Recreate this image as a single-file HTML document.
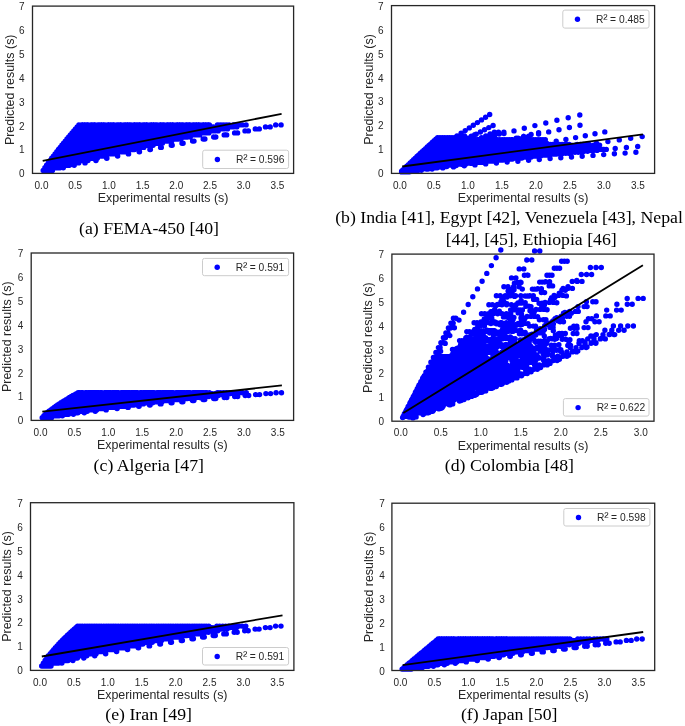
<!DOCTYPE html>
<html lang="en"><head><meta charset="utf-8"><title>Predicted vs experimental results</title>
<style>html,body{margin:0;padding:0;background:#fff}svg{display:block}</style></head>
<body>
<svg width="685" height="726" viewBox="0 0 685 726">
<rect width="685" height="726" fill="#fff"/>
<defs><filter id="n" x="0" y="0" width="100%" height="100%" filterUnits="userSpaceOnUse" color-interpolation-filters="sRGB"><feOffset dx="0" dy="0"/></filter></defs>
<g filter="url(#n)">
<g>
<path d="M43.2 170.4h0M43.3 170.4h0M43.4 170.4h0M43.5 170.4h0M43.6 170.4h0M43.7 170.4h0M43.8 170.4h0M44.0 170.4h0M44.1 170.4h0M44.2 170.4h0M44.3 170.4h0M44.4 170.4h0M44.5 170.4h0M44.6 170.4h0M44.7 170.4h0M44.8 170.4h0M44.9 170.4h0M45.0 170.4h0M45.1 170.4h0M45.2 170.4h0M45.4 170.4h0M45.5 170.4h0M45.6 170.4h0M45.7 170.4h0M45.8 170.4h0M45.9 170.4h0M46.0 170.4h0M46.1 170.4h0M46.2 170.4h0M46.3 170.4h0M46.4 170.4h0M46.5 170.4h0M46.6 170.4h0M46.8 170.4h0M46.9 170.4h0M47.0 170.4h0M47.1 170.4h0M47.2 170.4h0M47.3 170.4h0M47.4 170.4h0M47.5 170.4h0M47.6 170.4h0M47.7 170.4h0M47.8 170.4h0M47.9 170.4h0M48.1 170.4h0M48.2 170.4h0M48.3 170.4h0M48.4 170.4h0M48.5 170.4h0M48.6 170.4h0M48.7 170.4h0M48.8 170.4h0M48.9 170.4h0M49.0 170.4h0M49.1 170.4h0M49.5 170.4h0M49.6 170.4h0M49.8 170.4h0M49.9 170.4h0M50.0 170.4h0M50.2 170.4h0M50.4 170.4h0M50.5 170.4h0M50.6 170.4h0M50.8 170.4h0M52.4 170.4h0M44.9 167.8h0M45.1 167.8h0M45.3 167.8h0M45.5 167.8h0M45.8 167.8h0M46.0 167.8h0M46.2 167.8h0M46.4 167.8h0M46.6 167.8h0M46.8 167.8h0M47.1 167.8h0M47.3 167.8h0M47.5 167.8h0M47.7 167.8h0M47.9 167.8h0M48.1 167.8h0M48.3 167.8h0M48.6 167.8h0M48.8 167.8h0M49.0 167.8h0M49.2 167.8h0M49.4 167.8h0M49.6 167.8h0M49.9 167.8h0M50.1 167.8h0M50.3 167.8h0M50.5 167.8h0M50.7 167.8h0M50.9 167.8h0M51.2 167.8h0M51.4 167.8h0M51.6 167.8h0M51.8 167.8h0M52.0 167.8h0M52.2 167.8h0M52.4 167.8h0M52.7 167.8h0M52.9 167.8h0M53.1 167.8h0M53.3 167.8h0M53.5 167.8h0M53.7 167.8h0M54.0 167.8h0M54.2 167.8h0M54.4 167.8h0M54.6 167.8h0M54.8 167.8h0M55.0 167.8h0M55.2 167.8h0M55.5 167.8h0M55.7 167.8h0M55.9 167.8h0M56.1 167.8h0M56.3 167.8h0M56.5 167.8h0M56.8 167.8h0M57.5 167.8h0M57.7 167.8h0M58.0 167.8h0M58.3 167.8h0M58.6 167.8h0M59.0 167.8h0M59.2 167.8h0M59.5 167.8h0M59.8 167.8h0M60.1 167.8h0M63.3 167.8h0M46.6 165.3h0M46.9 165.3h0M47.2 165.3h0M47.6 165.3h0M47.9 165.3h0M48.2 165.3h0M48.5 165.3h0M48.9 165.3h0M49.2 165.3h0M49.5 165.3h0M49.8 165.3h0M50.2 165.3h0M50.5 165.3h0M50.8 165.3h0M51.1 165.3h0M51.4 165.3h0M51.8 165.3h0M52.1 165.3h0M52.4 165.3h0M52.7 165.3h0M53.1 165.3h0M53.4 165.3h0M53.7 165.3h0M54.0 165.3h0M54.4 165.3h0M54.7 165.3h0M55.0 165.3h0M55.3 165.3h0M55.7 165.3h0M56.0 165.3h0M56.3 165.3h0M56.6 165.3h0M56.9 165.3h0M57.3 165.3h0M57.6 165.3h0M57.9 165.3h0M58.2 165.3h0M58.6 165.3h0M58.9 165.3h0M59.2 165.3h0M59.5 165.3h0M59.9 165.3h0M60.2 165.3h0M60.5 165.3h0M60.8 165.3h0M61.2 165.3h0M61.5 165.3h0M61.8 165.3h0M62.1 165.3h0M62.4 165.3h0M62.8 165.3h0M63.1 165.3h0M63.4 165.3h0M63.7 165.3h0M64.1 165.3h0M64.4 165.3h0M65.5 165.3h0M65.9 165.3h0M66.3 165.3h0M66.7 165.3h0M67.1 165.3h0M67.7 165.3h0M68.1 165.3h0M68.5 165.3h0M68.9 165.3h0M69.4 165.3h0M74.2 165.3h0M48.3 162.9h0M48.7 162.9h0M49.2 162.9h0M49.6 162.9h0M50.0 162.9h0M50.5 162.9h0M50.9 162.9h0M51.3 162.9h0M51.7 162.9h0M52.2 162.9h0M52.6 162.9h0M53.0 162.9h0M53.5 162.9h0M53.9 162.9h0M54.3 162.9h0M54.8 162.9h0M55.2 162.9h0M55.6 162.9h0M56.1 162.9h0M56.5 162.9h0M56.9 162.9h0M57.4 162.9h0M57.8 162.9h0M58.2 162.9h0M58.6 162.9h0M59.1 162.9h0M59.5 162.9h0M59.9 162.9h0M60.4 162.9h0M60.8 162.9h0M61.2 162.9h0M61.7 162.9h0M62.1 162.9h0M62.5 162.9h0M63.0 162.9h0M63.4 162.9h0M63.8 162.9h0M64.3 162.9h0M64.7 162.9h0M65.1 162.9h0M65.5 162.9h0M66.0 162.9h0M66.4 162.9h0M66.8 162.9h0M67.3 162.9h0M67.7 162.9h0M68.1 162.9h0M68.6 162.9h0M69.0 162.9h0M69.4 162.9h0M69.9 162.9h0M70.3 162.9h0M70.7 162.9h0M71.2 162.9h0M71.6 162.9h0M72.0 162.9h0M73.5 162.9h0M74.0 162.9h0M74.5 162.9h0M75.1 162.9h0M75.6 162.9h0M76.4 162.9h0M77.0 162.9h0M77.5 162.9h0M78.0 162.9h0M78.7 162.9h0M85.1 162.9h0M85.0 162.9h0M50.0 160.6h0M50.5 160.6h0M51.1 160.6h0M51.6 160.6h0M52.1 160.6h0M52.7 160.6h0M53.2 160.6h0M53.8 160.6h0M54.3 160.6h0M54.8 160.6h0M55.4 160.6h0M55.9 160.6h0M56.5 160.6h0M57.0 160.6h0M57.5 160.6h0M58.1 160.6h0M58.6 160.6h0M59.2 160.6h0M59.7 160.6h0M60.2 160.6h0M60.8 160.6h0M61.3 160.6h0M61.9 160.6h0M62.4 160.6h0M62.9 160.6h0M63.5 160.6h0M64.0 160.6h0M64.6 160.6h0M65.1 160.6h0M65.6 160.6h0M66.2 160.6h0M66.7 160.6h0M67.2 160.6h0M67.8 160.6h0M68.3 160.6h0M68.9 160.6h0M69.4 160.6h0M69.9 160.6h0M70.5 160.6h0M71.0 160.6h0M71.6 160.6h0M72.1 160.6h0M72.6 160.6h0M73.2 160.6h0M73.7 160.6h0M74.3 160.6h0M74.8 160.6h0M75.3 160.6h0M75.9 160.6h0M76.4 160.6h0M77.0 160.6h0M77.5 160.6h0M78.0 160.6h0M78.6 160.6h0M79.1 160.6h0M79.6 160.6h0M81.5 160.6h0M82.1 160.6h0M82.8 160.6h0M83.5 160.6h0M84.1 160.6h0M85.1 160.6h0M85.8 160.6h0M86.5 160.6h0M87.2 160.6h0M88.0 160.6h0M96.0 160.6h0M95.9 160.6h0M51.7 158.3h0M52.3 158.3h0M53.0 158.3h0M53.6 158.3h0M54.3 158.3h0M54.9 158.3h0M55.6 158.3h0M56.2 158.3h0M56.9 158.3h0M57.5 158.3h0M58.2 158.3h0M58.8 158.3h0M59.5 158.3h0M60.1 158.3h0M60.7 158.3h0M61.4 158.3h0M62.0 158.3h0M62.7 158.3h0M63.3 158.3h0M64.0 158.3h0M64.6 158.3h0M65.3 158.3h0M65.9 158.3h0M66.6 158.3h0M67.2 158.3h0M67.9 158.3h0M68.5 158.3h0M69.2 158.3h0M69.8 158.3h0M70.5 158.3h0M71.1 158.3h0M71.7 158.3h0M72.4 158.3h0M73.0 158.3h0M73.7 158.3h0M74.3 158.3h0M75.0 158.3h0M75.6 158.3h0M76.3 158.3h0M76.9 158.3h0M77.6 158.3h0M78.2 158.3h0M78.9 158.3h0M79.5 158.3h0M80.2 158.3h0M80.8 158.3h0M81.5 158.3h0M82.1 158.3h0M82.7 158.3h0M83.4 158.3h0M84.0 158.3h0M84.7 158.3h0M85.3 158.3h0M86.0 158.3h0M86.6 158.3h0M87.3 158.3h0M89.5 158.3h0M90.2 158.3h0M91.0 158.3h0M91.8 158.3h0M92.7 158.3h0M93.9 158.3h0M94.7 158.3h0M95.5 158.3h0M96.3 158.3h0M97.3 158.3h0M106.9 158.3h0M106.7 158.3h0M53.4 156.1h0M54.1 156.1h0M54.9 156.1h0M55.7 156.1h0M56.4 156.1h0M57.2 156.1h0M57.9 156.1h0M58.7 156.1h0M59.4 156.1h0M60.2 156.1h0M60.9 156.1h0M61.7 156.1h0M62.4 156.1h0M63.2 156.1h0M64.0 156.1h0M64.7 156.1h0M65.5 156.1h0M66.2 156.1h0M67.0 156.1h0M67.7 156.1h0M68.5 156.1h0M69.2 156.1h0M70.0 156.1h0M70.8 156.1h0M71.5 156.1h0M72.3 156.1h0M73.0 156.1h0M73.8 156.1h0M74.5 156.1h0M75.3 156.1h0M76.0 156.1h0M76.8 156.1h0M77.5 156.1h0M78.3 156.1h0M79.1 156.1h0M79.8 156.1h0M80.6 156.1h0M81.3 156.1h0M82.1 156.1h0M82.8 156.1h0M83.6 156.1h0M84.3 156.1h0M85.1 156.1h0M85.8 156.1h0M86.6 156.1h0M87.4 156.1h0M88.1 156.1h0M88.9 156.1h0M89.6 156.1h0M90.4 156.1h0M91.1 156.1h0M91.9 156.1h0M92.6 156.1h0M93.4 156.1h0M94.2 156.1h0M94.9 156.1h0M97.5 156.1h0M98.4 156.1h0M99.3 156.1h0M100.2 156.1h0M101.2 156.1h0M102.6 156.1h0M103.5 156.1h0M104.5 156.1h0M105.4 156.1h0M106.6 156.1h0M117.7 156.1h0M117.6 156.1h0M55.1 153.9h0M56.0 153.9h0M56.8 153.9h0M57.7 153.9h0M58.5 153.9h0M59.4 153.9h0M60.3 153.9h0M61.1 153.9h0M62.0 153.9h0M62.9 153.9h0M63.7 153.9h0M64.6 153.9h0M65.4 153.9h0M66.3 153.9h0M67.2 153.9h0M68.0 153.9h0M68.9 153.9h0M69.8 153.9h0M70.6 153.9h0M71.5 153.9h0M72.3 153.9h0M73.2 153.9h0M74.1 153.9h0M74.9 153.9h0M75.8 153.9h0M76.7 153.9h0M77.5 153.9h0M78.4 153.9h0M79.2 153.9h0M80.1 153.9h0M81.0 153.9h0M81.8 153.9h0M82.7 153.9h0M83.6 153.9h0M84.4 153.9h0M85.3 153.9h0M86.1 153.9h0M87.0 153.9h0M87.9 153.9h0M88.7 153.9h0M89.6 153.9h0M90.5 153.9h0M91.3 153.9h0M92.2 153.9h0M93.0 153.9h0M93.9 153.9h0M94.8 153.9h0M95.6 153.9h0M96.5 153.9h0M97.4 153.9h0M98.2 153.9h0M99.1 153.9h0M99.9 153.9h0M100.8 153.9h0M101.7 153.9h0M102.5 153.9h0M105.4 153.9h0M106.5 153.9h0M107.6 153.9h0M108.6 153.9h0M109.7 153.9h0M111.3 153.9h0M112.4 153.9h0M113.5 153.9h0M114.6 153.9h0M115.9 153.9h0M128.6 153.9h0M128.4 153.9h0M56.8 151.7h0M57.8 151.7h0M58.7 151.7h0M59.7 151.7h0M60.7 151.7h0M61.6 151.7h0M62.6 151.7h0M63.6 151.7h0M64.6 151.7h0M65.5 151.7h0M66.5 151.7h0M67.5 151.7h0M68.4 151.7h0M69.4 151.7h0M70.4 151.7h0M71.3 151.7h0M72.3 151.7h0M73.3 151.7h0M74.3 151.7h0M75.2 151.7h0M76.2 151.7h0M77.2 151.7h0M78.1 151.7h0M79.1 151.7h0M80.1 151.7h0M81.1 151.7h0M82.0 151.7h0M83.0 151.7h0M84.0 151.7h0M84.9 151.7h0M85.9 151.7h0M86.9 151.7h0M87.8 151.7h0M88.8 151.7h0M89.8 151.7h0M90.8 151.7h0M91.7 151.7h0M92.7 151.7h0M93.7 151.7h0M94.6 151.7h0M95.6 151.7h0M96.6 151.7h0M97.5 151.7h0M98.5 151.7h0M99.5 151.7h0M100.5 151.7h0M101.4 151.7h0M102.4 151.7h0M103.4 151.7h0M104.3 151.7h0M105.3 151.7h0M106.3 151.7h0M107.3 151.7h0M108.2 151.7h0M109.2 151.7h0M110.2 151.7h0M113.4 151.7h0M114.6 151.7h0M115.8 151.7h0M117.0 151.7h0M118.2 151.7h0M120.1 151.7h0M121.3 151.7h0M122.5 151.7h0M123.7 151.7h0M125.2 151.7h0M139.5 151.7h0M139.2 151.7h0M58.5 149.5h0M59.6 149.5h0M60.6 149.5h0M61.7 149.5h0M62.8 149.5h0M63.9 149.5h0M65.0 149.5h0M66.0 149.5h0M67.1 149.5h0M68.2 149.5h0M69.3 149.5h0M70.3 149.5h0M71.4 149.5h0M72.5 149.5h0M73.6 149.5h0M74.7 149.5h0M75.7 149.5h0M76.8 149.5h0M77.9 149.5h0M79.0 149.5h0M80.1 149.5h0M81.1 149.5h0M82.2 149.5h0M83.3 149.5h0M84.4 149.5h0M85.4 149.5h0M86.5 149.5h0M87.6 149.5h0M88.7 149.5h0M89.8 149.5h0M90.8 149.5h0M91.9 149.5h0M93.0 149.5h0M94.1 149.5h0M95.2 149.5h0M96.2 149.5h0M97.3 149.5h0M98.4 149.5h0M99.5 149.5h0M100.5 149.5h0M101.6 149.5h0M102.7 149.5h0M103.8 149.5h0M104.9 149.5h0M105.9 149.5h0M107.0 149.5h0M108.1 149.5h0M109.2 149.5h0M110.2 149.5h0M111.3 149.5h0M112.4 149.5h0M113.5 149.5h0M114.6 149.5h0M115.6 149.5h0M116.7 149.5h0M117.8 149.5h0M121.4 149.5h0M122.7 149.5h0M124.1 149.5h0M125.4 149.5h0M126.8 149.5h0M128.8 149.5h0M130.1 149.5h0M131.5 149.5h0M132.8 149.5h0M134.5 149.5h0M150.4 149.5h0M149.9 149.5h0M60.2 147.4h0M61.4 147.4h0M62.6 147.4h0M63.7 147.4h0M64.9 147.4h0M66.1 147.4h0M67.3 147.4h0M68.5 147.4h0M69.7 147.4h0M70.9 147.4h0M72.0 147.4h0M73.2 147.4h0M74.4 147.4h0M75.6 147.4h0M76.8 147.4h0M78.0 147.4h0M79.2 147.4h0M80.3 147.4h0M81.5 147.4h0M82.7 147.4h0M83.9 147.4h0M85.1 147.4h0M86.3 147.4h0M87.5 147.4h0M88.7 147.4h0M89.8 147.4h0M91.0 147.4h0M92.2 147.4h0M93.4 147.4h0M94.6 147.4h0M95.8 147.4h0M97.0 147.4h0M98.1 147.4h0M99.3 147.4h0M100.5 147.4h0M101.7 147.4h0M102.9 147.4h0M104.1 147.4h0M105.3 147.4h0M106.4 147.4h0M107.6 147.4h0M108.8 147.4h0M110.0 147.4h0M111.2 147.4h0M112.4 147.4h0M113.6 147.4h0M114.8 147.4h0M115.9 147.4h0M117.1 147.4h0M118.3 147.4h0M119.5 147.4h0M120.7 147.4h0M121.9 147.4h0M123.1 147.4h0M124.2 147.4h0M125.4 147.4h0M129.4 147.4h0M130.8 147.4h0M132.3 147.4h0M133.8 147.4h0M135.3 147.4h0M137.5 147.4h0M139.0 147.4h0M140.5 147.4h0M142.0 147.4h0M143.8 147.4h0M161.3 147.4h0M160.6 147.4h0M61.9 145.3h0M63.2 145.3h0M64.5 145.3h0M65.8 145.3h0M67.1 145.3h0M68.4 145.3h0M69.6 145.3h0M70.9 145.3h0M72.2 145.3h0M73.5 145.3h0M74.8 145.3h0M76.1 145.3h0M77.4 145.3h0M78.7 145.3h0M80.0 145.3h0M81.3 145.3h0M82.6 145.3h0M83.9 145.3h0M85.2 145.3h0M86.5 145.3h0M87.8 145.3h0M89.1 145.3h0M90.4 145.3h0M91.6 145.3h0M92.9 145.3h0M94.2 145.3h0M95.5 145.3h0M96.8 145.3h0M98.1 145.3h0M99.4 145.3h0M100.7 145.3h0M102.0 145.3h0M103.3 145.3h0M104.6 145.3h0M105.9 145.3h0M107.2 145.3h0M108.5 145.3h0M109.8 145.3h0M111.1 145.3h0M112.4 145.3h0M113.6 145.3h0M114.9 145.3h0M116.2 145.3h0M117.5 145.3h0M118.8 145.3h0M120.1 145.3h0M121.4 145.3h0M122.7 145.3h0M124.0 145.3h0M125.3 145.3h0M126.6 145.3h0M127.9 145.3h0M129.2 145.3h0M130.5 145.3h0M131.8 145.3h0M133.1 145.3h0M137.4 145.3h0M139.0 145.3h0M140.6 145.3h0M142.2 145.3h0M143.8 145.3h0M146.2 145.3h0M147.9 145.3h0M149.5 145.3h0M151.1 145.3h0M153.1 145.3h0M172.2 145.3h0M171.3 145.3h0M63.6 143.2h0M65.0 143.2h0M66.4 143.2h0M67.8 143.2h0M69.2 143.2h0M70.6 143.2h0M72.0 143.2h0M73.4 143.2h0M74.8 143.2h0M76.2 143.2h0M77.6 143.2h0M79.0 143.2h0M80.4 143.2h0M81.8 143.2h0M83.2 143.2h0M84.6 143.2h0M86.0 143.2h0M87.4 143.2h0M88.8 143.2h0M90.2 143.2h0M91.6 143.2h0M93.0 143.2h0M94.4 143.2h0M95.8 143.2h0M97.2 143.2h0M98.6 143.2h0M100.0 143.2h0M101.4 143.2h0M102.8 143.2h0M104.2 143.2h0M105.6 143.2h0M107.0 143.2h0M108.4 143.2h0M109.8 143.2h0M111.2 143.2h0M112.6 143.2h0M114.0 143.2h0M115.5 143.2h0M116.9 143.2h0M118.3 143.2h0M119.7 143.2h0M121.1 143.2h0M122.5 143.2h0M123.9 143.2h0M125.3 143.2h0M126.7 143.2h0M128.1 143.2h0M129.5 143.2h0M130.9 143.2h0M132.3 143.2h0M133.7 143.2h0M135.1 143.2h0M136.5 143.2h0M137.9 143.2h0M139.3 143.2h0M140.7 143.2h0M145.4 143.2h0M147.1 143.2h0M148.8 143.2h0M150.6 143.2h0M152.3 143.2h0M155.0 143.2h0M156.7 143.2h0M158.5 143.2h0M160.2 143.2h0M162.4 143.2h0M183.1 143.2h0M182.0 143.2h0M65.3 141.1h0M66.8 141.1h0M68.3 141.1h0M69.8 141.1h0M71.3 141.1h0M72.8 141.1h0M74.3 141.1h0M75.8 141.1h0M77.4 141.1h0M78.9 141.1h0M80.4 141.1h0M81.9 141.1h0M83.4 141.1h0M84.9 141.1h0M86.4 141.1h0M87.9 141.1h0M89.4 141.1h0M90.9 141.1h0M92.5 141.1h0M94.0 141.1h0M95.5 141.1h0M97.0 141.1h0M98.5 141.1h0M100.0 141.1h0M101.5 141.1h0M103.0 141.1h0M104.5 141.1h0M106.0 141.1h0M107.6 141.1h0M109.1 141.1h0M110.6 141.1h0M112.1 141.1h0M113.6 141.1h0M115.1 141.1h0M116.6 141.1h0M118.1 141.1h0M119.6 141.1h0M121.1 141.1h0M122.6 141.1h0M124.2 141.1h0M125.7 141.1h0M127.2 141.1h0M128.7 141.1h0M130.2 141.1h0M131.7 141.1h0M133.2 141.1h0M134.7 141.1h0M136.2 141.1h0M137.7 141.1h0M139.3 141.1h0M140.8 141.1h0M142.3 141.1h0M143.8 141.1h0M145.3 141.1h0M146.8 141.1h0M148.3 141.1h0M153.4 141.1h0M155.2 141.1h0M157.1 141.1h0M159.0 141.1h0M160.9 141.1h0M163.7 141.1h0M165.6 141.1h0M167.5 141.1h0M169.4 141.1h0M171.7 141.1h0M194.0 141.1h0M192.6 141.1h0M67.0 139.0h0M68.6 139.0h0M70.2 139.0h0M71.8 139.0h0M73.4 139.0h0M75.1 139.0h0M76.7 139.0h0M78.3 139.0h0M79.9 139.0h0M81.5 139.0h0M83.2 139.0h0M84.8 139.0h0M86.4 139.0h0M88.0 139.0h0M89.6 139.0h0M91.2 139.0h0M92.9 139.0h0M94.5 139.0h0M96.1 139.0h0M97.7 139.0h0M99.3 139.0h0M100.9 139.0h0M102.6 139.0h0M104.2 139.0h0M105.8 139.0h0M107.4 139.0h0M109.0 139.0h0M110.7 139.0h0M112.3 139.0h0M113.9 139.0h0M115.5 139.0h0M117.1 139.0h0M118.7 139.0h0M120.4 139.0h0M122.0 139.0h0M123.6 139.0h0M125.2 139.0h0M126.8 139.0h0M128.4 139.0h0M130.1 139.0h0M131.7 139.0h0M133.3 139.0h0M134.9 139.0h0M136.5 139.0h0M138.2 139.0h0M139.8 139.0h0M141.4 139.0h0M143.0 139.0h0M144.6 139.0h0M146.2 139.0h0M147.9 139.0h0M149.5 139.0h0M151.1 139.0h0M152.7 139.0h0M154.3 139.0h0M155.9 139.0h0M161.4 139.0h0M163.3 139.0h0M165.3 139.0h0M167.4 139.0h0M169.4 139.0h0M172.4 139.0h0M174.4 139.0h0M176.5 139.0h0M178.5 139.0h0M181.0 139.0h0M204.9 139.0h0M203.2 139.0h0M68.7 137.0h0M70.4 137.0h0M72.1 137.0h0M73.9 137.0h0M75.6 137.0h0M77.3 137.0h0M79.0 137.0h0M80.8 137.0h0M82.5 137.0h0M84.2 137.0h0M85.9 137.0h0M87.7 137.0h0M89.4 137.0h0M91.1 137.0h0M92.8 137.0h0M94.6 137.0h0M96.3 137.0h0M98.0 137.0h0M99.7 137.0h0M101.5 137.0h0M103.2 137.0h0M104.9 137.0h0M106.6 137.0h0M108.4 137.0h0M110.1 137.0h0M111.8 137.0h0M113.5 137.0h0M115.3 137.0h0M117.0 137.0h0M118.7 137.0h0M120.4 137.0h0M122.2 137.0h0M123.9 137.0h0M125.6 137.0h0M127.3 137.0h0M129.1 137.0h0M130.8 137.0h0M132.5 137.0h0M134.2 137.0h0M136.0 137.0h0M137.7 137.0h0M139.4 137.0h0M141.1 137.0h0M142.9 137.0h0M144.6 137.0h0M146.3 137.0h0M148.0 137.0h0M149.8 137.0h0M151.5 137.0h0M153.2 137.0h0M154.9 137.0h0M156.7 137.0h0M158.4 137.0h0M160.1 137.0h0M161.8 137.0h0M163.6 137.0h0M169.4 137.0h0M171.4 137.0h0M173.6 137.0h0M175.8 137.0h0M177.9 137.0h0M181.2 137.0h0M183.3 137.0h0M185.5 137.0h0M187.6 137.0h0M190.3 137.0h0M215.8 137.0h0M213.7 137.0h0M70.4 134.9h0M72.2 134.9h0M74.0 134.9h0M75.9 134.9h0M77.7 134.9h0M79.5 134.9h0M81.4 134.9h0M83.2 134.9h0M85.0 134.9h0M86.9 134.9h0M88.7 134.9h0M90.5 134.9h0M92.4 134.9h0M94.2 134.9h0M96.0 134.9h0M97.9 134.9h0M99.7 134.9h0M101.5 134.9h0M103.4 134.9h0M105.2 134.9h0M107.0 134.9h0M108.9 134.9h0M110.7 134.9h0M112.5 134.9h0M114.4 134.9h0M116.2 134.9h0M118.0 134.9h0M119.9 134.9h0M121.7 134.9h0M123.5 134.9h0M125.4 134.9h0M127.2 134.9h0M129.0 134.9h0M130.9 134.9h0M132.7 134.9h0M134.5 134.9h0M136.4 134.9h0M138.2 134.9h0M140.0 134.9h0M141.9 134.9h0M143.7 134.9h0M145.5 134.9h0M147.4 134.9h0M149.2 134.9h0M151.0 134.9h0M152.9 134.9h0M154.7 134.9h0M156.5 134.9h0M158.4 134.9h0M160.2 134.9h0M162.0 134.9h0M163.9 134.9h0M165.7 134.9h0M167.5 134.9h0M169.4 134.9h0M171.2 134.9h0M177.4 134.9h0M179.6 134.9h0M181.9 134.9h0M184.2 134.9h0M186.4 134.9h0M189.9 134.9h0M192.2 134.9h0M194.5 134.9h0M196.8 134.9h0M199.6 134.9h0M226.7 134.9h0M224.2 134.9h0M72.1 132.9h0M74.0 132.9h0M76.0 132.9h0M77.9 132.9h0M79.8 132.9h0M81.8 132.9h0M83.7 132.9h0M85.7 132.9h0M87.6 132.9h0M89.5 132.9h0M91.5 132.9h0M93.4 132.9h0M95.4 132.9h0M97.3 132.9h0M99.2 132.9h0M101.2 132.9h0M103.1 132.9h0M105.1 132.9h0M107.0 132.9h0M109.0 132.9h0M110.9 132.9h0M112.8 132.9h0M114.8 132.9h0M116.7 132.9h0M118.7 132.9h0M120.6 132.9h0M122.5 132.9h0M124.5 132.9h0M126.4 132.9h0M128.4 132.9h0M130.3 132.9h0M132.2 132.9h0M134.2 132.9h0M136.1 132.9h0M138.1 132.9h0M140.0 132.9h0M142.0 132.9h0M143.9 132.9h0M145.8 132.9h0M147.8 132.9h0M149.7 132.9h0M151.7 132.9h0M153.6 132.9h0M155.5 132.9h0M157.5 132.9h0M159.4 132.9h0M161.4 132.9h0M163.3 132.9h0M165.2 132.9h0M167.2 132.9h0M169.1 132.9h0M171.1 132.9h0M173.0 132.9h0M175.0 132.9h0M176.9 132.9h0M178.8 132.9h0M185.4 132.9h0M187.7 132.9h0M190.1 132.9h0M192.5 132.9h0M195.0 132.9h0M198.6 132.9h0M201.0 132.9h0M203.5 132.9h0M205.9 132.9h0M208.9 132.9h0M237.6 132.9h0M234.6 132.9h0M73.8 130.9h0M75.8 130.9h0M77.9 130.9h0M79.9 130.9h0M82.0 130.9h0M84.0 130.9h0M86.1 130.9h0M88.1 130.9h0M90.2 130.9h0M92.2 130.9h0M94.3 130.9h0M96.3 130.9h0M98.4 130.9h0M100.4 130.9h0M102.5 130.9h0M104.5 130.9h0M106.6 130.9h0M108.6 130.9h0M110.7 130.9h0M112.7 130.9h0M114.8 130.9h0M116.8 130.9h0M118.8 130.9h0M120.9 130.9h0M122.9 130.9h0M125.0 130.9h0M127.0 130.9h0M129.1 130.9h0M131.1 130.9h0M133.2 130.9h0M135.2 130.9h0M137.3 130.9h0M139.3 130.9h0M141.4 130.9h0M143.4 130.9h0M145.5 130.9h0M147.5 130.9h0M149.6 130.9h0M151.6 130.9h0M153.7 130.9h0M155.7 130.9h0M157.8 130.9h0M159.8 130.9h0M161.9 130.9h0M163.9 130.9h0M166.0 130.9h0M168.0 130.9h0M170.1 130.9h0M172.1 130.9h0M174.2 130.9h0M176.2 130.9h0M178.3 130.9h0M180.3 130.9h0M182.4 130.9h0M184.4 130.9h0M186.5 130.9h0M193.4 130.9h0M195.8 130.9h0M198.4 130.9h0M200.9 130.9h0M203.5 130.9h0M207.3 130.9h0M209.9 130.9h0M212.5 130.9h0M215.0 130.9h0M218.2 130.9h0M248.4 130.9h0M245.0 130.9h0M75.5 128.9h0M77.6 128.9h0M79.8 128.9h0M81.9 128.9h0M84.1 128.9h0M86.3 128.9h0M88.4 128.9h0M90.6 128.9h0M92.7 128.9h0M94.9 128.9h0M97.0 128.9h0M99.2 128.9h0M101.4 128.9h0M103.5 128.9h0M105.7 128.9h0M107.8 128.9h0M110.0 128.9h0M112.1 128.9h0M114.3 128.9h0M116.4 128.9h0M118.6 128.9h0M120.8 128.9h0M122.9 128.9h0M125.1 128.9h0M127.2 128.9h0M129.4 128.9h0M131.5 128.9h0M133.7 128.9h0M135.9 128.9h0M138.0 128.9h0M140.2 128.9h0M142.3 128.9h0M144.5 128.9h0M146.6 128.9h0M148.8 128.9h0M151.0 128.9h0M153.1 128.9h0M155.3 128.9h0M157.4 128.9h0M159.6 128.9h0M161.7 128.9h0M163.9 128.9h0M166.1 128.9h0M168.2 128.9h0M170.4 128.9h0M172.5 128.9h0M174.7 128.9h0M176.8 128.9h0M179.0 128.9h0M181.2 128.9h0M183.3 128.9h0M185.5 128.9h0M187.6 128.9h0M189.8 128.9h0M191.9 128.9h0M194.1 128.9h0M201.4 128.9h0M203.9 128.9h0M206.6 128.9h0M209.3 128.9h0M212.0 128.9h0M216.1 128.9h0M218.8 128.9h0M221.5 128.9h0M224.2 128.9h0M227.5 128.9h0M259.3 128.9h0M255.3 128.9h0M77.2 126.9h0M79.4 126.9h0M81.7 126.9h0M84.0 126.9h0M86.2 126.9h0M88.5 126.9h0M90.8 126.9h0M93.0 126.9h0M95.3 126.9h0M97.5 126.9h0M99.8 126.9h0M102.1 126.9h0M104.3 126.9h0M106.6 126.9h0M108.9 126.9h0M111.1 126.9h0M113.4 126.9h0M115.7 126.9h0M117.9 126.9h0M120.2 126.9h0M122.5 126.9h0M124.7 126.9h0M127.0 126.9h0M129.3 126.9h0M131.5 126.9h0M133.8 126.9h0M136.0 126.9h0M138.3 126.9h0M140.6 126.9h0M142.8 126.9h0M145.1 126.9h0M147.4 126.9h0M149.6 126.9h0M151.9 126.9h0M154.2 126.9h0M156.4 126.9h0M158.7 126.9h0M161.0 126.9h0M163.2 126.9h0M165.5 126.9h0M167.8 126.9h0M170.0 126.9h0M172.3 126.9h0M174.5 126.9h0M176.8 126.9h0M179.1 126.9h0M181.3 126.9h0M183.6 126.9h0M185.9 126.9h0M188.1 126.9h0M190.4 126.9h0M192.7 126.9h0M194.9 126.9h0M197.2 126.9h0M199.5 126.9h0M201.7 126.9h0M209.4 126.9h0M212.1 126.9h0M214.9 126.9h0M217.7 126.9h0M220.5 126.9h0M224.8 126.9h0M227.6 126.9h0M230.5 126.9h0M233.3 126.9h0M236.8 126.9h0M270.2 126.9h0M265.5 126.9h0M78.9 124.9h0M81.2 124.9h0M83.6 124.9h0M86.0 124.9h0M88.4 124.9h0M90.7 124.9h0M93.1 124.9h0M95.5 124.9h0M97.8 124.9h0M100.2 124.9h0M102.6 124.9h0M105.0 124.9h0M107.3 124.9h0M109.7 124.9h0M112.1 124.9h0M114.5 124.9h0M116.8 124.9h0M119.2 124.9h0M121.6 124.9h0M123.9 124.9h0M126.3 124.9h0M128.7 124.9h0M131.1 124.9h0M133.4 124.9h0M135.8 124.9h0M138.2 124.9h0M140.6 124.9h0M142.9 124.9h0M145.3 124.9h0M147.7 124.9h0M150.0 124.9h0M152.4 124.9h0M154.8 124.9h0M157.2 124.9h0M159.5 124.9h0M161.9 124.9h0M164.3 124.9h0M166.6 124.9h0M169.0 124.9h0M171.4 124.9h0M173.8 124.9h0M176.1 124.9h0M178.5 124.9h0M180.9 124.9h0M183.3 124.9h0M185.6 124.9h0M188.0 124.9h0M190.4 124.9h0M192.7 124.9h0M195.1 124.9h0M197.5 124.9h0M199.9 124.9h0M202.2 124.9h0M204.6 124.9h0M207.0 124.9h0M209.4 124.9h0M217.4 124.9h0M220.2 124.9h0M223.1 124.9h0M226.1 124.9h0M229.1 124.9h0M233.5 124.9h0M236.5 124.9h0M239.5 124.9h0M242.4 124.9h0M246.1 124.9h0M281.1 124.9h0M275.7 124.9h0" stroke="#0000ff" stroke-width="5.4" stroke-linecap="round" fill="none"/>
<line x1="42.7" y1="160.9" x2="281.6" y2="113.8" stroke="#000" stroke-width="1.8"/>
<rect x="32.5" y="6.1" width="261.1" height="167.3" fill="none" stroke="#262626" stroke-width="1.3"/>
<text x="24.5" y="177.3" font-size="10" text-anchor="end" font-family="Liberation Sans, Arial, Helvetica, sans-serif" fill="#262626">0</text>
<text x="24.5" y="153.4" font-size="10" text-anchor="end" font-family="Liberation Sans, Arial, Helvetica, sans-serif" fill="#262626">1</text>
<text x="24.5" y="129.5" font-size="10" text-anchor="end" font-family="Liberation Sans, Arial, Helvetica, sans-serif" fill="#262626">2</text>
<text x="24.5" y="105.7" font-size="10" text-anchor="end" font-family="Liberation Sans, Arial, Helvetica, sans-serif" fill="#262626">3</text>
<text x="24.5" y="81.8" font-size="10" text-anchor="end" font-family="Liberation Sans, Arial, Helvetica, sans-serif" fill="#262626">4</text>
<text x="24.5" y="57.8" font-size="10" text-anchor="end" font-family="Liberation Sans, Arial, Helvetica, sans-serif" fill="#262626">5</text>
<text x="24.5" y="34.0" font-size="10" text-anchor="end" font-family="Liberation Sans, Arial, Helvetica, sans-serif" fill="#262626">6</text>
<text x="24.5" y="10.0" font-size="10" text-anchor="end" font-family="Liberation Sans, Arial, Helvetica, sans-serif" fill="#262626">7</text>
<text x="41.5" y="188.5" font-size="10" text-anchor="middle" font-family="Liberation Sans, Arial, Helvetica, sans-serif" fill="#262626">0.0</text>
<text x="75.2" y="188.5" font-size="10" text-anchor="middle" font-family="Liberation Sans, Arial, Helvetica, sans-serif" fill="#262626">0.5</text>
<text x="108.9" y="188.5" font-size="10" text-anchor="middle" font-family="Liberation Sans, Arial, Helvetica, sans-serif" fill="#262626">1.0</text>
<text x="142.6" y="188.5" font-size="10" text-anchor="middle" font-family="Liberation Sans, Arial, Helvetica, sans-serif" fill="#262626">1.5</text>
<text x="176.3" y="188.5" font-size="10" text-anchor="middle" font-family="Liberation Sans, Arial, Helvetica, sans-serif" fill="#262626">2.0</text>
<text x="210.0" y="188.5" font-size="10" text-anchor="middle" font-family="Liberation Sans, Arial, Helvetica, sans-serif" fill="#262626">2.5</text>
<text x="243.7" y="188.5" font-size="10" text-anchor="middle" font-family="Liberation Sans, Arial, Helvetica, sans-serif" fill="#262626">3.0</text>
<text x="277.4" y="188.5" font-size="10" text-anchor="middle" font-family="Liberation Sans, Arial, Helvetica, sans-serif" fill="#262626">3.5</text>
<text x="163.1" y="202.0" font-size="12.45" text-anchor="middle" font-family="Liberation Sans, Arial, Helvetica, sans-serif" fill="#262626">Experimental results (s)</text>
<text x="13.7" y="89.8" font-size="12.45" text-anchor="middle" font-family="Liberation Sans, Arial, Helvetica, sans-serif" fill="#262626" transform="rotate(-90 13.7 89.8)">Predicted results (s)</text>
<rect x="202.7" y="150.2" width="85.9" height="18.3" rx="2" fill="#fff" fill-opacity="0.8" stroke="#ccc" stroke-width="1"/>
<circle cx="217.4" cy="159.5" r="2.7" fill="#0000ff"/>
<text x="236.0" y="163.0" font-size="10.25" text-anchor="start" font-family="Liberation Sans, Arial, Helvetica, sans-serif" fill="#262626">R<tspan font-size="13" dy="0.4" dx="-0.2">²</tspan><tspan dy="-0.4" dx="-0.4"> = 0.596</tspan></text>
</g>
<g>
<path d="M401.6 171.5h0M403.3 169.7h0M405.0 168.0h0M406.8 166.3h0M408.5 164.7h0M410.2 163.0h0M411.9 161.4h0M413.6 159.7h0M415.3 158.1h0M417.0 156.5h0M418.7 154.9h0M420.5 153.3h0M422.2 151.7h0M423.9 150.2h0M425.6 148.6h0M427.3 147.0h0M429.0 145.4h0M430.7 143.9h0M432.5 142.3h0M434.2 140.8h0M435.9 139.2h0M437.6 137.7h0M401.6 171.6h0M403.3 170.0h0M405.0 168.3h0M406.8 166.8h0M408.5 165.2h0M410.2 163.6h0M411.9 162.1h0M413.6 160.6h0M415.3 159.0h0M417.0 157.5h0M418.7 156.0h0M420.5 154.5h0M422.2 153.0h0M423.9 151.6h0M425.6 150.1h0M427.3 148.6h0M429.0 147.1h0M430.7 145.7h0M432.5 144.2h0M434.2 142.7h0M435.9 141.3h0M437.6 139.8h0M401.6 171.7h0M403.3 170.1h0M405.0 168.6h0M406.8 167.1h0M408.5 165.6h0M410.2 164.1h0M411.9 162.7h0M413.6 161.2h0M415.3 159.8h0M417.0 158.3h0M418.7 156.9h0M420.5 155.5h0M422.2 154.1h0M423.9 152.6h0M425.6 151.2h0M427.3 149.8h0M429.0 148.4h0M430.7 147.1h0M432.5 145.7h0M434.2 144.3h0M435.9 142.9h0M437.6 141.5h0M401.6 171.9h0M403.3 170.4h0M405.0 169.0h0M406.8 167.7h0M408.5 166.3h0M410.2 165.0h0M411.9 163.6h0M413.6 162.3h0M415.3 161.0h0M417.0 159.7h0M418.7 158.4h0M420.5 157.1h0M422.2 155.8h0M423.9 154.5h0M425.6 153.2h0M427.3 152.0h0M429.0 150.7h0M430.7 149.4h0M432.5 148.2h0M434.2 146.9h0M435.9 145.6h0M437.6 144.4h0M401.6 171.2h0M403.3 169.6h0M405.0 168.1h0M408.5 165.5h0M410.2 164.2h0M411.9 163.0h0M413.6 161.9h0M415.3 160.7h0M417.0 159.6h0M418.7 158.5h0M420.5 157.5h0M422.2 156.4h0M423.9 155.4h0M425.6 154.3h0M427.3 153.3h0M429.0 152.3h0M430.7 151.4h0M432.5 150.4h0M434.2 149.4h0M435.9 148.5h0M437.6 147.5h0M401.6 171.4h0M403.3 169.9h0M406.8 167.3h0M408.5 166.1h0M411.9 163.9h0M413.6 162.8h0M415.3 161.8h0M417.0 160.8h0M418.7 159.8h0M420.5 158.8h0M422.2 157.8h0M423.9 156.9h0M425.6 155.9h0M427.3 155.0h0M429.0 154.1h0M430.7 153.2h0M432.5 152.3h0M434.2 151.4h0M435.9 150.5h0M437.6 149.7h0M403.3 170.3h0M405.0 169.1h0M406.8 168.0h0M408.5 167.0h0M410.2 165.9h0M411.9 165.0h0M413.6 164.0h0M415.3 163.1h0M417.0 162.2h0M418.7 161.3h0M420.5 160.4h0M422.2 159.6h0M423.9 158.7h0M425.6 157.9h0M427.3 157.0h0M429.0 156.2h0M430.7 155.4h0M432.5 154.6h0M434.2 153.9h0M435.9 153.1h0M437.6 152.3h0M401.7 171.5h0M403.5 169.7h0M405.4 168.0h0M407.2 166.3h0M409.0 164.7h0M410.8 163.0h0M412.7 161.4h0M414.5 159.7h0M416.3 158.1h0M418.1 156.5h0M419.9 154.9h0M421.8 153.3h0M423.6 151.7h0M425.4 150.2h0M427.2 148.6h0M429.1 147.0h0M430.9 145.4h0M432.7 143.9h0M434.5 142.3h0M436.3 140.8h0M438.2 139.2h0M440.0 137.7h0M401.7 171.6h0M403.5 170.0h0M405.4 168.3h0M407.2 166.8h0M409.0 165.2h0M410.8 163.6h0M412.7 162.1h0M414.5 160.6h0M416.3 159.0h0M418.1 157.5h0M419.9 156.0h0M421.8 154.5h0M423.6 153.0h0M425.4 151.6h0M427.2 150.1h0M429.1 148.6h0M430.9 147.1h0M432.7 145.7h0M434.5 144.2h0M436.3 142.7h0M438.2 141.3h0M440.0 139.8h0M401.7 171.7h0M403.5 170.1h0M405.4 168.6h0M407.2 167.1h0M409.0 165.6h0M410.8 164.1h0M412.7 162.7h0M414.5 161.2h0M416.3 159.8h0M418.1 158.3h0M419.9 156.9h0M421.8 155.5h0M423.6 154.1h0M425.4 152.6h0M427.2 151.2h0M429.1 149.8h0M430.9 148.4h0M432.7 147.1h0M434.5 145.7h0M436.3 144.3h0M438.2 142.9h0M440.0 141.5h0M401.7 171.9h0M403.5 170.4h0M405.4 169.0h0M407.2 167.7h0M409.0 166.3h0M410.8 165.0h0M412.7 163.6h0M414.5 162.3h0M416.3 161.0h0M418.1 159.7h0M419.9 158.4h0M421.8 157.1h0M423.6 155.8h0M425.4 154.5h0M427.2 153.2h0M429.1 152.0h0M430.9 150.7h0M432.7 149.4h0M434.5 148.2h0M436.3 146.9h0M438.2 145.6h0M440.0 144.4h0M401.7 171.2h0M403.5 169.6h0M405.4 168.1h0M409.0 165.5h0M410.8 164.2h0M412.7 163.0h0M414.5 161.9h0M416.3 160.7h0M418.1 159.6h0M419.9 158.5h0M421.8 157.5h0M423.6 156.4h0M425.4 155.4h0M427.2 154.3h0M429.1 153.3h0M430.9 152.3h0M432.7 151.4h0M434.5 150.4h0M436.3 149.4h0M438.2 148.5h0M440.0 147.5h0M401.7 171.4h0M403.5 169.9h0M407.2 167.3h0M409.0 166.1h0M412.7 163.9h0M414.5 162.8h0M416.3 161.8h0M418.1 160.8h0M419.9 159.8h0M421.8 158.8h0M423.6 157.8h0M425.4 156.9h0M427.2 155.9h0M429.1 155.0h0M430.9 154.1h0M432.7 153.2h0M434.5 152.3h0M436.3 151.4h0M438.2 150.5h0M440.0 149.7h0M403.5 170.3h0M405.4 169.1h0M407.2 168.0h0M409.0 167.0h0M410.8 165.9h0M412.7 165.0h0M414.5 164.0h0M416.3 163.1h0M418.1 162.2h0M419.9 161.3h0M421.8 160.4h0M423.6 159.6h0M425.4 158.7h0M427.2 157.9h0M429.1 157.0h0M430.9 156.2h0M432.7 155.4h0M434.5 154.6h0M436.3 153.9h0M438.2 153.1h0M440.0 152.3h0M401.8 171.5h0M403.8 169.7h0M405.7 168.0h0M407.6 166.3h0M409.6 164.7h0M411.5 163.0h0M413.4 161.4h0M415.3 159.7h0M417.3 158.1h0M419.2 156.5h0M421.1 154.9h0M423.1 153.3h0M425.0 151.7h0M426.9 150.2h0M428.9 148.6h0M430.8 147.0h0M432.7 145.4h0M434.7 143.9h0M436.6 142.3h0M438.5 140.8h0M440.5 139.2h0M442.4 137.7h0M401.8 171.6h0M403.8 170.0h0M405.7 168.3h0M407.6 166.8h0M409.6 165.2h0M411.5 163.6h0M413.4 162.1h0M415.3 160.6h0M417.3 159.0h0M419.2 157.5h0M421.1 156.0h0M423.1 154.5h0M425.0 153.0h0M426.9 151.6h0M428.9 150.1h0M430.8 148.6h0M434.7 145.7h0M436.6 144.2h0M438.5 142.7h0M440.5 141.3h0M442.4 139.8h0M401.8 171.7h0M403.8 170.1h0M405.7 168.6h0M407.6 167.1h0M409.6 165.6h0M411.5 164.1h0M413.4 162.7h0M415.3 161.2h0M417.3 159.8h0M419.2 158.3h0M421.1 156.9h0M423.1 155.5h0M425.0 154.1h0M426.9 152.6h0M428.9 151.2h0M430.8 149.8h0M432.7 148.4h0M434.7 147.1h0M436.6 145.7h0M438.5 144.3h0M440.5 142.9h0M442.4 141.5h0M401.8 171.9h0M403.8 170.4h0M405.7 169.0h0M407.6 167.7h0M409.6 166.3h0M411.5 165.0h0M413.4 163.6h0M415.3 162.3h0M417.3 161.0h0M419.2 159.7h0M421.1 158.4h0M423.1 157.1h0M425.0 155.8h0M426.9 154.5h0M428.9 153.2h0M430.8 152.0h0M432.7 150.7h0M434.7 149.4h0M436.6 148.2h0M438.5 146.9h0M440.5 145.6h0M442.4 144.4h0M401.8 171.2h0M403.8 169.6h0M405.7 168.1h0M409.6 165.5h0M411.5 164.2h0M413.4 163.0h0M415.3 161.9h0M417.3 160.7h0M419.2 159.6h0M421.1 158.5h0M423.1 157.5h0M425.0 156.4h0M426.9 155.4h0M428.9 154.3h0M430.8 153.3h0M432.7 152.3h0M434.7 151.4h0M436.6 150.4h0M438.5 149.4h0M440.5 148.5h0M442.4 147.5h0M401.8 171.4h0M403.8 169.9h0M407.6 167.3h0M409.6 166.1h0M413.4 163.9h0M415.3 162.8h0M417.3 161.8h0M419.2 160.8h0M421.1 159.8h0M423.1 158.8h0M425.0 157.8h0M426.9 156.9h0M428.9 155.9h0M430.8 155.0h0M432.7 154.1h0M434.7 153.2h0M436.6 152.3h0M438.5 151.4h0M440.5 150.5h0M442.4 149.7h0M403.8 170.3h0M405.7 169.1h0M407.6 168.0h0M409.6 167.0h0M411.5 165.9h0M413.4 165.0h0M415.3 164.0h0M417.3 163.1h0M419.2 162.2h0M421.1 161.3h0M423.1 160.4h0M425.0 159.6h0M426.9 158.7h0M428.9 157.9h0M430.8 157.0h0M432.7 156.2h0M434.7 155.4h0M436.6 154.6h0M438.5 153.9h0M440.5 153.1h0M442.4 152.3h0M401.9 171.5h0M404.0 169.7h0M406.0 168.0h0M408.1 166.3h0M410.1 164.7h0M412.1 163.0h0M414.2 161.4h0M416.2 159.7h0M418.3 158.1h0M420.3 156.5h0M422.3 154.9h0M424.4 153.3h0M426.4 151.7h0M428.5 150.2h0M430.5 148.6h0M432.5 147.0h0M434.6 145.4h0M436.6 143.9h0M438.7 142.3h0M440.7 140.8h0M442.7 139.2h0M444.8 137.7h0M401.9 171.6h0M404.0 170.0h0M406.0 168.3h0M408.1 166.8h0M410.1 165.2h0M412.1 163.6h0M414.2 162.1h0M416.2 160.6h0M418.3 159.0h0M420.3 157.5h0M422.3 156.0h0M424.4 154.5h0M426.4 153.0h0M428.5 151.6h0M430.5 150.1h0M432.5 148.6h0M434.6 147.1h0M438.7 144.2h0M440.7 142.7h0M442.7 141.3h0M444.8 139.8h0M401.9 171.7h0M404.0 170.1h0M406.0 168.6h0M408.1 167.1h0M410.1 165.6h0M412.1 164.1h0M414.2 162.7h0M416.2 161.2h0M418.3 159.8h0M420.3 158.3h0M422.3 156.9h0M424.4 155.5h0M426.4 154.1h0M428.5 152.6h0M430.5 151.2h0M432.5 149.8h0M434.6 148.4h0M436.6 147.1h0M438.7 145.7h0M440.7 144.3h0M442.7 142.9h0M444.8 141.5h0M401.9 171.9h0M404.0 170.4h0M406.0 169.0h0M408.1 167.7h0M410.1 166.3h0M412.1 165.0h0M414.2 163.6h0M416.2 162.3h0M418.3 161.0h0M420.3 159.7h0M422.3 158.4h0M424.4 157.1h0M426.4 155.8h0M428.5 154.5h0M430.5 153.2h0M432.5 152.0h0M434.6 150.7h0M436.6 149.4h0M438.7 148.2h0M440.7 146.9h0M442.7 145.6h0M444.8 144.4h0M401.9 171.2h0M404.0 169.6h0M406.0 168.1h0M410.1 165.5h0M412.1 164.2h0M414.2 163.0h0M416.2 161.9h0M418.3 160.7h0M420.3 159.6h0M422.3 158.5h0M424.4 157.5h0M426.4 156.4h0M428.5 155.4h0M430.5 154.3h0M432.5 153.3h0M434.6 152.3h0M436.6 151.4h0M438.7 150.4h0M440.7 149.4h0M442.7 148.5h0M444.8 147.5h0M401.9 171.4h0M404.0 169.9h0M408.1 167.3h0M410.1 166.1h0M414.2 163.9h0M416.2 162.8h0M418.3 161.8h0M420.3 160.8h0M422.3 159.8h0M424.4 158.8h0M426.4 157.8h0M428.5 156.9h0M430.5 155.9h0M432.5 155.0h0M434.6 154.1h0M436.6 153.2h0M438.7 152.3h0M440.7 151.4h0M442.7 150.5h0M444.8 149.7h0M404.0 170.3h0M406.0 169.1h0M408.1 168.0h0M410.1 167.0h0M412.1 165.9h0M414.2 165.0h0M416.2 164.0h0M418.3 163.1h0M420.3 162.2h0M422.3 161.3h0M424.4 160.4h0M426.4 159.6h0M428.5 158.7h0M430.5 157.9h0M432.5 157.0h0M434.6 156.2h0M436.6 155.4h0M438.7 154.6h0M440.7 153.9h0M442.7 153.1h0M444.8 152.3h0M402.0 171.5h0M404.2 169.7h0M406.3 168.0h0M410.6 164.7h0M412.8 163.0h0M414.9 161.4h0M417.1 159.7h0M419.2 158.1h0M421.4 156.5h0M423.5 154.9h0M425.7 153.3h0M427.8 151.7h0M430.0 150.2h0M432.1 148.6h0M434.3 147.0h0M436.4 145.4h0M438.6 143.9h0M440.7 142.3h0M442.9 140.8h0M445.0 139.2h0M447.2 137.7h0M402.0 171.6h0M404.2 170.0h0M406.3 168.3h0M408.5 166.8h0M410.6 165.2h0M412.8 163.6h0M414.9 162.1h0M417.1 160.6h0M419.2 159.0h0M421.4 157.5h0M423.5 156.0h0M425.7 154.5h0M427.8 153.0h0M430.0 151.6h0M432.1 150.1h0M434.3 148.6h0M436.4 147.1h0M438.6 145.7h0M440.7 144.2h0M442.9 142.7h0M445.0 141.3h0M447.2 139.8h0M402.0 171.7h0M404.2 170.1h0M406.3 168.6h0M408.5 167.1h0M410.6 165.6h0M412.8 164.1h0M414.9 162.7h0M417.1 161.2h0M419.2 159.8h0M421.4 158.3h0M423.5 156.9h0M425.7 155.5h0M427.8 154.1h0M430.0 152.6h0M432.1 151.2h0M434.3 149.8h0M436.4 148.4h0M438.6 147.1h0M440.7 145.7h0M442.9 144.3h0M445.0 142.9h0M447.2 141.5h0M402.0 171.9h0M404.2 170.4h0M406.3 169.0h0M408.5 167.7h0M410.6 166.3h0M412.8 165.0h0M414.9 163.6h0M417.1 162.3h0M419.2 161.0h0M421.4 159.7h0M423.5 158.4h0M425.7 157.1h0M427.8 155.8h0M430.0 154.5h0M432.1 153.2h0M434.3 152.0h0M436.4 150.7h0M438.6 149.4h0M440.7 148.2h0M442.9 146.9h0M445.0 145.6h0M447.2 144.4h0M402.0 171.2h0M404.2 169.6h0M406.3 168.1h0M410.6 165.5h0M412.8 164.2h0M414.9 163.0h0M417.1 161.9h0M419.2 160.7h0M421.4 159.6h0M423.5 158.5h0M425.7 157.5h0M427.8 156.4h0M430.0 155.4h0M432.1 154.3h0M434.3 153.3h0M436.4 152.3h0M438.6 151.4h0M440.7 150.4h0M442.9 149.4h0M445.0 148.5h0M447.2 147.5h0M402.0 171.4h0M404.2 169.9h0M408.5 167.3h0M410.6 166.1h0M414.9 163.9h0M417.1 162.8h0M419.2 161.8h0M421.4 160.8h0M423.5 159.8h0M425.7 158.8h0M427.8 157.8h0M430.0 156.9h0M432.1 155.9h0M434.3 155.0h0M436.4 154.1h0M438.6 153.2h0M440.7 152.3h0M442.9 151.4h0M445.0 150.5h0M447.2 149.7h0M404.2 170.3h0M406.3 169.1h0M408.5 168.0h0M410.6 167.0h0M412.8 165.9h0M414.9 165.0h0M417.1 164.0h0M419.2 163.1h0M421.4 162.2h0M423.5 161.3h0M425.7 160.4h0M427.8 159.6h0M430.0 158.7h0M432.1 157.9h0M434.3 157.0h0M436.4 156.2h0M438.6 155.4h0M440.7 154.6h0M442.9 153.9h0M445.0 153.1h0M447.2 152.3h0M402.2 171.5h0M404.4 169.7h0M406.7 168.0h0M408.9 166.3h0M411.2 164.7h0M415.7 161.4h0M418.0 159.7h0M420.2 158.1h0M422.5 156.5h0M424.7 154.9h0M427.0 153.3h0M429.2 151.7h0M431.5 150.2h0M433.8 148.6h0M436.0 147.0h0M438.3 145.4h0M440.5 143.9h0M442.8 142.3h0M445.1 140.8h0M447.3 139.2h0M449.6 137.7h0M402.2 171.6h0M404.4 170.0h0M406.7 168.3h0M408.9 166.8h0M411.2 165.2h0M415.7 162.1h0M418.0 160.6h0M420.2 159.0h0M422.5 157.5h0M424.7 156.0h0M427.0 154.5h0M429.2 153.0h0M431.5 151.6h0M433.8 150.1h0M436.0 148.6h0M438.3 147.1h0M440.5 145.7h0M442.8 144.2h0M445.1 142.7h0M447.3 141.3h0M449.6 139.8h0M402.2 171.7h0M404.4 170.1h0M406.7 168.6h0M408.9 167.1h0M411.2 165.6h0M413.4 164.1h0M415.7 162.7h0M418.0 161.2h0M420.2 159.8h0M422.5 158.3h0M424.7 156.9h0M427.0 155.5h0M429.2 154.1h0M431.5 152.6h0M433.8 151.2h0M436.0 149.8h0M438.3 148.4h0M440.5 147.1h0M442.8 145.7h0M445.1 144.3h0M447.3 142.9h0M449.6 141.5h0M402.2 171.9h0M404.4 170.4h0M406.7 169.0h0M408.9 167.7h0M411.2 166.3h0M415.7 163.6h0M418.0 162.3h0M420.2 161.0h0M422.5 159.7h0M424.7 158.4h0M427.0 157.1h0M429.2 155.8h0M431.5 154.5h0M433.8 153.2h0M436.0 152.0h0M438.3 150.7h0M440.5 149.4h0M442.8 148.2h0M445.1 146.9h0M447.3 145.6h0M449.6 144.4h0M402.2 171.2h0M404.4 169.6h0M406.7 168.1h0M411.2 165.5h0M413.4 164.2h0M415.7 163.0h0M418.0 161.9h0M420.2 160.7h0M422.5 159.6h0M424.7 158.5h0M427.0 157.5h0M429.2 156.4h0M431.5 155.4h0M433.8 154.3h0M436.0 153.3h0M438.3 152.3h0M440.5 151.4h0M442.8 150.4h0M445.1 149.4h0M447.3 148.5h0M449.6 147.5h0M402.2 171.4h0M404.4 169.9h0M408.9 167.3h0M411.2 166.1h0M415.7 163.9h0M418.0 162.8h0M420.2 161.8h0M422.5 160.8h0M424.7 159.8h0M427.0 158.8h0M429.2 157.8h0M431.5 156.9h0M433.8 155.9h0M436.0 155.0h0M438.3 154.1h0M440.5 153.2h0M442.8 152.3h0M445.1 151.4h0M447.3 150.5h0M449.6 149.7h0M404.4 170.3h0M406.7 169.1h0M408.9 168.0h0M411.2 167.0h0M413.4 165.9h0M415.7 165.0h0M418.0 164.0h0M420.2 163.1h0M422.5 162.2h0M424.7 161.3h0M427.0 160.4h0M429.2 159.6h0M431.5 158.7h0M433.8 157.9h0M436.0 157.0h0M438.3 156.2h0M440.5 155.4h0M442.8 154.6h0M445.1 153.9h0M447.3 153.1h0M449.6 152.3h0M402.3 171.5h0M404.6 169.7h0M407.0 168.0h0M409.4 166.3h0M411.7 164.7h0M414.1 163.0h0M416.5 161.4h0M418.8 159.7h0M421.2 158.1h0M423.6 156.5h0M425.9 154.9h0M428.3 153.3h0M430.7 151.7h0M433.0 150.2h0M435.4 148.6h0M437.8 147.0h0M440.1 145.4h0M442.5 143.9h0M444.9 142.3h0M447.2 140.8h0M449.6 139.2h0M452.0 137.7h0M402.3 171.6h0M404.6 170.0h0M407.0 168.3h0M409.4 166.8h0M411.7 165.2h0M414.1 163.6h0M416.5 162.1h0M418.8 160.6h0M421.2 159.0h0M423.6 157.5h0M425.9 156.0h0M428.3 154.5h0M430.7 153.0h0M433.0 151.6h0M435.4 150.1h0M437.8 148.6h0M440.1 147.1h0M442.5 145.7h0M444.9 144.2h0M447.2 142.7h0M449.6 141.3h0M452.0 139.8h0M402.3 171.7h0M404.6 170.1h0M407.0 168.6h0M409.4 167.1h0M411.7 165.6h0M414.1 164.1h0M416.5 162.7h0M418.8 161.2h0M421.2 159.8h0M423.6 158.3h0M425.9 156.9h0M428.3 155.5h0M430.7 154.1h0M433.0 152.6h0M435.4 151.2h0M437.8 149.8h0M440.1 148.4h0M442.5 147.1h0M444.9 145.7h0M447.2 144.3h0M449.6 142.9h0M452.0 141.5h0M402.3 171.9h0M404.6 170.4h0M407.0 169.0h0M409.4 167.7h0M411.7 166.3h0M414.1 165.0h0M416.5 163.6h0M418.8 162.3h0M421.2 161.0h0M423.6 159.7h0M425.9 158.4h0M428.3 157.1h0M430.7 155.8h0M433.0 154.5h0M435.4 153.2h0M437.8 152.0h0M440.1 150.7h0M442.5 149.4h0M444.9 148.2h0M447.2 146.9h0M449.6 145.6h0M452.0 144.4h0M402.3 171.2h0M404.6 169.6h0M407.0 168.1h0M411.7 165.5h0M414.1 164.2h0M416.5 163.0h0M418.8 161.9h0M421.2 160.7h0M425.9 158.5h0M428.3 157.5h0M430.7 156.4h0M433.0 155.4h0M435.4 154.3h0M437.8 153.3h0M440.1 152.3h0M442.5 151.4h0M444.9 150.4h0M447.2 149.4h0M449.6 148.5h0M452.0 147.5h0M402.3 171.4h0M404.6 169.9h0M409.4 167.3h0M411.7 166.1h0M416.5 163.9h0M418.8 162.8h0M421.2 161.8h0M423.6 160.8h0M425.9 159.8h0M428.3 158.8h0M430.7 157.8h0M433.0 156.9h0M435.4 155.9h0M437.8 155.0h0M440.1 154.1h0M442.5 153.2h0M444.9 152.3h0M447.2 151.4h0M449.6 150.5h0M452.0 149.7h0M404.6 170.3h0M407.0 169.1h0M409.4 168.0h0M411.7 167.0h0M414.1 165.9h0M416.5 165.0h0M418.8 164.0h0M421.2 163.1h0M423.6 162.2h0M425.9 161.3h0M428.3 160.4h0M430.7 159.6h0M433.0 158.7h0M435.4 157.9h0M437.8 157.0h0M440.1 156.2h0M442.5 155.4h0M444.9 154.6h0M447.2 153.9h0M449.6 153.1h0M452.0 152.3h0M402.4 171.5h0M404.9 169.7h0M407.3 168.0h0M409.8 166.3h0M412.3 164.7h0M414.8 163.0h0M417.2 161.4h0M419.7 159.7h0M422.2 158.1h0M424.7 156.5h0M427.1 154.9h0M429.6 153.3h0M432.1 151.7h0M434.6 150.2h0M437.0 148.6h0M439.5 147.0h0M442.0 145.4h0M444.5 143.9h0M446.9 142.3h0M449.4 140.8h0M451.9 139.2h0M454.4 137.7h0M402.4 171.6h0M404.9 170.0h0M407.3 168.3h0M409.8 166.8h0M412.3 165.2h0M414.8 163.6h0M417.2 162.1h0M419.7 160.6h0M422.2 159.0h0M424.7 157.5h0M427.1 156.0h0M429.6 154.5h0M432.1 153.0h0M434.6 151.6h0M437.0 150.1h0M439.5 148.6h0M442.0 147.1h0M444.5 145.7h0M446.9 144.2h0M449.4 142.7h0M451.9 141.3h0M454.4 139.8h0M402.4 171.7h0M404.9 170.1h0M407.3 168.6h0M409.8 167.1h0M412.3 165.6h0M414.8 164.1h0M417.2 162.7h0M419.7 161.2h0M422.2 159.8h0M424.7 158.3h0M427.1 156.9h0M429.6 155.5h0M432.1 154.1h0M434.6 152.6h0M437.0 151.2h0M439.5 149.8h0M442.0 148.4h0M444.5 147.1h0M446.9 145.7h0M449.4 144.3h0M451.9 142.9h0M454.4 141.5h0M402.4 171.9h0M404.9 170.4h0M407.3 169.0h0M409.8 167.7h0M412.3 166.3h0M414.8 165.0h0M417.2 163.6h0M419.7 162.3h0M422.2 161.0h0M424.7 159.7h0M427.1 158.4h0M429.6 157.1h0M432.1 155.8h0M434.6 154.5h0M437.0 153.2h0M439.5 152.0h0M442.0 150.7h0M444.5 149.4h0M446.9 148.2h0M449.4 146.9h0M451.9 145.6h0M454.4 144.4h0M402.4 171.2h0M404.9 169.6h0M407.3 168.1h0M412.3 165.5h0M414.8 164.2h0M417.2 163.0h0M419.7 161.9h0M422.2 160.7h0M424.7 159.6h0M427.1 158.5h0M429.6 157.5h0M432.1 156.4h0M434.6 155.4h0M437.0 154.3h0M439.5 153.3h0M442.0 152.3h0M444.5 151.4h0M446.9 150.4h0M449.4 149.4h0M451.9 148.5h0M454.4 147.5h0M402.4 171.4h0M404.9 169.9h0M409.8 167.3h0M412.3 166.1h0M417.2 163.9h0M419.7 162.8h0M422.2 161.8h0M424.7 160.8h0M427.1 159.8h0M429.6 158.8h0M432.1 157.8h0M434.6 156.9h0M437.0 155.9h0M439.5 155.0h0M442.0 154.1h0M444.5 153.2h0M446.9 152.3h0M449.4 151.4h0M451.9 150.5h0M454.4 149.7h0M404.9 170.3h0M407.3 169.1h0M409.8 168.0h0M412.3 167.0h0M414.8 165.9h0M417.2 165.0h0M419.7 164.0h0M422.2 163.1h0M424.7 162.2h0M427.1 161.3h0M429.6 160.4h0M432.1 159.6h0M434.6 158.7h0M437.0 157.9h0M439.5 157.0h0M442.0 156.2h0M444.5 155.4h0M446.9 154.6h0M449.4 153.9h0M451.9 153.1h0M454.4 152.3h0M402.5 171.5h0M405.1 169.7h0M407.7 168.0h0M410.2 166.3h0M412.8 164.7h0M415.4 163.0h0M418.0 161.4h0M420.6 159.7h0M423.2 158.1h0M425.7 156.5h0M428.3 154.9h0M430.9 153.3h0M433.5 151.7h0M436.1 150.2h0M438.7 148.6h0M441.2 147.0h0M443.8 145.4h0M446.4 143.9h0M449.0 142.3h0M451.6 140.8h0M454.2 139.2h0M456.7 137.7h0M402.5 171.6h0M405.1 170.0h0M407.7 168.3h0M410.2 166.8h0M412.8 165.2h0M415.4 163.6h0M418.0 162.1h0M420.6 160.6h0M423.2 159.0h0M428.3 156.0h0M430.9 154.5h0M433.5 153.0h0M436.1 151.6h0M438.7 150.1h0M441.2 148.6h0M443.8 147.1h0M446.4 145.7h0M449.0 144.2h0M451.6 142.7h0M454.2 141.3h0M456.7 139.8h0M402.5 171.7h0M405.1 170.1h0M407.7 168.6h0M410.2 167.1h0M412.8 165.6h0M415.4 164.1h0M418.0 162.7h0M420.6 161.2h0M423.2 159.8h0M425.7 158.3h0M428.3 156.9h0M430.9 155.5h0M433.5 154.1h0M436.1 152.6h0M438.7 151.2h0M441.2 149.8h0M443.8 148.4h0M446.4 147.1h0M449.0 145.7h0M451.6 144.3h0M454.2 142.9h0M456.7 141.5h0M402.5 171.9h0M405.1 170.4h0M407.7 169.0h0M410.2 167.7h0M412.8 166.3h0M415.4 165.0h0M418.0 163.6h0M420.6 162.3h0M423.2 161.0h0M425.7 159.7h0M428.3 158.4h0M430.9 157.1h0M433.5 155.8h0M436.1 154.5h0M438.7 153.2h0M441.2 152.0h0M443.8 150.7h0M446.4 149.4h0M449.0 148.2h0M451.6 146.9h0M454.2 145.6h0M456.7 144.4h0M402.5 171.2h0M405.1 169.6h0M407.7 168.1h0M412.8 165.5h0M415.4 164.2h0M418.0 163.0h0M420.6 161.9h0M423.2 160.7h0M425.7 159.6h0M428.3 158.5h0M430.9 157.5h0M433.5 156.4h0M436.1 155.4h0M438.7 154.3h0M441.2 153.3h0M443.8 152.3h0M446.4 151.4h0M449.0 150.4h0M451.6 149.4h0M454.2 148.5h0M456.7 147.5h0M402.5 171.4h0M405.1 169.9h0M410.2 167.3h0M412.8 166.1h0M418.0 163.9h0M420.6 162.8h0M423.2 161.8h0M425.7 160.8h0M428.3 159.8h0M430.9 158.8h0M433.5 157.8h0M436.1 156.9h0M438.7 155.9h0M441.2 155.0h0M443.8 154.1h0M446.4 153.2h0M449.0 152.3h0M451.6 151.4h0M454.2 150.5h0M456.7 149.7h0M405.1 170.3h0M407.7 169.1h0M410.2 168.0h0M412.8 167.0h0M415.4 165.9h0M418.0 165.0h0M420.6 164.0h0M423.2 163.1h0M425.7 162.2h0M428.3 161.3h0M430.9 160.4h0M433.5 159.6h0M436.1 158.7h0M438.7 157.9h0M441.2 157.0h0M443.8 156.2h0M446.4 155.4h0M449.0 154.6h0M451.6 153.9h0M454.2 153.1h0M456.7 152.3h0M402.6 171.6h0M405.3 170.0h0M408.0 168.3h0M410.7 166.8h0M413.4 165.2h0M416.1 163.6h0M418.7 162.1h0M421.4 160.6h0M424.1 159.0h0M426.8 157.5h0M429.5 156.0h0M432.2 154.5h0M434.9 153.0h0M437.6 151.6h0M440.3 150.1h0M443.0 148.6h0M445.7 147.1h0M448.4 145.7h0M451.1 144.2h0M453.8 142.7h0M456.4 141.3h0M459.1 139.8h0M402.6 171.7h0M405.3 170.1h0M408.0 168.6h0M410.7 167.1h0M413.4 165.6h0M416.1 164.1h0M418.7 162.7h0M421.4 161.2h0M424.1 159.8h0M426.8 158.3h0M429.5 156.9h0M432.2 155.5h0M434.9 154.1h0M437.6 152.6h0M440.3 151.2h0M443.0 149.8h0M445.7 148.4h0M448.4 147.1h0M451.1 145.7h0M453.8 144.3h0M456.4 142.9h0M459.1 141.5h0M402.6 171.9h0M405.3 170.4h0M408.0 169.0h0M410.7 167.7h0M413.4 166.3h0M416.1 165.0h0M418.7 163.6h0M421.4 162.3h0M424.1 161.0h0M426.8 159.7h0M429.5 158.4h0M432.2 157.1h0M434.9 155.8h0M437.6 154.5h0M440.3 153.2h0M443.0 152.0h0M445.7 150.7h0M448.4 149.4h0M451.1 148.2h0M453.8 146.9h0M456.4 145.6h0M459.1 144.4h0M402.6 171.2h0M405.3 169.6h0M408.0 168.1h0M413.4 165.5h0M416.1 164.2h0M418.7 163.0h0M421.4 161.9h0M424.1 160.7h0M426.8 159.6h0M429.5 158.5h0M432.2 157.5h0M434.9 156.4h0M437.6 155.4h0M440.3 154.3h0M443.0 153.3h0M445.7 152.3h0M448.4 151.4h0M451.1 150.4h0M453.8 149.4h0M456.4 148.5h0M459.1 147.5h0M402.6 171.4h0M405.3 169.9h0M410.7 167.3h0M413.4 166.1h0M418.7 163.9h0M421.4 162.8h0M424.1 161.8h0M426.8 160.8h0M429.5 159.8h0M432.2 158.8h0M434.9 157.8h0M437.6 156.9h0M440.3 155.9h0M443.0 155.0h0M445.7 154.1h0M448.4 153.2h0M451.1 152.3h0M453.8 151.4h0M456.4 150.5h0M459.1 149.7h0M405.3 170.3h0M408.0 169.1h0M410.7 168.0h0M413.4 167.0h0M416.1 165.9h0M418.7 165.0h0M421.4 164.0h0M424.1 163.1h0M426.8 162.2h0M429.5 161.3h0M432.2 160.4h0M434.9 159.6h0M437.6 158.7h0M440.3 157.9h0M443.0 157.0h0M445.7 156.2h0M448.4 155.4h0M451.1 154.6h0M453.8 153.9h0M456.4 153.1h0M459.1 152.3h0M402.7 171.6h0M405.5 170.0h0M408.3 168.3h0M411.1 166.8h0M413.9 165.2h0M416.7 163.6h0M419.5 162.1h0M422.3 160.6h0M425.1 159.0h0M427.9 157.5h0M430.7 156.0h0M433.5 154.5h0M436.3 153.0h0M439.1 151.6h0M441.9 150.1h0M444.7 148.6h0M447.5 147.1h0M450.3 145.7h0M453.1 144.2h0M455.9 142.7h0M458.7 141.3h0M461.5 139.8h0M402.7 171.7h0M405.5 170.1h0M408.3 168.6h0M411.1 167.1h0M413.9 165.6h0M416.7 164.1h0M419.5 162.7h0M422.3 161.2h0M425.1 159.8h0M427.9 158.3h0M430.7 156.9h0M433.5 155.5h0M436.3 154.1h0M439.1 152.6h0M441.9 151.2h0M444.7 149.8h0M447.5 148.4h0M450.3 147.1h0M453.1 145.7h0M455.9 144.3h0M458.7 142.9h0M461.5 141.5h0M402.7 171.9h0M405.5 170.4h0M408.3 169.0h0M411.1 167.7h0M413.9 166.3h0M416.7 165.0h0M419.5 163.6h0M422.3 162.3h0M425.1 161.0h0M427.9 159.7h0M430.7 158.4h0M433.5 157.1h0M436.3 155.8h0M439.1 154.5h0M441.9 153.2h0M444.7 152.0h0M447.5 150.7h0M450.3 149.4h0M453.1 148.2h0M455.9 146.9h0M458.7 145.6h0M461.5 144.4h0M402.7 171.2h0M405.5 169.6h0M408.3 168.1h0M413.9 165.5h0M416.7 164.2h0M419.5 163.0h0M422.3 161.9h0M425.1 160.7h0M427.9 159.6h0M430.7 158.5h0M433.5 157.5h0M436.3 156.4h0M439.1 155.4h0M441.9 154.3h0M444.7 153.3h0M447.5 152.3h0M450.3 151.4h0M453.1 150.4h0M455.9 149.4h0M458.7 148.5h0M461.5 147.5h0M402.7 171.4h0M405.5 169.9h0M411.1 167.3h0M413.9 166.1h0M419.5 163.9h0M422.3 162.8h0M425.1 161.8h0M427.9 160.8h0M430.7 159.8h0M433.5 158.8h0M436.3 157.8h0M439.1 156.9h0M441.9 155.9h0M444.7 155.0h0M447.5 154.1h0M450.3 153.2h0M453.1 152.3h0M455.9 151.4h0M458.7 150.5h0M461.5 149.7h0M405.5 170.3h0M408.3 169.1h0M411.1 168.0h0M413.9 167.0h0M416.7 165.9h0M419.5 165.0h0M422.3 164.0h0M425.1 163.1h0M427.9 162.2h0M430.7 161.3h0M433.5 160.4h0M436.3 159.6h0M439.1 158.7h0M441.9 157.9h0M444.7 157.0h0M447.5 156.2h0M450.3 155.4h0M453.1 154.6h0M455.9 153.9h0M458.7 153.1h0M461.5 152.3h0M402.8 171.6h0M405.7 170.0h0M408.6 168.3h0M411.5 166.8h0M414.5 165.2h0M417.4 163.6h0M420.3 162.1h0M423.2 160.6h0M426.1 159.0h0M429.0 157.5h0M431.9 156.0h0M434.8 154.5h0M437.7 153.0h0M440.6 151.6h0M443.6 150.1h0M446.5 148.6h0M449.4 147.1h0M452.3 145.7h0M455.2 144.2h0M458.1 142.7h0M461.0 141.3h0M463.9 139.8h0M402.8 171.7h0M405.7 170.1h0M408.6 168.6h0M411.5 167.1h0M414.5 165.6h0M417.4 164.1h0M420.3 162.7h0M423.2 161.2h0M426.1 159.8h0M429.0 158.3h0M431.9 156.9h0M434.8 155.5h0M437.7 154.1h0M440.6 152.6h0M443.6 151.2h0M446.5 149.8h0M449.4 148.4h0M452.3 147.1h0M455.2 145.7h0M458.1 144.3h0M461.0 142.9h0M463.9 141.5h0M402.8 171.9h0M405.7 170.4h0M408.6 169.0h0M411.5 167.7h0M414.5 166.3h0M417.4 165.0h0M420.3 163.6h0M423.2 162.3h0M426.1 161.0h0M429.0 159.7h0M431.9 158.4h0M434.8 157.1h0M437.7 155.8h0M440.6 154.5h0M443.6 153.2h0M446.5 152.0h0M449.4 150.7h0M452.3 149.4h0M455.2 148.2h0M458.1 146.9h0M461.0 145.6h0M463.9 144.4h0M402.8 171.2h0M405.7 169.6h0M408.6 168.1h0M414.5 165.5h0M417.4 164.2h0M420.3 163.0h0M423.2 161.9h0M426.1 160.7h0M429.0 159.6h0M431.9 158.5h0M434.8 157.5h0M437.7 156.4h0M440.6 155.4h0M443.6 154.3h0M446.5 153.3h0M449.4 152.3h0M452.3 151.4h0M455.2 150.4h0M458.1 149.4h0M461.0 148.5h0M463.9 147.5h0M402.8 171.4h0M405.7 169.9h0M411.5 167.3h0M414.5 166.1h0M420.3 163.9h0M423.2 162.8h0M426.1 161.8h0M429.0 160.8h0M431.9 159.8h0M434.8 158.8h0M437.7 157.8h0M440.6 156.9h0M443.6 155.9h0M446.5 155.0h0M449.4 154.1h0M452.3 153.2h0M455.2 152.3h0M458.1 151.4h0M461.0 150.5h0M463.9 149.7h0M405.7 170.3h0M408.6 169.1h0M411.5 168.0h0M414.5 167.0h0M417.4 165.9h0M420.3 165.0h0M423.2 164.0h0M426.1 163.1h0M429.0 162.2h0M431.9 161.3h0M434.8 160.4h0M437.7 159.6h0M440.6 158.7h0M443.6 157.9h0M446.5 157.0h0M449.4 156.2h0M452.3 155.4h0M455.2 154.6h0M458.1 153.9h0M461.0 153.1h0M463.9 152.3h0M402.9 171.6h0M405.9 170.0h0M409.0 168.3h0M412.0 166.8h0M415.0 165.2h0M421.0 162.1h0M424.1 160.6h0M427.1 159.0h0M430.1 157.5h0M433.1 156.0h0M439.1 153.0h0M442.2 151.6h0M445.2 150.1h0M448.2 148.6h0M451.2 147.1h0M454.2 145.7h0M457.3 144.2h0M460.3 142.7h0M463.3 141.3h0M466.3 139.8h0M402.9 171.7h0M405.9 170.1h0M409.0 168.6h0M412.0 167.1h0M415.0 165.6h0M418.0 164.1h0M421.0 162.7h0M424.1 161.2h0M430.1 158.3h0M433.1 156.9h0M436.1 155.5h0M439.1 154.1h0M442.2 152.6h0M445.2 151.2h0M448.2 149.8h0M451.2 148.4h0M454.2 147.1h0M457.3 145.7h0M460.3 144.3h0M463.3 142.9h0M466.3 141.5h0M402.9 171.9h0M405.9 170.4h0M409.0 169.0h0M412.0 167.7h0M415.0 166.3h0M421.0 163.6h0M424.1 162.3h0M427.1 161.0h0M430.1 159.7h0M433.1 158.4h0M436.1 157.1h0M439.1 155.8h0M442.2 154.5h0M445.2 153.2h0M448.2 152.0h0M451.2 150.7h0M454.2 149.4h0M457.3 148.2h0M460.3 146.9h0M463.3 145.6h0M466.3 144.4h0M402.9 171.2h0M405.9 169.6h0M409.0 168.1h0M415.0 165.5h0M418.0 164.2h0M421.0 163.0h0M424.1 161.9h0M427.1 160.7h0M430.1 159.6h0M433.1 158.5h0M436.1 157.5h0M439.1 156.4h0M442.2 155.4h0M445.2 154.3h0M448.2 153.3h0M451.2 152.3h0M454.2 151.4h0M457.3 150.4h0M460.3 149.4h0M463.3 148.5h0M466.3 147.5h0M402.9 171.4h0M405.9 169.9h0M412.0 167.3h0M415.0 166.1h0M421.0 163.9h0M424.1 162.8h0M427.1 161.8h0M430.1 160.8h0M433.1 159.8h0M436.1 158.8h0M439.1 157.8h0M442.2 156.9h0M445.2 155.9h0M448.2 155.0h0M451.2 154.1h0M454.2 153.2h0M457.3 152.3h0M460.3 151.4h0M463.3 150.5h0M466.3 149.7h0M405.9 170.3h0M409.0 169.1h0M412.0 168.0h0M415.0 167.0h0M418.0 165.9h0M421.0 165.0h0M424.1 164.0h0M427.1 163.1h0M430.1 162.2h0M433.1 161.3h0M436.1 160.4h0M439.1 159.6h0M442.2 158.7h0M445.2 157.9h0M448.2 157.0h0M451.2 156.2h0M454.2 155.4h0M457.3 154.6h0M460.3 153.9h0M463.3 153.1h0M466.3 152.3h0M403.0 171.6h0M406.2 170.0h0M409.3 168.3h0M412.4 166.8h0M415.5 165.2h0M421.8 162.1h0M424.9 160.6h0M428.1 159.0h0M431.2 157.5h0M434.3 156.0h0M437.4 154.5h0M440.6 153.0h0M443.7 151.6h0M446.8 150.1h0M449.9 148.6h0M453.1 147.1h0M456.2 145.7h0M459.3 144.2h0M462.5 142.7h0M465.6 141.3h0M468.7 139.8h0M403.0 171.7h0M406.2 170.1h0M409.3 168.6h0M412.4 167.1h0M415.5 165.6h0M418.7 164.1h0M421.8 162.7h0M424.9 161.2h0M428.1 159.8h0M431.2 158.3h0M434.3 156.9h0M437.4 155.5h0M440.6 154.1h0M443.7 152.6h0M446.8 151.2h0M449.9 149.8h0M453.1 148.4h0M456.2 147.1h0M459.3 145.7h0M462.5 144.3h0M465.6 142.9h0M468.7 141.5h0M403.0 171.9h0M406.2 170.4h0M409.3 169.0h0M412.4 167.7h0M415.5 166.3h0M421.8 163.6h0M424.9 162.3h0M428.1 161.0h0M431.2 159.7h0M434.3 158.4h0M437.4 157.1h0M440.6 155.8h0M443.7 154.5h0M446.8 153.2h0M449.9 152.0h0M453.1 150.7h0M456.2 149.4h0M459.3 148.2h0M462.5 146.9h0M465.6 145.6h0M468.7 144.4h0M403.0 171.2h0M406.2 169.6h0M409.3 168.1h0M415.5 165.5h0M418.7 164.2h0M421.8 163.0h0M424.9 161.9h0M428.1 160.7h0M431.2 159.6h0M434.3 158.5h0M437.4 157.5h0M440.6 156.4h0M443.7 155.4h0M446.8 154.3h0M449.9 153.3h0M456.2 151.4h0M459.3 150.4h0M462.5 149.4h0M465.6 148.5h0M468.7 147.5h0M403.0 171.4h0M406.2 169.9h0M412.4 167.3h0M415.5 166.1h0M421.8 163.9h0M424.9 162.8h0M428.1 161.8h0M431.2 160.8h0M434.3 159.8h0M437.4 158.8h0M440.6 157.8h0M443.7 156.9h0M446.8 155.9h0M449.9 155.0h0M453.1 154.1h0M456.2 153.2h0M459.3 152.3h0M462.5 151.4h0M465.6 150.5h0M468.7 149.7h0M406.2 170.3h0M409.3 169.1h0M412.4 168.0h0M415.5 167.0h0M418.7 165.9h0M421.8 165.0h0M424.9 164.0h0M428.1 163.1h0M431.2 162.2h0M434.3 161.3h0M437.4 160.4h0M440.6 159.6h0M443.7 158.7h0M446.8 157.9h0M449.9 157.0h0M453.1 156.2h0M456.2 155.4h0M459.3 154.6h0M462.5 153.9h0M465.6 153.1h0M468.7 152.3h0M403.1 171.6h0M406.4 170.0h0M409.6 168.3h0M412.8 166.8h0M416.1 165.2h0M419.3 163.6h0M422.6 162.1h0M425.8 160.6h0M429.0 159.0h0M432.3 157.5h0M435.5 156.0h0M438.7 154.5h0M442.0 153.0h0M445.2 151.6h0M448.5 150.1h0M451.7 148.6h0M454.9 147.1h0M458.2 145.7h0M461.4 144.2h0M464.6 142.7h0M467.9 141.3h0M471.1 139.8h0M403.1 171.7h0M406.4 170.1h0M409.6 168.6h0M412.8 167.1h0M416.1 165.6h0M419.3 164.1h0M422.6 162.7h0M425.8 161.2h0M429.0 159.8h0M432.3 158.3h0M435.5 156.9h0M438.7 155.5h0M445.2 152.6h0M448.5 151.2h0M451.7 149.8h0M454.9 148.4h0M458.2 147.1h0M461.4 145.7h0M464.6 144.3h0M467.9 142.9h0M471.1 141.5h0M403.1 171.9h0M406.4 170.4h0M409.6 169.0h0M412.8 167.7h0M416.1 166.3h0M419.3 165.0h0M422.6 163.6h0M425.8 162.3h0M429.0 161.0h0M432.3 159.7h0M435.5 158.4h0M438.7 157.1h0M442.0 155.8h0M445.2 154.5h0M448.5 153.2h0M451.7 152.0h0M454.9 150.7h0M458.2 149.4h0M461.4 148.2h0M464.6 146.9h0M467.9 145.6h0M471.1 144.4h0M403.1 171.2h0M406.4 169.6h0M409.6 168.1h0M416.1 165.5h0M419.3 164.2h0M422.6 163.0h0M425.8 161.9h0M429.0 160.7h0M432.3 159.6h0M435.5 158.5h0M438.7 157.5h0M442.0 156.4h0M445.2 155.4h0M448.5 154.3h0M451.7 153.3h0M454.9 152.3h0M458.2 151.4h0M461.4 150.4h0M464.6 149.4h0M467.9 148.5h0M471.1 147.5h0M403.1 171.4h0M406.4 169.9h0M412.8 167.3h0M416.1 166.1h0M422.6 163.9h0M425.8 162.8h0M429.0 161.8h0M432.3 160.8h0M435.5 159.8h0M438.7 158.8h0M442.0 157.8h0M445.2 156.9h0M448.5 155.9h0M451.7 155.0h0M454.9 154.1h0M458.2 153.2h0M461.4 152.3h0M464.6 151.4h0M467.9 150.5h0M471.1 149.7h0M406.4 170.3h0M409.6 169.1h0M412.8 168.0h0M416.1 167.0h0M419.3 165.9h0M422.6 165.0h0M425.8 164.0h0M429.0 163.1h0M432.3 162.2h0M435.5 161.3h0M438.7 160.4h0M442.0 159.6h0M445.2 158.7h0M448.5 157.9h0M451.7 157.0h0M454.9 156.2h0M458.2 155.4h0M461.4 154.6h0M464.6 153.9h0M467.9 153.1h0M471.1 152.3h0M403.2 171.6h0M406.6 170.0h0M409.9 168.3h0M413.3 166.8h0M416.6 165.2h0M420.0 163.6h0M423.3 162.1h0M426.7 160.6h0M430.0 159.0h0M433.4 157.5h0M436.7 156.0h0M440.0 154.5h0M443.4 153.0h0M446.7 151.6h0M450.1 150.1h0M453.4 148.6h0M456.8 147.1h0M460.1 145.7h0M463.5 144.2h0M466.8 142.7h0M470.2 141.3h0M473.5 139.8h0M403.2 171.7h0M406.6 170.1h0M409.9 168.6h0M413.3 167.1h0M416.6 165.6h0M420.0 164.1h0M423.3 162.7h0M426.7 161.2h0M430.0 159.8h0M433.4 158.3h0M436.7 156.9h0M440.0 155.5h0M443.4 154.1h0M446.7 152.6h0M450.1 151.2h0M453.4 149.8h0M456.8 148.4h0M460.1 147.1h0M463.5 145.7h0M466.8 144.3h0M470.2 142.9h0M473.5 141.5h0M403.2 171.9h0M406.6 170.4h0M409.9 169.0h0M413.3 167.7h0M416.6 166.3h0M420.0 165.0h0M423.3 163.6h0M426.7 162.3h0M430.0 161.0h0M433.4 159.7h0M436.7 158.4h0M440.0 157.1h0M443.4 155.8h0M446.7 154.5h0M450.1 153.2h0M453.4 152.0h0M456.8 150.7h0M460.1 149.4h0M463.5 148.2h0M466.8 146.9h0M470.2 145.6h0M473.5 144.4h0M403.2 171.2h0M406.6 169.6h0M409.9 168.1h0M416.6 165.5h0M420.0 164.2h0M423.3 163.0h0M426.7 161.9h0M430.0 160.7h0M433.4 159.6h0M436.7 158.5h0M440.0 157.5h0M443.4 156.4h0M446.7 155.4h0M450.1 154.3h0M453.4 153.3h0M456.8 152.3h0M460.1 151.4h0M463.5 150.4h0M466.8 149.4h0M470.2 148.5h0M473.5 147.5h0M403.2 171.4h0M406.6 169.9h0M413.3 167.3h0M416.6 166.1h0M423.3 163.9h0M426.7 162.8h0M430.0 161.8h0M433.4 160.8h0M436.7 159.8h0M440.0 158.8h0M443.4 157.8h0M446.7 156.9h0M450.1 155.9h0M453.4 155.0h0M456.8 154.1h0M460.1 153.2h0M463.5 152.3h0M466.8 151.4h0M470.2 150.5h0M473.5 149.7h0M406.6 170.3h0M409.9 169.1h0M413.3 168.0h0M416.6 167.0h0M420.0 165.9h0M423.3 165.0h0M426.7 164.0h0M430.0 163.1h0M433.4 162.2h0M436.7 161.3h0M440.0 160.4h0M443.4 159.6h0M446.7 158.7h0M450.1 157.9h0M453.4 157.0h0M456.8 156.2h0M460.1 155.4h0M463.5 154.6h0M466.8 153.9h0M470.2 153.1h0M473.5 152.3h0M403.4 171.6h0M406.8 170.0h0M410.3 168.3h0M413.7 166.8h0M417.2 165.2h0M420.6 163.6h0M424.1 162.1h0M427.5 160.6h0M431.0 159.0h0M434.4 157.5h0M437.9 156.0h0M441.4 154.5h0M444.8 153.0h0M448.3 151.6h0M451.7 150.1h0M455.2 148.6h0M458.6 147.1h0M462.1 145.7h0M465.5 144.2h0M469.0 142.7h0M472.4 141.3h0M475.9 139.8h0M403.4 171.7h0M406.8 170.1h0M410.3 168.6h0M413.7 167.1h0M417.2 165.6h0M420.6 164.1h0M424.1 162.7h0M427.5 161.2h0M431.0 159.8h0M434.4 158.3h0M437.9 156.9h0M441.4 155.5h0M444.8 154.1h0M448.3 152.6h0M451.7 151.2h0M455.2 149.8h0M458.6 148.4h0M462.1 147.1h0M465.5 145.7h0M469.0 144.3h0M472.4 142.9h0M475.9 141.5h0M403.4 171.9h0M406.8 170.4h0M410.3 169.0h0M413.7 167.7h0M417.2 166.3h0M420.6 165.0h0M424.1 163.6h0M427.5 162.3h0M431.0 161.0h0M434.4 159.7h0M437.9 158.4h0M441.4 157.1h0M444.8 155.8h0M448.3 154.5h0M451.7 153.2h0M455.2 152.0h0M458.6 150.7h0M462.1 149.4h0M465.5 148.2h0M469.0 146.9h0M472.4 145.6h0M475.9 144.4h0M403.4 171.2h0M406.8 169.6h0M410.3 168.1h0M417.2 165.5h0M420.6 164.2h0M424.1 163.0h0M427.5 161.9h0M431.0 160.7h0M434.4 159.6h0M437.9 158.5h0M441.4 157.5h0M444.8 156.4h0M448.3 155.4h0M451.7 154.3h0M455.2 153.3h0M458.6 152.3h0M462.1 151.4h0M465.5 150.4h0M469.0 149.4h0M472.4 148.5h0M475.9 147.5h0M403.4 171.4h0M406.8 169.9h0M413.7 167.3h0M417.2 166.1h0M424.1 163.9h0M427.5 162.8h0M431.0 161.8h0M434.4 160.8h0M437.9 159.8h0M441.4 158.8h0M444.8 157.8h0M448.3 156.9h0M451.7 155.9h0M455.2 155.0h0M458.6 154.1h0M462.1 153.2h0M465.5 152.3h0M469.0 151.4h0M472.4 150.5h0M475.9 149.7h0M406.8 170.3h0M410.3 169.1h0M413.7 168.0h0M417.2 167.0h0M420.6 165.9h0M424.1 165.0h0M427.5 164.0h0M431.0 163.1h0M434.4 162.2h0M437.9 161.3h0M441.4 160.4h0M444.8 159.6h0M448.3 158.7h0M451.7 157.9h0M455.2 157.0h0M458.6 156.2h0M462.1 155.4h0M465.5 154.6h0M469.0 153.9h0M472.4 153.1h0M475.9 152.3h0M403.5 171.6h0M407.0 170.0h0M410.6 168.3h0M414.2 166.8h0M417.7 165.2h0M421.3 163.6h0M424.8 162.1h0M428.4 160.6h0M432.0 159.0h0M435.5 157.5h0M439.1 156.0h0M442.7 154.5h0M446.2 153.0h0M449.8 151.6h0M453.3 150.1h0M456.9 148.6h0M460.5 147.1h0M464.0 145.7h0M467.6 144.2h0M471.2 142.7h0M474.7 141.3h0M478.3 139.8h0M403.5 171.7h0M407.0 170.1h0M410.6 168.6h0M414.2 167.1h0M417.7 165.6h0M421.3 164.1h0M424.8 162.7h0M428.4 161.2h0M432.0 159.8h0M435.5 158.3h0M442.7 155.5h0M446.2 154.1h0M449.8 152.6h0M453.3 151.2h0M456.9 149.8h0M460.5 148.4h0M464.0 147.1h0M467.6 145.7h0M471.2 144.3h0M474.7 142.9h0M478.3 141.5h0M403.5 171.9h0M407.0 170.4h0M410.6 169.0h0M414.2 167.7h0M417.7 166.3h0M421.3 165.0h0M424.8 163.6h0M428.4 162.3h0M432.0 161.0h0M435.5 159.7h0M439.1 158.4h0M442.7 157.1h0M446.2 155.8h0M449.8 154.5h0M453.3 153.2h0M456.9 152.0h0M460.5 150.7h0M464.0 149.4h0M467.6 148.2h0M471.2 146.9h0M474.7 145.6h0M478.3 144.4h0M403.5 171.2h0M407.0 169.6h0M410.6 168.1h0M417.7 165.5h0M421.3 164.2h0M424.8 163.0h0M428.4 161.9h0M432.0 160.7h0M435.5 159.6h0M439.1 158.5h0M442.7 157.5h0M446.2 156.4h0M449.8 155.4h0M453.3 154.3h0M456.9 153.3h0M460.5 152.3h0M464.0 151.4h0M467.6 150.4h0M471.2 149.4h0M474.7 148.5h0M478.3 147.5h0M403.5 171.4h0M407.0 169.9h0M414.2 167.3h0M417.7 166.1h0M424.8 163.9h0M428.4 162.8h0M432.0 161.8h0M435.5 160.8h0M439.1 159.8h0M442.7 158.8h0M446.2 157.8h0M449.8 156.9h0M453.3 155.9h0M456.9 155.0h0M460.5 154.1h0M464.0 153.2h0M467.6 152.3h0M471.2 151.4h0M474.7 150.5h0M478.3 149.7h0M407.0 170.3h0M410.6 169.1h0M414.2 168.0h0M417.7 167.0h0M421.3 165.9h0M424.8 165.0h0M428.4 164.0h0M432.0 163.1h0M435.5 162.2h0M439.1 161.3h0M442.7 160.4h0M446.2 159.6h0M449.8 158.7h0M453.3 157.9h0M456.9 157.0h0M460.5 156.2h0M464.0 155.4h0M467.6 154.6h0M471.2 153.9h0M474.7 153.1h0M478.3 152.3h0M403.6 171.6h0M407.2 170.0h0M410.9 168.3h0M414.6 166.8h0M418.3 165.2h0M421.9 163.6h0M425.6 162.1h0M429.3 160.6h0M432.9 159.0h0M436.6 157.5h0M440.3 156.0h0M444.0 154.5h0M447.6 153.0h0M451.3 151.6h0M455.0 150.1h0M458.7 148.6h0M462.3 147.1h0M466.0 145.7h0M469.7 144.2h0M473.3 142.7h0M477.0 141.3h0M480.7 139.8h0M403.6 171.7h0M407.2 170.1h0M410.9 168.6h0M414.6 167.1h0M418.3 165.6h0M421.9 164.1h0M425.6 162.7h0M429.3 161.2h0M432.9 159.8h0M436.6 158.3h0M440.3 156.9h0M444.0 155.5h0M447.6 154.1h0M451.3 152.6h0M455.0 151.2h0M458.7 149.8h0M462.3 148.4h0M466.0 147.1h0M469.7 145.7h0M473.3 144.3h0M477.0 142.9h0M480.7 141.5h0M403.6 171.9h0M407.2 170.4h0M410.9 169.0h0M414.6 167.7h0M418.3 166.3h0M421.9 165.0h0M425.6 163.6h0M429.3 162.3h0M432.9 161.0h0M436.6 159.7h0M440.3 158.4h0M444.0 157.1h0M447.6 155.8h0M451.3 154.5h0M455.0 153.2h0M458.7 152.0h0M462.3 150.7h0M466.0 149.4h0M469.7 148.2h0M473.3 146.9h0M477.0 145.6h0M480.7 144.4h0M403.6 171.2h0M407.2 169.6h0M410.9 168.1h0M418.3 165.5h0M421.9 164.2h0M425.6 163.0h0M429.3 161.9h0M432.9 160.7h0M436.6 159.6h0M440.3 158.5h0M444.0 157.5h0M447.6 156.4h0M451.3 155.4h0M455.0 154.3h0M458.7 153.3h0M462.3 152.3h0M466.0 151.4h0M469.7 150.4h0M473.3 149.4h0M477.0 148.5h0M480.7 147.5h0M403.6 171.4h0M407.2 169.9h0M414.6 167.3h0M418.3 166.1h0M425.6 163.9h0M429.3 162.8h0M432.9 161.8h0M436.6 160.8h0M440.3 159.8h0M444.0 158.8h0M447.6 157.8h0M451.3 156.9h0M455.0 155.9h0M458.7 155.0h0M462.3 154.1h0M466.0 153.2h0M469.7 152.3h0M473.3 151.4h0M477.0 150.5h0M480.7 149.7h0M407.2 170.3h0M410.9 169.1h0M414.6 168.0h0M418.3 167.0h0M421.9 165.9h0M425.6 165.0h0M429.3 164.0h0M432.9 163.1h0M436.6 162.2h0M440.3 161.3h0M444.0 160.4h0M447.6 159.6h0M451.3 158.7h0M455.0 157.9h0M458.7 157.0h0M462.3 156.2h0M466.0 155.4h0M469.7 154.6h0M473.3 153.9h0M477.0 153.1h0M480.7 152.3h0M403.7 171.6h0M407.5 170.0h0M411.2 168.3h0M415.0 166.8h0M418.8 165.2h0M426.4 162.1h0M430.1 160.6h0M433.9 159.0h0M437.7 157.5h0M441.5 156.0h0M445.3 154.5h0M449.1 153.0h0M452.8 151.6h0M456.6 150.1h0M460.4 148.6h0M464.2 147.1h0M468.0 145.7h0M471.7 144.2h0M475.5 142.7h0M479.3 141.3h0M483.1 139.8h0M403.7 171.7h0M407.5 170.1h0M411.2 168.6h0M415.0 167.1h0M418.8 165.6h0M422.6 164.1h0M426.4 162.7h0M430.1 161.2h0M433.9 159.8h0M437.7 158.3h0M441.5 156.9h0M445.3 155.5h0M449.1 154.1h0M452.8 152.6h0M456.6 151.2h0M460.4 149.8h0M464.2 148.4h0M468.0 147.1h0M471.7 145.7h0M475.5 144.3h0M479.3 142.9h0M483.1 141.5h0M403.7 171.9h0M407.5 170.4h0M411.2 169.0h0M415.0 167.7h0M418.8 166.3h0M426.4 163.6h0M430.1 162.3h0M433.9 161.0h0M437.7 159.7h0M441.5 158.4h0M445.3 157.1h0M449.1 155.8h0M452.8 154.5h0M456.6 153.2h0M460.4 152.0h0M464.2 150.7h0M468.0 149.4h0M471.7 148.2h0M475.5 146.9h0M479.3 145.6h0M483.1 144.4h0M403.7 171.2h0M407.5 169.6h0M411.2 168.1h0M418.8 165.5h0M422.6 164.2h0M426.4 163.0h0M430.1 161.9h0M433.9 160.7h0M441.5 158.5h0M445.3 157.5h0M449.1 156.4h0M452.8 155.4h0M456.6 154.3h0M460.4 153.3h0M464.2 152.3h0M468.0 151.4h0M471.7 150.4h0M475.5 149.4h0M479.3 148.5h0M483.1 147.5h0M403.7 171.4h0M407.5 169.9h0M415.0 167.3h0M418.8 166.1h0M426.4 163.9h0M430.1 162.8h0M433.9 161.8h0M437.7 160.8h0M441.5 159.8h0M445.3 158.8h0M449.1 157.8h0M452.8 156.9h0M456.6 155.9h0M460.4 155.0h0M464.2 154.1h0M468.0 153.2h0M471.7 152.3h0M475.5 151.4h0M479.3 150.5h0M483.1 149.7h0M407.5 170.3h0M411.2 169.1h0M415.0 168.0h0M418.8 167.0h0M422.6 165.9h0M426.4 165.0h0M430.1 164.0h0M433.9 163.1h0M437.7 162.2h0M441.5 161.3h0M445.3 160.4h0M449.1 159.6h0M452.8 158.7h0M456.6 157.9h0M460.4 157.0h0M464.2 156.2h0M468.0 155.4h0M471.7 154.6h0M475.5 153.9h0M479.3 153.1h0M483.1 152.3h0M403.8 171.6h0M407.7 170.0h0M411.6 168.3h0M415.5 166.8h0M419.3 165.2h0M423.2 163.6h0M427.1 162.1h0M431.0 160.6h0M434.9 159.0h0M438.8 157.5h0M442.7 156.0h0M446.6 154.5h0M450.5 153.0h0M454.4 151.6h0M458.2 150.1h0M462.1 148.6h0M469.9 145.7h0M473.8 144.2h0M477.7 142.7h0M481.6 141.3h0M485.5 139.8h0M403.8 171.7h0M407.7 170.1h0M411.6 168.6h0M415.5 167.1h0M419.3 165.6h0M423.2 164.1h0M427.1 162.7h0M431.0 161.2h0M434.9 159.8h0M438.8 158.3h0M442.7 156.9h0M446.6 155.5h0M450.5 154.1h0M454.4 152.6h0M458.2 151.2h0M462.1 149.8h0M466.0 148.4h0M469.9 147.1h0M473.8 145.7h0M477.7 144.3h0M481.6 142.9h0M485.5 141.5h0M403.8 171.9h0M407.7 170.4h0M411.6 169.0h0M415.5 167.7h0M419.3 166.3h0M423.2 165.0h0M427.1 163.6h0M431.0 162.3h0M434.9 161.0h0M438.8 159.7h0M442.7 158.4h0M446.6 157.1h0M450.5 155.8h0M454.4 154.5h0M462.1 152.0h0M466.0 150.7h0M469.9 149.4h0M473.8 148.2h0M477.7 146.9h0M481.6 145.6h0M485.5 144.4h0M403.8 171.2h0M407.7 169.6h0M411.6 168.1h0M419.3 165.5h0M423.2 164.2h0M427.1 163.0h0M431.0 161.9h0M434.9 160.7h0M438.8 159.6h0M442.7 158.5h0M446.6 157.5h0M450.5 156.4h0M454.4 155.4h0M458.2 154.3h0M462.1 153.3h0M466.0 152.3h0M469.9 151.4h0M473.8 150.4h0M477.7 149.4h0M481.6 148.5h0M485.5 147.5h0M403.8 171.4h0M407.7 169.9h0M415.5 167.3h0M419.3 166.1h0M427.1 163.9h0M431.0 162.8h0M434.9 161.8h0M438.8 160.8h0M442.7 159.8h0M446.6 158.8h0M450.5 157.8h0M454.4 156.9h0M458.2 155.9h0M462.1 155.0h0M466.0 154.1h0M469.9 153.2h0M473.8 152.3h0M477.7 151.4h0M481.6 150.5h0M485.5 149.7h0M407.7 170.3h0M411.6 169.1h0M415.5 168.0h0M419.3 167.0h0M423.2 165.9h0M427.1 165.0h0M431.0 164.0h0M434.9 163.1h0M438.8 162.2h0M442.7 161.3h0M446.6 160.4h0M450.5 159.6h0M454.4 158.7h0M458.2 157.9h0M462.1 157.0h0M466.0 156.2h0M469.9 155.4h0M473.8 154.6h0M477.7 153.9h0M481.6 153.1h0M485.5 152.3h0M403.9 171.6h0M407.9 170.0h0M411.9 168.3h0M415.9 166.8h0M419.9 165.2h0M423.9 163.6h0M427.9 162.1h0M431.9 160.6h0M435.9 159.0h0M439.9 157.5h0M443.9 156.0h0M447.9 154.5h0M451.9 153.0h0M455.9 151.6h0M459.9 150.1h0M463.9 148.6h0M467.9 147.1h0M471.9 145.7h0M475.9 144.2h0M479.9 142.7h0M483.9 141.3h0M487.9 139.8h0M403.9 171.7h0M407.9 170.1h0M411.9 168.6h0M415.9 167.1h0M419.9 165.6h0M423.9 164.1h0M427.9 162.7h0M431.9 161.2h0M435.9 159.8h0M439.9 158.3h0M443.9 156.9h0M447.9 155.5h0M451.9 154.1h0M455.9 152.6h0M459.9 151.2h0M463.9 149.8h0M467.9 148.4h0M471.9 147.1h0M475.9 145.7h0M479.9 144.3h0M483.9 142.9h0M487.9 141.5h0M403.9 171.9h0M407.9 170.4h0M411.9 169.0h0M415.9 167.7h0M419.9 166.3h0M423.9 165.0h0M427.9 163.6h0M431.9 162.3h0M435.9 161.0h0M439.9 159.7h0M443.9 158.4h0M447.9 157.1h0M451.9 155.8h0M455.9 154.5h0M459.9 153.2h0M463.9 152.0h0M467.9 150.7h0M471.9 149.4h0M475.9 148.2h0M479.9 146.9h0M483.9 145.6h0M487.9 144.4h0M403.9 171.2h0M407.9 169.6h0M411.9 168.1h0M419.9 165.5h0M423.9 164.2h0M427.9 163.0h0M431.9 161.9h0M435.9 160.7h0M439.9 159.6h0M443.9 158.5h0M447.9 157.5h0M451.9 156.4h0M455.9 155.4h0M459.9 154.3h0M463.9 153.3h0M467.9 152.3h0M471.9 151.4h0M475.9 150.4h0M479.9 149.4h0M483.9 148.5h0M487.9 147.5h0M403.9 171.4h0M407.9 169.9h0M415.9 167.3h0M419.9 166.1h0M427.9 163.9h0M431.9 162.8h0M435.9 161.8h0M439.9 160.8h0M443.9 159.8h0M447.9 158.8h0M451.9 157.8h0M455.9 156.9h0M459.9 155.9h0M463.9 155.0h0M467.9 154.1h0M471.9 153.2h0M479.9 151.4h0M483.9 150.5h0M487.9 149.7h0M407.9 170.3h0M411.9 169.1h0M415.9 168.0h0M419.9 167.0h0M423.9 165.9h0M427.9 165.0h0M431.9 164.0h0M435.9 163.1h0M439.9 162.2h0M443.9 161.3h0M447.9 160.4h0M451.9 159.6h0M455.9 158.7h0M459.9 157.9h0M463.9 157.0h0M467.9 156.2h0M471.9 155.4h0M475.9 154.6h0M479.9 153.9h0M483.9 153.1h0M487.9 152.3h0M404.0 171.6h0M408.1 170.0h0M412.2 168.3h0M416.3 166.8h0M420.4 165.2h0M424.5 163.6h0M428.7 162.1h0M432.8 160.6h0M436.9 159.0h0M441.0 157.5h0M445.1 156.0h0M449.2 154.5h0M453.3 153.0h0M457.4 151.6h0M461.5 150.1h0M465.6 148.6h0M469.7 147.1h0M477.9 144.2h0M482.0 142.7h0M486.2 141.3h0M490.3 139.8h0M404.0 171.7h0M408.1 170.1h0M412.2 168.6h0M416.3 167.1h0M420.4 165.6h0M424.5 164.1h0M428.7 162.7h0M432.8 161.2h0M436.9 159.8h0M441.0 158.3h0M445.1 156.9h0M449.2 155.5h0M453.3 154.1h0M457.4 152.6h0M461.5 151.2h0M465.6 149.8h0M469.7 148.4h0M473.8 147.1h0M477.9 145.7h0M482.0 144.3h0M486.2 142.9h0M490.3 141.5h0M404.0 171.9h0M408.1 170.4h0M412.2 169.0h0M416.3 167.7h0M420.4 166.3h0M424.5 165.0h0M428.7 163.6h0M432.8 162.3h0M436.9 161.0h0M441.0 159.7h0M445.1 158.4h0M449.2 157.1h0M453.3 155.8h0M457.4 154.5h0M461.5 153.2h0M465.6 152.0h0M469.7 150.7h0M473.8 149.4h0M477.9 148.2h0M482.0 146.9h0M486.2 145.6h0M490.3 144.4h0M404.0 171.2h0M408.1 169.6h0M412.2 168.1h0M420.4 165.5h0M424.5 164.2h0M428.7 163.0h0M432.8 161.9h0M436.9 160.7h0M441.0 159.6h0M445.1 158.5h0M449.2 157.5h0M453.3 156.4h0M457.4 155.4h0M461.5 154.3h0M465.6 153.3h0M473.8 151.4h0M477.9 150.4h0M482.0 149.4h0M486.2 148.5h0M490.3 147.5h0M404.0 171.4h0M408.1 169.9h0M416.3 167.3h0M420.4 166.1h0M428.7 163.9h0M432.8 162.8h0M436.9 161.8h0M441.0 160.8h0M445.1 159.8h0M449.2 158.8h0M453.3 157.8h0M457.4 156.9h0M461.5 155.9h0M465.6 155.0h0M469.7 154.1h0M473.8 153.2h0M477.9 152.3h0M482.0 151.4h0M486.2 150.5h0M490.3 149.7h0M408.1 170.3h0M412.2 169.1h0M416.3 168.0h0M420.4 167.0h0M424.5 165.9h0M428.7 165.0h0M432.8 164.0h0M436.9 163.1h0M441.0 162.2h0M445.1 161.3h0M449.2 160.4h0M453.3 159.6h0M457.4 158.7h0M461.5 157.9h0M465.6 157.0h0M469.7 156.2h0M473.8 155.4h0M477.9 154.6h0M482.0 153.9h0M486.2 153.1h0M490.3 152.3h0M404.1 171.6h0M408.3 170.0h0M412.5 168.3h0M416.8 166.8h0M421.0 165.2h0M425.2 163.6h0M429.4 162.1h0M433.6 160.6h0M437.8 159.0h0M442.1 157.5h0M446.3 156.0h0M450.5 154.5h0M454.7 153.0h0M458.9 151.6h0M463.1 150.1h0M467.4 148.6h0M471.6 147.1h0M475.8 145.7h0M480.0 144.2h0M484.2 142.7h0M488.4 141.3h0M492.7 139.8h0M404.1 171.7h0M408.3 170.1h0M412.5 168.6h0M416.8 167.1h0M421.0 165.6h0M425.2 164.1h0M429.4 162.7h0M433.6 161.2h0M437.8 159.8h0M442.1 158.3h0M446.3 156.9h0M450.5 155.5h0M454.7 154.1h0M458.9 152.6h0M463.1 151.2h0M467.4 149.8h0M471.6 148.4h0M475.8 147.1h0M480.0 145.7h0M484.2 144.3h0M488.4 142.9h0M492.7 141.5h0M404.1 171.9h0M408.3 170.4h0M412.5 169.0h0M416.8 167.7h0M421.0 166.3h0M425.2 165.0h0M429.4 163.6h0M433.6 162.3h0M437.8 161.0h0M442.1 159.7h0M446.3 158.4h0M450.5 157.1h0M454.7 155.8h0M458.9 154.5h0M463.1 153.2h0M467.4 152.0h0M471.6 150.7h0M475.8 149.4h0M480.0 148.2h0M484.2 146.9h0M488.4 145.6h0M492.7 144.4h0M404.1 171.2h0M408.3 169.6h0M412.5 168.1h0M421.0 165.5h0M425.2 164.2h0M429.4 163.0h0M433.6 161.9h0M437.8 160.7h0M442.1 159.6h0M446.3 158.5h0M450.5 157.5h0M454.7 156.4h0M458.9 155.4h0M463.1 154.3h0M467.4 153.3h0M471.6 152.3h0M475.8 151.4h0M480.0 150.4h0M484.2 149.4h0M488.4 148.5h0M492.7 147.5h0M404.1 171.4h0M408.3 169.9h0M416.8 167.3h0M421.0 166.1h0M429.4 163.9h0M433.6 162.8h0M437.8 161.8h0M442.1 160.8h0M446.3 159.8h0M450.5 158.8h0M454.7 157.8h0M458.9 156.9h0M463.1 155.9h0M467.4 155.0h0M471.6 154.1h0M475.8 153.2h0M480.0 152.3h0M484.2 151.4h0M488.4 150.5h0M492.7 149.7h0M408.3 170.3h0M412.5 169.1h0M416.8 168.0h0M421.0 167.0h0M425.2 165.9h0M429.4 165.0h0M433.6 164.0h0M437.8 163.1h0M442.1 162.2h0M446.3 161.3h0M450.5 160.4h0M454.7 159.6h0M458.9 158.7h0M463.1 157.9h0M467.4 157.0h0M471.6 156.2h0M475.8 155.4h0M480.0 154.6h0M484.2 153.9h0M488.4 153.1h0M492.7 152.3h0M404.2 171.6h0M408.5 170.0h0M412.9 168.3h0M417.2 166.8h0M421.5 165.2h0M425.8 163.6h0M430.2 162.1h0M434.5 160.6h0M438.8 159.0h0M443.1 157.5h0M447.5 156.0h0M451.8 154.5h0M456.1 153.0h0M460.4 151.6h0M464.8 150.1h0M469.1 148.6h0M473.4 147.1h0M477.7 145.7h0M482.1 144.2h0M486.4 142.7h0M490.7 141.3h0M495.0 139.8h0M404.2 171.7h0M408.5 170.1h0M412.9 168.6h0M417.2 167.1h0M421.5 165.6h0M425.8 164.1h0M430.2 162.7h0M434.5 161.2h0M438.8 159.8h0M443.1 158.3h0M447.5 156.9h0M451.8 155.5h0M456.1 154.1h0M460.4 152.6h0M464.8 151.2h0M469.1 149.8h0M473.4 148.4h0M477.7 147.1h0M482.1 145.7h0M486.4 144.3h0M490.7 142.9h0M495.0 141.5h0M404.2 171.9h0M408.5 170.4h0M412.9 169.0h0M417.2 167.7h0M421.5 166.3h0M425.8 165.0h0M430.2 163.6h0M434.5 162.3h0M438.8 161.0h0M443.1 159.7h0M447.5 158.4h0M451.8 157.1h0M456.1 155.8h0M460.4 154.5h0M464.8 153.2h0M469.1 152.0h0M473.4 150.7h0M482.1 148.2h0M486.4 146.9h0M490.7 145.6h0M495.0 144.4h0M404.2 171.2h0M408.5 169.6h0M412.9 168.1h0M421.5 165.5h0M425.8 164.2h0M430.2 163.0h0M434.5 161.9h0M438.8 160.7h0M443.1 159.6h0M447.5 158.5h0M451.8 157.5h0M456.1 156.4h0M460.4 155.4h0M464.8 154.3h0M469.1 153.3h0M473.4 152.3h0M482.1 150.4h0M486.4 149.4h0M490.7 148.5h0M495.0 147.5h0M404.2 171.4h0M408.5 169.9h0M417.2 167.3h0M421.5 166.1h0M430.2 163.9h0M434.5 162.8h0M438.8 161.8h0M443.1 160.8h0M447.5 159.8h0M451.8 158.8h0M456.1 157.8h0M460.4 156.9h0M464.8 155.9h0M469.1 155.0h0M473.4 154.1h0M477.7 153.2h0M482.1 152.3h0M486.4 151.4h0M490.7 150.5h0M495.0 149.7h0M408.5 170.3h0M412.9 169.1h0M417.2 168.0h0M421.5 167.0h0M425.8 165.9h0M430.2 165.0h0M434.5 164.0h0M438.8 163.1h0M443.1 162.2h0M447.5 161.3h0M451.8 160.4h0M456.1 159.6h0M460.4 158.7h0M464.8 157.9h0M469.1 157.0h0M473.4 156.2h0M477.7 155.4h0M482.1 154.6h0M486.4 153.9h0M490.7 153.1h0M495.0 152.3h0M404.3 171.6h0M408.8 170.0h0M413.2 168.3h0M417.6 166.8h0M422.1 165.2h0M426.5 163.6h0M430.9 162.1h0M435.4 160.6h0M439.8 159.0h0M444.2 157.5h0M448.7 156.0h0M453.1 154.5h0M457.5 153.0h0M462.0 151.6h0M466.4 150.1h0M470.8 148.6h0M475.3 147.1h0M479.7 145.7h0M484.1 144.2h0M488.6 142.7h0M493.0 141.3h0M497.4 139.8h0M404.3 171.7h0M408.8 170.1h0M413.2 168.6h0M417.6 167.1h0M422.1 165.6h0M426.5 164.1h0M430.9 162.7h0M435.4 161.2h0M439.8 159.8h0M444.2 158.3h0M448.7 156.9h0M453.1 155.5h0M457.5 154.1h0M462.0 152.6h0M466.4 151.2h0M470.8 149.8h0M475.3 148.4h0M479.7 147.1h0M484.1 145.7h0M488.6 144.3h0M493.0 142.9h0M497.4 141.5h0M404.3 171.9h0M408.8 170.4h0M413.2 169.0h0M417.6 167.7h0M422.1 166.3h0M426.5 165.0h0M430.9 163.6h0M435.4 162.3h0M439.8 161.0h0M444.2 159.7h0M448.7 158.4h0M453.1 157.1h0M457.5 155.8h0M462.0 154.5h0M466.4 153.2h0M470.8 152.0h0M475.3 150.7h0M479.7 149.4h0M484.1 148.2h0M488.6 146.9h0M493.0 145.6h0M497.4 144.4h0M404.3 171.2h0M408.8 169.6h0M413.2 168.1h0M422.1 165.5h0M426.5 164.2h0M430.9 163.0h0M435.4 161.9h0M439.8 160.7h0M444.2 159.6h0M448.7 158.5h0M453.1 157.5h0M457.5 156.4h0M462.0 155.4h0M466.4 154.3h0M470.8 153.3h0M475.3 152.3h0M479.7 151.4h0M484.1 150.4h0M488.6 149.4h0M493.0 148.5h0M497.4 147.5h0M404.3 171.4h0M408.8 169.9h0M417.6 167.3h0M422.1 166.1h0M430.9 163.9h0M435.4 162.8h0M439.8 161.8h0M444.2 160.8h0M448.7 159.8h0M453.1 158.8h0M457.5 157.8h0M462.0 156.9h0M466.4 155.9h0M470.8 155.0h0M475.3 154.1h0M479.7 153.2h0M484.1 152.3h0M488.6 151.4h0M493.0 150.5h0M497.4 149.7h0M408.8 170.3h0M413.2 169.1h0M417.6 168.0h0M422.1 167.0h0M426.5 165.9h0M430.9 165.0h0M435.4 164.0h0M439.8 163.1h0M444.2 162.2h0M448.7 161.3h0M453.1 160.4h0M457.5 159.6h0M462.0 158.7h0M466.4 157.9h0M470.8 157.0h0M475.3 156.2h0M479.7 155.4h0M484.1 154.6h0M488.6 153.9h0M493.0 153.1h0M497.4 152.3h0M404.4 171.6h0M409.0 170.0h0M413.5 168.3h0M418.1 166.8h0M422.6 165.2h0M427.2 163.6h0M431.7 162.1h0M436.2 160.6h0M440.8 159.0h0M449.9 156.0h0M459.0 153.0h0M463.5 151.6h0M468.0 150.1h0M472.6 148.6h0M477.1 147.1h0M481.7 145.7h0M486.2 144.2h0M490.7 142.7h0M495.3 141.3h0M499.8 139.8h0M404.4 171.7h0M409.0 170.1h0M413.5 168.6h0M418.1 167.1h0M422.6 165.6h0M427.2 164.1h0M431.7 162.7h0M436.2 161.2h0M440.8 159.8h0M445.3 158.3h0M449.9 156.9h0M454.4 155.5h0M459.0 154.1h0M463.5 152.6h0M468.0 151.2h0M472.6 149.8h0M477.1 148.4h0M481.7 147.1h0M486.2 145.7h0M490.7 144.3h0M495.3 142.9h0M499.8 141.5h0M404.4 171.9h0M409.0 170.4h0M413.5 169.0h0M418.1 167.7h0M422.6 166.3h0M427.2 165.0h0M431.7 163.6h0M436.2 162.3h0M440.8 161.0h0M445.3 159.7h0M449.9 158.4h0M454.4 157.1h0M459.0 155.8h0M463.5 154.5h0M472.6 152.0h0M477.1 150.7h0M481.7 149.4h0M486.2 148.2h0M490.7 146.9h0M495.3 145.6h0M499.8 144.4h0M404.4 171.2h0M409.0 169.6h0M413.5 168.1h0M422.6 165.5h0M427.2 164.2h0M431.7 163.0h0M436.2 161.9h0M440.8 160.7h0M445.3 159.6h0M449.9 158.5h0M454.4 157.5h0M459.0 156.4h0M463.5 155.4h0M468.0 154.3h0M472.6 153.3h0M477.1 152.3h0M481.7 151.4h0M486.2 150.4h0M490.7 149.4h0M495.3 148.5h0M499.8 147.5h0M404.4 171.4h0M409.0 169.9h0M418.1 167.3h0M422.6 166.1h0M431.7 163.9h0M436.2 162.8h0M440.8 161.8h0M445.3 160.8h0M449.9 159.8h0M454.4 158.8h0M459.0 157.8h0M463.5 156.9h0M468.0 155.9h0M472.6 155.0h0M477.1 154.1h0M481.7 153.2h0M486.2 152.3h0M490.7 151.4h0M495.3 150.5h0M499.8 149.7h0M409.0 170.3h0M413.5 169.1h0M418.1 168.0h0M422.6 167.0h0M427.2 165.9h0M431.7 165.0h0M436.2 164.0h0M440.8 163.1h0M445.3 162.2h0M449.9 161.3h0M454.4 160.4h0M459.0 159.6h0M463.5 158.7h0M468.0 157.9h0M472.6 157.0h0M477.1 156.2h0M481.7 155.4h0M486.2 154.6h0M490.7 153.9h0M495.3 153.1h0M499.8 152.3h0M404.6 171.6h0M409.2 170.0h0M413.9 168.3h0M418.5 166.8h0M423.2 165.2h0M427.8 163.6h0M432.5 162.1h0M437.1 160.6h0M441.8 159.0h0M446.4 157.5h0M451.1 156.0h0M455.7 154.5h0M460.4 153.0h0M465.0 151.6h0M469.7 150.1h0M474.3 148.6h0M479.0 147.1h0M483.6 145.7h0M488.3 144.2h0M492.9 142.7h0M497.6 141.3h0M502.2 139.8h0M404.6 171.7h0M409.2 170.1h0M413.9 168.6h0M418.5 167.1h0M423.2 165.6h0M427.8 164.1h0M432.5 162.7h0M437.1 161.2h0M441.8 159.8h0M446.4 158.3h0M451.1 156.9h0M455.7 155.5h0M460.4 154.1h0M465.0 152.6h0M469.7 151.2h0M474.3 149.8h0M479.0 148.4h0M483.6 147.1h0M488.3 145.7h0M492.9 144.3h0M497.6 142.9h0M502.2 141.5h0M404.6 171.9h0M409.2 170.4h0M413.9 169.0h0M418.5 167.7h0M423.2 166.3h0M427.8 165.0h0M432.5 163.6h0M437.1 162.3h0M441.8 161.0h0M446.4 159.7h0M451.1 158.4h0M455.7 157.1h0M460.4 155.8h0M465.0 154.5h0M469.7 153.2h0M474.3 152.0h0M479.0 150.7h0M483.6 149.4h0M488.3 148.2h0M492.9 146.9h0M497.6 145.6h0M502.2 144.4h0M404.6 171.2h0M409.2 169.6h0M413.9 168.1h0M423.2 165.5h0M427.8 164.2h0M432.5 163.0h0M437.1 161.9h0M441.8 160.7h0M446.4 159.6h0M451.1 158.5h0M455.7 157.5h0M460.4 156.4h0M465.0 155.4h0M469.7 154.3h0M474.3 153.3h0M479.0 152.3h0M483.6 151.4h0M488.3 150.4h0M492.9 149.4h0M497.6 148.5h0M502.2 147.5h0M404.6 171.4h0M409.2 169.9h0M418.5 167.3h0M423.2 166.1h0M432.5 163.9h0M437.1 162.8h0M441.8 161.8h0M446.4 160.8h0M451.1 159.8h0M455.7 158.8h0M460.4 157.8h0M465.0 156.9h0M469.7 155.9h0M474.3 155.0h0M479.0 154.1h0M483.6 153.2h0M488.3 152.3h0M492.9 151.4h0M497.6 150.5h0M502.2 149.7h0M409.2 170.3h0M413.9 169.1h0M418.5 168.0h0M423.2 167.0h0M427.8 165.9h0M432.5 165.0h0M437.1 164.0h0M441.8 163.1h0M446.4 162.2h0M451.1 161.3h0M455.7 160.4h0M460.4 159.6h0M465.0 158.7h0M469.7 157.9h0M474.3 157.0h0M479.0 156.2h0M483.6 155.4h0M488.3 154.6h0M492.9 153.9h0M497.6 153.1h0M502.2 152.3h0M404.7 171.6h0M409.4 170.0h0M414.2 168.3h0M418.9 166.8h0M423.7 165.2h0M428.5 163.6h0M433.2 162.1h0M438.0 160.6h0M442.7 159.0h0M447.5 157.5h0M452.3 156.0h0M457.0 154.5h0M461.8 153.0h0M466.5 151.6h0M471.3 150.1h0M476.1 148.6h0M480.8 147.1h0M485.6 145.7h0M490.3 144.2h0M495.1 142.7h0M499.9 141.3h0M504.6 139.8h0M404.7 171.7h0M409.4 170.1h0M414.2 168.6h0M418.9 167.1h0M423.7 165.6h0M428.5 164.1h0M433.2 162.7h0M438.0 161.2h0M447.5 158.3h0M452.3 156.9h0M457.0 155.5h0M461.8 154.1h0M466.5 152.6h0M471.3 151.2h0M476.1 149.8h0M480.8 148.4h0M485.6 147.1h0M490.3 145.7h0M495.1 144.3h0M499.9 142.9h0M504.6 141.5h0M404.7 171.9h0M409.4 170.4h0M414.2 169.0h0M418.9 167.7h0M423.7 166.3h0M428.5 165.0h0M433.2 163.6h0M438.0 162.3h0M442.7 161.0h0M447.5 159.7h0M452.3 158.4h0M457.0 157.1h0M461.8 155.8h0M466.5 154.5h0M471.3 153.2h0M476.1 152.0h0M480.8 150.7h0M485.6 149.4h0M490.3 148.2h0M495.1 146.9h0M499.9 145.6h0M504.6 144.4h0M404.7 171.2h0M409.4 169.6h0M414.2 168.1h0M423.7 165.5h0M428.5 164.2h0M433.2 163.0h0M438.0 161.9h0M442.7 160.7h0M447.5 159.6h0M452.3 158.5h0M457.0 157.5h0M461.8 156.4h0M466.5 155.4h0M471.3 154.3h0M476.1 153.3h0M480.8 152.3h0M485.6 151.4h0M490.3 150.4h0M495.1 149.4h0M499.9 148.5h0M504.6 147.5h0M404.7 171.4h0M409.4 169.9h0M418.9 167.3h0M423.7 166.1h0M433.2 163.9h0M438.0 162.8h0M442.7 161.8h0M447.5 160.8h0M452.3 159.8h0M457.0 158.8h0M461.8 157.8h0M466.5 156.9h0M471.3 155.9h0M476.1 155.0h0M480.8 154.1h0M485.6 153.2h0M495.1 151.4h0M499.9 150.5h0M504.6 149.7h0M409.4 170.3h0M414.2 169.1h0M418.9 168.0h0M423.7 167.0h0M428.5 165.9h0M433.2 165.0h0M438.0 164.0h0M442.7 163.1h0M447.5 162.2h0M452.3 161.3h0M457.0 160.4h0M461.8 159.6h0M466.5 158.7h0M471.3 157.9h0M476.1 157.0h0M480.8 156.2h0M485.6 155.4h0M490.3 154.6h0M495.1 153.9h0M499.9 153.1h0M504.6 152.3h0M404.8 171.6h0M409.6 170.0h0M414.5 168.3h0M419.4 166.8h0M424.2 165.2h0M429.1 163.6h0M434.0 162.1h0M438.9 160.6h0M443.7 159.0h0M448.6 157.5h0M453.5 156.0h0M458.3 154.5h0M463.2 153.0h0M468.1 151.6h0M472.9 150.1h0M477.8 148.6h0M482.7 147.1h0M487.5 145.7h0M492.4 144.2h0M497.3 142.7h0M502.1 141.3h0M507.0 139.8h0M404.8 171.7h0M409.6 170.1h0M414.5 168.6h0M419.4 167.1h0M424.2 165.6h0M429.1 164.1h0M434.0 162.7h0M438.9 161.2h0M443.7 159.8h0M448.6 158.3h0M453.5 156.9h0M458.3 155.5h0M463.2 154.1h0M468.1 152.6h0M472.9 151.2h0M477.8 149.8h0M482.7 148.4h0M487.5 147.1h0M492.4 145.7h0M497.3 144.3h0M502.1 142.9h0M507.0 141.5h0M404.8 171.9h0M409.6 170.4h0M414.5 169.0h0M419.4 167.7h0M424.2 166.3h0M429.1 165.0h0M434.0 163.6h0M438.9 162.3h0M443.7 161.0h0M448.6 159.7h0M453.5 158.4h0M458.3 157.1h0M463.2 155.8h0M468.1 154.5h0M472.9 153.2h0M477.8 152.0h0M482.7 150.7h0M487.5 149.4h0M492.4 148.2h0M497.3 146.9h0M502.1 145.6h0M507.0 144.4h0M404.8 171.2h0M409.6 169.6h0M414.5 168.1h0M424.2 165.5h0M429.1 164.2h0M434.0 163.0h0M438.9 161.9h0M443.7 160.7h0M448.6 159.6h0M453.5 158.5h0M458.3 157.5h0M463.2 156.4h0M468.1 155.4h0M472.9 154.3h0M477.8 153.3h0M482.7 152.3h0M487.5 151.4h0M492.4 150.4h0M497.3 149.4h0M502.1 148.5h0M507.0 147.5h0M404.8 171.4h0M409.6 169.9h0M419.4 167.3h0M424.2 166.1h0M434.0 163.9h0M438.9 162.8h0M443.7 161.8h0M448.6 160.8h0M453.5 159.8h0M458.3 158.8h0M463.2 157.8h0M468.1 156.9h0M472.9 155.9h0M477.8 155.0h0M482.7 154.1h0M487.5 153.2h0M492.4 152.3h0M497.3 151.4h0M502.1 150.5h0M507.0 149.7h0M409.6 170.3h0M414.5 169.1h0M419.4 168.0h0M424.2 167.0h0M429.1 165.9h0M434.0 165.0h0M438.9 164.0h0M443.7 163.1h0M448.6 162.2h0M453.5 161.3h0M458.3 160.4h0M463.2 159.6h0M468.1 158.7h0M472.9 157.9h0M477.8 157.0h0M482.7 156.2h0M487.5 155.4h0M492.4 154.6h0M497.3 153.9h0M502.1 153.1h0M507.0 152.3h0M404.9 171.6h0M409.9 170.0h0M414.8 168.3h0M419.8 166.8h0M424.8 165.2h0M429.8 163.6h0M434.7 162.1h0M439.7 160.6h0M444.7 159.0h0M449.7 157.5h0M454.7 156.0h0M459.6 154.5h0M464.6 153.0h0M469.6 151.6h0M474.6 150.1h0M479.5 148.6h0M484.5 147.1h0M489.5 145.7h0M494.5 144.2h0M499.5 142.7h0M504.4 141.3h0M509.4 139.8h0M404.9 171.7h0M409.9 170.1h0M414.8 168.6h0M419.8 167.1h0M424.8 165.6h0M429.8 164.1h0M434.7 162.7h0M439.7 161.2h0M444.7 159.8h0M449.7 158.3h0M454.7 156.9h0M459.6 155.5h0M464.6 154.1h0M469.6 152.6h0M474.6 151.2h0M479.5 149.8h0M484.5 148.4h0M489.5 147.1h0M494.5 145.7h0M499.5 144.3h0M504.4 142.9h0M509.4 141.5h0M404.9 171.9h0M409.9 170.4h0M414.8 169.0h0M419.8 167.7h0M424.8 166.3h0M429.8 165.0h0M434.7 163.6h0M439.7 162.3h0M444.7 161.0h0M449.7 159.7h0M454.7 158.4h0M459.6 157.1h0M464.6 155.8h0M469.6 154.5h0M474.6 153.2h0M479.5 152.0h0M484.5 150.7h0M489.5 149.4h0M494.5 148.2h0M499.5 146.9h0M504.4 145.6h0M509.4 144.4h0M404.9 171.2h0M409.9 169.6h0M414.8 168.1h0M424.8 165.5h0M429.8 164.2h0M434.7 163.0h0M439.7 161.9h0M444.7 160.7h0M449.7 159.6h0M454.7 158.5h0M459.6 157.5h0M464.6 156.4h0M469.6 155.4h0M474.6 154.3h0M479.5 153.3h0M484.5 152.3h0M489.5 151.4h0M494.5 150.4h0M499.5 149.4h0M504.4 148.5h0M509.4 147.5h0M404.9 171.4h0M409.9 169.9h0M419.8 167.3h0M424.8 166.1h0M434.7 163.9h0M439.7 162.8h0M444.7 161.8h0M449.7 160.8h0M454.7 159.8h0M459.6 158.8h0M464.6 157.8h0M469.6 156.9h0M474.6 155.9h0M479.5 155.0h0M484.5 154.1h0M489.5 153.2h0M494.5 152.3h0M499.5 151.4h0M504.4 150.5h0M509.4 149.7h0M409.9 170.3h0M414.8 169.1h0M419.8 168.0h0M424.8 167.0h0M429.8 165.9h0M434.7 165.0h0M439.7 164.0h0M444.7 163.1h0M449.7 162.2h0M454.7 161.3h0M459.6 160.4h0M464.6 159.6h0M469.6 158.7h0M474.6 157.9h0M479.5 157.0h0M484.5 156.2h0M489.5 155.4h0M494.5 154.6h0M499.5 153.9h0M504.4 153.1h0M509.4 152.3h0M405.0 171.6h0M410.1 170.0h0M415.2 168.3h0M420.2 166.8h0M425.3 165.2h0M430.4 163.6h0M435.5 162.1h0M440.6 160.6h0M445.7 159.0h0M450.8 157.5h0M455.9 156.0h0M460.9 154.5h0M466.0 153.0h0M471.1 151.6h0M476.2 150.1h0M481.3 148.6h0M486.4 147.1h0M491.5 145.7h0M496.5 144.2h0M501.6 142.7h0M506.7 141.3h0M511.8 139.8h0M405.0 171.7h0M410.1 170.1h0M415.2 168.6h0M420.2 167.1h0M425.3 165.6h0M430.4 164.1h0M435.5 162.7h0M440.6 161.2h0M445.7 159.8h0M450.8 158.3h0M460.9 155.5h0M471.1 152.6h0M476.2 151.2h0M481.3 149.8h0M486.4 148.4h0M491.5 147.1h0M496.5 145.7h0M501.6 144.3h0M506.7 142.9h0M511.8 141.5h0M405.0 171.9h0M410.1 170.4h0M415.2 169.0h0M420.2 167.7h0M425.3 166.3h0M430.4 165.0h0M435.5 163.6h0M440.6 162.3h0M445.7 161.0h0M450.8 159.7h0M455.9 158.4h0M460.9 157.1h0M466.0 155.8h0M471.1 154.5h0M476.2 153.2h0M481.3 152.0h0M486.4 150.7h0M491.5 149.4h0M496.5 148.2h0M501.6 146.9h0M506.7 145.6h0M511.8 144.4h0M405.0 171.2h0M410.1 169.6h0M415.2 168.1h0M425.3 165.5h0M430.4 164.2h0M435.5 163.0h0M440.6 161.9h0M445.7 160.7h0M450.8 159.6h0M455.9 158.5h0M460.9 157.5h0M466.0 156.4h0M471.1 155.4h0M476.2 154.3h0M481.3 153.3h0M486.4 152.3h0M491.5 151.4h0M496.5 150.4h0M501.6 149.4h0M506.7 148.5h0M511.8 147.5h0M405.0 171.4h0M410.1 169.9h0M420.2 167.3h0M425.3 166.1h0M435.5 163.9h0M440.6 162.8h0M445.7 161.8h0M450.8 160.8h0M455.9 159.8h0M460.9 158.8h0M466.0 157.8h0M471.1 156.9h0M476.2 155.9h0M481.3 155.0h0M486.4 154.1h0M491.5 153.2h0M496.5 152.3h0M501.6 151.4h0M506.7 150.5h0M511.8 149.7h0M410.1 170.3h0M415.2 169.1h0M420.2 168.0h0M425.3 167.0h0M430.4 165.9h0M435.5 165.0h0M440.6 164.0h0M445.7 163.1h0M450.8 162.2h0M455.9 161.3h0M460.9 160.4h0M466.0 159.6h0M471.1 158.7h0M476.2 157.9h0M481.3 157.0h0M486.4 156.2h0M491.5 155.4h0M496.5 154.6h0M501.6 153.9h0M506.7 153.1h0M511.8 152.3h0M405.1 171.6h0M410.3 170.0h0M415.5 168.3h0M420.7 166.8h0M425.9 165.2h0M431.1 163.6h0M436.3 162.1h0M441.5 160.6h0M446.7 159.0h0M451.9 157.5h0M457.0 156.0h0M462.2 154.5h0M467.4 153.0h0M472.6 151.6h0M477.8 150.1h0M483.0 148.6h0M488.2 147.1h0M493.4 145.7h0M498.6 144.2h0M503.8 142.7h0M509.0 141.3h0M514.2 139.8h0M405.1 171.7h0M410.3 170.1h0M415.5 168.6h0M420.7 167.1h0M425.9 165.6h0M431.1 164.1h0M436.3 162.7h0M441.5 161.2h0M446.7 159.8h0M451.9 158.3h0M457.0 156.9h0M462.2 155.5h0M467.4 154.1h0M472.6 152.6h0M477.8 151.2h0M483.0 149.8h0M488.2 148.4h0M493.4 147.1h0M498.6 145.7h0M503.8 144.3h0M509.0 142.9h0M514.2 141.5h0M405.1 171.9h0M410.3 170.4h0M415.5 169.0h0M420.7 167.7h0M425.9 166.3h0M431.1 165.0h0M436.3 163.6h0M441.5 162.3h0M446.7 161.0h0M451.9 159.7h0M457.0 158.4h0M462.2 157.1h0M467.4 155.8h0M472.6 154.5h0M477.8 153.2h0M483.0 152.0h0M488.2 150.7h0M493.4 149.4h0M498.6 148.2h0M503.8 146.9h0M509.0 145.6h0M514.2 144.4h0M405.1 171.2h0M410.3 169.6h0M415.5 168.1h0M425.9 165.5h0M431.1 164.2h0M436.3 163.0h0M441.5 161.9h0M446.7 160.7h0M457.0 158.5h0M462.2 157.5h0M467.4 156.4h0M472.6 155.4h0M477.8 154.3h0M483.0 153.3h0M488.2 152.3h0M493.4 151.4h0M498.6 150.4h0M503.8 149.4h0M509.0 148.5h0M514.2 147.5h0M405.1 171.4h0M410.3 169.9h0M420.7 167.3h0M425.9 166.1h0M436.3 163.9h0M441.5 162.8h0M446.7 161.8h0M451.9 160.8h0M457.0 159.8h0M462.2 158.8h0M467.4 157.8h0M472.6 156.9h0M477.8 155.9h0M483.0 155.0h0M488.2 154.1h0M493.4 153.2h0M498.6 152.3h0M503.8 151.4h0M509.0 150.5h0M514.2 149.7h0M410.3 170.3h0M415.5 169.1h0M420.7 168.0h0M425.9 167.0h0M431.1 165.9h0M436.3 165.0h0M441.5 164.0h0M446.7 163.1h0M451.9 162.2h0M457.0 161.3h0M462.2 160.4h0M467.4 159.6h0M472.6 158.7h0M477.8 157.9h0M483.0 157.0h0M488.2 156.2h0M493.4 155.4h0M498.6 154.6h0M503.8 153.9h0M509.0 153.1h0M514.2 152.3h0M405.2 171.6h0M410.5 170.0h0M415.8 168.3h0M421.1 166.8h0M426.4 165.2h0M437.0 162.1h0M442.3 160.6h0M447.6 159.0h0M452.9 157.5h0M458.2 156.0h0M468.9 153.0h0M474.2 151.6h0M479.5 150.1h0M484.8 148.6h0M490.1 147.1h0M495.4 145.7h0M500.7 144.2h0M506.0 142.7h0M511.3 141.3h0M516.6 139.8h0M405.2 171.7h0M410.5 170.1h0M415.8 168.6h0M421.1 167.1h0M426.4 165.6h0M431.7 164.1h0M437.0 162.7h0M442.3 161.2h0M447.6 159.8h0M452.9 158.3h0M458.2 156.9h0M463.5 155.5h0M468.9 154.1h0M474.2 152.6h0M479.5 151.2h0M484.8 149.8h0M490.1 148.4h0M495.4 147.1h0M500.7 145.7h0M506.0 144.3h0M511.3 142.9h0M516.6 141.5h0M405.2 171.9h0M410.5 170.4h0M415.8 169.0h0M421.1 167.7h0M426.4 166.3h0M437.0 163.6h0M442.3 162.3h0M447.6 161.0h0M452.9 159.7h0M458.2 158.4h0M463.5 157.1h0M468.9 155.8h0M474.2 154.5h0M479.5 153.2h0M484.8 152.0h0M490.1 150.7h0M495.4 149.4h0M500.7 148.2h0M506.0 146.9h0M511.3 145.6h0M516.6 144.4h0M405.2 171.2h0M410.5 169.6h0M415.8 168.1h0M426.4 165.5h0M431.7 164.2h0M437.0 163.0h0M442.3 161.9h0M447.6 160.7h0M452.9 159.6h0M458.2 158.5h0M463.5 157.5h0M468.9 156.4h0M474.2 155.4h0M479.5 154.3h0M484.8 153.3h0M490.1 152.3h0M495.4 151.4h0M500.7 150.4h0M506.0 149.4h0M511.3 148.5h0M516.6 147.5h0M405.2 171.4h0M410.5 169.9h0M421.1 167.3h0M426.4 166.1h0M437.0 163.9h0M442.3 162.8h0M447.6 161.8h0M452.9 160.8h0M458.2 159.8h0M463.5 158.8h0M468.9 157.8h0M474.2 156.9h0M479.5 155.9h0M484.8 155.0h0M490.1 154.1h0M495.4 153.2h0M500.7 152.3h0M506.0 151.4h0M511.3 150.5h0M516.6 149.7h0M410.5 170.3h0M415.8 169.1h0M421.1 168.0h0M426.4 167.0h0M431.7 165.9h0M437.0 165.0h0M442.3 164.0h0M447.6 163.1h0M452.9 162.2h0M458.2 161.3h0M463.5 160.4h0M468.9 159.6h0M474.2 158.7h0M479.5 157.9h0M484.8 157.0h0M490.1 156.2h0M495.4 155.4h0M500.7 154.6h0M506.0 153.9h0M511.3 153.1h0M516.6 152.3h0M405.3 171.6h0M410.7 170.0h0M416.1 168.3h0M421.6 166.8h0M427.0 165.2h0M432.4 163.6h0M437.8 162.1h0M443.2 160.6h0M448.6 159.0h0M454.0 157.5h0M459.4 156.0h0M464.9 154.5h0M470.3 153.0h0M475.7 151.6h0M481.1 150.1h0M486.5 148.6h0M491.9 147.1h0M497.3 145.7h0M502.7 144.2h0M508.2 142.7h0M513.6 141.3h0M519.0 139.8h0M405.3 171.7h0M410.7 170.1h0M416.1 168.6h0M421.6 167.1h0M427.0 165.6h0M432.4 164.1h0M437.8 162.7h0M443.2 161.2h0M448.6 159.8h0M454.0 158.3h0M459.4 156.9h0M464.9 155.5h0M470.3 154.1h0M475.7 152.6h0M481.1 151.2h0M486.5 149.8h0M491.9 148.4h0M497.3 147.1h0M502.7 145.7h0M508.2 144.3h0M513.6 142.9h0M519.0 141.5h0M405.3 171.9h0M410.7 170.4h0M416.1 169.0h0M421.6 167.7h0M427.0 166.3h0M432.4 165.0h0M437.8 163.6h0M443.2 162.3h0M448.6 161.0h0M454.0 159.7h0M459.4 158.4h0M464.9 157.1h0M470.3 155.8h0M475.7 154.5h0M481.1 153.2h0M486.5 152.0h0M491.9 150.7h0M502.7 148.2h0M508.2 146.9h0M513.6 145.6h0M519.0 144.4h0M405.3 171.2h0M410.7 169.6h0M416.1 168.1h0M427.0 165.5h0M432.4 164.2h0M437.8 163.0h0M443.2 161.9h0M448.6 160.7h0M454.0 159.6h0M459.4 158.5h0M464.9 157.5h0M470.3 156.4h0M475.7 155.4h0M481.1 154.3h0M486.5 153.3h0M491.9 152.3h0M502.7 150.4h0M508.2 149.4h0M513.6 148.5h0M519.0 147.5h0M405.3 171.4h0M410.7 169.9h0M421.6 167.3h0M427.0 166.1h0M437.8 163.9h0M443.2 162.8h0M448.6 161.8h0M454.0 160.8h0M459.4 159.8h0M464.9 158.8h0M470.3 157.8h0M475.7 156.9h0M481.1 155.9h0M486.5 155.0h0M491.9 154.1h0M497.3 153.2h0M502.7 152.3h0M508.2 151.4h0M513.6 150.5h0M519.0 149.7h0M410.7 170.3h0M416.1 169.1h0M421.6 168.0h0M427.0 167.0h0M432.4 165.9h0M437.8 165.0h0M443.2 164.0h0M448.6 163.1h0M454.0 162.2h0M459.4 161.3h0M464.9 160.4h0M470.3 159.6h0M475.7 158.7h0M481.1 157.9h0M486.5 157.0h0M491.9 156.2h0M497.3 155.4h0M502.7 154.6h0M508.2 153.9h0M513.6 153.1h0M519.0 152.3h0M405.4 171.6h0M410.9 170.0h0M416.5 168.3h0M422.0 166.8h0M427.5 165.2h0M433.0 163.6h0M438.6 162.1h0M444.1 160.6h0M449.6 159.0h0M455.1 157.5h0M460.6 156.0h0M466.2 154.5h0M471.7 153.0h0M477.2 151.6h0M482.7 150.1h0M488.2 148.6h0M493.8 147.1h0M499.3 145.7h0M504.8 144.2h0M510.3 142.7h0M515.9 141.3h0M521.4 139.8h0M405.4 171.7h0M410.9 170.1h0M416.5 168.6h0M422.0 167.1h0M427.5 165.6h0M433.0 164.1h0M438.6 162.7h0M444.1 161.2h0M449.6 159.8h0M455.1 158.3h0M460.6 156.9h0M466.2 155.5h0M471.7 154.1h0M477.2 152.6h0M482.7 151.2h0M488.2 149.8h0M493.8 148.4h0M499.3 147.1h0M504.8 145.7h0M510.3 144.3h0M515.9 142.9h0M521.4 141.5h0M405.4 171.9h0M410.9 170.4h0M416.5 169.0h0M422.0 167.7h0M427.5 166.3h0M433.0 165.0h0M438.6 163.6h0M444.1 162.3h0M449.6 161.0h0M455.1 159.7h0M460.6 158.4h0M466.2 157.1h0M471.7 155.8h0M477.2 154.5h0M482.7 153.2h0M488.2 152.0h0M493.8 150.7h0M499.3 149.4h0M504.8 148.2h0M510.3 146.9h0M515.9 145.6h0M521.4 144.4h0M405.4 171.2h0M410.9 169.6h0M416.5 168.1h0M427.5 165.5h0M433.0 164.2h0M438.6 163.0h0M444.1 161.9h0M449.6 160.7h0M455.1 159.6h0M460.6 158.5h0M466.2 157.5h0M471.7 156.4h0M477.2 155.4h0M482.7 154.3h0M488.2 153.3h0M493.8 152.3h0M499.3 151.4h0M504.8 150.4h0M510.3 149.4h0M515.9 148.5h0M521.4 147.5h0M405.4 171.4h0M410.9 169.9h0M422.0 167.3h0M427.5 166.1h0M438.6 163.9h0M444.1 162.8h0M449.6 161.8h0M455.1 160.8h0M460.6 159.8h0M466.2 158.8h0M471.7 157.8h0M477.2 156.9h0M482.7 155.9h0M488.2 155.0h0M493.8 154.1h0M499.3 153.2h0M504.8 152.3h0M510.3 151.4h0M515.9 150.5h0M521.4 149.7h0M410.9 170.3h0M416.5 169.1h0M422.0 168.0h0M427.5 167.0h0M433.0 165.9h0M438.6 165.0h0M444.1 164.0h0M449.6 163.1h0M455.1 162.2h0M460.6 161.3h0M466.2 160.4h0M471.7 159.6h0M477.2 158.7h0M482.7 157.9h0M488.2 157.0h0M493.8 156.2h0M499.3 155.4h0M504.8 154.6h0M510.3 153.9h0M515.9 153.1h0M521.4 152.3h0M405.5 171.6h0M411.2 170.0h0M416.8 168.3h0M422.4 166.8h0M428.1 165.2h0M433.7 163.6h0M439.3 162.1h0M444.9 160.6h0M450.6 159.0h0M456.2 157.5h0M461.8 156.0h0M467.5 154.5h0M473.1 153.0h0M478.7 151.6h0M484.4 150.1h0M490.0 148.6h0M495.6 147.1h0M501.2 145.7h0M506.9 144.2h0M512.5 142.7h0M518.1 141.3h0M523.8 139.8h0M405.5 171.7h0M411.2 170.1h0M416.8 168.6h0M422.4 167.1h0M428.1 165.6h0M433.7 164.1h0M439.3 162.7h0M444.9 161.2h0M450.6 159.8h0M456.2 158.3h0M461.8 156.9h0M467.5 155.5h0M473.1 154.1h0M478.7 152.6h0M484.4 151.2h0M490.0 149.8h0M495.6 148.4h0M501.2 147.1h0M506.9 145.7h0M512.5 144.3h0M518.1 142.9h0M523.8 141.5h0M405.5 171.9h0M411.2 170.4h0M416.8 169.0h0M422.4 167.7h0M428.1 166.3h0M433.7 165.0h0M439.3 163.6h0M444.9 162.3h0M450.6 161.0h0M456.2 159.7h0M461.8 158.4h0M467.5 157.1h0M473.1 155.8h0M478.7 154.5h0M484.4 153.2h0M490.0 152.0h0M495.6 150.7h0M501.2 149.4h0M506.9 148.2h0M512.5 146.9h0M518.1 145.6h0M523.8 144.4h0M405.5 171.2h0M411.2 169.6h0M416.8 168.1h0M428.1 165.5h0M433.7 164.2h0M439.3 163.0h0M444.9 161.9h0M450.6 160.7h0M456.2 159.6h0M461.8 158.5h0M467.5 157.5h0M473.1 156.4h0M478.7 155.4h0M484.4 154.3h0M490.0 153.3h0M495.6 152.3h0M501.2 151.4h0M506.9 150.4h0M512.5 149.4h0M518.1 148.5h0M523.8 147.5h0M405.5 171.4h0M411.2 169.9h0M422.4 167.3h0M428.1 166.1h0M439.3 163.9h0M444.9 162.8h0M450.6 161.8h0M456.2 160.8h0M461.8 159.8h0M467.5 158.8h0M473.1 157.8h0M478.7 156.9h0M484.4 155.9h0M490.0 155.0h0M495.6 154.1h0M501.2 153.2h0M506.9 152.3h0M512.5 151.4h0M518.1 150.5h0M523.8 149.7h0M411.2 170.3h0M416.8 169.1h0M422.4 168.0h0M428.1 167.0h0M433.7 165.9h0M439.3 165.0h0M444.9 164.0h0M450.6 163.1h0M456.2 162.2h0M461.8 161.3h0M467.5 160.4h0M473.1 159.6h0M478.7 158.7h0M484.4 157.9h0M490.0 157.0h0M495.6 156.2h0M501.2 155.4h0M506.9 154.6h0M512.5 153.9h0M518.1 153.1h0M523.8 152.3h0M405.6 171.6h0M411.4 170.0h0M417.1 168.3h0M422.9 166.8h0M428.6 165.2h0M434.3 163.6h0M440.1 162.1h0M445.8 160.6h0M451.6 159.0h0M457.3 157.5h0M463.0 156.0h0M468.8 154.5h0M474.5 153.0h0M480.2 151.6h0M486.0 150.1h0M491.7 148.6h0M497.5 147.1h0M503.2 145.7h0M508.9 144.2h0M514.7 142.7h0M520.4 141.3h0M526.2 139.8h0M405.6 171.7h0M411.4 170.1h0M417.1 168.6h0M422.9 167.1h0M428.6 165.6h0M434.3 164.1h0M440.1 162.7h0M445.8 161.2h0M451.6 159.8h0M457.3 158.3h0M463.0 156.9h0M468.8 155.5h0M474.5 154.1h0M480.2 152.6h0M486.0 151.2h0M491.7 149.8h0M497.5 148.4h0M503.2 147.1h0M508.9 145.7h0M514.7 144.3h0M520.4 142.9h0M526.2 141.5h0M405.6 171.9h0M411.4 170.4h0M417.1 169.0h0M422.9 167.7h0M428.6 166.3h0M434.3 165.0h0M440.1 163.6h0M445.8 162.3h0M451.6 161.0h0M457.3 159.7h0M463.0 158.4h0M468.8 157.1h0M474.5 155.8h0M480.2 154.5h0M486.0 153.2h0M491.7 152.0h0M497.5 150.7h0M503.2 149.4h0M508.9 148.2h0M514.7 146.9h0M520.4 145.6h0M526.2 144.4h0M405.6 171.2h0M411.4 169.6h0M417.1 168.1h0M428.6 165.5h0M434.3 164.2h0M440.1 163.0h0M445.8 161.9h0M451.6 160.7h0M457.3 159.6h0M463.0 158.5h0M468.8 157.5h0M474.5 156.4h0M480.2 155.4h0M486.0 154.3h0M491.7 153.3h0M497.5 152.3h0M503.2 151.4h0M508.9 150.4h0M514.7 149.4h0M520.4 148.5h0M526.2 147.5h0M405.6 171.4h0M411.4 169.9h0M422.9 167.3h0M428.6 166.1h0M440.1 163.9h0M445.8 162.8h0M451.6 161.8h0M457.3 160.8h0M463.0 159.8h0M468.8 158.8h0M474.5 157.8h0M480.2 156.9h0M486.0 155.9h0M491.7 155.0h0M497.5 154.1h0M503.2 153.2h0M508.9 152.3h0M514.7 151.4h0M520.4 150.5h0M526.2 149.7h0M411.4 170.3h0M417.1 169.1h0M422.9 168.0h0M428.6 167.0h0M434.3 165.9h0M440.1 165.0h0M445.8 164.0h0M451.6 163.1h0M457.3 162.2h0M463.0 161.3h0M468.8 160.4h0M474.5 159.6h0M480.2 158.7h0M486.0 157.9h0M491.7 157.0h0M497.5 156.2h0M503.2 155.4h0M508.9 154.6h0M514.7 153.9h0M520.4 153.1h0M526.2 152.3h0M405.7 171.6h0M411.6 170.0h0M417.4 168.3h0M423.3 166.8h0M429.1 165.2h0M435.0 163.6h0M440.8 162.1h0M446.7 160.6h0M452.5 159.0h0M458.4 157.5h0M464.2 156.0h0M470.1 154.5h0M475.9 153.0h0M481.8 151.6h0M487.6 150.1h0M493.5 148.6h0M505.2 145.7h0M511.0 144.2h0M516.9 142.7h0M522.7 141.3h0M528.6 139.8h0M405.7 171.7h0M411.6 170.1h0M417.4 168.6h0M423.3 167.1h0M429.1 165.6h0M435.0 164.1h0M440.8 162.7h0M446.7 161.2h0M452.5 159.8h0M458.4 158.3h0M464.2 156.9h0M470.1 155.5h0M475.9 154.1h0M481.8 152.6h0M487.6 151.2h0M493.5 149.8h0M499.3 148.4h0M505.2 147.1h0M511.0 145.7h0M516.9 144.3h0M522.7 142.9h0M528.6 141.5h0M405.7 171.9h0M411.6 170.4h0M417.4 169.0h0M423.3 167.7h0M429.1 166.3h0M435.0 165.0h0M440.8 163.6h0M446.7 162.3h0M452.5 161.0h0M458.4 159.7h0M464.2 158.4h0M470.1 157.1h0M475.9 155.8h0M481.8 154.5h0M487.6 153.2h0M493.5 152.0h0M499.3 150.7h0M505.2 149.4h0M511.0 148.2h0M516.9 146.9h0M522.7 145.6h0M528.6 144.4h0M405.7 171.2h0M411.6 169.6h0M417.4 168.1h0M429.1 165.5h0M435.0 164.2h0M440.8 163.0h0M446.7 161.9h0M452.5 160.7h0M458.4 159.6h0M464.2 158.5h0M470.1 157.5h0M475.9 156.4h0M481.8 155.4h0M487.6 154.3h0M493.5 153.3h0M499.3 152.3h0M505.2 151.4h0M511.0 150.4h0M516.9 149.4h0M522.7 148.5h0M528.6 147.5h0M405.7 171.4h0M411.6 169.9h0M423.3 167.3h0M429.1 166.1h0M440.8 163.9h0M446.7 162.8h0M452.5 161.8h0M458.4 160.8h0M464.2 159.8h0M470.1 158.8h0M475.9 157.8h0M481.8 156.9h0M487.6 155.9h0M493.5 155.0h0M499.3 154.1h0M505.2 153.2h0M511.0 152.3h0M516.9 151.4h0M522.7 150.5h0M528.6 149.7h0M411.6 170.3h0M417.4 169.1h0M423.3 168.0h0M429.1 167.0h0M435.0 165.9h0M440.8 165.0h0M446.7 164.0h0M452.5 163.1h0M458.4 162.2h0M464.2 161.3h0M470.1 160.4h0M475.9 159.6h0M481.8 158.7h0M487.6 157.9h0M493.5 157.0h0M499.3 156.2h0M505.2 155.4h0M511.0 154.6h0M516.9 153.9h0M522.7 153.1h0M528.6 152.3h0M405.9 171.6h0M411.8 170.0h0M417.8 168.3h0M423.7 166.8h0M429.7 165.2h0M435.6 163.6h0M441.6 162.1h0M447.6 160.6h0M453.5 159.0h0M459.5 157.5h0M465.4 156.0h0M471.4 154.5h0M477.3 153.0h0M483.3 151.6h0M489.3 150.1h0M495.2 148.6h0M507.1 145.7h0M513.1 144.2h0M519.0 142.7h0M525.0 141.3h0M530.9 139.8h0M405.9 171.7h0M411.8 170.1h0M417.8 168.6h0M423.7 167.1h0M429.7 165.6h0M435.6 164.1h0M441.6 162.7h0M447.6 161.2h0M459.5 158.3h0M465.4 156.9h0M471.4 155.5h0M477.3 154.1h0M483.3 152.6h0M489.3 151.2h0M495.2 149.8h0M501.2 148.4h0M507.1 147.1h0M513.1 145.7h0M519.0 144.3h0M525.0 142.9h0M530.9 141.5h0M405.9 171.9h0M411.8 170.4h0M417.8 169.0h0M423.7 167.7h0M429.7 166.3h0M435.6 165.0h0M441.6 163.6h0M447.6 162.3h0M453.5 161.0h0M459.5 159.7h0M465.4 158.4h0M471.4 157.1h0M477.3 155.8h0M483.3 154.5h0M489.3 153.2h0M495.2 152.0h0M501.2 150.7h0M507.1 149.4h0M513.1 148.2h0M519.0 146.9h0M525.0 145.6h0M530.9 144.4h0M405.9 171.2h0M411.8 169.6h0M417.8 168.1h0M429.7 165.5h0M435.6 164.2h0M441.6 163.0h0M447.6 161.9h0M453.5 160.7h0M459.5 159.6h0M465.4 158.5h0M471.4 157.5h0M477.3 156.4h0M483.3 155.4h0M489.3 154.3h0M495.2 153.3h0M501.2 152.3h0M507.1 151.4h0M513.1 150.4h0M519.0 149.4h0M525.0 148.5h0M530.9 147.5h0M405.9 171.4h0M411.8 169.9h0M423.7 167.3h0M429.7 166.1h0M441.6 163.9h0M447.6 162.8h0M453.5 161.8h0M459.5 160.8h0M465.4 159.8h0M471.4 158.8h0M477.3 157.8h0M483.3 156.9h0M489.3 155.9h0M495.2 155.0h0M501.2 154.1h0M507.1 153.2h0M513.1 152.3h0M519.0 151.4h0M525.0 150.5h0M530.9 149.7h0M411.8 170.3h0M417.8 169.1h0M423.7 168.0h0M429.7 167.0h0M435.6 165.9h0M441.6 165.0h0M447.6 164.0h0M453.5 163.1h0M459.5 162.2h0M465.4 161.3h0M471.4 160.4h0M477.3 159.6h0M483.3 158.7h0M489.3 157.9h0M495.2 157.0h0M501.2 156.2h0M507.1 155.4h0M513.1 154.6h0M519.0 153.9h0M525.0 153.1h0M530.9 152.3h0M406.0 171.6h0M412.0 170.0h0M418.1 168.3h0M424.2 166.8h0M430.2 165.2h0M442.4 162.1h0M448.4 160.6h0M454.5 159.0h0M460.6 157.5h0M466.6 156.0h0M472.7 154.5h0M478.8 153.0h0M484.8 151.6h0M490.9 150.1h0M496.9 148.6h0M503.0 147.1h0M509.1 145.7h0M515.1 144.2h0M521.2 142.7h0M527.3 141.3h0M533.3 139.8h0M406.0 171.7h0M412.0 170.1h0M418.1 168.6h0M424.2 167.1h0M430.2 165.6h0M436.3 164.1h0M442.4 162.7h0M448.4 161.2h0M454.5 159.8h0M460.6 158.3h0M466.6 156.9h0M472.7 155.5h0M478.8 154.1h0M484.8 152.6h0M490.9 151.2h0M496.9 149.8h0M503.0 148.4h0M509.1 147.1h0M515.1 145.7h0M521.2 144.3h0M527.3 142.9h0M533.3 141.5h0M406.0 171.9h0M412.0 170.4h0M418.1 169.0h0M424.2 167.7h0M430.2 166.3h0M442.4 163.6h0M448.4 162.3h0M454.5 161.0h0M460.6 159.7h0M466.6 158.4h0M472.7 157.1h0M478.8 155.8h0M484.8 154.5h0M490.9 153.2h0M496.9 152.0h0M503.0 150.7h0M509.1 149.4h0M515.1 148.2h0M521.2 146.9h0M527.3 145.6h0M533.3 144.4h0M406.0 171.2h0M412.0 169.6h0M418.1 168.1h0M430.2 165.5h0M436.3 164.2h0M442.4 163.0h0M448.4 161.9h0M454.5 160.7h0M460.6 159.6h0M466.6 158.5h0M472.7 157.5h0M478.8 156.4h0M484.8 155.4h0M490.9 154.3h0M496.9 153.3h0M503.0 152.3h0M509.1 151.4h0M515.1 150.4h0M521.2 149.4h0M527.3 148.5h0M533.3 147.5h0M406.0 171.4h0M412.0 169.9h0M424.2 167.3h0M430.2 166.1h0M442.4 163.9h0M448.4 162.8h0M454.5 161.8h0M460.6 160.8h0M466.6 159.8h0M472.7 158.8h0M478.8 157.8h0M484.8 156.9h0M490.9 155.9h0M496.9 155.0h0M503.0 154.1h0M509.1 153.2h0M515.1 152.3h0M521.2 151.4h0M527.3 150.5h0M533.3 149.7h0M412.0 170.3h0M418.1 169.1h0M424.2 168.0h0M430.2 167.0h0M436.3 165.9h0M442.4 165.0h0M448.4 164.0h0M454.5 163.1h0M460.6 162.2h0M466.6 161.3h0M472.7 160.4h0M478.8 159.6h0M484.8 158.7h0M490.9 157.9h0M496.9 157.0h0M503.0 156.2h0M509.1 155.4h0M515.1 154.6h0M521.2 153.9h0M527.3 153.1h0M533.3 152.3h0M406.1 171.6h0M412.2 170.0h0M418.4 168.3h0M424.6 166.8h0M430.8 165.2h0M436.9 163.6h0M443.1 162.1h0M449.3 160.6h0M455.5 159.0h0M461.6 157.5h0M467.8 156.0h0M474.0 154.5h0M480.2 153.0h0M486.3 151.6h0M492.5 150.1h0M498.7 148.6h0M504.9 147.1h0M517.2 144.2h0M523.4 142.7h0M529.6 141.3h0M535.7 139.8h0M406.1 171.7h0M412.2 170.1h0M418.4 168.6h0M424.6 167.1h0M430.8 165.6h0M436.9 164.1h0M443.1 162.7h0M449.3 161.2h0M455.5 159.8h0M461.6 158.3h0M467.8 156.9h0M474.0 155.5h0M480.2 154.1h0M486.3 152.6h0M492.5 151.2h0M498.7 149.8h0M504.9 148.4h0M511.0 147.1h0M517.2 145.7h0M523.4 144.3h0M529.6 142.9h0M535.7 141.5h0M406.1 171.9h0M412.2 170.4h0M418.4 169.0h0M424.6 167.7h0M430.8 166.3h0M436.9 165.0h0M443.1 163.6h0M449.3 162.3h0M455.5 161.0h0M461.6 159.7h0M467.8 158.4h0M474.0 157.1h0M480.2 155.8h0M486.3 154.5h0M492.5 153.2h0M498.7 152.0h0M504.9 150.7h0M511.0 149.4h0M517.2 148.2h0M523.4 146.9h0M529.6 145.6h0M535.7 144.4h0M406.1 171.2h0M412.2 169.6h0M418.4 168.1h0M430.8 165.5h0M436.9 164.2h0M443.1 163.0h0M449.3 161.9h0M455.5 160.7h0M461.6 159.6h0M467.8 158.5h0M474.0 157.5h0M480.2 156.4h0M486.3 155.4h0M492.5 154.3h0M498.7 153.3h0M504.9 152.3h0M511.0 151.4h0M517.2 150.4h0M523.4 149.4h0M529.6 148.5h0M535.7 147.5h0M406.1 171.4h0M412.2 169.9h0M424.6 167.3h0M430.8 166.1h0M443.1 163.9h0M449.3 162.8h0M455.5 161.8h0M461.6 160.8h0M467.8 159.8h0M474.0 158.8h0M480.2 157.8h0M486.3 156.9h0M492.5 155.9h0M498.7 155.0h0M504.9 154.1h0M511.0 153.2h0M517.2 152.3h0M523.4 151.4h0M529.6 150.5h0M535.7 149.7h0M412.2 170.3h0M418.4 169.1h0M424.6 168.0h0M430.8 167.0h0M436.9 165.9h0M443.1 165.0h0M449.3 164.0h0M455.5 163.1h0M461.6 162.2h0M467.8 161.3h0M474.0 160.4h0M480.2 159.6h0M486.3 158.7h0M492.5 157.9h0M498.7 157.0h0M504.9 156.2h0M511.0 155.4h0M517.2 154.6h0M523.4 153.9h0M529.6 153.1h0M535.7 152.3h0M406.2 171.6h0M412.5 170.0h0M418.7 168.3h0M425.0 166.8h0M431.3 165.2h0M437.6 163.6h0M443.9 162.1h0M450.2 160.6h0M456.4 159.0h0M462.7 157.5h0M469.0 156.0h0M475.3 154.5h0M481.6 153.0h0M487.9 151.6h0M494.1 150.1h0M500.4 148.6h0M506.7 147.1h0M513.0 145.7h0M519.3 144.2h0M525.6 142.7h0M531.8 141.3h0M538.1 139.8h0M406.2 171.7h0M412.5 170.1h0M418.7 168.6h0M425.0 167.1h0M431.3 165.6h0M437.6 164.1h0M443.9 162.7h0M450.2 161.2h0M456.4 159.8h0M462.7 158.3h0M469.0 156.9h0M475.3 155.5h0M481.6 154.1h0M487.9 152.6h0M494.1 151.2h0M500.4 149.8h0M506.7 148.4h0M513.0 147.1h0M519.3 145.7h0M525.6 144.3h0M531.8 142.9h0M538.1 141.5h0M406.2 171.9h0M412.5 170.4h0M418.7 169.0h0M425.0 167.7h0M431.3 166.3h0M437.6 165.0h0M443.9 163.6h0M450.2 162.3h0M456.4 161.0h0M462.7 159.7h0M469.0 158.4h0M475.3 157.1h0M481.6 155.8h0M487.9 154.5h0M494.1 153.2h0M500.4 152.0h0M506.7 150.7h0M513.0 149.4h0M519.3 148.2h0M525.6 146.9h0M531.8 145.6h0M538.1 144.4h0M406.2 171.2h0M412.5 169.6h0M418.7 168.1h0M431.3 165.5h0M437.6 164.2h0M443.9 163.0h0M450.2 161.9h0M456.4 160.7h0M462.7 159.6h0M469.0 158.5h0M475.3 157.5h0M481.6 156.4h0M487.9 155.4h0M494.1 154.3h0M500.4 153.3h0M506.7 152.3h0M513.0 151.4h0M519.3 150.4h0M525.6 149.4h0M531.8 148.5h0M538.1 147.5h0M406.2 171.4h0M412.5 169.9h0M425.0 167.3h0M431.3 166.1h0M443.9 163.9h0M450.2 162.8h0M456.4 161.8h0M462.7 160.8h0M469.0 159.8h0M475.3 158.8h0M481.6 157.8h0M487.9 156.9h0M494.1 155.9h0M500.4 155.0h0M506.7 154.1h0M513.0 153.2h0M519.3 152.3h0M525.6 151.4h0M531.8 150.5h0M538.1 149.7h0M412.5 170.3h0M418.7 169.1h0M425.0 168.0h0M431.3 167.0h0M437.6 165.9h0M443.9 165.0h0M450.2 164.0h0M456.4 163.1h0M462.7 162.2h0M469.0 161.3h0M475.3 160.4h0M481.6 159.6h0M487.9 158.7h0M494.1 157.9h0M500.4 157.0h0M506.7 156.2h0M513.0 155.4h0M519.3 154.6h0M525.6 153.9h0M531.8 153.1h0M538.1 152.3h0M406.3 171.6h0M412.7 170.0h0M419.1 168.3h0M425.5 166.8h0M431.9 165.2h0M438.3 163.6h0M444.6 162.1h0M451.0 160.6h0M457.4 159.0h0M463.8 157.5h0M470.2 156.0h0M476.6 154.5h0M483.0 153.0h0M489.4 151.6h0M495.8 150.1h0M502.2 148.6h0M508.6 147.1h0M515.0 145.7h0M521.3 144.2h0M527.7 142.7h0M534.1 141.3h0M540.5 139.8h0M406.3 171.7h0M412.7 170.1h0M419.1 168.6h0M425.5 167.1h0M431.9 165.6h0M438.3 164.1h0M444.6 162.7h0M451.0 161.2h0M457.4 159.8h0M463.8 158.3h0M470.2 156.9h0M476.6 155.5h0M483.0 154.1h0M489.4 152.6h0M495.8 151.2h0M502.2 149.8h0M508.6 148.4h0M515.0 147.1h0M521.3 145.7h0M527.7 144.3h0M534.1 142.9h0M540.5 141.5h0M406.3 171.9h0M412.7 170.4h0M419.1 169.0h0M425.5 167.7h0M431.9 166.3h0M438.3 165.0h0M444.6 163.6h0M451.0 162.3h0M457.4 161.0h0M463.8 159.7h0M470.2 158.4h0M476.6 157.1h0M483.0 155.8h0M489.4 154.5h0M495.8 153.2h0M502.2 152.0h0M508.6 150.7h0M515.0 149.4h0M521.3 148.2h0M527.7 146.9h0M534.1 145.6h0M540.5 144.4h0M406.3 171.2h0M412.7 169.6h0M419.1 168.1h0M431.9 165.5h0M438.3 164.2h0M444.6 163.0h0M451.0 161.9h0M457.4 160.7h0M463.8 159.6h0M470.2 158.5h0M476.6 157.5h0M483.0 156.4h0M489.4 155.4h0M495.8 154.3h0M502.2 153.3h0M508.6 152.3h0M515.0 151.4h0M521.3 150.4h0M527.7 149.4h0M534.1 148.5h0M540.5 147.5h0M406.3 171.4h0M412.7 169.9h0M425.5 167.3h0M431.9 166.1h0M444.6 163.9h0M451.0 162.8h0M457.4 161.8h0M463.8 160.8h0M470.2 159.8h0M476.6 158.8h0M483.0 157.8h0M489.4 156.9h0M495.8 155.9h0M502.2 155.0h0M508.6 154.1h0M515.0 153.2h0M521.3 152.3h0M527.7 151.4h0M534.1 150.5h0M540.5 149.7h0M412.7 170.3h0M419.1 169.1h0M425.5 168.0h0M431.9 167.0h0M438.3 165.9h0M444.6 165.0h0M451.0 164.0h0M457.4 163.1h0M463.8 162.2h0M470.2 161.3h0M476.6 160.4h0M483.0 159.6h0M489.4 158.7h0M495.8 157.9h0M502.2 157.0h0M508.6 156.2h0M515.0 155.4h0M521.3 154.6h0M527.7 153.9h0M534.1 153.1h0M540.5 152.3h0M406.4 171.6h0M412.9 170.0h0M419.4 168.3h0M425.9 166.8h0M432.4 165.2h0M438.9 163.6h0M445.4 162.1h0M451.9 160.6h0M458.4 159.0h0M471.4 156.0h0M477.9 154.5h0M484.4 153.0h0M490.9 151.6h0M497.4 150.1h0M503.9 148.6h0M510.4 147.1h0M516.9 145.7h0M523.4 144.2h0M529.9 142.7h0M536.4 141.3h0M542.9 139.8h0M406.4 171.7h0M412.9 170.1h0M419.4 168.6h0M425.9 167.1h0M432.4 165.6h0M438.9 164.1h0M445.4 162.7h0M451.9 161.2h0M458.4 159.8h0M464.9 158.3h0M471.4 156.9h0M477.9 155.5h0M484.4 154.1h0M490.9 152.6h0M497.4 151.2h0M503.9 149.8h0M510.4 148.4h0M516.9 147.1h0M523.4 145.7h0M529.9 144.3h0M536.4 142.9h0M542.9 141.5h0M406.4 171.9h0M412.9 170.4h0M419.4 169.0h0M425.9 167.7h0M432.4 166.3h0M438.9 165.0h0M445.4 163.6h0M451.9 162.3h0M458.4 161.0h0M464.9 159.7h0M471.4 158.4h0M477.9 157.1h0M484.4 155.8h0M490.9 154.5h0M497.4 153.2h0M503.9 152.0h0M510.4 150.7h0M523.4 148.2h0M529.9 146.9h0M536.4 145.6h0M542.9 144.4h0M406.4 171.2h0M412.9 169.6h0M419.4 168.1h0M432.4 165.5h0M438.9 164.2h0M445.4 163.0h0M451.9 161.9h0M458.4 160.7h0M464.9 159.6h0M471.4 158.5h0M477.9 157.5h0M484.4 156.4h0M490.9 155.4h0M497.4 154.3h0M503.9 153.3h0M510.4 152.3h0M523.4 150.4h0M529.9 149.4h0M536.4 148.5h0M542.9 147.5h0M406.4 171.4h0M412.9 169.9h0M425.9 167.3h0M432.4 166.1h0M445.4 163.9h0M451.9 162.8h0M458.4 161.8h0M464.9 160.8h0M471.4 159.8h0M477.9 158.8h0M484.4 157.8h0M490.9 156.9h0M497.4 155.9h0M503.9 155.0h0M510.4 154.1h0M516.9 153.2h0M523.4 152.3h0M529.9 151.4h0M536.4 150.5h0M542.9 149.7h0M412.9 170.3h0M419.4 169.1h0M425.9 168.0h0M432.4 167.0h0M438.9 165.9h0M445.4 165.0h0M451.9 164.0h0M458.4 163.1h0M464.9 162.2h0M471.4 161.3h0M477.9 160.4h0M484.4 159.6h0M490.9 158.7h0M497.4 157.9h0M503.9 157.0h0M510.4 156.2h0M516.9 155.4h0M523.4 154.6h0M529.9 153.9h0M536.4 153.1h0M542.9 152.3h0M406.5 171.6h0M413.1 170.0h0M419.7 168.3h0M426.3 166.8h0M432.9 165.2h0M439.6 163.6h0M446.2 162.1h0M452.8 160.6h0M459.4 159.0h0M466.0 157.5h0M472.6 156.0h0M479.2 154.5h0M485.8 153.0h0M492.4 151.6h0M499.0 150.1h0M505.7 148.6h0M512.3 147.1h0M518.9 145.7h0M525.5 144.2h0M532.1 142.7h0M538.7 141.3h0M545.3 139.8h0M406.5 171.7h0M413.1 170.1h0M419.7 168.6h0M426.3 167.1h0M432.9 165.6h0M439.6 164.1h0M446.2 162.7h0M452.8 161.2h0M466.0 158.3h0M479.2 155.5h0M485.8 154.1h0M492.4 152.6h0M499.0 151.2h0M505.7 149.8h0M512.3 148.4h0M518.9 147.1h0M525.5 145.7h0M532.1 144.3h0M538.7 142.9h0M545.3 141.5h0M406.5 171.9h0M413.1 170.4h0M419.7 169.0h0M426.3 167.7h0M432.9 166.3h0M439.6 165.0h0M446.2 163.6h0M452.8 162.3h0M459.4 161.0h0M466.0 159.7h0M472.6 158.4h0M479.2 157.1h0M485.8 155.8h0M492.4 154.5h0M499.0 153.2h0M505.7 152.0h0M512.3 150.7h0M518.9 149.4h0M525.5 148.2h0M532.1 146.9h0M538.7 145.6h0M545.3 144.4h0M406.5 171.2h0M413.1 169.6h0M419.7 168.1h0M432.9 165.5h0M439.6 164.2h0M446.2 163.0h0M452.8 161.9h0M459.4 160.7h0M472.6 158.5h0M479.2 157.5h0M485.8 156.4h0M492.4 155.4h0M499.0 154.3h0M505.7 153.3h0M512.3 152.3h0M518.9 151.4h0M525.5 150.4h0M532.1 149.4h0M538.7 148.5h0M545.3 147.5h0M406.5 171.4h0M413.1 169.9h0M426.3 167.3h0M432.9 166.1h0M446.2 163.9h0M452.8 162.8h0M459.4 161.8h0M466.0 160.8h0M472.6 159.8h0M479.2 158.8h0M485.8 157.8h0M492.4 156.9h0M499.0 155.9h0M505.7 155.0h0M512.3 154.1h0M518.9 153.2h0M525.5 152.3h0M532.1 151.4h0M538.7 150.5h0M545.3 149.7h0M413.1 170.3h0M419.7 169.1h0M426.3 168.0h0M432.9 167.0h0M439.6 165.9h0M446.2 165.0h0M452.8 164.0h0M459.4 163.1h0M466.0 162.2h0M472.6 161.3h0M479.2 160.4h0M485.8 159.6h0M492.4 158.7h0M499.0 157.9h0M505.7 157.0h0M512.3 156.2h0M518.9 155.4h0M525.5 154.6h0M532.1 153.9h0M538.7 153.1h0M545.3 152.3h0M406.6 171.9h0M413.3 170.4h0M420.1 169.0h0M426.8 167.7h0M433.5 166.3h0M440.2 165.0h0M446.9 163.6h0M453.6 162.3h0M460.4 161.0h0M467.1 159.7h0M473.8 158.4h0M480.5 157.1h0M487.2 155.8h0M494.0 154.5h0M500.7 153.2h0M507.4 152.0h0M514.1 150.7h0M520.8 149.4h0M527.5 148.2h0M534.3 146.9h0M541.0 145.6h0M547.7 144.4h0M406.6 171.2h0M413.3 169.6h0M420.1 168.1h0M426.8 166.8h0M433.5 165.5h0M440.2 164.2h0M446.9 163.0h0M453.6 161.9h0M460.4 160.7h0M467.1 159.6h0M473.8 158.5h0M480.5 157.5h0M487.2 156.4h0M494.0 155.4h0M500.7 154.3h0M507.4 153.3h0M514.1 152.3h0M520.8 151.4h0M527.5 150.4h0M534.3 149.4h0M541.0 148.5h0M547.7 147.5h0M406.6 171.4h0M413.3 169.9h0M420.1 168.6h0M426.8 167.3h0M433.5 166.1h0M446.9 163.9h0M453.6 162.8h0M460.4 161.8h0M467.1 160.8h0M473.8 159.8h0M480.5 158.8h0M487.2 157.8h0M494.0 156.9h0M500.7 155.9h0M507.4 155.0h0M514.1 154.1h0M520.8 153.2h0M527.5 152.3h0M534.3 151.4h0M541.0 150.5h0M547.7 149.7h0M406.6 171.6h0M413.3 170.3h0M420.1 169.1h0M426.8 168.0h0M433.5 167.0h0M440.2 165.9h0M446.9 165.0h0M453.6 164.0h0M460.4 163.1h0M467.1 162.2h0M473.8 161.3h0M480.5 160.4h0M487.2 159.6h0M494.0 158.7h0M500.7 157.9h0M507.4 157.0h0M514.1 156.2h0M520.8 155.4h0M527.5 154.6h0M534.3 153.9h0M541.0 153.1h0M547.7 152.3h0M406.7 171.9h0M413.6 170.4h0M420.4 169.0h0M427.2 167.7h0M434.0 166.3h0M440.9 165.0h0M447.7 163.6h0M454.5 162.3h0M461.3 161.0h0M468.2 159.7h0M475.0 158.4h0M481.8 157.1h0M488.7 155.8h0M495.5 154.5h0M502.3 153.2h0M509.1 152.0h0M516.0 150.7h0M522.8 149.4h0M529.6 148.2h0M536.4 146.9h0M543.3 145.6h0M550.1 144.4h0M406.7 171.2h0M413.6 169.6h0M420.4 168.1h0M427.2 166.8h0M434.0 165.5h0M440.9 164.2h0M447.7 163.0h0M454.5 161.9h0M461.3 160.7h0M468.2 159.6h0M475.0 158.5h0M481.8 157.5h0M488.7 156.4h0M495.5 155.4h0M502.3 154.3h0M509.1 153.3h0M516.0 152.3h0M522.8 151.4h0M529.6 150.4h0M536.4 149.4h0M543.3 148.5h0M550.1 147.5h0M406.7 171.4h0M413.6 169.9h0M420.4 168.6h0M427.2 167.3h0M434.0 166.1h0M447.7 163.9h0M454.5 162.8h0M461.3 161.8h0M468.2 160.8h0M475.0 159.8h0M481.8 158.8h0M488.7 157.8h0M495.5 156.9h0M502.3 155.9h0M509.1 155.0h0M516.0 154.1h0M522.8 153.2h0M529.6 152.3h0M536.4 151.4h0M543.3 150.5h0M550.1 149.7h0M406.7 171.6h0M413.6 170.3h0M420.4 169.1h0M427.2 168.0h0M434.0 167.0h0M440.9 165.9h0M447.7 165.0h0M454.5 164.0h0M461.3 163.1h0M468.2 162.2h0M475.0 161.3h0M481.8 160.4h0M488.7 159.6h0M495.5 158.7h0M502.3 157.9h0M509.1 157.0h0M516.0 156.2h0M522.8 155.4h0M529.6 154.6h0M536.4 153.9h0M543.3 153.1h0M550.1 152.3h0M406.8 171.9h0M413.8 170.4h0M420.7 169.0h0M427.6 167.7h0M434.6 166.3h0M441.5 165.0h0M448.5 163.6h0M455.4 162.3h0M462.3 161.0h0M469.3 159.7h0M476.2 158.4h0M483.1 157.1h0M490.1 155.8h0M497.0 154.5h0M503.9 153.2h0M510.9 152.0h0M517.8 150.7h0M524.7 149.4h0M531.7 148.2h0M538.6 146.9h0M545.6 145.6h0M552.5 144.4h0M406.8 171.2h0M413.8 169.6h0M420.7 168.1h0M427.6 166.8h0M434.6 165.5h0M441.5 164.2h0M448.5 163.0h0M455.4 161.9h0M462.3 160.7h0M469.3 159.6h0M476.2 158.5h0M483.1 157.5h0M490.1 156.4h0M497.0 155.4h0M503.9 154.3h0M510.9 153.3h0M517.8 152.3h0M524.7 151.4h0M531.7 150.4h0M538.6 149.4h0M545.6 148.5h0M552.5 147.5h0M406.8 171.4h0M413.8 169.9h0M420.7 168.6h0M427.6 167.3h0M434.6 166.1h0M448.5 163.9h0M455.4 162.8h0M462.3 161.8h0M469.3 160.8h0M476.2 159.8h0M483.1 158.8h0M490.1 157.8h0M497.0 156.9h0M503.9 155.9h0M510.9 155.0h0M517.8 154.1h0M524.7 153.2h0M531.7 152.3h0M538.6 151.4h0M545.6 150.5h0M552.5 149.7h0M406.8 171.6h0M413.8 170.3h0M420.7 169.1h0M427.6 168.0h0M434.6 167.0h0M441.5 165.9h0M448.5 165.0h0M455.4 164.0h0M462.3 163.1h0M469.3 162.2h0M476.2 161.3h0M483.1 160.4h0M490.1 159.6h0M497.0 158.7h0M503.9 157.9h0M510.9 157.0h0M517.8 156.2h0M524.7 155.4h0M531.7 154.6h0M538.6 153.9h0M545.6 153.1h0M552.5 152.3h0M406.9 171.9h0M414.0 170.4h0M421.0 169.0h0M428.1 167.7h0M435.1 166.3h0M442.2 165.0h0M449.2 163.6h0M456.3 162.3h0M463.3 161.0h0M470.3 159.7h0M477.4 158.4h0M484.4 157.1h0M491.5 155.8h0M498.5 154.5h0M505.6 153.2h0M512.6 152.0h0M519.7 150.7h0M526.7 149.4h0M533.8 148.2h0M540.8 146.9h0M547.8 145.6h0M554.9 144.4h0M406.9 171.2h0M414.0 169.6h0M421.0 168.1h0M428.1 166.8h0M435.1 165.5h0M442.2 164.2h0M449.2 163.0h0M456.3 161.9h0M463.3 160.7h0M477.4 158.5h0M484.4 157.5h0M491.5 156.4h0M498.5 155.4h0M505.6 154.3h0M512.6 153.3h0M519.7 152.3h0M526.7 151.4h0M533.8 150.4h0M540.8 149.4h0M547.8 148.5h0M554.9 147.5h0M406.9 171.4h0M414.0 169.9h0M421.0 168.6h0M428.1 167.3h0M435.1 166.1h0M449.2 163.9h0M456.3 162.8h0M463.3 161.8h0M470.3 160.8h0M477.4 159.8h0M484.4 158.8h0M491.5 157.8h0M498.5 156.9h0M505.6 155.9h0M512.6 155.0h0M519.7 154.1h0M526.7 153.2h0M533.8 152.3h0M540.8 151.4h0M547.8 150.5h0M554.9 149.7h0M406.9 171.6h0M414.0 170.3h0M421.0 169.1h0M428.1 168.0h0M435.1 167.0h0M442.2 165.9h0M449.2 165.0h0M456.3 164.0h0M463.3 163.1h0M470.3 162.2h0M477.4 161.3h0M484.4 160.4h0M491.5 159.6h0M498.5 158.7h0M505.6 157.9h0M512.6 157.0h0M519.7 156.2h0M526.7 155.4h0M533.8 154.6h0M540.8 153.9h0M547.8 153.1h0M554.9 152.3h0M407.1 171.9h0M414.2 170.4h0M421.4 169.0h0M428.5 167.7h0M435.7 166.3h0M442.8 165.0h0M450.0 163.6h0M457.1 162.3h0M464.3 161.0h0M471.4 159.7h0M478.6 158.4h0M485.7 157.1h0M492.9 155.8h0M500.1 154.5h0M507.2 153.2h0M514.4 152.0h0M521.5 150.7h0M528.7 149.4h0M535.8 148.2h0M543.0 146.9h0M550.1 145.6h0M557.3 144.4h0M407.1 171.2h0M414.2 169.6h0M421.4 168.1h0M428.5 166.8h0M435.7 165.5h0M442.8 164.2h0M450.0 163.0h0M457.1 161.9h0M464.3 160.7h0M471.4 159.6h0M478.6 158.5h0M485.7 157.5h0M492.9 156.4h0M500.1 155.4h0M507.2 154.3h0M514.4 153.3h0M521.5 152.3h0M528.7 151.4h0M535.8 150.4h0M543.0 149.4h0M550.1 148.5h0M557.3 147.5h0M407.1 171.4h0M414.2 169.9h0M421.4 168.6h0M428.5 167.3h0M435.7 166.1h0M450.0 163.9h0M457.1 162.8h0M464.3 161.8h0M471.4 160.8h0M478.6 159.8h0M485.7 158.8h0M492.9 157.8h0M500.1 156.9h0M507.2 155.9h0M514.4 155.0h0M521.5 154.1h0M528.7 153.2h0M535.8 152.3h0M543.0 151.4h0M550.1 150.5h0M557.3 149.7h0M407.1 171.6h0M414.2 170.3h0M421.4 169.1h0M428.5 168.0h0M435.7 167.0h0M442.8 165.9h0M450.0 165.0h0M457.1 164.0h0M464.3 163.1h0M471.4 162.2h0M478.6 161.3h0M485.7 160.4h0M492.9 159.6h0M500.1 158.7h0M507.2 157.9h0M514.4 157.0h0M521.5 156.2h0M528.7 155.4h0M535.8 154.6h0M543.0 153.9h0M550.1 153.1h0M557.3 152.3h0M407.2 171.9h0M414.4 170.4h0M421.7 169.0h0M428.9 167.7h0M436.2 166.3h0M443.5 165.0h0M450.7 163.6h0M458.0 162.3h0M465.3 161.0h0M472.5 159.7h0M479.8 158.4h0M487.0 157.1h0M494.3 155.8h0M501.6 154.5h0M508.8 153.2h0M516.1 152.0h0M523.4 150.7h0M530.6 149.4h0M537.9 148.2h0M545.1 146.9h0M552.4 145.6h0M559.7 144.4h0M407.2 171.2h0M414.4 169.6h0M421.7 168.1h0M428.9 166.8h0M436.2 165.5h0M443.5 164.2h0M450.7 163.0h0M458.0 161.9h0M465.3 160.7h0M472.5 159.6h0M479.8 158.5h0M487.0 157.5h0M494.3 156.4h0M501.6 155.4h0M508.8 154.3h0M516.1 153.3h0M530.6 151.4h0M537.9 150.4h0M545.1 149.4h0M552.4 148.5h0M559.7 147.5h0M407.2 171.4h0M414.4 169.9h0M421.7 168.6h0M428.9 167.3h0M436.2 166.1h0M450.7 163.9h0M458.0 162.8h0M465.3 161.8h0M472.5 160.8h0M479.8 159.8h0M487.0 158.8h0M494.3 157.8h0M501.6 156.9h0M508.8 155.9h0M516.1 155.0h0M523.4 154.1h0M530.6 153.2h0M537.9 152.3h0M545.1 151.4h0M552.4 150.5h0M559.7 149.7h0M407.2 171.6h0M414.4 170.3h0M421.7 169.1h0M428.9 168.0h0M436.2 167.0h0M443.5 165.9h0M450.7 165.0h0M458.0 164.0h0M465.3 163.1h0M472.5 162.2h0M479.8 161.3h0M487.0 160.4h0M494.3 159.6h0M501.6 158.7h0M508.8 157.9h0M516.1 157.0h0M523.4 156.2h0M530.6 155.4h0M537.9 154.6h0M545.1 153.9h0M552.4 153.1h0M559.7 152.3h0M407.3 171.9h0M414.6 170.4h0M422.0 169.0h0M429.4 167.7h0M436.8 166.3h0M444.1 165.0h0M451.5 163.6h0M458.9 162.3h0M466.2 161.0h0M473.6 159.7h0M481.0 158.4h0M488.4 157.1h0M495.7 155.8h0M503.1 154.5h0M510.5 153.2h0M517.8 152.0h0M525.2 150.7h0M532.6 149.4h0M540.0 148.2h0M547.3 146.9h0M554.7 145.6h0M562.1 144.4h0M407.3 171.2h0M414.6 169.6h0M422.0 168.1h0M429.4 166.8h0M436.8 165.5h0M444.1 164.2h0M451.5 163.0h0M458.9 161.9h0M466.2 160.7h0M473.6 159.6h0M481.0 158.5h0M488.4 157.5h0M495.7 156.4h0M503.1 155.4h0M510.5 154.3h0M517.8 153.3h0M525.2 152.3h0M532.6 151.4h0M540.0 150.4h0M547.3 149.4h0M554.7 148.5h0M562.1 147.5h0M407.3 171.4h0M414.6 169.9h0M422.0 168.6h0M429.4 167.3h0M436.8 166.1h0M451.5 163.9h0M458.9 162.8h0M466.2 161.8h0M473.6 160.8h0M481.0 159.8h0M488.4 158.8h0M495.7 157.8h0M503.1 156.9h0M510.5 155.9h0M517.8 155.0h0M525.2 154.1h0M532.6 153.2h0M540.0 152.3h0M547.3 151.4h0M554.7 150.5h0M562.1 149.7h0M407.3 171.6h0M414.6 170.3h0M422.0 169.1h0M429.4 168.0h0M436.8 167.0h0M444.1 165.9h0M451.5 165.0h0M458.9 164.0h0M466.2 163.1h0M473.6 162.2h0M481.0 161.3h0M488.4 160.4h0M495.7 159.6h0M503.1 158.7h0M510.5 157.9h0M517.8 157.0h0M525.2 156.2h0M532.6 155.4h0M540.0 154.6h0M547.3 153.9h0M554.7 153.1h0M562.1 152.3h0M407.4 171.9h0M414.9 170.4h0M422.3 169.0h0M429.8 167.7h0M437.3 166.3h0M444.8 165.0h0M452.3 163.6h0M459.7 162.3h0M467.2 161.0h0M474.7 159.7h0M482.2 158.4h0M489.7 157.1h0M497.1 155.8h0M504.6 154.5h0M512.1 153.2h0M519.6 152.0h0M527.1 150.7h0M534.5 149.4h0M542.0 148.2h0M549.5 146.9h0M557.0 145.6h0M564.5 144.4h0M407.4 171.2h0M414.9 169.6h0M422.3 168.1h0M429.8 166.8h0M437.3 165.5h0M444.8 164.2h0M452.3 163.0h0M459.7 161.9h0M467.2 160.7h0M474.7 159.6h0M482.2 158.5h0M489.7 157.5h0M497.1 156.4h0M504.6 155.4h0M512.1 154.3h0M519.6 153.3h0M527.1 152.3h0M534.5 151.4h0M542.0 150.4h0M549.5 149.4h0M557.0 148.5h0M564.5 147.5h0M407.4 171.4h0M414.9 169.9h0M422.3 168.6h0M429.8 167.3h0M437.3 166.1h0M452.3 163.9h0M459.7 162.8h0M467.2 161.8h0M474.7 160.8h0M482.2 159.8h0M489.7 158.8h0M497.1 157.8h0M504.6 156.9h0M512.1 155.9h0M519.6 155.0h0M527.1 154.1h0M534.5 153.2h0M542.0 152.3h0M549.5 151.4h0M557.0 150.5h0M564.5 149.7h0M407.4 171.6h0M414.9 170.3h0M422.3 169.1h0M429.8 168.0h0M437.3 167.0h0M444.8 165.9h0M452.3 165.0h0M459.7 164.0h0M467.2 163.1h0M474.7 162.2h0M482.2 161.3h0M489.7 160.4h0M497.1 159.6h0M504.6 158.7h0M512.1 157.9h0M519.6 157.0h0M527.1 156.2h0M534.5 155.4h0M542.0 154.6h0M549.5 153.9h0M557.0 153.1h0M564.5 152.3h0M407.5 171.9h0M415.1 170.4h0M422.7 169.0h0M430.3 167.7h0M437.8 166.3h0M453.0 163.6h0M460.6 162.3h0M468.2 161.0h0M475.8 159.7h0M483.4 158.4h0M491.0 157.1h0M498.6 155.8h0M506.1 154.5h0M513.7 153.2h0M521.3 152.0h0M528.9 150.7h0M536.5 149.4h0M544.1 148.2h0M551.7 146.9h0M559.3 145.6h0M566.9 144.4h0M407.5 171.2h0M415.1 169.6h0M422.7 168.1h0M430.3 166.8h0M437.8 165.5h0M445.4 164.2h0M453.0 163.0h0M460.6 161.9h0M468.2 160.7h0M475.8 159.6h0M483.4 158.5h0M491.0 157.5h0M498.6 156.4h0M506.1 155.4h0M513.7 154.3h0M521.3 153.3h0M528.9 152.3h0M536.5 151.4h0M544.1 150.4h0M551.7 149.4h0M559.3 148.5h0M566.9 147.5h0M407.5 171.4h0M415.1 169.9h0M422.7 168.6h0M430.3 167.3h0M437.8 166.1h0M453.0 163.9h0M460.6 162.8h0M468.2 161.8h0M475.8 160.8h0M483.4 159.8h0M491.0 158.8h0M498.6 157.8h0M506.1 156.9h0M513.7 155.9h0M521.3 155.0h0M528.9 154.1h0M536.5 153.2h0M544.1 152.3h0M551.7 151.4h0M559.3 150.5h0M566.9 149.7h0M407.5 171.6h0M415.1 170.3h0M422.7 169.1h0M430.3 168.0h0M437.8 167.0h0M445.4 165.9h0M453.0 165.0h0M460.6 164.0h0M468.2 163.1h0M475.8 162.2h0M483.4 161.3h0M491.0 160.4h0M498.6 159.6h0M506.1 158.7h0M513.7 157.9h0M521.3 157.0h0M528.9 156.2h0M536.5 155.4h0M544.1 154.6h0M551.7 153.9h0M559.3 153.1h0M566.9 152.3h0M407.6 171.9h0M415.3 170.4h0M423.0 169.0h0M430.7 167.7h0M438.4 166.3h0M446.1 165.0h0M453.8 163.6h0M461.5 162.3h0M469.2 161.0h0M476.9 159.7h0M484.6 158.4h0M492.3 157.1h0M500.0 155.8h0M507.7 154.5h0M515.4 153.2h0M523.1 152.0h0M530.8 150.7h0M538.5 149.4h0M546.2 148.2h0M553.9 146.9h0M561.5 145.6h0M569.2 144.4h0M407.6 171.2h0M415.3 169.6h0M423.0 168.1h0M430.7 166.8h0M438.4 165.5h0M446.1 164.2h0M453.8 163.0h0M461.5 161.9h0M469.2 160.7h0M476.9 159.6h0M484.6 158.5h0M492.3 157.5h0M500.0 156.4h0M507.7 155.4h0M515.4 154.3h0M523.1 153.3h0M530.8 152.3h0M538.5 151.4h0M546.2 150.4h0M553.9 149.4h0M561.5 148.5h0M569.2 147.5h0M407.6 171.4h0M415.3 169.9h0M423.0 168.6h0M430.7 167.3h0M438.4 166.1h0M453.8 163.9h0M461.5 162.8h0M469.2 161.8h0M476.9 160.8h0M484.6 159.8h0M492.3 158.8h0M500.0 157.8h0M507.7 156.9h0M515.4 155.9h0M523.1 155.0h0M530.8 154.1h0M538.5 153.2h0M546.2 152.3h0M553.9 151.4h0M561.5 150.5h0M569.2 149.7h0M407.6 171.6h0M415.3 170.3h0M423.0 169.1h0M430.7 168.0h0M438.4 167.0h0M446.1 165.9h0M453.8 165.0h0M461.5 164.0h0M469.2 163.1h0M476.9 162.2h0M484.6 161.3h0M492.3 160.4h0M500.0 159.6h0M507.7 158.7h0M515.4 157.9h0M523.1 157.0h0M530.8 156.2h0M538.5 155.4h0M546.2 154.6h0M553.9 153.9h0M561.5 153.1h0M569.2 152.3h0M408.0 171.3h0M416.0 169.6h0M424.1 168.1h0M432.2 166.6h0M440.2 165.2h0M448.3 163.8h0M456.4 162.4h0M464.4 161.1h0M472.5 159.8h0M480.5 158.6h0M488.6 157.3h0M496.7 156.1h0M504.7 154.9h0M512.8 153.6h0M520.9 152.5h0M528.9 151.3h0M537.0 150.1h0M545.1 148.9h0M553.1 147.8h0M561.2 146.7h0M569.3 145.5h0M577.3 144.4h0M408.1 171.3h0M416.3 169.6h0M424.5 168.1h0M432.7 166.6h0M440.9 165.2h0M449.1 163.8h0M457.3 162.4h0M465.5 161.1h0M473.6 159.8h0M481.8 158.6h0M490.0 157.3h0M498.2 156.1h0M506.4 154.9h0M514.6 153.6h0M522.8 152.5h0M531.0 151.3h0M539.2 150.1h0M547.4 148.9h0M555.6 147.8h0M563.8 146.7h0M572.0 145.5h0M580.2 144.4h0M408.2 171.3h0M416.6 169.6h0M424.9 168.1h0M433.2 166.6h0M441.5 165.2h0M449.9 163.8h0M458.2 162.4h0M466.5 161.1h0M474.9 159.8h0M483.2 158.6h0M491.5 157.3h0M499.9 156.1h0M508.2 154.9h0M516.5 153.6h0M524.8 152.5h0M533.2 151.3h0M541.5 150.1h0M549.8 148.9h0M558.2 147.8h0M566.5 146.7h0M574.8 145.5h0M583.2 144.4h0M408.4 171.3h0M416.8 169.6h0M425.3 168.1h0M433.8 166.6h0M442.2 165.2h0M450.7 163.8h0M459.2 162.4h0M467.6 161.1h0M476.1 159.8h0M484.6 158.6h0M493.0 157.3h0M501.5 156.1h0M510.0 154.9h0M518.4 153.6h0M526.9 152.5h0M535.4 151.3h0M543.8 150.1h0M552.3 148.9h0M560.8 147.8h0M569.2 146.7h0M577.7 145.5h0M586.2 144.4h0M408.5 171.3h0M417.1 169.6h0M425.7 168.1h0M434.3 166.6h0M442.9 165.2h0M451.5 163.8h0M460.1 162.4h0M468.7 161.1h0M477.3 159.8h0M485.9 158.6h0M494.5 157.3h0M503.1 156.1h0M511.7 154.9h0M520.3 153.6h0M528.9 152.5h0M537.5 151.3h0M546.1 150.1h0M554.7 148.9h0M563.3 147.8h0M571.9 146.7h0M580.5 145.5h0M589.1 144.4h0M408.7 171.4h0M417.5 169.7h0M426.3 168.2h0M435.1 166.8h0M443.9 165.4h0M452.7 164.0h0M461.5 162.7h0M470.3 161.4h0M479.2 160.2h0M488.0 158.9h0M496.8 157.7h0M505.6 156.5h0M514.4 155.3h0M523.2 154.1h0M532.0 153.0h0M540.8 151.8h0M549.6 150.7h0M558.4 149.5h0M567.2 148.4h0M576.0 147.3h0M584.8 146.2h0M593.6 145.1h0M408.7 171.7h0M417.5 170.3h0M426.3 169.0h0M435.1 167.8h0M443.9 166.6h0M452.7 165.5h0M461.5 164.3h0M470.3 163.3h0M479.2 162.2h0M488.0 161.1h0M496.8 160.1h0M505.6 159.1h0M514.4 158.1h0M523.2 157.1h0M532.0 156.1h0M540.8 155.1h0M549.6 154.1h0M558.4 153.2h0M567.2 152.2h0M576.0 151.3h0M584.8 150.4h0M593.6 149.4h0M408.8 171.4h0M417.8 169.7h0M426.7 168.2h0M435.7 166.8h0M444.6 165.4h0M462.5 162.7h0M471.4 161.4h0M480.4 160.2h0M489.3 158.9h0M498.3 157.7h0M507.2 156.5h0M516.1 155.3h0M525.1 154.1h0M534.0 153.0h0M543.0 151.8h0M551.9 150.7h0M560.9 149.5h0M569.8 148.4h0M578.7 147.3h0M587.7 146.2h0M596.6 145.1h0M408.8 171.7h0M417.8 170.3h0M426.7 169.0h0M435.7 167.8h0M444.6 166.6h0M453.6 165.5h0M462.5 164.3h0M471.4 163.3h0M480.4 162.2h0M489.3 161.1h0M498.3 160.1h0M507.2 159.1h0M516.1 158.1h0M525.1 157.1h0M534.0 156.1h0M543.0 155.1h0M551.9 154.1h0M560.9 153.2h0M569.8 152.2h0M578.7 151.3h0M587.7 150.4h0M596.6 149.4h0M409.0 171.4h0M418.1 169.7h0M427.1 168.2h0M436.2 166.8h0M445.3 165.4h0M454.4 164.0h0M463.4 162.7h0M472.5 161.4h0M481.6 160.2h0M490.7 158.9h0M499.8 157.7h0M508.8 156.5h0M517.9 155.3h0M527.0 154.1h0M536.1 153.0h0M545.1 151.8h0M554.2 150.7h0M563.3 149.5h0M572.4 148.4h0M581.5 147.3h0M590.5 146.2h0M599.6 145.1h0M409.0 171.7h0M418.1 170.3h0M427.1 169.0h0M436.2 167.8h0M445.3 166.6h0M454.4 165.5h0M463.4 164.3h0M472.5 163.3h0M481.6 162.2h0M490.7 161.1h0M499.8 160.1h0M508.8 159.1h0M517.9 158.1h0M527.0 157.1h0M536.1 156.1h0M545.1 155.1h0M554.2 154.1h0M563.3 153.2h0M572.4 152.2h0M581.5 151.3h0M590.5 150.4h0M599.6 149.4h0M409.1 171.7h0M418.3 170.3h0M427.5 169.0h0M436.8 167.8h0M446.0 166.6h0M455.2 165.5h0M464.4 164.3h0M473.6 163.3h0M482.8 162.2h0M492.0 161.1h0M501.3 160.1h0M510.5 159.1h0M519.7 158.1h0M528.9 157.1h0M538.1 156.1h0M547.3 155.1h0M556.5 154.1h0M565.8 153.2h0M575.0 152.2h0M584.2 151.3h0M593.4 150.4h0M602.6 149.4h0M409.3 171.7h0M418.7 170.3h0M428.1 169.0h0M437.4 167.8h0M446.8 166.6h0M456.2 165.5h0M465.6 164.3h0M475.0 163.3h0M484.4 162.2h0M493.7 161.1h0M503.1 160.1h0M512.5 159.1h0M521.9 158.1h0M531.3 157.1h0M540.7 156.1h0M550.0 155.1h0M559.4 154.1h0M568.8 153.2h0M578.2 152.2h0M587.6 151.3h0M597.0 150.4h0M606.3 149.4h0M410.6 171.6h0M421.4 170.2h0M432.1 169.0h0M442.8 167.9h0M453.5 166.9h0M464.3 165.8h0M475.0 164.9h0M485.7 163.9h0M496.4 163.0h0M507.2 162.1h0M517.9 161.2h0M528.6 160.3h0M539.3 159.5h0M550.1 158.6h0M560.8 157.8h0M571.5 157.0h0M582.2 156.2h0M593.0 155.4h0M603.7 154.6h0M614.4 153.8h0M625.1 153.1h0M635.9 152.3h0M409.3 171.1h0M419.3 169.4h0M429.5 167.8h0M439.9 166.4h0M450.5 165.1h0M461.1 163.8h0M471.8 162.5h0M482.5 161.3h0M493.3 160.1h0M504.2 159.0h0M515.1 157.8h0M526.1 156.7h0M537.1 155.7h0M548.2 154.6h0M559.3 153.5h0M570.4 152.5h0M581.5 151.5h0M592.7 150.4h0M603.9 149.4h0M615.2 148.5h0M626.4 147.5h0M637.7 146.5h0M404.0 170.7h0M412.1 165.4h0M416.2 162.7h0M420.3 160.0h0M424.4 157.3h0M428.5 154.7h0M436.6 149.3h0M440.7 146.6h0M444.8 144.0h0M448.9 141.3h0M452.9 138.6h0M457.0 135.9h0M461.1 133.3h0M465.2 130.6h0M469.3 127.9h0M473.3 125.2h0M477.4 122.6h0M481.5 119.9h0M485.6 117.2h0M489.7 114.5h0M408.4 169.0h0M412.6 166.9h0M416.8 164.7h0M421.1 162.5h0M425.3 160.3h0M429.5 158.1h0M433.8 156.0h0M438.0 153.8h0M446.5 149.4h0M450.7 147.2h0M454.9 145.1h0M459.2 142.9h0M463.4 140.7h0M467.7 138.5h0M471.9 136.4h0M476.1 134.2h0M480.4 132.0h0M484.6 129.8h0M488.8 127.6h0M493.1 125.5h0M402.1 170.7h0M410.3 165.4h0M415.6 162.8h0M421.5 160.1h0M428.0 157.5h0M434.9 154.8h0M442.2 152.2h0M450.0 149.5h0M458.2 146.9h0M466.7 144.2h0M475.5 141.5h0M484.7 138.9h0M494.2 136.2h0M504.0 133.6h0M514.0 130.9h0M524.3 128.3h0M534.9 125.6h0M545.8 123.0h0M556.9 120.3h0M568.2 117.7h0M579.8 115.0h0M407.9 169.0h0M413.4 166.8h0M419.5 164.7h0M426.1 162.5h0M433.2 160.3h0M440.5 158.1h0M448.2 155.9h0M456.2 153.7h0M464.5 151.5h0M473.0 149.4h0M481.8 147.2h0M490.8 145.0h0M500.0 142.8h0M509.3 140.6h0M518.9 138.4h0M528.7 136.2h0M538.6 134.1h0M548.7 131.9h0M559.0 129.7h0M569.4 127.5h0M580.0 125.3h0M407.9 171.5h0M416.4 169.6h0M425.2 167.7h0M434.1 165.9h0M443.1 164.0h0M452.3 162.1h0M461.5 160.2h0M470.7 158.3h0M480.1 156.4h0M498.9 152.7h0M508.3 150.8h0M517.8 148.9h0M527.4 147.0h0M536.9 145.1h0M546.6 143.2h0M556.2 141.3h0M565.9 139.4h0M575.6 137.6h0M585.3 135.7h0M595.0 133.8h0M604.8 131.9h0M409.6 171.7h0M419.9 170.1h0M430.4 168.4h0M441.0 166.7h0M451.8 165.0h0M462.6 163.4h0M473.5 161.7h0M484.5 160.0h0M495.5 158.3h0M506.6 156.7h0M517.7 155.0h0M528.9 153.3h0M540.1 151.6h0M551.3 150.0h0M562.6 148.3h0M573.9 146.6h0M585.2 144.9h0M596.5 143.3h0M607.9 141.6h0M619.3 139.9h0M630.7 138.3h0M642.2 136.6h0M404.2 171.5h0M408.5 169.7h0M412.8 167.8h0M417.1 165.9h0M430.0 160.3h0M438.6 156.5h0M442.9 154.7h0M447.2 152.8h0M451.5 150.9h0M455.8 149.0h0M460.0 147.2h0M464.3 145.3h0M468.6 143.4h0M472.9 141.5h0M477.2 139.7h0M481.5 137.8h0M485.8 135.9h0M490.1 134.0h0M494.4 132.2h0M404.4 171.5h0M408.9 169.7h0M413.3 167.8h0M417.8 165.9h0M431.3 160.3h0M435.8 158.4h0M440.2 156.5h0M444.7 154.7h0M449.2 152.8h0M453.7 150.9h0M458.2 149.0h0M462.6 147.2h0M467.1 145.3h0M471.6 143.4h0M476.1 141.5h0M480.6 139.7h0M485.1 137.8h0M489.5 135.9h0M494.0 134.0h0M498.5 132.2h0M404.6 171.5h0M409.4 169.7h0M414.1 167.8h0M418.8 165.9h0M423.5 164.0h0M428.3 162.2h0M433.0 160.3h0M437.7 158.4h0M442.5 156.5h0M447.2 154.7h0M451.9 152.8h0M456.6 150.9h0M461.4 149.0h0M466.1 147.2h0M470.8 145.3h0M475.6 143.4h0M480.3 141.5h0M485.0 139.7h0M489.8 137.8h0M494.5 135.9h0M499.2 134.0h0M503.9 132.2h0M416.8 168.4h0M422.4 166.7h0M428.0 165.0h0M433.7 163.3h0M439.3 161.6h0M444.9 159.9h0M450.5 158.3h0M456.2 156.6h0M461.8 154.9h0M467.4 153.2h0M473.0 151.5h0M478.7 149.8h0M484.3 148.2h0M489.9 146.5h0M495.5 144.8h0M501.2 143.1h0M506.8 141.4h0M512.4 139.8h0M518.0 138.1h0M523.7 136.4h0M403.3 171.5h0M407.7 169.7h0M412.6 167.8h0M417.8 166.0h0M423.3 164.1h0M429.1 162.3h0M435.0 160.4h0M441.1 158.6h0M447.4 156.7h0M453.8 154.9h0M460.3 153.0h0M466.9 151.2h0M473.7 149.3h0M480.5 147.5h0M487.5 145.6h0M494.6 143.8h0M501.7 141.9h0M508.9 140.1h0M516.2 138.2h0M523.6 136.4h0M531.1 134.5h0M538.6 132.6h0M403.3 171.6h0M406.7 169.9h0M410.1 168.1h0M413.5 166.3h0M416.9 164.6h0M420.3 162.8h0M423.7 161.0h0M427.1 159.3h0M430.5 157.5h0M433.9 155.7h0M437.3 154.0h0M440.7 152.2h0M444.1 150.5h0M447.5 148.7h0M450.9 146.9h0M454.3 145.2h0M457.7 143.4h0M461.1 141.6h0M464.5 139.9h0M467.9 138.1h0M471.3 136.3h0M474.7 134.6h0M405.8 170.0h0M408.7 168.3h0M411.6 166.6h0M414.6 164.9h0M417.5 163.2h0M420.5 161.5h0M423.4 159.8h0M426.3 158.1h0M429.3 156.4h0M432.2 154.7h0M435.1 153.0h0M438.1 151.3h0M441.0 149.6h0M443.9 147.9h0M446.9 146.2h0M449.8 144.5h0M452.8 142.8h0M455.7 141.1h0M458.6 139.4h0M461.6 137.7h0M464.5 136.0h0" stroke="#0000ff" stroke-width="5.4" stroke-linecap="round" fill="none"/>
<line x1="402.2" y1="166.5" x2="642.9" y2="134.3" stroke="#000" stroke-width="1.8"/>
<rect x="391.5" y="5.6" width="263.1" height="167.8" fill="none" stroke="#262626" stroke-width="1.3"/>
<text x="383.6" y="177.3" font-size="10" text-anchor="end" font-family="Liberation Sans, Arial, Helvetica, sans-serif" fill="#262626">0</text>
<text x="383.6" y="153.4" font-size="10" text-anchor="end" font-family="Liberation Sans, Arial, Helvetica, sans-serif" fill="#262626">1</text>
<text x="383.6" y="129.4" font-size="10" text-anchor="end" font-family="Liberation Sans, Arial, Helvetica, sans-serif" fill="#262626">2</text>
<text x="383.6" y="105.4" font-size="10" text-anchor="end" font-family="Liberation Sans, Arial, Helvetica, sans-serif" fill="#262626">3</text>
<text x="383.6" y="81.5" font-size="10" text-anchor="end" font-family="Liberation Sans, Arial, Helvetica, sans-serif" fill="#262626">4</text>
<text x="383.6" y="57.5" font-size="10" text-anchor="end" font-family="Liberation Sans, Arial, Helvetica, sans-serif" fill="#262626">5</text>
<text x="383.6" y="33.5" font-size="10" text-anchor="end" font-family="Liberation Sans, Arial, Helvetica, sans-serif" fill="#262626">6</text>
<text x="383.6" y="9.5" font-size="10" text-anchor="end" font-family="Liberation Sans, Arial, Helvetica, sans-serif" fill="#262626">7</text>
<text x="399.9" y="188.5" font-size="10" text-anchor="middle" font-family="Liberation Sans, Arial, Helvetica, sans-serif" fill="#262626">0.0</text>
<text x="433.9" y="188.5" font-size="10" text-anchor="middle" font-family="Liberation Sans, Arial, Helvetica, sans-serif" fill="#262626">0.5</text>
<text x="467.9" y="188.5" font-size="10" text-anchor="middle" font-family="Liberation Sans, Arial, Helvetica, sans-serif" fill="#262626">1.0</text>
<text x="501.9" y="188.5" font-size="10" text-anchor="middle" font-family="Liberation Sans, Arial, Helvetica, sans-serif" fill="#262626">1.5</text>
<text x="535.9" y="188.5" font-size="10" text-anchor="middle" font-family="Liberation Sans, Arial, Helvetica, sans-serif" fill="#262626">2.0</text>
<text x="569.9" y="188.5" font-size="10" text-anchor="middle" font-family="Liberation Sans, Arial, Helvetica, sans-serif" fill="#262626">2.5</text>
<text x="603.9" y="188.5" font-size="10" text-anchor="middle" font-family="Liberation Sans, Arial, Helvetica, sans-serif" fill="#262626">3.0</text>
<text x="637.9" y="188.5" font-size="10" text-anchor="middle" font-family="Liberation Sans, Arial, Helvetica, sans-serif" fill="#262626">3.5</text>
<text x="523.0" y="202.0" font-size="12.45" text-anchor="middle" font-family="Liberation Sans, Arial, Helvetica, sans-serif" fill="#262626">Experimental results (s)</text>
<text x="372.5" y="89.5" font-size="12.45" text-anchor="middle" font-family="Liberation Sans, Arial, Helvetica, sans-serif" fill="#262626" transform="rotate(-90 372.5 89.5)">Predicted results (s)</text>
<rect x="562.8" y="10.1" width="86.2" height="18.0" rx="2" fill="#fff" fill-opacity="0.8" stroke="#ccc" stroke-width="1"/>
<circle cx="577.5" cy="19.3" r="2.7" fill="#0000ff"/>
<text x="596.1" y="22.8" font-size="10.25" text-anchor="start" font-family="Liberation Sans, Arial, Helvetica, sans-serif" fill="#262626">R<tspan font-size="13" dy="0.4" dx="-0.2">²</tspan><tspan dy="-0.4" dx="-0.4"> = 0.485</tspan></text>
</g>
<g>
<path d="M42.2 417.7h0M42.3 417.7h0M42.4 417.7h0M42.5 417.7h0M42.6 417.7h0M42.8 417.7h0M42.9 417.7h0M43.0 417.7h0M43.1 417.7h0M43.2 417.7h0M43.3 417.7h0M43.4 417.7h0M43.5 417.7h0M43.6 417.7h0M43.7 417.7h0M43.8 417.7h0M43.9 417.7h0M44.1 417.7h0M44.2 417.7h0M44.3 417.7h0M44.4 417.7h0M44.5 417.7h0M44.6 417.7h0M44.7 417.7h0M44.8 417.7h0M44.9 417.7h0M45.0 417.7h0M45.1 417.7h0M45.2 417.7h0M45.4 417.7h0M45.5 417.7h0M45.6 417.7h0M45.7 417.7h0M45.8 417.7h0M45.9 417.7h0M46.0 417.7h0M46.1 417.7h0M46.2 417.7h0M46.3 417.7h0M46.4 417.7h0M46.5 417.7h0M46.7 417.7h0M46.8 417.7h0M46.9 417.7h0M47.0 417.7h0M47.1 417.7h0M47.2 417.7h0M47.3 417.7h0M47.4 417.7h0M47.5 417.7h0M47.6 417.7h0M47.7 417.7h0M47.8 417.7h0M48.0 417.7h0M48.1 417.7h0M48.2 417.7h0M48.5 417.7h0M48.7 417.7h0M48.8 417.7h0M48.9 417.7h0M49.1 417.7h0M49.3 417.7h0M49.4 417.7h0M49.6 417.7h0M49.7 417.7h0M49.9 417.7h0M51.5 417.7h0M43.9 415.8h0M44.1 415.8h0M44.4 415.8h0M44.6 415.8h0M44.8 415.8h0M45.0 415.8h0M45.2 415.8h0M45.4 415.8h0M45.7 415.8h0M45.9 415.8h0M46.1 415.8h0M46.3 415.8h0M46.5 415.8h0M46.7 415.8h0M47.0 415.8h0M47.2 415.8h0M47.4 415.8h0M47.6 415.8h0M47.8 415.8h0M48.0 415.8h0M48.3 415.8h0M48.5 415.8h0M48.7 415.8h0M48.9 415.8h0M49.1 415.8h0M49.3 415.8h0M49.6 415.8h0M49.8 415.8h0M50.0 415.8h0M50.2 415.8h0M50.4 415.8h0M50.6 415.8h0M50.9 415.8h0M51.1 415.8h0M51.3 415.8h0M51.5 415.8h0M51.7 415.8h0M51.9 415.8h0M52.2 415.8h0M52.4 415.8h0M52.6 415.8h0M52.8 415.8h0M53.0 415.8h0M53.2 415.8h0M53.5 415.8h0M53.7 415.8h0M53.9 415.8h0M54.1 415.8h0M54.3 415.8h0M54.5 415.8h0M54.8 415.8h0M55.0 415.8h0M55.2 415.8h0M55.4 415.8h0M55.6 415.8h0M55.8 415.8h0M56.6 415.8h0M56.8 415.8h0M57.1 415.8h0M57.4 415.8h0M57.7 415.8h0M58.1 415.8h0M58.3 415.8h0M58.6 415.8h0M58.9 415.8h0M59.2 415.8h0M62.4 415.8h0M45.6 414.2h0M46.0 414.2h0M46.3 414.2h0M46.6 414.2h0M46.9 414.2h0M47.3 414.2h0M47.6 414.2h0M47.9 414.2h0M48.2 414.2h0M48.6 414.2h0M48.9 414.2h0M49.2 414.2h0M49.5 414.2h0M49.9 414.2h0M50.2 414.2h0M50.5 414.2h0M50.8 414.2h0M51.2 414.2h0M51.5 414.2h0M51.8 414.2h0M52.1 414.2h0M52.5 414.2h0M52.8 414.2h0M53.1 414.2h0M53.4 414.2h0M53.8 414.2h0M54.1 414.2h0M54.4 414.2h0M54.7 414.2h0M55.1 414.2h0M55.4 414.2h0M55.7 414.2h0M56.0 414.2h0M56.4 414.2h0M56.7 414.2h0M57.0 414.2h0M57.3 414.2h0M57.7 414.2h0M58.0 414.2h0M58.3 414.2h0M58.6 414.2h0M59.0 414.2h0M59.3 414.2h0M59.6 414.2h0M59.9 414.2h0M60.3 414.2h0M60.6 414.2h0M60.9 414.2h0M61.2 414.2h0M61.6 414.2h0M61.9 414.2h0M62.2 414.2h0M62.5 414.2h0M62.9 414.2h0M63.2 414.2h0M63.5 414.2h0M64.6 414.2h0M65.0 414.2h0M65.4 414.2h0M65.8 414.2h0M66.2 414.2h0M66.8 414.2h0M67.2 414.2h0M67.7 414.2h0M68.1 414.2h0M68.6 414.2h0M73.4 414.2h0M47.3 412.7h0M47.8 412.7h0M48.2 412.7h0M48.6 412.7h0M49.1 412.7h0M49.5 412.7h0M49.9 412.7h0M50.4 412.7h0M50.8 412.7h0M51.2 412.7h0M51.7 412.7h0M52.1 412.7h0M52.5 412.7h0M53.0 412.7h0M53.4 412.7h0M53.8 412.7h0M54.3 412.7h0M54.7 412.7h0M55.1 412.7h0M55.6 412.7h0M56.0 412.7h0M56.4 412.7h0M56.9 412.7h0M57.3 412.7h0M57.7 412.7h0M58.2 412.7h0M58.6 412.7h0M59.1 412.7h0M59.5 412.7h0M59.9 412.7h0M60.4 412.7h0M60.8 412.7h0M61.2 412.7h0M61.7 412.7h0M62.1 412.7h0M62.5 412.7h0M63.0 412.7h0M63.4 412.7h0M63.8 412.7h0M64.3 412.7h0M64.7 412.7h0M65.1 412.7h0M65.6 412.7h0M66.0 412.7h0M66.4 412.7h0M66.9 412.7h0M67.3 412.7h0M67.7 412.7h0M68.2 412.7h0M68.6 412.7h0M69.0 412.7h0M69.5 412.7h0M69.9 412.7h0M70.3 412.7h0M70.8 412.7h0M71.2 412.7h0M72.7 412.7h0M73.2 412.7h0M73.7 412.7h0M74.3 412.7h0M74.8 412.7h0M75.6 412.7h0M76.2 412.7h0M76.7 412.7h0M77.2 412.7h0M77.9 412.7h0M84.3 412.7h0M49.0 411.3h0M49.6 411.3h0M50.1 411.3h0M50.7 411.3h0M51.2 411.3h0M51.8 411.3h0M52.3 411.3h0M52.8 411.3h0M53.4 411.3h0M53.9 411.3h0M54.5 411.3h0M55.0 411.3h0M55.6 411.3h0M56.1 411.3h0M56.6 411.3h0M57.2 411.3h0M57.7 411.3h0M58.3 411.3h0M58.8 411.3h0M59.3 411.3h0M59.9 411.3h0M60.4 411.3h0M61.0 411.3h0M61.5 411.3h0M62.1 411.3h0M62.6 411.3h0M63.1 411.3h0M63.7 411.3h0M64.2 411.3h0M64.8 411.3h0M65.3 411.3h0M65.9 411.3h0M66.4 411.3h0M66.9 411.3h0M67.5 411.3h0M68.0 411.3h0M68.6 411.3h0M69.1 411.3h0M69.7 411.3h0M70.2 411.3h0M70.7 411.3h0M71.3 411.3h0M71.8 411.3h0M72.4 411.3h0M72.9 411.3h0M73.5 411.3h0M74.0 411.3h0M74.5 411.3h0M75.1 411.3h0M75.6 411.3h0M76.2 411.3h0M76.7 411.3h0M77.2 411.3h0M77.8 411.3h0M78.3 411.3h0M78.9 411.3h0M80.7 411.3h0M81.3 411.3h0M82.0 411.3h0M82.7 411.3h0M83.4 411.3h0M84.4 411.3h0M85.1 411.3h0M85.8 411.3h0M86.4 411.3h0M87.3 411.3h0M95.3 411.3h0M95.2 411.3h0M50.8 409.9h0M51.4 409.9h0M52.1 409.9h0M52.7 409.9h0M53.4 409.9h0M54.0 409.9h0M54.7 409.9h0M55.3 409.9h0M56.0 409.9h0M56.6 409.9h0M57.3 409.9h0M57.9 409.9h0M58.6 409.9h0M59.2 409.9h0M59.9 409.9h0M60.5 409.9h0M61.2 409.9h0M61.8 409.9h0M62.5 409.9h0M63.1 409.9h0M63.8 409.9h0M64.4 409.9h0M65.1 409.9h0M65.7 409.9h0M66.4 409.9h0M67.0 409.9h0M67.7 409.9h0M68.3 409.9h0M69.0 409.9h0M69.6 409.9h0M70.3 409.9h0M70.9 409.9h0M71.6 409.9h0M72.2 409.9h0M72.9 409.9h0M73.5 409.9h0M74.2 409.9h0M74.8 409.9h0M75.5 409.9h0M76.1 409.9h0M76.8 409.9h0M77.4 409.9h0M78.1 409.9h0M78.7 409.9h0M79.4 409.9h0M80.0 409.9h0M80.7 409.9h0M81.3 409.9h0M82.0 409.9h0M82.6 409.9h0M83.3 409.9h0M83.9 409.9h0M84.6 409.9h0M85.2 409.9h0M85.9 409.9h0M86.5 409.9h0M88.7 409.9h0M89.5 409.9h0M90.3 409.9h0M91.1 409.9h0M92.0 409.9h0M93.2 409.9h0M94.0 409.9h0M94.8 409.9h0M95.6 409.9h0M96.6 409.9h0M106.2 409.9h0M106.1 409.9h0M52.5 408.6h0M53.2 408.6h0M54.0 408.6h0M54.7 408.6h0M55.5 408.6h0M56.3 408.6h0M57.0 408.6h0M57.8 408.6h0M58.5 408.6h0M59.3 408.6h0M60.1 408.6h0M60.8 408.6h0M61.6 408.6h0M62.3 408.6h0M63.1 408.6h0M63.9 408.6h0M64.6 408.6h0M65.4 408.6h0M66.1 408.6h0M66.9 408.6h0M67.6 408.6h0M68.4 408.6h0M69.2 408.6h0M69.9 408.6h0M70.7 408.6h0M71.4 408.6h0M72.2 408.6h0M73.0 408.6h0M73.7 408.6h0M74.5 408.6h0M75.2 408.6h0M76.0 408.6h0M76.8 408.6h0M77.5 408.6h0M78.3 408.6h0M79.0 408.6h0M79.8 408.6h0M80.6 408.6h0M81.3 408.6h0M82.1 408.6h0M82.8 408.6h0M83.6 408.6h0M84.4 408.6h0M85.1 408.6h0M85.9 408.6h0M86.6 408.6h0M87.4 408.6h0M88.1 408.6h0M88.9 408.6h0M89.7 408.6h0M90.4 408.6h0M91.2 408.6h0M91.9 408.6h0M92.7 408.6h0M93.5 408.6h0M94.2 408.6h0M96.8 408.6h0M97.7 408.6h0M98.6 408.6h0M99.6 408.6h0M100.5 408.6h0M102.0 408.6h0M102.9 408.6h0M103.9 408.6h0M104.8 408.6h0M106.0 408.6h0M117.2 408.6h0M117.0 408.6h0M54.2 407.4h0M55.0 407.4h0M55.9 407.4h0M56.8 407.4h0M57.6 407.4h0M58.5 407.4h0M59.4 407.4h0M60.2 407.4h0M61.1 407.4h0M62.0 407.4h0M62.8 407.4h0M63.7 407.4h0M64.6 407.4h0M65.5 407.4h0M66.3 407.4h0M67.2 407.4h0M68.1 407.4h0M68.9 407.4h0M69.8 407.4h0M70.7 407.4h0M71.5 407.4h0M72.4 407.4h0M73.3 407.4h0M74.1 407.4h0M75.0 407.4h0M75.9 407.4h0M76.7 407.4h0M77.6 407.4h0M78.5 407.4h0M79.3 407.4h0M80.2 407.4h0M81.1 407.4h0M81.9 407.4h0M82.8 407.4h0M83.7 407.4h0M84.5 407.4h0M85.4 407.4h0M86.3 407.4h0M87.1 407.4h0M88.0 407.4h0M88.9 407.4h0M89.7 407.4h0M90.6 407.4h0M91.5 407.4h0M92.4 407.4h0M93.2 407.4h0M94.1 407.4h0M95.0 407.4h0M95.8 407.4h0M96.7 407.4h0M97.6 407.4h0M98.4 407.4h0M99.3 407.4h0M100.2 407.4h0M101.0 407.4h0M101.9 407.4h0M104.8 407.4h0M105.9 407.4h0M106.9 407.4h0M108.0 407.4h0M109.1 407.4h0M110.7 407.4h0M111.8 407.4h0M112.9 407.4h0M114.0 407.4h0M115.4 407.4h0M128.2 407.4h0M127.9 407.4h0M55.9 406.2h0M56.9 406.2h0M57.8 406.2h0M58.8 406.2h0M59.8 406.2h0M60.8 406.2h0M61.7 406.2h0M62.7 406.2h0M63.7 406.2h0M64.7 406.2h0M65.6 406.2h0M66.6 406.2h0M67.6 406.2h0M68.6 406.2h0M69.5 406.2h0M70.5 406.2h0M71.5 406.2h0M72.5 406.2h0M73.5 406.2h0M74.4 406.2h0M75.4 406.2h0M76.4 406.2h0M77.4 406.2h0M78.3 406.2h0M79.3 406.2h0M80.3 406.2h0M81.3 406.2h0M82.2 406.2h0M83.2 406.2h0M84.2 406.2h0M85.2 406.2h0M86.1 406.2h0M87.1 406.2h0M88.1 406.2h0M89.1 406.2h0M90.0 406.2h0M91.0 406.2h0M92.0 406.2h0M93.0 406.2h0M94.0 406.2h0M94.9 406.2h0M95.9 406.2h0M96.9 406.2h0M97.9 406.2h0M98.8 406.2h0M99.8 406.2h0M100.8 406.2h0M101.8 406.2h0M102.7 406.2h0M103.7 406.2h0M104.7 406.2h0M105.7 406.2h0M106.6 406.2h0M107.6 406.2h0M108.6 406.2h0M109.6 406.2h0M112.9 406.2h0M114.0 406.2h0M115.2 406.2h0M116.5 406.2h0M117.7 406.2h0M119.5 406.2h0M120.7 406.2h0M122.0 406.2h0M123.2 406.2h0M124.7 406.2h0M139.1 406.2h0M138.7 406.2h0M57.6 405.0h0M58.7 405.0h0M59.8 405.0h0M60.8 405.0h0M61.9 405.0h0M63.0 405.0h0M64.1 405.0h0M65.2 405.0h0M66.3 405.0h0M67.3 405.0h0M68.4 405.0h0M69.5 405.0h0M70.6 405.0h0M71.7 405.0h0M72.8 405.0h0M73.9 405.0h0M74.9 405.0h0M76.0 405.0h0M77.1 405.0h0M78.2 405.0h0M79.3 405.0h0M80.4 405.0h0M81.5 405.0h0M82.5 405.0h0M83.6 405.0h0M84.7 405.0h0M85.8 405.0h0M86.9 405.0h0M88.0 405.0h0M89.0 405.0h0M90.1 405.0h0M91.2 405.0h0M92.3 405.0h0M93.4 405.0h0M94.5 405.0h0M95.6 405.0h0M96.6 405.0h0M97.7 405.0h0M98.8 405.0h0M99.9 405.0h0M101.0 405.0h0M102.1 405.0h0M103.1 405.0h0M104.2 405.0h0M105.3 405.0h0M106.4 405.0h0M107.5 405.0h0M108.6 405.0h0M109.7 405.0h0M110.7 405.0h0M111.8 405.0h0M112.9 405.0h0M114.0 405.0h0M115.1 405.0h0M116.2 405.0h0M117.2 405.0h0M120.9 405.0h0M122.2 405.0h0M123.6 405.0h0M124.9 405.0h0M126.3 405.0h0M128.3 405.0h0M129.7 405.0h0M131.0 405.0h0M132.4 405.0h0M134.1 405.0h0M150.1 405.0h0M149.6 405.0h0M59.3 403.9h0M60.5 403.9h0M61.7 403.9h0M62.9 403.9h0M64.1 403.9h0M65.3 403.9h0M66.5 403.9h0M67.6 403.9h0M68.8 403.9h0M70.0 403.9h0M71.2 403.9h0M72.4 403.9h0M73.6 403.9h0M74.8 403.9h0M76.0 403.9h0M77.2 403.9h0M78.4 403.9h0M79.6 403.9h0M80.8 403.9h0M82.0 403.9h0M83.2 403.9h0M84.4 403.9h0M85.5 403.9h0M86.7 403.9h0M87.9 403.9h0M89.1 403.9h0M90.3 403.9h0M91.5 403.9h0M92.7 403.9h0M93.9 403.9h0M95.1 403.9h0M96.3 403.9h0M97.5 403.9h0M98.7 403.9h0M99.9 403.9h0M101.1 403.9h0M102.3 403.9h0M103.4 403.9h0M104.6 403.9h0M105.8 403.9h0M107.0 403.9h0M108.2 403.9h0M109.4 403.9h0M110.6 403.9h0M111.8 403.9h0M113.0 403.9h0M114.2 403.9h0M115.4 403.9h0M116.6 403.9h0M117.8 403.9h0M119.0 403.9h0M120.2 403.9h0M121.3 403.9h0M122.5 403.9h0M123.7 403.9h0M124.9 403.9h0M129.0 403.9h0M130.4 403.9h0M131.9 403.9h0M133.4 403.9h0M134.8 403.9h0M137.1 403.9h0M138.6 403.9h0M140.1 403.9h0M141.6 403.9h0M143.4 403.9h0M161.0 403.9h0M160.3 403.9h0M61.0 402.8h0M62.3 402.8h0M63.6 402.8h0M64.9 402.8h0M66.2 402.8h0M67.5 402.8h0M68.8 402.8h0M70.1 402.8h0M71.4 402.8h0M72.7 402.8h0M74.0 402.8h0M75.3 402.8h0M76.6 402.8h0M77.9 402.8h0M79.2 402.8h0M80.5 402.8h0M81.8 402.8h0M83.1 402.8h0M84.4 402.8h0M85.7 402.8h0M87.0 402.8h0M88.3 402.8h0M89.6 402.8h0M90.9 402.8h0M92.2 402.8h0M93.5 402.8h0M94.8 402.8h0M96.2 402.8h0M97.5 402.8h0M98.8 402.8h0M100.1 402.8h0M101.4 402.8h0M102.7 402.8h0M104.0 402.8h0M105.3 402.8h0M106.6 402.8h0M107.9 402.8h0M109.2 402.8h0M110.5 402.8h0M111.8 402.8h0M113.1 402.8h0M114.4 402.8h0M115.7 402.8h0M117.0 402.8h0M118.3 402.8h0M119.6 402.8h0M120.9 402.8h0M122.2 402.8h0M123.5 402.8h0M124.8 402.8h0M126.1 402.8h0M127.4 402.8h0M128.7 402.8h0M130.0 402.8h0M131.3 402.8h0M132.6 402.8h0M137.0 402.8h0M138.5 402.8h0M140.2 402.8h0M141.8 402.8h0M143.4 402.8h0M145.9 402.8h0M147.5 402.8h0M149.1 402.8h0M150.7 402.8h0M152.8 402.8h0M172.0 402.8h0M171.1 402.8h0M62.7 401.7h0M64.1 401.7h0M65.5 401.7h0M66.9 401.7h0M68.4 401.7h0M69.8 401.7h0M71.2 401.7h0M72.6 401.7h0M74.0 401.7h0M75.4 401.7h0M76.8 401.7h0M78.2 401.7h0M79.6 401.7h0M81.0 401.7h0M82.5 401.7h0M83.9 401.7h0M85.3 401.7h0M86.7 401.7h0M88.1 401.7h0M89.5 401.7h0M90.9 401.7h0M92.3 401.7h0M93.7 401.7h0M95.1 401.7h0M96.6 401.7h0M98.0 401.7h0M99.4 401.7h0M100.8 401.7h0M102.2 401.7h0M103.6 401.7h0M105.0 401.7h0M106.4 401.7h0M107.8 401.7h0M109.2 401.7h0M110.7 401.7h0M112.1 401.7h0M113.5 401.7h0M114.9 401.7h0M116.3 401.7h0M117.7 401.7h0M119.1 401.7h0M120.5 401.7h0M121.9 401.7h0M123.4 401.7h0M124.8 401.7h0M126.2 401.7h0M127.6 401.7h0M129.0 401.7h0M130.4 401.7h0M131.8 401.7h0M133.2 401.7h0M134.6 401.7h0M136.0 401.7h0M137.5 401.7h0M138.9 401.7h0M140.3 401.7h0M145.0 401.7h0M146.7 401.7h0M148.5 401.7h0M150.2 401.7h0M152.0 401.7h0M154.6 401.7h0M156.4 401.7h0M158.2 401.7h0M159.9 401.7h0M162.1 401.7h0M182.9 401.7h0M181.8 401.7h0M64.4 400.6h0M65.9 400.6h0M67.5 400.6h0M69.0 400.6h0M70.5 400.6h0M72.0 400.6h0M73.5 400.6h0M75.1 400.6h0M76.6 400.6h0M78.1 400.6h0M79.6 400.6h0M81.1 400.6h0M82.6 400.6h0M84.2 400.6h0M85.7 400.6h0M87.2 400.6h0M88.7 400.6h0M90.2 400.6h0M91.8 400.6h0M93.3 400.6h0M94.8 400.6h0M96.3 400.6h0M97.8 400.6h0M99.4 400.6h0M100.9 400.6h0M102.4 400.6h0M103.9 400.6h0M105.4 400.6h0M106.9 400.6h0M108.5 400.6h0M110.0 400.6h0M111.5 400.6h0M113.0 400.6h0M114.5 400.6h0M116.1 400.6h0M117.6 400.6h0M119.1 400.6h0M120.6 400.6h0M122.1 400.6h0M123.6 400.6h0M125.2 400.6h0M126.7 400.6h0M128.2 400.6h0M129.7 400.6h0M131.2 400.6h0M132.8 400.6h0M134.3 400.6h0M135.8 400.6h0M137.3 400.6h0M138.8 400.6h0M140.4 400.6h0M141.9 400.6h0M143.4 400.6h0M144.9 400.6h0M146.4 400.6h0M147.9 400.6h0M153.1 400.6h0M154.9 400.6h0M156.8 400.6h0M158.7 400.6h0M160.6 400.6h0M163.4 400.6h0M165.3 400.6h0M167.2 400.6h0M169.1 400.6h0M171.5 400.6h0M193.9 400.6h0M192.5 400.6h0M66.1 399.6h0M67.8 399.6h0M69.4 399.6h0M71.0 399.6h0M72.6 399.6h0M74.3 399.6h0M75.9 399.6h0M77.5 399.6h0M79.1 399.6h0M80.8 399.6h0M82.4 399.6h0M84.0 399.6h0M85.7 399.6h0M87.3 399.6h0M88.9 399.6h0M90.5 399.6h0M92.2 399.6h0M93.8 399.6h0M95.4 399.6h0M97.0 399.6h0M98.7 399.6h0M100.3 399.6h0M101.9 399.6h0M103.6 399.6h0M105.2 399.6h0M106.8 399.6h0M108.4 399.6h0M110.1 399.6h0M111.7 399.6h0M113.3 399.6h0M114.9 399.6h0M116.6 399.6h0M118.2 399.6h0M119.8 399.6h0M121.5 399.6h0M123.1 399.6h0M124.7 399.6h0M126.3 399.6h0M128.0 399.6h0M129.6 399.6h0M131.2 399.6h0M132.8 399.6h0M134.5 399.6h0M136.1 399.6h0M137.7 399.6h0M139.4 399.6h0M141.0 399.6h0M142.6 399.6h0M144.2 399.6h0M145.9 399.6h0M147.5 399.6h0M149.1 399.6h0M150.7 399.6h0M152.4 399.6h0M154.0 399.6h0M155.6 399.6h0M161.1 399.6h0M163.0 399.6h0M165.1 399.6h0M167.1 399.6h0M169.2 399.6h0M172.2 399.6h0M174.2 399.6h0M176.3 399.6h0M178.3 399.6h0M180.8 399.6h0M204.8 399.6h0M203.1 399.6h0M67.8 398.6h0M69.6 398.6h0M71.3 398.6h0M73.0 398.6h0M74.8 398.6h0M76.5 398.6h0M78.3 398.6h0M80.0 398.6h0M81.7 398.6h0M83.5 398.6h0M85.2 398.6h0M86.9 398.6h0M88.7 398.6h0M90.4 398.6h0M92.1 398.6h0M93.9 398.6h0M95.6 398.6h0M97.3 398.6h0M99.1 398.6h0M100.8 398.6h0M102.6 398.6h0M104.3 398.6h0M106.0 398.6h0M107.8 398.6h0M109.5 398.6h0M111.2 398.6h0M113.0 398.6h0M114.7 398.6h0M116.4 398.6h0M118.2 398.6h0M119.9 398.6h0M121.6 398.6h0M123.4 398.6h0M125.1 398.6h0M126.9 398.6h0M128.6 398.6h0M130.3 398.6h0M132.1 398.6h0M133.8 398.6h0M135.5 398.6h0M137.3 398.6h0M139.0 398.6h0M140.7 398.6h0M142.5 398.6h0M144.2 398.6h0M145.9 398.6h0M147.7 398.6h0M149.4 398.6h0M151.1 398.6h0M152.9 398.6h0M154.6 398.6h0M156.4 398.6h0M158.1 398.6h0M159.8 398.6h0M161.6 398.6h0M163.3 398.6h0M169.2 398.6h0M171.2 398.6h0M173.4 398.6h0M175.6 398.6h0M177.7 398.6h0M181.0 398.6h0M183.2 398.6h0M185.3 398.6h0M187.5 398.6h0M190.2 398.6h0M215.8 398.6h0M213.7 398.6h0M69.5 397.5h0M71.4 397.5h0M73.2 397.5h0M75.1 397.5h0M76.9 397.5h0M78.8 397.5h0M80.6 397.5h0M82.5 397.5h0M84.3 397.5h0M86.1 397.5h0M88.0 397.5h0M89.8 397.5h0M91.7 397.5h0M93.5 397.5h0M95.4 397.5h0M97.2 397.5h0M99.1 397.5h0M100.9 397.5h0M102.7 397.5h0M104.6 397.5h0M106.4 397.5h0M108.3 397.5h0M110.1 397.5h0M112.0 397.5h0M113.8 397.5h0M115.6 397.5h0M117.5 397.5h0M119.3 397.5h0M121.2 397.5h0M123.0 397.5h0M124.9 397.5h0M126.7 397.5h0M128.6 397.5h0M130.4 397.5h0M132.2 397.5h0M134.1 397.5h0M135.9 397.5h0M137.8 397.5h0M139.6 397.5h0M141.5 397.5h0M143.3 397.5h0M145.2 397.5h0M147.0 397.5h0M148.8 397.5h0M150.7 397.5h0M152.5 397.5h0M154.4 397.5h0M156.2 397.5h0M158.1 397.5h0M159.9 397.5h0M161.8 397.5h0M163.6 397.5h0M165.4 397.5h0M167.3 397.5h0M169.1 397.5h0M171.0 397.5h0M177.2 397.5h0M179.4 397.5h0M181.7 397.5h0M184.0 397.5h0M186.3 397.5h0M189.8 397.5h0M192.1 397.5h0M194.4 397.5h0M196.7 397.5h0M199.6 397.5h0M226.8 397.5h0M224.3 397.5h0M71.3 396.5h0M73.2 396.5h0M75.2 396.5h0M77.1 396.5h0M79.1 396.5h0M81.0 396.5h0M83.0 396.5h0M84.9 396.5h0M86.9 396.5h0M88.8 396.5h0M90.8 396.5h0M92.7 396.5h0M94.7 396.5h0M96.6 396.5h0M98.6 396.5h0M100.5 396.5h0M102.5 396.5h0M104.4 396.5h0M106.4 396.5h0M108.4 396.5h0M110.3 396.5h0M112.3 396.5h0M114.2 396.5h0M116.2 396.5h0M118.1 396.5h0M120.1 396.5h0M122.0 396.5h0M124.0 396.5h0M125.9 396.5h0M127.9 396.5h0M129.8 396.5h0M131.8 396.5h0M133.7 396.5h0M135.7 396.5h0M137.6 396.5h0M139.6 396.5h0M141.5 396.5h0M143.5 396.5h0M145.5 396.5h0M147.4 396.5h0M149.4 396.5h0M151.3 396.5h0M153.3 396.5h0M155.2 396.5h0M157.2 396.5h0M159.1 396.5h0M161.1 396.5h0M163.0 396.5h0M165.0 396.5h0M166.9 396.5h0M168.9 396.5h0M170.8 396.5h0M172.8 396.5h0M174.7 396.5h0M176.7 396.5h0M178.6 396.5h0M185.2 396.5h0M187.6 396.5h0M190.0 396.5h0M192.4 396.5h0M194.9 396.5h0M198.5 396.5h0M201.0 396.5h0M203.4 396.5h0M205.9 396.5h0M208.9 396.5h0M237.7 396.5h0M234.7 396.5h0M73.0 395.5h0M75.0 395.5h0M77.1 395.5h0M79.1 395.5h0M81.2 395.5h0M83.3 395.5h0M85.3 395.5h0M87.4 395.5h0M89.5 395.5h0M91.5 395.5h0M93.6 395.5h0M95.6 395.5h0M97.7 395.5h0M99.8 395.5h0M101.8 395.5h0M103.9 395.5h0M105.9 395.5h0M108.0 395.5h0M110.1 395.5h0M112.1 395.5h0M114.2 395.5h0M116.2 395.5h0M118.3 395.5h0M120.4 395.5h0M122.4 395.5h0M124.5 395.5h0M126.6 395.5h0M128.6 395.5h0M130.7 395.5h0M132.7 395.5h0M134.8 395.5h0M136.9 395.5h0M138.9 395.5h0M141.0 395.5h0M143.0 395.5h0M145.1 395.5h0M147.2 395.5h0M149.2 395.5h0M151.3 395.5h0M153.3 395.5h0M155.4 395.5h0M157.5 395.5h0M159.5 395.5h0M161.6 395.5h0M163.7 395.5h0M165.7 395.5h0M167.8 395.5h0M169.8 395.5h0M171.9 395.5h0M174.0 395.5h0M176.0 395.5h0M178.1 395.5h0M180.1 395.5h0M182.2 395.5h0M184.3 395.5h0M186.3 395.5h0M193.3 395.5h0M195.7 395.5h0M198.3 395.5h0M200.9 395.5h0M203.5 395.5h0M207.3 395.5h0M209.9 395.5h0M212.5 395.5h0M215.1 395.5h0M218.3 395.5h0M248.7 395.5h0M245.2 395.5h0M74.7 394.6h0M76.8 394.6h0M79.0 394.6h0M81.2 394.6h0M83.3 394.6h0M85.5 394.6h0M87.7 394.6h0M89.9 394.6h0M92.0 394.6h0M94.2 394.6h0M96.4 394.6h0M98.5 394.6h0M100.7 394.6h0M102.9 394.6h0M105.0 394.6h0M107.2 394.6h0M109.4 394.6h0M111.6 394.6h0M113.7 394.6h0M115.9 394.6h0M118.1 394.6h0M120.2 394.6h0M122.4 394.6h0M124.6 394.6h0M126.7 394.6h0M128.9 394.6h0M131.1 394.6h0M133.3 394.6h0M135.4 394.6h0M137.6 394.6h0M139.8 394.6h0M141.9 394.6h0M144.1 394.6h0M146.3 394.6h0M148.4 394.6h0M150.6 394.6h0M152.8 394.6h0M154.9 394.6h0M157.1 394.6h0M159.3 394.6h0M161.5 394.6h0M163.6 394.6h0M165.8 394.6h0M168.0 394.6h0M170.1 394.6h0M172.3 394.6h0M174.5 394.6h0M176.6 394.6h0M178.8 394.6h0M181.0 394.6h0M183.2 394.6h0M185.3 394.6h0M187.5 394.6h0M189.7 394.6h0M191.8 394.6h0M194.0 394.6h0M201.3 394.6h0M203.9 394.6h0M206.6 394.6h0M209.3 394.6h0M212.0 394.6h0M216.1 394.6h0M218.8 394.6h0M221.5 394.6h0M224.2 394.6h0M227.6 394.6h0M259.6 394.6h0M255.6 394.6h0M76.4 393.6h0M78.7 393.6h0M80.9 393.6h0M83.2 393.6h0M85.5 393.6h0M87.8 393.6h0M90.0 393.6h0M92.3 393.6h0M94.6 393.6h0M96.9 393.6h0M99.2 393.6h0M101.4 393.6h0M103.7 393.6h0M106.0 393.6h0M108.3 393.6h0M110.6 393.6h0M112.8 393.6h0M115.1 393.6h0M117.4 393.6h0M119.7 393.6h0M121.9 393.6h0M124.2 393.6h0M126.5 393.6h0M128.8 393.6h0M131.1 393.6h0M133.3 393.6h0M135.6 393.6h0M137.9 393.6h0M140.2 393.6h0M142.4 393.6h0M144.7 393.6h0M147.0 393.6h0M149.3 393.6h0M151.6 393.6h0M153.8 393.6h0M156.1 393.6h0M158.4 393.6h0M160.7 393.6h0M162.9 393.6h0M165.2 393.6h0M167.5 393.6h0M169.8 393.6h0M172.1 393.6h0M174.3 393.6h0M176.6 393.6h0M178.9 393.6h0M181.2 393.6h0M183.4 393.6h0M185.7 393.6h0M188.0 393.6h0M190.3 393.6h0M192.6 393.6h0M194.8 393.6h0M197.1 393.6h0M199.4 393.6h0M201.7 393.6h0M209.4 393.6h0M212.1 393.6h0M214.9 393.6h0M217.8 393.6h0M220.6 393.6h0M224.9 393.6h0M227.7 393.6h0M230.6 393.6h0M233.4 393.6h0M237.0 393.6h0M270.6 393.6h0M265.9 393.6h0M78.1 392.7h0M80.5 392.7h0M82.9 392.7h0M85.2 392.7h0M87.6 392.7h0M90.0 392.7h0M92.4 392.7h0M94.8 392.7h0M97.2 392.7h0M99.6 392.7h0M102.0 392.7h0M104.3 392.7h0M106.7 392.7h0M109.1 392.7h0M111.5 392.7h0M113.9 392.7h0M116.3 392.7h0M118.7 392.7h0M121.0 392.7h0M123.4 392.7h0M125.8 392.7h0M128.2 392.7h0M130.6 392.7h0M133.0 392.7h0M135.4 392.7h0M137.8 392.7h0M140.1 392.7h0M142.5 392.7h0M144.9 392.7h0M147.3 392.7h0M149.7 392.7h0M152.1 392.7h0M154.5 392.7h0M156.8 392.7h0M159.2 392.7h0M161.6 392.7h0M164.0 392.7h0M166.4 392.7h0M168.8 392.7h0M171.2 392.7h0M173.6 392.7h0M175.9 392.7h0M178.3 392.7h0M180.7 392.7h0M183.1 392.7h0M185.5 392.7h0M187.9 392.7h0M190.3 392.7h0M192.6 392.7h0M195.0 392.7h0M197.4 392.7h0M199.8 392.7h0M202.2 392.7h0M204.6 392.7h0M207.0 392.7h0M209.3 392.7h0M217.4 392.7h0M220.2 392.7h0M223.2 392.7h0M226.2 392.7h0M229.2 392.7h0M233.7 392.7h0M236.6 392.7h0M239.6 392.7h0M242.6 392.7h0M246.3 392.7h0M281.5 392.7h0M276.1 392.7h0" stroke="#0000ff" stroke-width="5.4" stroke-linecap="round" fill="none"/>
<line x1="42.3" y1="411.7" x2="281.9" y2="385.4" stroke="#000" stroke-width="1.8"/>
<rect x="31.2" y="253.0" width="262.4" height="167.4" fill="none" stroke="#262626" stroke-width="1.3"/>
<text x="23.3" y="424.3" font-size="10" text-anchor="end" font-family="Liberation Sans, Arial, Helvetica, sans-serif" fill="#262626">0</text>
<text x="23.3" y="400.4" font-size="10" text-anchor="end" font-family="Liberation Sans, Arial, Helvetica, sans-serif" fill="#262626">1</text>
<text x="23.3" y="376.5" font-size="10" text-anchor="end" font-family="Liberation Sans, Arial, Helvetica, sans-serif" fill="#262626">2</text>
<text x="23.3" y="352.6" font-size="10" text-anchor="end" font-family="Liberation Sans, Arial, Helvetica, sans-serif" fill="#262626">3</text>
<text x="23.3" y="328.7" font-size="10" text-anchor="end" font-family="Liberation Sans, Arial, Helvetica, sans-serif" fill="#262626">4</text>
<text x="23.3" y="304.8" font-size="10" text-anchor="end" font-family="Liberation Sans, Arial, Helvetica, sans-serif" fill="#262626">5</text>
<text x="23.3" y="280.9" font-size="10" text-anchor="end" font-family="Liberation Sans, Arial, Helvetica, sans-serif" fill="#262626">6</text>
<text x="23.3" y="256.9" font-size="10" text-anchor="end" font-family="Liberation Sans, Arial, Helvetica, sans-serif" fill="#262626">7</text>
<text x="40.5" y="435.5" font-size="10" text-anchor="middle" font-family="Liberation Sans, Arial, Helvetica, sans-serif" fill="#262626">0.0</text>
<text x="74.4" y="435.5" font-size="10" text-anchor="middle" font-family="Liberation Sans, Arial, Helvetica, sans-serif" fill="#262626">0.5</text>
<text x="108.3" y="435.5" font-size="10" text-anchor="middle" font-family="Liberation Sans, Arial, Helvetica, sans-serif" fill="#262626">1.0</text>
<text x="142.2" y="435.5" font-size="10" text-anchor="middle" font-family="Liberation Sans, Arial, Helvetica, sans-serif" fill="#262626">1.5</text>
<text x="176.1" y="435.5" font-size="10" text-anchor="middle" font-family="Liberation Sans, Arial, Helvetica, sans-serif" fill="#262626">2.0</text>
<text x="210.0" y="435.5" font-size="10" text-anchor="middle" font-family="Liberation Sans, Arial, Helvetica, sans-serif" fill="#262626">2.5</text>
<text x="243.9" y="435.5" font-size="10" text-anchor="middle" font-family="Liberation Sans, Arial, Helvetica, sans-serif" fill="#262626">3.0</text>
<text x="277.8" y="435.5" font-size="10" text-anchor="middle" font-family="Liberation Sans, Arial, Helvetica, sans-serif" fill="#262626">3.5</text>
<text x="162.4" y="449.0" font-size="12.45" text-anchor="middle" font-family="Liberation Sans, Arial, Helvetica, sans-serif" fill="#262626">Experimental results (s)</text>
<text x="11.5" y="336.7" font-size="12.45" text-anchor="middle" font-family="Liberation Sans, Arial, Helvetica, sans-serif" fill="#262626" transform="rotate(-90 11.5 336.7)">Predicted results (s)</text>
<rect x="202.5" y="258.4" width="86.1" height="17.3" rx="2" fill="#fff" fill-opacity="0.8" stroke="#ccc" stroke-width="1"/>
<circle cx="217.2" cy="267.2" r="2.7" fill="#0000ff"/>
<text x="235.8" y="270.7" font-size="10.25" text-anchor="start" font-family="Liberation Sans, Arial, Helvetica, sans-serif" fill="#262626">R<tspan font-size="13" dy="0.4" dx="-0.2">²</tspan><tspan dy="-0.4" dx="-0.4"> = 0.591</tspan></text>
</g>
<g>
<path d="M404.9 413.4h0M409.3 405.6h0M413.6 397.9h0M418.1 390.1h0M422.5 382.3h0M427.0 374.5h0M431.5 366.7h0M436.1 359.0h0M440.6 351.2h0M445.2 343.4h0M449.8 335.6h0M454.4 327.8h0M459.0 320.1h0M463.6 312.3h0M468.2 304.5h0M472.8 296.7h0M477.5 288.9h0M482.1 281.2h0M486.8 273.4h0M491.4 265.6h0M496.1 257.8h0M500.8 250.0h0M406.3 412.2h0M412.5 403.3h0M419.1 394.3h0M425.8 385.4h0M432.8 376.4h0M439.9 367.5h0M447.2 358.5h0M454.5 349.5h0M461.9 340.6h0M469.4 331.6h0M477.0 322.7h0M484.7 313.7h0M492.4 304.7h0M500.2 295.8h0M508.0 286.8h0M515.9 277.9h0M523.8 268.9h0M531.8 260.0h0M539.8 251.0h0M406.0 412.2h0M412.0 403.3h0M418.4 394.3h0M424.9 385.4h0M431.6 376.4h0M438.4 367.5h0M445.4 358.5h0M452.5 349.5h0M459.6 340.6h0M466.8 331.6h0M474.1 322.7h0M481.5 313.7h0M488.9 304.7h0M496.4 295.8h0M503.9 286.8h0M511.5 277.9h0M519.2 268.9h0M526.8 260.0h0M534.6 251.0h0M407.0 414.2h0M413.6 407.3h0M420.4 400.3h0M427.3 393.4h0M434.3 386.4h0M441.4 379.5h0M448.5 372.5h0M455.7 365.6h0M462.9 358.6h0M470.2 351.7h0M477.5 344.7h0M484.8 337.8h0M492.2 330.8h0M499.6 323.8h0M507.0 316.9h0M514.5 309.9h0M521.9 303.0h0M529.4 296.0h0M537.0 289.1h0M544.5 282.1h0M552.0 275.2h0M559.6 268.2h0M567.2 261.3h0M406.9 414.2h0M413.4 407.3h0M420.1 400.3h0M426.9 393.4h0M433.8 386.4h0M440.7 379.5h0M447.7 372.5h0M454.8 365.6h0M461.9 358.6h0M469.0 351.7h0M476.2 344.7h0M483.4 337.8h0M490.7 330.8h0M497.9 323.8h0M505.2 316.9h0M512.6 309.9h0M519.9 303.0h0M527.3 296.0h0M534.7 289.1h0M542.1 282.1h0M549.5 275.2h0M556.9 268.2h0M564.4 261.3h0M406.8 414.2h0M413.2 407.3h0M419.7 400.3h0M426.4 393.4h0M433.2 386.4h0M440.0 379.5h0M446.9 372.5h0M453.9 365.6h0M460.8 358.6h0M467.9 351.7h0M474.9 344.7h0M482.0 337.8h0M489.1 330.8h0M496.3 323.8h0M503.5 316.9h0M510.6 309.9h0M517.9 303.0h0M525.1 296.0h0M532.4 289.1h0M539.7 282.1h0M547.0 275.2h0M554.3 268.2h0M561.6 261.3h0M408.4 414.2h0M416.6 407.2h0M425.1 400.2h0M433.7 393.2h0M442.5 386.3h0M451.4 379.3h0M460.4 372.3h0M469.4 365.3h0M478.5 358.3h0M487.7 351.3h0M497.0 344.3h0M506.2 337.3h0M515.6 330.4h0M525.0 323.4h0M534.4 316.4h0M543.8 309.4h0M553.3 302.4h0M562.9 295.4h0M572.4 288.4h0M582.0 281.4h0M591.6 274.5h0M601.3 267.5h0M408.2 414.2h0M416.2 407.2h0M424.4 400.2h0M432.8 393.2h0M441.4 386.3h0M450.0 379.3h0M458.8 372.3h0M467.6 365.3h0M476.5 358.3h0M485.4 351.3h0M494.4 344.3h0M503.5 337.3h0M512.6 330.4h0M521.7 323.4h0M530.9 316.4h0M540.1 309.4h0M549.3 302.4h0M558.6 295.4h0M567.9 288.4h0M577.2 281.4h0M586.6 274.5h0M596.0 267.5h0M408.0 414.2h0M415.7 407.2h0M423.7 400.2h0M431.9 393.2h0M440.2 386.3h0M448.6 379.3h0M457.1 372.3h0M465.7 365.3h0M474.3 358.3h0M483.0 351.3h0M491.7 344.3h0M500.5 337.3h0M509.4 330.4h0M518.2 323.4h0M527.1 316.4h0M536.1 309.4h0M545.1 302.4h0M554.1 295.4h0M563.1 288.4h0M572.2 281.4h0M581.3 274.5h0M590.4 267.5h0M405.8 416.4h0M411.8 411.7h0M418.2 406.9h0M425.0 402.1h0M432.0 397.3h0M439.2 392.6h0M446.5 387.8h0M454.1 383.0h0M461.7 378.2h0M469.5 373.5h0M477.4 368.7h0M485.3 363.9h0M493.4 359.1h0M501.6 354.4h0M509.8 349.6h0M518.2 344.8h0M526.6 340.0h0M535.0 335.3h0M543.6 330.5h0M552.2 325.7h0M560.8 320.9h0M569.5 316.2h0M578.3 311.4h0M587.1 306.6h0M596.0 301.8h0M405.7 416.4h0M411.6 411.7h0M417.9 406.9h0M424.6 402.1h0M431.5 397.3h0M438.5 392.6h0M445.8 387.8h0M453.2 383.0h0M460.7 378.2h0M468.4 373.5h0M476.1 368.7h0M484.0 363.9h0M491.9 359.1h0M499.9 354.4h0M508.0 349.6h0M516.2 344.8h0M524.5 340.0h0M532.8 335.3h0M541.2 330.5h0M549.7 325.7h0M558.2 320.9h0M566.8 316.2h0M575.4 311.4h0M584.1 306.6h0M592.8 301.8h0M405.5 416.4h0M411.2 411.7h0M417.4 406.9h0M423.8 402.1h0M430.4 397.3h0M437.3 392.6h0M444.3 387.8h0M451.4 383.0h0M458.7 378.2h0M466.1 373.5h0M473.6 368.7h0M481.2 363.9h0M488.9 359.1h0M496.6 354.4h0M504.5 349.6h0M512.4 344.8h0M520.4 340.0h0M528.4 335.3h0M536.5 330.5h0M544.7 325.7h0M552.9 320.9h0M561.2 316.2h0M569.6 311.4h0M578.0 306.6h0M586.4 301.8h0M414.2 415.4h0M426.8 409.5h0M439.0 403.7h0M451.0 397.8h0M462.8 392.0h0M474.5 386.1h0M486.2 380.3h0M497.7 374.4h0M509.2 368.6h0M520.6 362.7h0M531.9 356.9h0M543.2 351.0h0M554.5 345.2h0M565.7 339.3h0M576.9 333.5h0M588.0 327.6h0M599.1 321.8h0M610.2 315.9h0M621.2 310.1h0M632.2 304.2h0M643.2 298.4h0M414.0 415.4h0M426.2 409.5h0M438.2 403.7h0M449.9 397.8h0M461.5 392.0h0M473.0 386.1h0M484.4 380.3h0M495.7 374.4h0M506.9 368.6h0M518.1 362.7h0M529.2 356.9h0M540.2 351.0h0M551.3 345.2h0M562.2 339.3h0M573.2 333.5h0M584.1 327.6h0M594.9 321.8h0M605.8 315.9h0M616.6 310.1h0M627.3 304.2h0M638.1 298.4h0M413.4 415.4h0M425.1 409.5h0M436.4 403.7h0M447.7 397.8h0M458.7 392.0h0M469.7 386.1h0M480.5 380.3h0M491.3 374.4h0M502.0 368.6h0M512.7 362.7h0M523.3 356.9h0M533.8 351.0h0M544.4 345.2h0M554.8 339.3h0M565.3 333.5h0M575.7 327.6h0M586.0 321.8h0M596.4 315.9h0M606.7 310.1h0M616.9 304.2h0M627.2 298.4h0M416.1 416.9h0M429.0 412.5h0M441.1 408.2h0M452.7 403.9h0M464.0 399.6h0M475.0 395.2h0M485.7 390.9h0M496.3 386.6h0M506.7 382.2h0M517.0 377.9h0M527.2 373.6h0M537.3 369.2h0M547.2 364.9h0M557.1 360.6h0M566.9 356.3h0M576.6 351.9h0M586.2 347.6h0M595.8 343.3h0M605.3 338.9h0M614.7 334.6h0M624.1 330.3h0M633.4 326.0h0M415.8 416.9h0M428.3 412.5h0M440.1 408.2h0M451.5 403.9h0M462.4 399.6h0M473.2 395.2h0M483.7 390.9h0M494.0 386.6h0M504.2 382.2h0M514.2 377.9h0M524.2 373.6h0M534.0 369.2h0M543.7 364.9h0M553.3 360.6h0M562.9 356.3h0M572.4 351.9h0M581.8 347.6h0M591.1 343.3h0M600.4 338.9h0M609.6 334.6h0M618.7 330.3h0M627.8 326.0h0M415.3 416.9h0M427.4 412.5h0M438.9 408.2h0M449.8 403.9h0M460.5 399.6h0M470.9 395.2h0M481.1 390.9h0M491.1 386.6h0M500.9 382.2h0M510.6 377.9h0M520.3 373.6h0M529.8 369.2h0M539.2 364.9h0M548.5 360.6h0M557.7 356.3h0M566.9 351.9h0M576.0 347.6h0M585.1 343.3h0M594.0 338.9h0M603.0 334.6h0M611.8 330.3h0M620.6 326.0h0M414.8 416.9h0M426.6 412.5h0M437.6 408.2h0M448.2 403.9h0M458.5 399.6h0M468.6 395.2h0M478.4 390.9h0M488.1 386.6h0M497.6 382.2h0M507.0 377.9h0M516.3 373.6h0M525.5 369.2h0M534.6 364.9h0M543.7 360.6h0M552.6 356.3h0M561.5 351.9h0M570.3 347.6h0M579.0 343.3h0M587.7 338.9h0M596.3 334.6h0M604.9 330.3h0M613.4 326.0h0M415.4 417.1h0M427.7 412.9h0M439.3 408.8h0M450.4 404.7h0M461.1 400.6h0M471.6 396.4h0M481.9 392.3h0M492.0 388.2h0M502.0 384.1h0M511.8 379.9h0M521.5 375.8h0M531.1 371.7h0M540.6 367.6h0M550.0 363.4h0M559.4 359.3h0M568.6 355.2h0M577.8 351.1h0M587.0 346.9h0M596.0 342.8h0M605.0 338.7h0M614.0 334.5h0M415.1 417.1h0M427.1 412.9h0M438.4 408.8h0M449.2 404.7h0M459.7 400.6h0M470.0 396.4h0M480.1 392.3h0M489.9 388.2h0M499.7 384.1h0M509.3 379.9h0M518.8 375.8h0M528.2 371.7h0M537.5 367.6h0M546.7 363.4h0M555.8 359.3h0M564.8 355.2h0M573.8 351.1h0M582.8 346.9h0M591.6 342.8h0M600.4 338.7h0M609.2 334.5h0M403.3 416.3h0M405.8 411.4h0M408.3 406.5h0M410.8 401.6h0M413.3 396.7h0M415.8 391.8h0M418.3 386.9h0M420.9 382.0h0M423.4 377.1h0M425.9 372.1h0M428.4 367.2h0M430.9 362.3h0M433.4 357.4h0M435.9 352.5h0M438.4 347.6h0M440.9 342.7h0M443.4 337.8h0M445.9 332.9h0M448.4 328.0h0M450.9 323.1h0M453.4 318.2h0M403.4 416.3h0M406.0 411.4h0M408.7 406.5h0M411.3 401.6h0M413.9 396.7h0M416.5 391.8h0M419.1 386.9h0M421.8 382.0h0M424.4 377.1h0M427.0 372.1h0M429.6 367.2h0M432.3 362.3h0M434.9 357.4h0M437.5 352.5h0M440.1 347.6h0M442.7 342.7h0M445.4 337.8h0M448.0 332.9h0M450.6 328.0h0M453.2 323.1h0M455.8 318.2h0M405.2 414.2h0M410.3 407.3h0M415.7 400.3h0M421.2 393.4h0M426.9 386.4h0M432.7 379.5h0M438.5 372.5h0M444.5 365.5h0M450.6 358.6h0M456.7 351.6h0M462.9 344.7h0M469.1 337.7h0M475.4 330.8h0M481.7 323.8h0M488.1 316.8h0M494.5 309.9h0M501.0 302.9h0M507.5 296.0h0M514.0 289.0h0M520.6 282.1h0M527.2 275.1h0M406.3 414.2h0M412.6 407.3h0M419.3 400.3h0M426.1 393.3h0M433.2 386.3h0M440.4 379.4h0M447.7 372.4h0M455.1 365.4h0M462.6 358.5h0M470.2 351.5h0M477.9 344.5h0M485.6 337.6h0M493.4 330.6h0M501.3 323.6h0M509.2 316.6h0M517.2 309.7h0M525.2 302.7h0M533.3 295.7h0M541.4 288.8h0M549.6 281.8h0M406.2 414.2h0M412.3 407.3h0M418.8 400.3h0M425.5 393.3h0M432.3 386.3h0M439.3 379.4h0M446.4 372.4h0M453.6 365.4h0M461.0 358.5h0M468.4 351.5h0M475.8 344.5h0M483.4 337.6h0M491.0 330.6h0M498.6 323.6h0M506.3 316.6h0M514.1 309.7h0M521.9 302.7h0M529.8 295.7h0M537.7 288.8h0M545.6 281.8h0M406.7 414.8h0M413.4 408.4h0M420.5 402.0h0M427.8 395.6h0M435.3 389.2h0M443.0 382.8h0M450.7 376.4h0M458.6 370.0h0M466.6 363.6h0M474.7 357.2h0M482.9 350.8h0M491.2 344.4h0M499.5 338.0h0M507.9 331.6h0M516.3 325.2h0M524.8 318.8h0M533.3 312.4h0M541.9 306.0h0M550.6 299.6h0M559.3 293.2h0M568.0 286.8h0M576.8 280.4h0M413.3 417.0h0M424.1 412.8h0M434.4 408.6h0M444.3 404.3h0M454.0 400.1h0M463.5 395.9h0M472.8 391.7h0M482.0 387.5h0M491.1 383.3h0M500.0 379.1h0M508.9 374.9h0M517.7 370.6h0M526.5 366.4h0M535.1 362.2h0M543.8 358.0h0M552.3 353.8h0M560.8 349.6h0M412.9 417.0h0M423.4 412.8h0M433.4 408.6h0M443.0 404.3h0M452.4 400.1h0M461.6 395.9h0M470.6 391.7h0M479.6 387.5h0M488.4 383.3h0M497.1 379.1h0M505.7 374.9h0M514.2 370.6h0M522.7 366.4h0M531.1 362.2h0M539.5 358.0h0M547.8 353.8h0M556.0 349.6h0M412.5 417.0h0M422.7 412.8h0M432.4 408.6h0M441.7 404.3h0M450.8 400.1h0M459.7 395.9h0M468.5 391.7h0M477.1 387.5h0M485.7 383.3h0M494.1 379.1h0M502.4 374.9h0M510.7 370.6h0M518.9 366.4h0M527.1 362.2h0M535.2 358.0h0M543.2 353.8h0M551.2 349.6h0M412.7 417.0h0M423.0 412.9h0M432.7 408.7h0M442.2 404.5h0M451.4 400.4h0M460.4 396.2h0M469.3 392.0h0M478.0 387.8h0M486.7 383.7h0M495.2 379.5h0M503.7 375.3h0M512.1 371.2h0M520.4 367.0h0M528.6 362.8h0M536.8 358.7h0M412.3 417.0h0M422.2 412.9h0M431.6 408.7h0M440.7 404.5h0M449.6 400.4h0M458.3 396.2h0M466.9 392.0h0M475.3 387.8h0M483.6 383.7h0M491.9 379.5h0M500.0 375.3h0M508.1 371.2h0M516.1 367.0h0M524.1 362.8h0M532.0 358.7h0M411.8 417.0h0M421.4 412.9h0M430.5 408.7h0M439.3 404.5h0M447.8 400.4h0M456.2 396.2h0M464.5 392.0h0M472.6 387.8h0M480.6 383.7h0M488.6 379.5h0M496.4 375.3h0M504.2 371.2h0M511.9 367.0h0M519.6 362.8h0M527.2 358.7h0M411.4 417.0h0M420.6 412.9h0M429.4 408.7h0M437.8 404.5h0M446.0 400.4h0M454.1 396.2h0M462.0 392.0h0M469.9 387.8h0M477.6 383.7h0M485.2 379.5h0M492.8 375.3h0M500.3 371.2h0M507.7 367.0h0M515.1 362.8h0M522.4 358.7h0M412.3 416.9h0M422.3 412.6h0M431.8 408.3h0M441.0 403.9h0M449.9 399.6h0M458.6 395.3h0M467.3 391.0h0M475.7 386.7h0M484.1 382.4h0M492.4 378.0h0M500.6 373.7h0M508.7 369.4h0M516.8 365.1h0M411.9 416.9h0M421.4 412.6h0M430.5 408.3h0M439.3 403.9h0M447.9 399.6h0M456.2 395.3h0M464.5 391.0h0M472.6 386.7h0M480.7 382.4h0M488.6 378.0h0M496.5 373.7h0M504.3 369.4h0M512.0 365.1h0M411.4 416.9h0M420.5 412.6h0M429.2 408.3h0M437.6 403.9h0M445.8 399.6h0M453.9 395.3h0M461.8 391.0h0M469.5 386.7h0M477.2 382.4h0M484.8 378.0h0M492.3 373.7h0M499.8 369.4h0M507.2 365.1h0M410.9 416.9h0M419.6 412.6h0M427.9 408.3h0M436.0 403.9h0M443.8 399.6h0M451.5 395.3h0M459.0 391.0h0M466.4 386.7h0M473.8 382.4h0M481.0 378.0h0M488.2 373.7h0M495.3 369.4h0M502.4 365.1h0M411.9 416.8h0M421.5 412.3h0M430.6 407.9h0M439.4 403.4h0M448.0 399.0h0M456.4 394.5h0M464.7 390.1h0M472.9 385.6h0M480.9 381.2h0M488.9 376.7h0M496.8 372.3h0M411.3 416.8h0M420.5 412.3h0M429.1 407.9h0M437.5 403.4h0M445.7 399.0h0M453.7 394.5h0M461.5 390.1h0M469.3 385.6h0M476.9 381.2h0M484.5 376.7h0M492.0 372.3h0M410.8 416.8h0M419.4 412.3h0M427.6 407.9h0M435.6 403.4h0M443.3 399.0h0M450.9 394.5h0M458.3 390.1h0M465.7 385.6h0M472.9 381.2h0M480.1 376.7h0M487.2 372.3h0M410.2 416.8h0M418.4 412.3h0M426.1 407.9h0M433.6 403.4h0M440.9 399.0h0M448.1 394.5h0M455.1 390.1h0M462.1 385.6h0M468.9 381.2h0M475.7 376.7h0M482.4 372.3h0M406.5 412.2h0M413.1 403.3h0M420.0 394.3h0M427.1 385.4h0M434.5 376.4h0M442.0 367.5h0M449.6 358.5h0M457.3 349.5h0M465.1 340.6h0M473.0 331.6h0M481.0 322.7h0M489.0 313.7h0M497.1 304.7h0M505.3 295.8h0M513.6 286.8h0M406.8 412.2h0M413.7 403.3h0M420.9 394.3h0M428.4 385.4h0M436.1 376.4h0M444.0 367.5h0M452.0 358.5h0M460.1 349.5h0M468.2 340.6h0M476.5 331.6h0M484.9 322.7h0M493.4 313.7h0M501.9 304.7h0M510.5 295.8h0M519.1 286.8h0M407.1 412.2h0M414.3 403.3h0M421.9 394.3h0M429.7 385.4h0M437.8 376.4h0M446.0 367.5h0M454.4 358.5h0M462.8 349.5h0M471.4 340.6h0M480.1 331.6h0M488.9 322.7h0M497.7 313.7h0M506.6 304.7h0M515.6 295.8h0M407.4 412.2h0M414.9 403.3h0M422.8 394.3h0M431.0 385.4h0M439.4 376.4h0M448.0 367.5h0M456.8 358.5h0M465.6 349.5h0M474.6 340.6h0M483.6 331.6h0M492.8 322.7h0M502.0 313.7h0M511.4 304.7h0M520.8 295.8h0M407.7 412.2h0M415.5 403.3h0M423.8 394.3h0M432.3 385.4h0M441.1 376.4h0M450.1 367.5h0M459.2 358.5h0M468.4 349.5h0M477.7 340.6h0M487.2 331.6h0M496.7 322.7h0M506.4 313.7h0M516.1 304.7h0M407.9 412.2h0M416.1 403.3h0M424.7 394.3h0M433.6 385.4h0M442.8 376.4h0M452.1 367.5h0M461.6 358.5h0M471.2 349.5h0M480.9 340.6h0M490.8 331.6h0M500.7 322.7h0M510.7 313.7h0M408.0 412.3h0M416.3 403.3h0M424.9 394.4h0M433.9 385.4h0M443.1 376.5h0M452.5 367.6h0M462.1 358.6h0M471.8 349.7h0M481.6 340.7h0M491.6 331.8h0M501.6 322.8h0M408.4 412.3h0M417.0 403.3h0M426.1 394.4h0M435.5 385.4h0M445.2 376.5h0M455.0 367.6h0M465.0 358.6h0M475.2 349.7h0M485.5 340.7h0M495.9 331.8h0M506.4 322.8h0M408.7 412.3h0M417.7 403.3h0M427.2 394.4h0M437.1 385.4h0M447.2 376.5h0M457.5 367.6h0M467.9 358.6h0M478.6 349.7h0M489.3 340.7h0M500.2 331.8h0M511.2 322.8h0M408.5 412.2h0M417.3 403.2h0M426.6 394.1h0M436.2 385.1h0M446.1 376.1h0M456.1 367.1h0M466.3 358.1h0M476.7 349.1h0M487.2 340.0h0M409.0 412.2h0M418.4 403.2h0M428.3 394.1h0M438.5 385.1h0M449.0 376.1h0M459.7 367.1h0M470.6 358.1h0M481.6 349.1h0M492.8 340.0h0M409.5 412.2h0M419.5 403.2h0M429.9 394.1h0M440.8 385.1h0M451.9 376.1h0M463.3 367.1h0M474.8 358.1h0M486.5 349.1h0M498.4 340.0h0M406.8 414.9h0M414.1 408.5h0M422.0 402.2h0M430.3 395.8h0M438.9 389.5h0M447.8 383.1h0M456.9 376.8h0M466.2 370.5h0M475.7 364.1h0M485.3 357.8h0M495.1 351.4h0M505.0 345.1h0M515.1 338.7h0M525.2 332.4h0M535.5 326.1h0M545.9 319.7h0M406.7 414.9h0M413.9 408.5h0M421.6 402.2h0M429.8 395.8h0M438.3 389.5h0M447.0 383.1h0M456.0 376.8h0M465.1 370.5h0M474.5 364.1h0M483.9 357.8h0M493.6 351.4h0M503.3 345.1h0M513.2 338.7h0M523.2 332.4h0M533.3 326.1h0M543.5 319.7h0M406.5 414.9h0M413.5 408.5h0M421.0 402.2h0M429.0 395.8h0M437.2 389.5h0M445.7 383.1h0M454.4 376.8h0M463.3 370.5h0M472.3 364.1h0M481.5 357.8h0M490.9 351.4h0M500.4 345.1h0M510.0 338.7h0M519.7 332.4h0M529.5 326.1h0M539.4 319.7h0M406.8 413.8h0M413.2 406.4h0M419.8 398.9h0M426.5 391.5h0M433.3 384.1h0M440.1 376.7h0M447.0 369.3h0M454.0 361.9h0M461.0 354.4h0M468.1 347.0h0M475.1 339.6h0M482.3 332.2h0M409.6 412.8h0M420.3 404.5h0M432.0 396.1h0M444.2 387.8h0M456.9 379.4h0M469.9 371.0h0M483.3 362.7h0M497.0 354.3h0M409.4 412.8h0M419.9 404.5h0M431.3 396.1h0M443.3 387.8h0M455.7 379.4h0M468.5 371.0h0M481.7 362.7h0M495.1 354.3h0M411.2 412.1h0M421.7 402.9h0M432.1 393.8h0M442.6 384.7h0M453.0 375.6h0M463.4 366.4h0M473.9 357.3h0M484.3 348.2h0M494.7 339.0h0M505.2 329.9h0M408.8 416.5h0M418.0 411.7h0M427.7 407.0h0M437.8 402.3h0M448.0 397.5h0M458.5 392.8h0M469.2 388.1h0M480.0 383.3h0M491.0 378.6h0M502.1 373.9h0M513.3 369.1h0M524.6 364.4h0M536.0 359.7h0M547.4 354.9h0M559.0 350.2h0M570.6 345.4h0M582.4 340.7h0M594.1 336.0h0M408.7 416.5h0M417.8 411.7h0M427.3 407.0h0M437.1 402.3h0M447.3 397.5h0M457.6 392.8h0M468.1 388.1h0M478.7 383.3h0M489.5 378.6h0M500.4 373.9h0M511.4 369.1h0M522.5 364.4h0M533.7 359.7h0M545.0 354.9h0M556.3 350.2h0M567.8 345.4h0M579.3 340.7h0M590.9 336.0h0M407.3 413.8h0M415.2 406.5h0M423.7 399.1h0M432.7 391.8h0M442.1 384.4h0M451.7 377.1h0M461.6 369.7h0M471.7 362.4h0M481.9 355.0h0M408.5 414.4h0M416.2 407.6h0M423.9 400.8h0M431.6 394.0h0M439.3 387.2h0M447.0 380.4h0M454.7 373.6h0M462.4 366.8h0M470.1 360.0h0M477.9 353.2h0M485.6 346.4h0M493.3 339.6h0M501.0 332.8h0M508.7 326.0h0M408.4 414.4h0M415.9 407.6h0M423.5 400.8h0M431.1 394.0h0M438.6 387.2h0M446.2 380.4h0M453.8 373.6h0M461.3 366.8h0M468.9 360.0h0M476.5 353.2h0M484.0 346.4h0M491.6 339.6h0M499.2 332.8h0M506.7 326.0h0M408.1 414.4h0M415.4 407.6h0M422.8 400.8h0M430.1 394.0h0M437.4 387.2h0M444.7 380.4h0M452.1 373.6h0M459.4 366.8h0M466.7 360.0h0M474.0 353.2h0M481.4 346.4h0M488.7 339.6h0M496.0 332.8h0M503.3 326.0h0M413.6 414.0h0M426.4 406.8h0M439.2 399.6h0M452.0 392.5h0M464.8 385.3h0M477.6 378.1h0M490.4 370.9h0M503.2 363.7h0M516.0 356.5h0M528.8 349.4h0M541.6 342.2h0M413.4 414.0h0M426.0 406.8h0M438.6 399.6h0M451.2 392.5h0M463.8 385.3h0M476.4 378.1h0M489.0 370.9h0M501.6 363.7h0M514.3 356.5h0M526.9 349.4h0M539.5 342.2h0M413.1 414.0h0M425.3 406.8h0M437.6 399.6h0M449.9 392.5h0M462.2 385.3h0M474.4 378.1h0M486.7 370.9h0M499.0 363.7h0M511.3 356.5h0M523.5 349.4h0M535.8 342.2h0M408.2 413.9h0M415.6 406.5h0M423.1 399.2h0M430.5 391.8h0M437.9 384.5h0M445.3 377.1h0M452.7 369.8h0M460.2 362.4h0M467.6 355.1h0M475.0 347.7h0M482.4 340.4h0M489.8 333.0h0M407.6 411.3h0M415.9 401.4h0M424.9 391.5h0M434.4 381.6h0M444.2 371.7h0M454.4 361.8h0M464.8 351.9h0M407.4 411.3h0M415.5 401.4h0M424.3 391.5h0M433.5 381.6h0M443.1 371.7h0M453.0 361.8h0M463.1 351.9h0M407.1 411.6h0M414.3 402.0h0M421.9 392.4h0M429.7 382.8h0M437.7 373.2h0M446.0 363.6h0M454.3 354.0h0M406.9 411.6h0M413.9 402.0h0M421.2 392.4h0M428.9 382.8h0M436.7 373.2h0M444.6 363.6h0M452.7 354.0h0M413.0 414.8h0M426.2 408.4h0M439.6 402.0h0M453.3 395.5h0M467.2 389.1h0M481.2 382.7h0M495.3 376.3h0M509.5 369.9h0M523.8 363.5h0M538.2 357.1h0M408.0 413.7h0M415.7 406.2h0M423.6 398.7h0M431.7 391.2h0M439.9 383.7h0M448.1 376.2h0M456.4 368.7h0M464.8 361.2h0M473.2 353.7h0M481.7 346.2h0M407.9 413.7h0M415.4 406.2h0M423.2 398.7h0M431.1 391.2h0M439.1 383.7h0M447.2 376.2h0M455.4 368.7h0M463.6 361.2h0M471.8 353.7h0M480.2 346.2h0M407.6 413.7h0M415.0 406.2h0M422.5 398.7h0M430.1 391.2h0M437.8 383.7h0M445.7 376.2h0M453.5 368.7h0M461.5 361.2h0M469.5 353.7h0M477.5 346.2h0M408.3 413.1h0M417.4 405.1h0M427.3 397.0h0M437.7 389.0h0M448.5 380.9h0M459.6 372.9h0M471.0 364.8h0M482.6 356.8h0M408.2 413.1h0M417.1 405.1h0M426.9 397.0h0M437.1 389.0h0M447.7 380.9h0M458.6 372.9h0M469.9 364.8h0M481.3 356.8h0M408.0 413.1h0M416.7 405.1h0M426.1 397.0h0M436.0 389.0h0M446.3 380.9h0M457.0 372.9h0M467.8 364.8h0M479.0 356.8h0M409.8 413.9h0M420.0 406.6h0M430.8 399.2h0M442.0 391.9h0M453.5 384.6h0M465.2 377.3h0M477.1 370.0h0M489.1 362.6h0M501.4 355.3h0M513.7 348.0h0M409.6 413.9h0M419.7 406.6h0M430.3 399.2h0M441.3 391.9h0M452.6 384.6h0M464.1 377.3h0M475.8 370.0h0M487.7 362.6h0M499.7 355.3h0M511.9 348.0h0M409.4 413.9h0M419.2 406.6h0M429.5 399.2h0M440.2 391.9h0M451.1 384.6h0M462.3 377.3h0M473.6 370.0h0M485.2 362.6h0M496.8 355.3h0M508.6 348.0h0M409.8 415.9h0M418.7 410.6h0M427.7 405.2h0M436.7 399.9h0M445.7 394.6h0M454.6 389.3h0M463.6 383.9h0M472.6 378.6h0M481.5 373.3h0M490.5 368.0h0M499.5 362.6h0M508.4 357.3h0M517.4 352.0h0M526.4 346.7h0M535.4 341.3h0M544.3 336.0h0M553.3 330.7h0M405.4 413.9h0M410.7 406.5h0M416.2 399.2h0M422.0 391.8h0M427.8 384.5h0M433.8 377.1h0M439.9 369.8h0M446.1 362.4h0M452.4 355.1h0M458.8 347.7h0M405.3 413.9h0M410.4 406.5h0M415.8 399.2h0M421.3 391.8h0M427.0 384.5h0M432.9 377.1h0M438.8 369.8h0M444.8 362.4h0M411.1 414.5h0M421.4 407.8h0M431.7 401.1h0M442.0 394.4h0M452.3 387.7h0M462.6 381.0h0M472.9 374.3h0M483.2 367.6h0M410.9 414.5h0M421.1 407.8h0M431.2 401.1h0M441.3 394.4h0M451.5 387.7h0M461.6 381.0h0M471.7 374.3h0M481.9 367.6h0M410.6 414.5h0M420.5 407.8h0M430.3 401.1h0M440.2 394.4h0M450.0 387.7h0M459.8 381.0h0M469.7 374.3h0M479.5 367.6h0M406.7 415.7h0M413.8 410.2h0M421.6 404.7h0M429.7 399.2h0M438.1 393.7h0M446.8 388.2h0M455.8 382.7h0M464.9 377.2h0M474.2 371.8h0M483.7 366.3h0M493.3 360.8h0M503.0 355.3h0M512.8 349.8h0M406.6 415.7h0M413.6 410.2h0M421.2 404.7h0M429.2 399.2h0M437.5 393.7h0M446.1 388.2h0M454.9 382.7h0M463.9 377.2h0M473.0 371.8h0M482.3 366.3h0M491.7 360.8h0M501.3 355.3h0M511.0 349.8h0M406.4 415.7h0M413.2 410.2h0M420.6 404.7h0M428.4 399.2h0M436.5 393.7h0M444.8 388.2h0M453.3 382.7h0M462.0 377.2h0M470.9 371.8h0M479.9 366.3h0M489.1 360.8h0M498.4 355.3h0M507.8 349.8h0M410.7 415.7h0M421.2 410.3h0M432.0 404.8h0M443.0 399.3h0M454.2 393.8h0M465.5 388.4h0M476.8 382.9h0M488.3 377.4h0M499.8 372.0h0M511.3 366.5h0M523.0 361.0h0M410.5 415.7h0M420.9 410.3h0M431.6 404.8h0M442.5 399.3h0M453.5 393.8h0M464.6 388.4h0M475.8 382.9h0M487.1 377.4h0M498.5 372.0h0M509.9 366.5h0M521.4 361.0h0M410.3 415.7h0M420.5 410.3h0M430.9 404.8h0M441.5 399.3h0M452.2 393.8h0M463.1 388.4h0M474.0 382.9h0M485.1 377.4h0M496.2 372.0h0M507.3 366.5h0M518.5 361.0h0M409.2 415.9h0M418.2 410.5h0M427.5 405.2h0M436.9 399.9h0M446.5 394.5h0M456.1 389.2h0M465.8 383.9h0M475.6 378.6h0M485.5 373.2h0M495.4 367.9h0M505.3 362.6h0M515.3 357.2h0M409.1 415.9h0M418.0 410.5h0M427.1 405.2h0M436.4 399.9h0M445.8 394.5h0M455.3 389.2h0M464.9 383.9h0M474.5 378.6h0M484.2 373.2h0M494.0 367.9h0M503.8 362.6h0M513.6 357.2h0M408.9 415.9h0M417.5 410.5h0M426.4 405.2h0M435.5 399.9h0M444.6 394.5h0M453.9 389.2h0M463.2 383.9h0M482.0 373.2h0M491.5 367.9h0M501.1 362.6h0M510.7 357.2h0M407.1 413.5h0M413.4 405.9h0M419.7 398.2h0M426.0 390.6h0M432.4 382.9h0M438.7 375.2h0M445.0 367.6h0M451.3 359.9h0M457.6 352.2h0M463.9 344.6h0M470.2 336.9h0M476.5 329.3h0M482.8 321.6h0M489.2 313.9h0M495.5 306.3h0M501.8 298.6h0M508.1 290.9h0M514.4 283.3h0M409.4 415.9h0M419.3 410.6h0M429.6 405.2h0M440.4 399.9h0M451.4 394.6h0M462.6 389.3h0M474.1 383.9h0M485.7 378.6h0M497.4 373.3h0M509.3 368.0h0M521.3 362.6h0M533.4 357.3h0M545.6 352.0h0M409.3 415.9h0M419.0 410.6h0M429.2 405.2h0M439.7 399.9h0M450.6 394.6h0M461.6 389.3h0M472.8 383.9h0M484.2 378.6h0M495.8 373.3h0M507.5 368.0h0M519.3 362.6h0M531.1 357.3h0M543.1 352.0h0M408.6 412.9h0M416.5 404.6h0M424.3 396.4h0M432.2 388.1h0M440.0 379.8h0M447.8 371.5h0M455.7 363.3h0M463.5 355.0h0M471.4 346.7h0M479.2 338.4h0M487.1 330.2h0M494.9 321.9h0M410.2 416.0h0M419.7 410.9h0M429.1 405.7h0M438.6 400.6h0M448.0 395.4h0M457.5 390.3h0M466.9 385.1h0M476.4 380.0h0M485.8 374.8h0M495.2 369.7h0M504.7 364.5h0M514.1 359.4h0M523.6 354.2h0M533.0 349.0h0M542.5 343.9h0M551.9 338.7h0M561.4 333.6h0M410.1 416.0h0M419.3 410.9h0M428.6 405.7h0M437.9 400.6h0M447.2 395.4h0M456.4 390.3h0M465.7 385.1h0M475.0 380.0h0M484.3 374.8h0M493.5 369.7h0M502.8 364.5h0M512.1 359.4h0M521.4 354.2h0M530.6 349.0h0M539.9 343.9h0M549.2 338.7h0M558.5 333.6h0M411.3 413.9h0M423.3 406.6h0M435.9 399.3h0M448.9 391.9h0M462.3 384.6h0M476.0 377.3h0M489.9 370.0h0M504.0 362.7h0M518.3 355.4h0M532.7 348.1h0M547.3 340.7h0M562.0 333.4h0M576.8 326.1h0M591.8 318.8h0M411.1 413.9h0M422.9 406.6h0M435.3 399.3h0M448.1 391.9h0M461.3 384.6h0M474.7 377.3h0M488.3 370.0h0M502.2 362.7h0M516.2 355.4h0M530.4 348.1h0M544.7 340.7h0M559.2 333.4h0M573.8 326.1h0M588.4 318.8h0M409.0 414.9h0M417.7 408.6h0M426.7 402.2h0M435.8 395.9h0M445.0 389.6h0M454.3 383.3h0M463.7 377.0h0M473.2 370.6h0M482.7 364.3h0M408.1 415.8h0M416.0 410.4h0M424.1 405.0h0M432.3 399.6h0M440.6 394.2h0M448.9 388.8h0M457.4 383.4h0M465.9 378.0h0M474.5 372.7h0M483.1 367.3h0M491.8 361.9h0M500.5 356.5h0M509.2 351.1h0M518.0 345.7h0M526.8 340.3h0M535.7 334.9h0M544.5 329.5h0M553.4 324.1h0M562.3 318.7h0M571.3 313.3h0M408.0 415.8h0M415.7 410.4h0M423.7 405.0h0M431.7 399.6h0M439.9 394.2h0M448.2 388.8h0M456.5 383.4h0M464.9 378.0h0M473.3 372.7h0M481.8 367.3h0M490.3 361.9h0M498.9 356.5h0M507.5 351.1h0M516.1 345.7h0M524.7 340.3h0M533.4 334.9h0M542.1 329.5h0M550.9 324.1h0M559.7 318.7h0M568.5 313.3h0M407.8 415.8h0M415.3 410.4h0M423.0 405.0h0M430.8 399.6h0M438.8 394.2h0M446.8 388.8h0M454.8 383.4h0M463.0 378.0h0M471.2 372.7h0M479.4 367.3h0M487.7 361.9h0M496.0 356.5h0M504.3 351.1h0M512.7 345.7h0M521.1 340.3h0M529.5 334.9h0M538.0 329.5h0M546.5 324.1h0M555.0 318.7h0M563.5 313.3h0M411.9 416.3h0M423.0 411.4h0M434.1 406.5h0M445.2 401.6h0M456.3 396.8h0M467.4 391.9h0M478.5 387.0h0M489.6 382.1h0M500.7 377.2h0M511.8 372.3h0M522.9 367.4h0M534.0 362.5h0M408.3 413.6h0M417.0 405.9h0M426.1 398.3h0M435.5 390.6h0M445.1 383.0h0M455.0 375.4h0M465.0 367.7h0M475.1 360.1h0M408.1 410.8h0M416.0 400.4h0M424.0 390.0h0M432.2 379.5h0M440.5 369.1h0M448.8 358.7h0M457.3 348.3h0M465.8 337.9h0M407.9 410.8h0M415.5 400.4h0M423.3 390.0h0M431.2 379.5h0M439.3 369.1h0M409.6 415.7h0M418.5 410.1h0M427.3 404.6h0M436.2 399.1h0M445.0 393.5h0M453.9 388.0h0M462.7 382.4h0M471.6 376.9h0M480.4 371.4h0M489.3 365.8h0M498.1 360.3h0M507.0 354.8h0M515.8 349.2h0M524.7 343.7h0M533.5 338.2h0M542.4 332.6h0M409.5 415.7h0M418.1 410.1h0M426.8 404.6h0M435.5 399.1h0M444.1 393.5h0M452.8 388.0h0M461.5 382.4h0M470.1 376.9h0M478.8 371.4h0M487.4 365.8h0M496.1 360.3h0M504.8 354.8h0M513.4 349.2h0M522.1 343.7h0M530.8 338.2h0M539.4 332.6h0M409.5 414.3h0M418.1 407.4h0M426.8 400.5h0M435.4 393.5h0M444.1 386.6h0M452.7 379.7h0M461.4 372.8h0M470.0 365.9h0M478.7 359.0h0M487.3 352.0h0M496.0 345.1h0M504.6 338.2h0M513.3 331.3h0M521.9 324.4h0M409.3 414.3h0M417.8 407.4h0M426.3 400.5h0M434.8 393.5h0M443.3 386.6h0M451.9 379.7h0M460.4 372.8h0M468.9 365.9h0M477.4 359.0h0M485.9 352.0h0M494.4 345.1h0M502.9 338.2h0M511.4 331.3h0M519.9 324.4h0M409.1 414.3h0M417.3 407.4h0M425.6 400.5h0M433.8 393.5h0M442.1 386.6h0M450.3 379.7h0M458.6 372.8h0M466.9 365.9h0M475.1 359.0h0M483.4 352.0h0M491.6 345.1h0M499.9 338.2h0M508.2 331.3h0M516.4 324.4h0M420.4 410.1h0M432.0 404.6h0M444.2 399.1h0M457.0 393.5h0M470.1 388.0h0M483.5 382.5h0M497.2 376.9h0M420.1 410.1h0M431.6 404.6h0M443.7 399.1h0M456.2 393.5h0M469.1 388.0h0M482.4 382.5h0M495.9 376.9h0M409.3 415.7h0M419.7 410.1h0M430.9 404.6h0M442.6 399.1h0M454.9 393.5h0M467.5 388.0h0M480.4 382.5h0M493.7 376.9h0M421.5 404.6h0M429.6 399.1h0M438.1 393.6h0M446.8 388.1h0M455.7 382.6h0M464.8 377.0h0M474.1 371.5h0M483.5 366.0h0M493.1 360.5h0M502.8 355.0h0M512.7 349.4h0M522.6 343.9h0M532.7 338.4h0M542.9 332.9h0M553.1 327.4h0M563.5 321.8h0M406.5 415.7h0M413.5 410.2h0M421.1 404.6h0M429.1 399.1h0M437.3 393.6h0M445.8 388.1h0M454.6 382.6h0M463.5 377.0h0M472.6 371.5h0M481.8 366.0h0M491.2 360.5h0M500.8 355.0h0M510.4 349.4h0M520.1 343.9h0M530.0 338.4h0M540.0 332.9h0M550.0 327.4h0M560.1 321.8h0M408.0 411.6h0M416.3 401.9h0M425.0 392.3h0M434.0 382.6h0M443.2 373.0h0M452.6 363.3h0M462.2 353.7h0M471.9 344.0h0M481.7 334.4h0M407.9 411.6h0M416.0 401.9h0M424.5 392.3h0M433.3 382.6h0M442.3 373.0h0M451.5 363.3h0M460.9 353.7h0M470.4 344.0h0M480.1 334.4h0M407.6 411.6h0M415.4 401.9h0M423.6 392.3h0M432.1 382.6h0M440.8 373.0h0M449.6 363.3h0M458.7 353.7h0M467.8 344.0h0M477.1 334.4h0M410.5 414.8h0M422.3 408.4h0M435.1 402.0h0M448.6 395.6h0M462.6 389.2h0M477.0 382.8h0M491.8 376.4h0M506.9 370.0h0M522.3 363.6h0M537.9 357.2h0M410.4 414.8h0M422.1 408.4h0M434.7 402.0h0M448.0 395.6h0M461.8 389.2h0M476.0 382.8h0M490.6 376.4h0M505.5 370.0h0M520.7 363.6h0M536.1 357.2h0M410.2 414.8h0M421.6 408.4h0M433.9 402.0h0M446.9 395.6h0M460.3 389.2h0M474.2 382.8h0M488.4 376.4h0M503.0 370.0h0M517.8 363.6h0M532.9 357.2h0M407.4 413.6h0M415.0 405.9h0M423.0 398.3h0M431.2 390.6h0M439.7 383.0h0M448.3 375.4h0M457.1 367.7h0M466.0 360.1h0M475.0 352.4h0M484.1 344.8h0M493.3 337.2h0M502.6 329.5h0M512.0 321.9h0M521.5 314.2h0M531.0 306.6h0M406.6 413.9h0M413.7 406.7h0M421.3 399.4h0M429.4 392.2h0M437.8 384.9h0M446.4 377.7h0M455.2 370.4h0M464.3 363.2h0M473.5 355.9h0M406.5 413.9h0M413.4 406.7h0M420.9 399.4h0M428.7 392.2h0M436.9 384.9h0M445.3 377.7h0M454.0 370.4h0M462.8 363.2h0M471.8 355.9h0M406.1 412.7h0M412.6 404.1h0M419.6 395.6h0M426.9 387.1h0M434.6 378.5h0M442.5 370.0h0M450.5 361.5h0M458.8 352.9h0M467.2 344.4h0M475.8 335.9h0M407.3 413.0h0M414.3 404.7h0M421.5 396.5h0M428.8 388.3h0M436.2 380.0h0M443.6 371.8h0M451.2 363.6h0M458.7 355.4h0M466.4 347.1h0M474.0 338.9h0M414.3 414.6h0M427.8 407.9h0M441.3 401.3h0M454.9 394.6h0M468.4 388.0h0M481.9 381.3h0M495.4 374.7h0M508.9 368.0h0M522.4 361.4h0M535.9 354.7h0M414.1 414.6h0M427.4 407.9h0M440.7 401.3h0M454.0 394.6h0M467.2 388.0h0M480.5 381.3h0M493.8 374.7h0M507.1 368.0h0M520.4 361.4h0M533.7 354.7h0M406.7 412.6h0M413.8 404.0h0M421.6 395.4h0M429.7 386.8h0M438.2 378.2h0M446.9 369.6h0M455.8 361.0h0M464.9 352.5h0M474.2 343.9h0M406.5 412.6h0M413.5 404.0h0M421.0 395.4h0M429.0 386.8h0M437.2 378.2h0M445.7 369.6h0M454.4 361.0h0M463.3 352.5h0M472.3 343.9h0M406.2 414.4h0M412.8 407.5h0M420.0 400.7h0M427.5 393.9h0M435.4 387.0h0M443.4 380.2h0M451.7 373.3h0M460.1 366.5h0M468.7 359.7h0M477.5 352.8h0M486.4 346.0h0M495.4 339.2h0M504.5 332.3h0M513.7 325.5h0M406.1 414.4h0M412.6 407.5h0M419.6 400.7h0M427.0 393.9h0M434.6 387.0h0M442.5 380.2h0M450.6 373.3h0M458.8 366.5h0M467.3 359.7h0M475.8 352.8h0M484.5 346.0h0M493.3 339.2h0M502.3 332.3h0M511.3 325.5h0M412.6 414.4h0M426.2 407.6h0M440.4 400.8h0M455.2 394.1h0M470.3 387.3h0M485.8 380.5h0M501.5 373.7h0M517.4 366.9h0M533.5 360.1h0M412.5 414.4h0M425.8 407.6h0M439.9 400.8h0M454.5 394.1h0M469.4 387.3h0M484.6 380.5h0M500.1 373.7h0M515.8 366.9h0M531.7 360.1h0M412.2 414.4h0M425.2 407.6h0M439.0 400.8h0M453.2 394.1h0M467.8 387.3h0M482.6 380.5h0M497.8 373.7h0M513.1 366.9h0M528.6 360.1h0M407.5 415.0h0M415.7 408.8h0M424.6 402.6h0M434.0 396.4h0M443.7 390.2h0M453.6 384.0h0M463.9 377.8h0M474.4 371.6h0M485.0 365.4h0M495.9 359.1h0M506.9 352.9h0M518.1 346.7h0M529.4 340.5h0M407.4 415.0h0M415.4 408.8h0M424.1 402.6h0M433.3 396.4h0M442.8 390.2h0M452.6 384.0h0M462.6 377.8h0M472.9 371.6h0M483.3 365.4h0M493.9 359.1h0M504.7 352.9h0M515.7 346.7h0M526.7 340.5h0M413.6 414.5h0M426.5 407.8h0M439.3 401.1h0M452.1 394.4h0M465.0 387.6h0M477.8 380.9h0M490.6 374.2h0M503.5 367.5h0M516.3 360.8h0M529.1 354.1h0M542.0 347.4h0M413.5 414.5h0M426.1 407.8h0M438.8 401.1h0M451.4 394.4h0M464.1 387.6h0M476.8 380.9h0M489.4 374.2h0M502.1 367.5h0M514.7 360.8h0M527.4 354.1h0M540.1 347.4h0M413.2 414.5h0M425.5 407.8h0M437.9 401.1h0M450.2 394.4h0M462.6 387.6h0M474.9 380.9h0M487.3 374.2h0M499.6 367.5h0M512.0 360.8h0M524.3 354.1h0M536.7 347.4h0M412.5 415.5h0M424.3 409.9h0M436.0 404.2h0M447.8 398.6h0M459.5 392.9h0M471.3 387.3h0M483.0 381.6h0M494.7 376.0h0M506.5 370.3h0M518.2 364.7h0M412.4 415.5h0M424.0 409.9h0M435.6 404.2h0M447.1 398.6h0M458.7 392.9h0M481.9 381.6h0M493.5 376.0h0M505.1 370.3h0M516.7 364.7h0M412.1 415.5h0M423.4 409.9h0M434.7 404.2h0M446.1 398.6h0M457.4 392.9h0M468.7 387.3h0M480.0 381.6h0M491.3 376.0h0M502.6 370.3h0M513.9 364.7h0M410.0 414.0h0M421.3 406.9h0M433.4 399.7h0M446.2 392.6h0M459.5 385.4h0M473.2 378.3h0M487.3 371.1h0M501.6 364.0h0M516.3 356.8h0M531.1 349.7h0M546.2 342.5h0M561.6 335.3h0M577.1 328.2h0M409.9 414.0h0M421.0 406.9h0M433.0 399.7h0M445.6 392.6h0M458.7 385.4h0M472.2 378.3h0M486.1 371.1h0M500.3 364.0h0M514.7 356.8h0M529.3 349.7h0M544.2 342.5h0M559.3 335.3h0M574.6 328.2h0M409.7 414.0h0M420.5 406.9h0M432.2 399.7h0M444.5 392.6h0M457.3 385.4h0M470.5 378.3h0M484.0 371.1h0M497.8 364.0h0M511.9 356.8h0M526.2 349.7h0M540.7 342.5h0M555.4 335.3h0M570.4 328.2h0M408.1 413.5h0M416.0 405.9h0M424.1 398.2h0M432.3 390.5h0M440.6 382.9h0M449.0 375.2h0M457.5 367.5h0M466.0 359.9h0M474.6 352.2h0M408.0 413.5h0M415.7 405.9h0M423.5 398.2h0M431.6 390.5h0M439.7 382.9h0M447.9 375.2h0M456.1 367.5h0M464.5 359.9h0M472.9 352.2h0M405.5 413.7h0M411.3 406.2h0M417.5 398.6h0M424.0 391.1h0M430.8 383.6h0M437.8 376.1h0M445.0 368.6h0M452.3 361.1h0M459.8 353.5h0M467.4 346.0h0M475.1 338.5h0M482.9 331.0h0M490.9 323.5h0M409.6 412.7h0M420.3 404.1h0M431.9 395.6h0M444.1 387.1h0M456.8 378.5h0M469.8 370.0h0M483.2 361.5h0M496.9 352.9h0M510.8 344.4h0M409.5 412.7h0M420.0 404.1h0M431.4 395.6h0M443.4 387.1h0M455.9 378.5h0M468.7 370.0h0M481.9 361.5h0M495.4 352.9h0M509.1 344.4h0M409.2 412.7h0M419.4 404.1h0M430.5 395.6h0M442.2 387.1h0M454.3 378.5h0M466.8 370.0h0M479.6 361.5h0M492.6 352.9h0M505.9 344.4h0M406.7 413.9h0M413.9 406.7h0M421.7 399.4h0M430.0 392.1h0M438.5 384.8h0M447.3 377.6h0M456.3 370.3h0M465.5 363.0h0M474.9 355.8h0M484.5 348.5h0M494.1 341.2h0M504.0 334.0h0M513.9 326.7h0M524.0 319.4h0M534.2 312.1h0M544.4 304.9h0M554.8 297.6h0M565.3 290.3h0M429.4 392.1h0M437.7 384.8h0M446.3 377.6h0M455.2 370.3h0M464.2 363.0h0M473.4 355.8h0M482.7 348.5h0M492.2 341.2h0M501.8 334.0h0M511.6 326.7h0M521.4 319.4h0M531.4 312.1h0M541.5 304.9h0M551.6 297.6h0M561.9 290.3h0M410.2 412.1h0M420.2 402.9h0M430.6 393.8h0M441.1 384.6h0M451.7 375.5h0M462.4 366.4h0M473.3 357.2h0M484.2 348.1h0M495.2 338.9h0M405.5 413.9h0M410.9 406.6h0M416.6 399.3h0M422.4 392.0h0M428.5 384.7h0M434.6 377.4h0M440.9 370.1h0M447.2 362.8h0M453.6 355.5h0M460.1 348.2h0M466.7 340.9h0M473.3 333.6h0M480.0 326.3h0M486.7 319.0h0M493.5 311.7h0M500.3 304.4h0M507.1 297.1h0M514.0 289.8h0M521.0 282.5h0M527.9 275.2h0M410.6 406.6h0M416.1 399.3h0M421.9 392.0h0M427.7 384.7h0M433.7 377.4h0M439.8 370.1h0M445.9 362.8h0M452.2 355.5h0M458.5 348.2h0M464.9 340.9h0M471.3 333.6h0M477.8 326.3h0M484.3 319.0h0M490.9 311.7h0M497.5 304.4h0M504.2 297.1h0M510.9 289.8h0M517.7 282.5h0M524.4 275.2h0M409.4 411.2h0M418.0 401.3h0M426.6 391.3h0M435.1 381.3h0M443.7 371.3h0M452.3 361.4h0M460.9 351.4h0M469.5 341.4h0M478.1 331.5h0M486.7 321.5h0M495.2 311.5h0M503.8 301.6h0M512.4 291.6h0M409.1 411.2h0M417.5 401.3h0M425.8 391.3h0M434.2 381.3h0M442.5 371.3h0M450.9 361.4h0M459.2 351.4h0M467.6 341.4h0M475.9 331.5h0M484.3 321.5h0M492.6 311.5h0M501.0 301.6h0M509.3 291.6h0M411.7 413.8h0M423.4 406.3h0M435.4 398.9h0M447.5 391.4h0M459.9 384.0h0M472.3 376.6h0M484.9 369.1h0M408.5 413.9h0M417.8 406.7h0M427.9 399.4h0M438.5 392.2h0M449.5 384.9h0M460.9 377.7h0M472.6 370.4h0M484.5 363.2h0M496.6 355.9h0M404.6 413.6h0M409.3 406.0h0M414.4 398.4h0M419.7 390.8h0M425.2 383.2h0M430.9 375.6h0M436.8 368.0h0M442.7 360.4h0M404.5 413.6h0M409.1 406.0h0M414.0 398.4h0M419.2 390.8h0M424.6 383.2h0M430.2 375.6h0M435.9 368.0h0M441.7 360.4h0M404.4 413.6h0M408.8 406.0h0M413.5 398.4h0M418.4 390.8h0M423.6 383.2h0M428.9 375.6h0M434.4 368.0h0M440.0 360.4h0M405.5 414.0h0M410.9 406.9h0M416.5 399.7h0M422.4 392.5h0M434.5 378.2h0M440.7 371.0h0M447.0 363.9h0M453.4 356.7h0M459.9 349.6h0M405.4 414.0h0M410.6 406.9h0M416.2 399.7h0M421.9 392.5h0M427.7 385.4h0M433.7 378.2h0M439.8 371.0h0M446.0 363.9h0M452.2 356.7h0M458.5 349.6h0M405.2 414.0h0M410.2 406.9h0M415.5 399.7h0M421.0 392.5h0M426.6 385.4h0M432.3 378.2h0M438.2 371.0h0M444.1 363.9h0M456.1 349.6h0M407.5 414.4h0M415.3 407.7h0M423.4 400.9h0M431.8 394.1h0M440.4 387.4h0M449.2 380.6h0M458.2 373.8h0M467.2 367.1h0M476.4 360.3h0M485.7 353.5h0M495.1 346.7h0M407.4 414.4h0M415.0 407.7h0M422.9 400.9h0M431.2 394.1h0M439.6 387.4h0M448.2 380.6h0M457.0 373.8h0M465.9 367.1h0M474.9 360.3h0M484.0 353.5h0M493.2 346.7h0M407.3 414.4h0M414.3 407.7h0M421.5 400.9h0M428.8 394.1h0M436.2 387.4h0M443.7 380.6h0M451.2 373.8h0M458.8 367.1h0M466.4 360.3h0M474.1 353.5h0M481.8 346.8h0M489.6 340.0h0M497.4 333.2h0M505.2 326.5h0M513.0 319.7h0M520.9 312.9h0M528.8 306.2h0M536.7 299.4h0M544.6 292.6h0M552.6 285.9h0M407.2 414.4h0M414.0 407.7h0M421.0 400.9h0M428.2 394.1h0M435.4 387.4h0M442.7 380.6h0M450.1 373.8h0M457.5 367.1h0M464.9 360.3h0M472.5 353.5h0M480.0 346.8h0M487.6 340.0h0M495.2 333.2h0M502.8 326.5h0M510.5 319.7h0M518.2 312.9h0M525.9 306.2h0M533.6 299.4h0M541.4 292.6h0M549.2 285.9h0M405.2 413.9h0M410.5 406.5h0M416.3 399.2h0M422.3 391.8h0M428.7 384.5h0M435.1 377.2h0M441.8 369.8h0M448.6 362.5h0M455.6 355.1h0M462.6 347.8h0M469.8 340.4h0M477.0 333.1h0M484.4 325.8h0M491.8 318.4h0M499.3 311.1h0M506.9 303.7h0M514.6 296.4h0M522.3 289.1h0M410.2 415.0h0M419.5 408.7h0M428.9 402.5h0M438.2 396.2h0M447.6 390.0h0M456.9 383.7h0M466.3 377.5h0M475.6 371.2h0M410.0 415.0h0M419.2 408.7h0M428.4 402.5h0M437.6 396.2h0M446.8 390.0h0M456.0 383.7h0M465.2 377.5h0M474.4 371.2h0M409.7 415.0h0M418.7 408.7h0M427.6 402.5h0M436.5 396.2h0M445.5 390.0h0M454.4 383.7h0M463.3 377.5h0M472.3 371.2h0M407.0 413.6h0M413.1 405.9h0M419.3 398.3h0M425.4 390.6h0M431.6 383.0h0M437.8 375.4h0M443.9 367.7h0M450.1 360.1h0M456.2 352.4h0M462.4 344.8h0M468.6 337.1h0M474.7 329.5h0M480.9 321.9h0M487.1 314.2h0M406.8 413.6h0M412.8 405.9h0M418.7 398.3h0M424.7 390.6h0M430.7 383.0h0M436.7 375.4h0M442.7 367.7h0M448.6 360.1h0M454.6 352.4h0M460.6 344.8h0M466.6 337.1h0M408.6 415.9h0M418.1 410.6h0M428.4 405.2h0M439.2 399.9h0M450.5 394.6h0M462.1 389.3h0M474.0 383.9h0M486.1 378.6h0M498.5 373.3h0M511.1 368.0h0M523.8 362.6h0M536.8 357.3h0M408.5 415.9h0M417.8 410.6h0M428.0 405.2h0M438.6 399.9h0M449.7 394.6h0M461.1 389.3h0M472.7 383.9h0M484.7 378.6h0M496.9 373.3h0M509.2 368.0h0M521.8 362.6h0M534.5 357.3h0M407.2 415.9h0M414.9 410.5h0M423.3 405.2h0M432.2 399.8h0M441.4 394.5h0M450.8 389.1h0M460.5 383.8h0M470.4 378.4h0M480.5 373.1h0M490.8 367.7h0M501.2 362.4h0M511.8 357.0h0M522.5 351.7h0M407.1 415.9h0M414.7 410.5h0M423.0 405.2h0M431.7 399.8h0M440.8 394.5h0M450.1 389.1h0M459.6 383.8h0M469.4 378.4h0M479.3 373.1h0M489.5 367.7h0M499.7 362.4h0M510.1 357.0h0M520.7 351.7h0M406.9 415.9h0M414.4 410.5h0M422.4 405.2h0M430.9 399.8h0M439.7 394.5h0M448.7 389.1h0M458.0 383.8h0M467.5 378.4h0M477.2 373.1h0M487.1 367.7h0M497.1 362.4h0M507.2 357.0h0M517.5 351.7h0M408.9 415.7h0M417.5 410.2h0M426.4 404.7h0M435.4 399.3h0M444.6 393.8h0M453.8 388.3h0M463.1 382.8h0M472.5 377.3h0M482.0 371.8h0M491.5 366.3h0M501.0 360.9h0M408.8 415.7h0M417.3 410.2h0M426.0 404.7h0M434.9 399.3h0M443.9 393.8h0M453.0 388.3h0M462.1 382.8h0M471.4 377.3h0M480.7 371.8h0M490.0 366.3h0M499.4 360.9h0M408.5 415.7h0M416.8 410.2h0M425.3 404.7h0M433.9 399.3h0M442.6 393.8h0M451.5 388.3h0M460.4 382.8h0M469.4 377.3h0M478.4 371.8h0M487.5 366.3h0M496.6 360.9h0M409.2 412.8h0M417.6 404.3h0M426.0 395.9h0M434.4 387.5h0M442.8 379.0h0M451.2 370.6h0M459.6 362.1h0M468.0 353.7h0M409.0 412.8h0M417.3 404.3h0M425.5 395.9h0M433.7 387.5h0M441.9 379.0h0M450.2 370.6h0M458.4 362.1h0M466.6 353.7h0M408.7 412.8h0M416.7 404.3h0M424.6 395.9h0M432.5 387.5h0M440.5 379.0h0M448.4 370.6h0M456.3 362.1h0M464.3 353.7h0M410.4 415.6h0M419.9 410.1h0M429.5 404.5h0M439.1 399.0h0M448.6 393.4h0M458.2 387.9h0M467.7 382.3h0M477.3 376.8h0M486.9 371.2h0M496.4 365.7h0M506.0 360.1h0M515.6 354.6h0M525.1 349.0h0M410.2 415.6h0M419.6 410.1h0M428.9 404.5h0M438.3 399.0h0M447.7 393.4h0M457.1 387.9h0M466.4 382.3h0M475.8 376.8h0M485.2 371.2h0M494.6 365.7h0M504.0 360.1h0M513.3 354.6h0M522.7 349.0h0M415.7 405.8h0M423.6 398.2h0M439.7 382.8h0M448.0 375.1h0M456.2 367.4h0M464.6 359.8h0M473.0 352.1h0M481.4 344.4h0M407.8 413.5h0M415.4 405.8h0M423.1 398.2h0M431.0 390.5h0M439.0 382.8h0M447.1 375.1h0M455.2 367.4h0M463.4 359.8h0M471.6 352.1h0M479.9 344.4h0M407.6 413.5h0M414.9 405.8h0M422.4 398.2h0M430.0 390.5h0M437.7 382.8h0M445.5 375.1h0M453.3 367.4h0M461.2 359.8h0M469.2 352.1h0M477.2 344.4h0M408.8 414.3h0M417.4 407.4h0M426.3 400.6h0M435.3 393.7h0M444.4 386.8h0M453.6 379.9h0M462.8 373.0h0M472.2 366.2h0M481.6 359.3h0M491.0 352.4h0M408.7 414.3h0M417.2 407.4h0M425.9 400.6h0M434.7 393.7h0M443.7 386.8h0M452.7 379.9h0M461.8 373.0h0M471.0 366.2h0M480.3 359.3h0M489.5 352.4h0M408.5 414.3h0M416.7 407.4h0M425.1 400.6h0M433.7 393.7h0M442.4 386.8h0M451.2 379.9h0M460.1 373.0h0M469.0 366.2h0M478.0 359.3h0M487.0 352.4h0M409.3 416.0h0M418.3 410.9h0M427.7 405.7h0M437.1 400.5h0M446.7 395.3h0M456.4 390.2h0M466.2 385.0h0M476.0 379.8h0M485.9 374.7h0M495.9 369.5h0M505.9 364.3h0M515.9 359.1h0M526.0 354.0h0M536.2 348.8h0M546.3 343.6h0M556.5 338.5h0M409.2 416.0h0M418.1 410.9h0M427.3 405.7h0M436.6 400.5h0M446.1 395.3h0M455.6 390.2h0M465.3 385.0h0M475.0 379.8h0M484.7 374.7h0M494.5 369.5h0M504.4 364.3h0M514.3 359.1h0M524.3 354.0h0M534.3 348.8h0M544.3 343.6h0M554.4 338.5h0M408.9 416.0h0M417.7 410.9h0M426.6 405.7h0M435.7 400.5h0M445.0 395.3h0M454.3 390.2h0M463.7 385.0h0M473.1 379.8h0M482.7 374.7h0M492.2 369.5h0M501.9 364.3h0M511.5 359.1h0M521.2 354.0h0M531.0 348.8h0M540.8 343.6h0M550.6 338.5h0M408.5 413.8h0M416.7 406.5h0M425.2 399.1h0M433.8 391.7h0M442.5 384.4h0M451.2 377.0h0M460.1 369.6h0M469.0 362.2h0M478.0 354.9h0M487.1 347.5h0M496.1 340.1h0M505.3 332.8h0M514.4 325.4h0M523.6 318.0h0M532.8 310.7h0M542.1 303.3h0M408.3 413.8h0M416.4 406.5h0M424.6 399.1h0M433.1 391.7h0M441.6 384.4h0M450.2 377.0h0M458.8 369.6h0M467.6 362.2h0M476.4 354.9h0M485.2 347.5h0M494.1 340.1h0M503.0 332.8h0M512.0 325.4h0M521.0 318.0h0M530.0 310.7h0M539.1 303.3h0M410.9 412.9h0M421.0 404.5h0M431.1 396.2h0M441.2 387.8h0M451.3 379.5h0M461.3 371.2h0M471.4 362.8h0M481.5 354.5h0M491.6 346.1h0M501.7 337.8h0M511.8 329.5h0M521.9 321.1h0M532.0 312.8h0M542.1 304.4h0M407.3 413.9h0M413.7 406.5h0M420.2 399.2h0M426.7 391.8h0M433.1 384.5h0M439.6 377.2h0M446.1 369.8h0M452.6 362.5h0M459.0 355.1h0M407.1 413.9h0M413.4 406.5h0M419.7 399.2h0M426.0 391.8h0M432.3 384.5h0M438.6 377.2h0M444.8 369.8h0M451.1 362.5h0M457.4 355.1h0M408.2 412.4h0M416.0 403.6h0M424.1 394.8h0M432.4 386.0h0M440.7 377.2h0M449.1 368.4h0M457.6 359.6h0M466.1 350.8h0M474.7 342.0h0M483.4 333.2h0M408.0 412.4h0M415.6 403.6h0M423.5 394.8h0M431.5 386.0h0M447.8 368.4h0M456.1 359.6h0M464.4 350.8h0M472.8 342.0h0M481.2 333.2h0M407.0 414.4h0M414.1 407.5h0M421.7 400.7h0M429.4 393.8h0M437.4 387.0h0M445.5 380.2h0M453.8 373.3h0M462.1 366.5h0M470.6 359.6h0M479.2 352.8h0M487.9 346.0h0M496.6 339.1h0M505.4 332.3h0M406.9 414.4h0M413.9 407.5h0M421.2 400.7h0M428.8 393.8h0M436.6 387.0h0M444.5 380.2h0M452.6 373.3h0M460.8 366.5h0M469.1 359.6h0M486.0 346.0h0M494.5 339.1h0M503.2 332.3h0M410.0 416.1h0M419.9 411.0h0M430.0 405.9h0M440.3 400.8h0M450.7 395.7h0M461.2 390.7h0M471.8 385.6h0M482.5 380.5h0M493.2 375.4h0M504.1 370.3h0M514.9 365.2h0M525.8 360.1h0M536.8 355.0h0M547.8 349.9h0M558.9 344.8h0M569.9 339.8h0M414.2 408.5h0M422.2 402.2h0M430.6 395.8h0M439.3 389.5h0M448.3 383.1h0M457.5 376.8h0M466.9 370.4h0M476.5 364.1h0M486.2 357.7h0M496.1 351.4h0M506.2 345.0h0M410.7 414.9h0M421.9 408.5h0M433.8 402.2h0M446.1 395.8h0M458.7 389.5h0M471.5 383.2h0M484.6 376.8h0M497.8 370.5h0M410.5 414.9h0M421.6 408.5h0M433.3 402.2h0M445.5 395.8h0M457.9 389.5h0M470.6 383.2h0M483.4 376.8h0M496.5 370.5h0M410.3 414.9h0M421.1 408.5h0M432.6 402.2h0M444.4 395.8h0M456.5 389.5h0M468.9 383.2h0M481.4 376.8h0M494.2 370.5h0M411.3 416.2h0M421.9 411.3h0M432.4 406.3h0M443.0 401.3h0M453.5 396.4h0M464.0 391.4h0M474.6 386.5h0M485.1 381.5h0M495.7 376.5h0M506.2 371.6h0M516.7 366.6h0M527.3 361.6h0M537.8 356.7h0M408.8 415.6h0M417.4 410.0h0M426.3 404.5h0M435.2 398.9h0M444.3 393.3h0M453.5 387.7h0M462.8 382.1h0M472.1 376.6h0M481.5 371.0h0M491.0 365.4h0M500.4 359.8h0M510.0 354.2h0M519.6 348.7h0M529.2 343.1h0M408.7 415.6h0M417.2 410.0h0M425.9 404.5h0M434.7 398.9h0M443.6 393.3h0M452.7 387.7h0M461.8 382.1h0M471.0 376.6h0M480.2 371.0h0M489.5 365.4h0M498.8 359.8h0M508.2 354.2h0M517.6 348.7h0M527.1 343.1h0M408.5 415.6h0M416.7 410.0h0M425.1 404.5h0M433.7 398.9h0M442.4 393.3h0M451.2 387.7h0M460.0 382.1h0M468.9 376.6h0M477.9 371.0h0M486.9 365.4h0M496.0 359.8h0M505.1 354.2h0M514.2 348.7h0M523.4 343.1h0M409.6 414.9h0M419.0 408.5h0M428.6 402.2h0M438.4 395.9h0M448.3 389.5h0M458.4 383.2h0M468.5 376.8h0M478.7 370.5h0M488.9 364.2h0M499.2 357.8h0M509.6 351.5h0M409.4 414.9h0M418.6 408.5h0M428.0 402.2h0M437.6 395.9h0M447.4 389.5h0M457.2 383.2h0M467.1 376.8h0M477.1 370.5h0M487.1 364.2h0M497.2 357.8h0M507.4 351.5h0M410.0 413.9h0M419.8 406.6h0M429.9 399.4h0M440.1 392.1h0M450.5 384.8h0M461.0 377.5h0M471.6 370.3h0M482.2 363.0h0M492.9 355.7h0M503.7 348.4h0M514.5 341.2h0M525.4 333.9h0M408.9 414.3h0M417.7 407.4h0M426.6 400.5h0M435.7 393.6h0M444.9 386.7h0M454.3 379.8h0M463.7 372.9h0M473.1 366.0h0M482.6 359.1h0M492.2 352.2h0M501.8 345.3h0M511.5 338.4h0M426.2 400.5h0M435.2 393.6h0M444.2 386.7h0M453.4 379.8h0M462.6 372.9h0M472.0 366.0h0M481.3 359.1h0M490.7 352.2h0M500.2 345.3h0M509.7 338.4h0M408.6 414.3h0M416.9 407.4h0M425.5 400.5h0M434.2 393.6h0M443.0 386.7h0M451.9 379.8h0M460.9 372.9h0M469.9 366.0h0M479.0 359.1h0M488.2 352.2h0M497.3 345.3h0M506.6 338.4h0M410.1 413.7h0M419.3 406.2h0M428.6 398.7h0M437.8 391.2h0M447.1 383.7h0M456.4 376.2h0M465.6 368.7h0M474.9 361.2h0M484.1 353.7h0M493.4 346.2h0M502.6 338.7h0M409.9 413.7h0M419.0 406.2h0M428.1 398.7h0M437.2 391.2h0M446.3 383.7h0M455.4 376.2h0M464.5 368.7h0M473.6 361.2h0M482.7 353.7h0M491.8 346.2h0M500.9 338.7h0M409.6 413.7h0M418.5 406.2h0M427.3 398.7h0M436.1 391.2h0M445.0 383.7h0M453.8 376.2h0M462.6 368.7h0M471.5 361.2h0M480.3 353.7h0M489.1 346.2h0M498.0 338.7h0M407.5 413.0h0M415.2 404.7h0M423.3 396.5h0M431.6 388.3h0M440.2 380.1h0M448.9 371.8h0M457.8 363.6h0M466.8 355.4h0M476.0 347.2h0M485.2 338.9h0M494.5 330.7h0M407.4 413.0h0M414.9 404.7h0M422.8 396.5h0M431.0 388.3h0M439.4 380.1h0M448.0 371.8h0M456.7 363.6h0M465.6 355.4h0M474.5 347.2h0M483.6 338.9h0M492.7 330.7h0M407.1 413.0h0M414.4 404.7h0M422.1 396.5h0M430.0 388.3h0M438.1 380.1h0M446.4 371.8h0M454.8 363.6h0M463.3 355.4h0M472.0 347.2h0M480.7 338.9h0M489.6 330.7h0M407.9 413.8h0M415.5 406.4h0M423.2 399.0h0M431.1 391.5h0M439.2 384.1h0M447.2 376.7h0M455.4 369.3h0M463.6 361.9h0M471.9 354.5h0M480.2 347.1h0M488.6 339.6h0M497.0 332.2h0M505.4 324.8h0M513.9 317.4h0M522.4 310.0h0M407.7 413.8h0M415.2 406.4h0M422.8 399.0h0M430.6 391.5h0M438.4 384.1h0M446.4 376.7h0M454.4 369.3h0M462.5 361.9h0M470.6 354.5h0M478.7 347.1h0M486.9 339.6h0M495.2 332.2h0M503.5 324.8h0M511.8 317.4h0M520.1 310.0h0M407.5 413.8h0M414.7 406.4h0M422.1 399.0h0M429.6 391.5h0M437.2 384.1h0M444.9 376.7h0M452.6 369.3h0M460.4 361.9h0M468.3 354.5h0M476.2 347.1h0M484.1 339.6h0M492.1 332.2h0M500.1 324.8h0M508.1 317.4h0M516.2 310.0h0M415.2 413.7h0M429.6 406.2h0M443.9 398.8h0M458.3 391.3h0M472.7 383.8h0M487.1 376.3h0M501.4 368.9h0M515.8 361.4h0M530.2 353.9h0M544.6 346.4h0M414.9 413.7h0M429.1 406.2h0M443.2 398.8h0M457.3 391.3h0M471.5 383.8h0M485.6 376.3h0M499.7 368.9h0M513.9 361.4h0M528.0 353.9h0M542.1 346.4h0M405.8 412.9h0M411.4 404.7h0M417.4 396.4h0M423.6 388.2h0M429.9 379.9h0M436.4 371.6h0M443.0 363.4h0M405.6 412.9h0M411.1 404.7h0M416.9 396.4h0M422.9 388.2h0M429.1 379.9h0M435.4 371.6h0M441.7 363.4h0M410.9 414.0h0M423.1 406.7h0M436.4 399.5h0M450.3 392.2h0M464.8 385.0h0M479.7 377.7h0M495.1 370.5h0M410.7 414.0h0M422.8 406.7h0M435.9 399.5h0M449.6 392.2h0M463.9 385.0h0M478.6 377.7h0M493.7 370.5h0M410.5 414.0h0M422.2 406.7h0M435.0 399.5h0M448.4 392.2h0M462.3 385.0h0M476.7 377.7h0M491.4 370.5h0M406.9 413.4h0M413.0 405.5h0M419.1 397.7h0M425.2 389.9h0M431.3 382.0h0M437.4 374.2h0M443.6 366.4h0M449.7 358.5h0M455.8 350.7h0M461.9 342.8h0M409.4 414.0h0M418.0 406.8h0M426.6 399.6h0M435.2 392.4h0M443.8 385.2h0M452.4 378.0h0M461.0 370.7h0M469.6 363.5h0M478.2 356.3h0M486.8 349.1h0M495.4 341.9h0M504.0 334.7h0M512.6 327.5h0M407.7 413.7h0M424.1 398.6h0M432.7 391.1h0M441.6 383.6h0M450.7 376.1h0M459.9 368.6h0M469.2 361.0h0M478.7 353.5h0M423.7 398.6h0M432.2 391.1h0M440.9 383.6h0M449.8 376.1h0M458.9 368.6h0M468.0 361.0h0M477.3 353.5h0M407.4 413.7h0M422.9 398.6h0M431.2 391.1h0M439.6 383.6h0M448.2 376.1h0M457.0 368.6h0M465.9 361.0h0M474.9 353.5h0M409.6 412.0h0M420.3 402.7h0M431.9 393.5h0M444.0 384.2h0M456.7 375.0h0M469.7 365.7h0M483.1 356.5h0M496.7 347.2h0M409.4 412.0h0M420.0 402.7h0M431.4 393.5h0M443.3 384.2h0M455.8 375.0h0M468.6 365.7h0M481.8 356.5h0M495.2 347.2h0M409.2 412.0h0M419.4 402.7h0M430.5 393.5h0M442.1 384.2h0M454.2 375.0h0M466.7 365.7h0M479.4 356.5h0M492.5 347.2h0M410.4 414.7h0M422.2 408.3h0M434.9 401.8h0M448.3 395.4h0M462.2 388.9h0M476.5 382.5h0M491.2 376.0h0M506.2 369.6h0M521.5 363.1h0M537.0 356.7h0M552.8 350.2h0M568.8 343.7h0M409.2 415.8h0M417.5 410.3h0M425.9 404.9h0M434.3 399.4h0M442.7 394.0h0M451.0 388.6h0M459.4 383.1h0M467.8 377.7h0M476.2 372.2h0M484.5 366.8h0M492.9 361.3h0M501.3 355.9h0M509.7 350.5h0M518.0 345.0h0M526.4 339.6h0M534.8 334.1h0M543.2 328.7h0M551.5 323.3h0M559.9 317.8h0M568.3 312.4h0M409.0 415.8h0M417.2 410.3h0M425.4 404.9h0M433.6 399.4h0M441.8 394.0h0M450.0 388.6h0M458.2 383.1h0M466.4 377.7h0M474.6 372.2h0M482.8 366.8h0M491.0 361.3h0M499.2 355.9h0M507.4 350.5h0M515.6 345.0h0M523.8 339.6h0M532.0 334.1h0M540.2 328.7h0M548.4 323.3h0M556.7 317.8h0M564.9 312.4h0M405.6 413.8h0M411.2 406.3h0M417.0 398.9h0M423.1 391.4h0M429.3 384.0h0M435.6 376.5h0M442.0 369.1h0M448.6 361.7h0M455.2 354.2h0M461.8 346.8h0M468.6 339.3h0M405.5 413.8h0M410.9 406.3h0M416.6 398.9h0M422.4 391.4h0M428.5 384.0h0M434.6 376.5h0M440.9 369.1h0M447.2 361.7h0M453.6 354.2h0M460.1 346.8h0M466.7 339.3h0M407.9 414.2h0M416.1 407.2h0M424.7 400.1h0M433.5 393.1h0M442.6 386.1h0M451.9 379.1h0M461.4 372.0h0M471.0 365.0h0M480.7 358.0h0M490.5 351.0h0M500.4 344.0h0M510.4 336.9h0M520.5 329.9h0M410.6 415.6h0M422.5 410.0h0M435.3 404.3h0M448.9 398.7h0M462.9 393.1h0M477.4 387.5h0M492.3 381.8h0M422.2 410.0h0M434.8 404.3h0M448.2 398.7h0M462.1 393.1h0M476.4 387.5h0M491.0 381.8h0M421.6 410.0h0M434.0 404.3h0M447.1 398.7h0M460.6 393.1h0M474.5 387.5h0M488.8 381.8h0M409.8 413.5h0M420.1 405.9h0M431.0 398.2h0M442.2 390.6h0M453.7 382.9h0M465.5 375.3h0M477.4 367.6h0M489.6 359.9h0M501.8 352.3h0M514.2 344.6h0M526.8 337.0h0M539.4 329.3h0M552.2 321.6h0M565.1 314.0h0M407.5 413.5h0M414.6 405.8h0M421.9 398.1h0M429.4 390.3h0M437.0 382.6h0M444.6 374.9h0M452.3 367.2h0M460.0 359.5h0M467.8 351.8h0M475.7 344.1h0M483.5 336.4h0M408.8 414.2h0M417.3 407.3h0M426.0 400.3h0M434.9 393.4h0M443.9 386.4h0M453.1 379.4h0M462.2 372.5h0M471.5 365.5h0M480.8 358.5h0M490.1 351.6h0M499.5 344.6h0M509.0 337.7h0M518.5 330.7h0M528.0 323.7h0M537.6 316.8h0M547.1 309.8h0M556.8 302.8h0M566.4 295.9h0M409.4 414.1h0M418.1 406.9h0M426.7 399.8h0M435.3 392.7h0M443.9 385.5h0M452.6 378.4h0M461.2 371.3h0M469.8 364.1h0M478.4 357.0h0M487.1 349.8h0M495.7 342.7h0M405.7 413.7h0M411.7 406.1h0M418.2 398.6h0M425.0 391.1h0M432.1 383.6h0M439.4 376.0h0M446.9 368.5h0M454.6 361.0h0M462.4 353.5h0M405.9 414.4h0M412.2 407.7h0M419.0 400.9h0M426.1 394.1h0M433.5 387.3h0M441.1 380.6h0M448.9 373.8h0M456.9 367.0h0M465.0 360.2h0M473.3 353.5h0M481.7 346.7h0M490.2 339.9h0M498.8 333.2h0M507.6 326.4h0M405.8 414.4h0M411.9 407.7h0M418.5 400.9h0M425.5 394.1h0M432.7 387.3h0M440.2 380.6h0M447.8 373.8h0M455.6 367.0h0M463.6 360.2h0M471.7 353.5h0M479.9 346.7h0M488.2 339.9h0M496.6 333.2h0M505.2 326.4h0M407.3 413.7h0M414.4 406.1h0M421.6 398.6h0M428.9 391.0h0M436.3 383.5h0M443.8 375.9h0M451.3 368.4h0M458.9 360.8h0M466.6 353.3h0M474.3 345.7h0M482.0 338.2h0M489.8 330.6h0M497.6 323.1h0M505.4 315.6h0M513.3 308.0h0M521.1 300.5h0M415.0 408.7h0M423.0 402.5h0M431.3 396.2h0M439.8 390.0h0M448.5 383.7h0M457.3 377.5h0M466.2 371.2h0M475.3 365.0h0M484.4 358.8h0M493.7 352.5h0M503.0 346.3h0M512.4 340.0h0M521.9 333.8h0M407.3 415.0h0M414.7 408.7h0M422.6 402.5h0M430.7 396.2h0M439.0 390.0h0M447.5 383.7h0M456.1 377.5h0M464.9 371.2h0M473.8 365.0h0M482.7 358.8h0M491.8 352.5h0M500.9 346.3h0M510.1 340.0h0M519.4 333.8h0M417.7 410.5h0M426.6 405.2h0M435.7 399.9h0M444.9 394.5h0M454.2 389.2h0M463.6 383.8h0M473.1 378.5h0M482.6 373.2h0M492.2 367.8h0M501.8 362.5h0M511.4 357.2h0M521.1 351.8h0M530.9 346.5h0M540.6 341.2h0M408.8 415.9h0M417.4 410.5h0M426.2 405.2h0M435.2 399.9h0M444.3 394.5h0M453.4 389.2h0M462.7 383.8h0M472.0 378.5h0M481.3 373.2h0M490.8 367.8h0M500.2 362.5h0M509.8 357.2h0M519.3 351.8h0M528.9 346.5h0M538.5 341.2h0M417.0 410.5h0M425.5 405.2h0M434.2 399.9h0M443.1 394.5h0M452.0 389.2h0M461.0 383.8h0M470.1 378.5h0M479.2 373.2h0M488.3 367.8h0M497.6 362.5h0M506.8 357.2h0M516.1 351.8h0M525.4 346.5h0M534.8 341.2h0M412.9 417.9h0M423.1 414.5h0M432.7 411.2h0M441.9 407.8h0M450.8 404.5h0M459.5 401.1h0M468.1 397.8h0M476.4 394.5h0M484.7 391.1h0M492.9 387.8h0M500.9 384.4h0M508.9 381.1h0M413.0 417.8h0M423.3 414.3h0M432.9 410.9h0M442.2 407.5h0M451.2 404.0h0M459.9 400.6h0M468.5 397.2h0M477.0 393.7h0M485.3 390.3h0M493.5 386.9h0M501.6 383.4h0M509.7 380.0h0M413.1 417.7h0M423.4 414.2h0M433.1 410.6h0M442.5 407.1h0M451.5 403.6h0M460.3 400.1h0M469.0 396.5h0M477.5 393.0h0M485.8 389.5h0M494.1 386.0h0M502.3 382.4h0M510.4 378.9h0M413.2 417.6h0M423.6 414.0h0M433.3 410.4h0M442.7 406.7h0M451.8 403.1h0M460.7 399.5h0M469.4 395.9h0M477.9 392.3h0M486.3 388.7h0M494.7 385.0h0M502.9 381.4h0M511.0 377.8h0M413.2 417.5h0M423.7 413.8h0M433.5 410.1h0M442.9 406.4h0M452.1 402.7h0M461.0 399.0h0M469.7 395.3h0M478.3 391.5h0M486.8 387.8h0M495.1 384.1h0M503.4 380.4h0M511.5 376.7h0M413.3 417.4h0M423.8 413.6h0M433.6 409.8h0M443.1 406.0h0M452.3 402.2h0M461.2 398.4h0M470.0 394.6h0M478.7 390.8h0M487.2 387.0h0M495.6 383.2h0M503.9 379.4h0M512.1 375.6h0M413.3 417.3h0M423.9 413.4h0M433.8 409.5h0M443.3 405.6h0M452.5 401.8h0M461.5 397.9h0M470.3 394.0h0M479.0 390.1h0M487.5 386.2h0M495.9 382.3h0M504.3 378.4h0M512.5 374.5h0M413.4 417.2h0M424.0 413.2h0M433.9 409.3h0M443.4 405.3h0M452.7 401.3h0M461.7 397.3h0M470.5 393.3h0M479.2 389.4h0M487.8 385.4h0M496.3 381.4h0M504.6 377.4h0M512.9 373.4h0M413.3 417.1h0M423.9 413.1h0M433.8 409.0h0M443.4 404.9h0M452.6 400.8h0M461.7 396.8h0M470.5 392.7h0M479.2 388.6h0M487.8 384.6h0M496.3 380.5h0M504.7 376.4h0M513.0 372.3h0M413.2 417.0h0M423.7 412.9h0M433.6 408.7h0M443.1 404.5h0M452.3 400.4h0M461.4 396.2h0M470.3 392.1h0M479.0 387.9h0M487.6 383.7h0M496.1 379.6h0M504.5 375.4h0M512.8 371.2h0M413.0 416.9h0M423.5 412.7h0M433.3 408.4h0M442.8 404.2h0M452.0 399.9h0M461.1 395.7h0M470.0 391.4h0M478.7 387.2h0M487.3 382.9h0M495.8 378.7h0M504.3 374.4h0M512.6 370.1h0M412.7 416.9h0M423.0 412.6h0M432.7 408.3h0M442.0 404.0h0M451.1 399.7h0M460.1 395.4h0M468.8 391.1h0M477.5 386.8h0M486.0 382.5h0M494.4 378.2h0M502.8 373.9h0M511.1 369.6h0M422.2 412.6h0M431.6 408.3h0M440.7 404.1h0M449.6 399.8h0M458.3 395.5h0M466.9 391.2h0M475.3 386.9h0M483.7 382.6h0M491.9 378.4h0M500.1 374.1h0M508.2 369.8h0M411.8 416.9h0M421.5 412.7h0M430.6 408.4h0M439.5 404.1h0M448.1 399.8h0M456.6 395.6h0M465.0 391.3h0M473.2 387.0h0M481.4 382.8h0M489.4 378.5h0M497.4 374.2h0M505.3 369.9h0M420.7 412.7h0M429.6 408.4h0M438.3 404.2h0M446.7 399.9h0M455.0 395.6h0M463.1 391.4h0M471.2 387.1h0M479.1 382.9h0M487.0 378.6h0M494.8 374.4h0M502.5 370.1h0M411.0 417.0h0M420.0 412.7h0M428.7 408.5h0M437.1 404.2h0M445.3 400.0h0M453.3 395.7h0M461.3 391.5h0M469.2 387.2h0M476.9 383.0h0M484.6 378.7h0M492.3 374.5h0M499.8 370.2h0M410.6 417.0h0M419.4 412.7h0M427.7 408.5h0M435.9 404.3h0M443.9 400.0h0M451.8 395.8h0M459.5 391.6h0M467.2 387.3h0M474.8 383.1h0M482.3 378.9h0M489.8 374.6h0M497.2 370.4h0M410.2 417.0h0M418.7 412.8h0M426.8 408.5h0M442.6 400.1h0M450.2 395.9h0M457.8 391.7h0M465.3 387.4h0M472.7 383.2h0M480.1 379.0h0M487.4 374.8h0M494.6 370.5h0M409.9 417.0h0M418.1 412.8h0M426.0 408.6h0M433.7 404.4h0M441.3 400.2h0M448.7 395.9h0M456.1 391.7h0M463.4 387.5h0M470.7 383.3h0M477.8 379.1h0M485.0 374.9h0M492.1 370.7h0M409.5 417.0h0M417.4 412.8h0M425.1 408.6h0M432.6 404.4h0M440.0 400.2h0M447.3 396.0h0M454.5 391.8h0M461.6 387.6h0M468.7 383.4h0M475.7 379.2h0M482.7 375.0h0M489.6 370.8h0M409.2 417.0h0M416.8 412.8h0M424.3 408.6h0M431.6 404.5h0M438.7 400.3h0M445.8 396.1h0M452.9 391.9h0M459.8 387.7h0M466.7 383.5h0M473.6 379.4h0M480.4 375.2h0M487.2 371.0h0M408.9 417.0h0M416.5 412.7h0M423.8 408.5h0M431.0 404.3h0M438.1 400.0h0M445.1 395.8h0M452.0 391.6h0M458.9 387.3h0M465.8 383.1h0M472.6 378.9h0M479.4 374.6h0M486.1 370.4h0M408.8 416.9h0M416.3 412.5h0M423.6 408.2h0M430.8 403.8h0M437.9 399.5h0M444.9 395.2h0M451.9 390.8h0M458.8 386.5h0M465.7 382.2h0M472.5 377.8h0M479.3 373.5h0M486.1 369.1h0M408.7 416.8h0M416.1 412.3h0M423.4 407.9h0M430.6 403.4h0M437.7 399.0h0M444.7 394.5h0M451.7 390.1h0M458.6 385.7h0M465.5 381.2h0M472.4 376.8h0M479.2 372.3h0M486.0 367.9h0M408.6 416.7h0M416.0 412.1h0M423.2 407.6h0M430.3 403.0h0M437.4 398.5h0M444.5 393.9h0M451.4 389.4h0M458.4 384.8h0M465.3 380.3h0M472.2 375.7h0M479.0 371.2h0M485.9 366.6h0M408.4 416.5h0M415.8 411.9h0M423.0 407.2h0M430.1 402.6h0M437.2 397.9h0M444.2 393.3h0M451.2 388.6h0M458.1 384.0h0M465.0 379.3h0M471.9 374.7h0M478.8 370.0h0M485.7 365.4h0M408.3 416.4h0M415.6 411.7h0M422.7 406.9h0M429.8 402.2h0M436.9 397.4h0M443.9 392.7h0M450.9 387.9h0M457.8 383.2h0M464.8 378.4h0M471.7 373.6h0M478.6 368.9h0M485.4 364.1h0M408.2 416.3h0M415.4 411.5h0M422.5 406.6h0M429.5 401.8h0M436.5 396.9h0M443.5 392.0h0M450.5 387.2h0M457.5 382.3h0M464.4 377.5h0M471.3 372.6h0M478.3 367.7h0M485.2 362.9h0M408.0 416.2h0M415.1 411.3h0M422.2 406.3h0M429.2 401.3h0M436.2 396.4h0M443.2 391.4h0M450.2 386.4h0M457.1 381.5h0M464.1 376.5h0M471.0 371.5h0M477.9 366.6h0M484.8 361.6h0M407.9 416.1h0M414.9 411.1h0M421.9 406.0h0M428.9 400.9h0M435.9 395.9h0M442.8 390.8h0M449.8 385.7h0M456.7 380.6h0M463.7 375.6h0M470.6 370.5h0M477.5 365.4h0M484.4 360.4h0M407.7 416.0h0M414.7 410.9h0M421.6 405.7h0M428.5 400.5h0M435.5 395.3h0M442.4 390.2h0M449.3 385.0h0M456.3 379.8h0M463.2 374.6h0M470.2 369.5h0M477.1 364.3h0M484.0 359.1h0M407.7 415.9h0M414.7 410.6h0M421.6 405.4h0M428.5 400.1h0M435.5 394.8h0M442.4 389.5h0M449.4 384.2h0M456.3 379.0h0M463.2 373.7h0M470.2 368.4h0M477.1 363.1h0M484.0 357.9h0M407.7 415.8h0M414.7 410.4h0M421.6 405.1h0M428.5 399.7h0M435.5 394.3h0M442.4 388.9h0M449.3 383.5h0M456.3 378.2h0M463.2 372.8h0M470.1 367.4h0M477.1 362.0h0M484.0 356.6h0M407.6 415.8h0M414.4 410.4h0M421.3 405.0h0M428.1 399.6h0M434.9 394.2h0M441.7 388.8h0M448.5 383.4h0M455.4 378.0h0M462.2 372.6h0M469.0 367.2h0M475.8 361.8h0M482.6 356.4h0M407.5 415.8h0M414.2 410.4h0M420.9 404.9h0M427.6 399.5h0M434.3 394.1h0M441.1 388.7h0M447.8 383.3h0M454.5 377.9h0M461.2 372.4h0M467.9 367.0h0M474.6 361.6h0M481.3 356.2h0M407.4 415.8h0M414.0 410.3h0M420.6 404.9h0M427.2 399.5h0M433.8 394.0h0M440.4 388.6h0M453.6 377.7h0M460.2 372.3h0M466.8 366.8h0M473.4 361.4h0M480.0 356.0h0M407.3 415.7h0M413.8 410.3h0M420.3 404.8h0M426.8 399.4h0M433.3 393.9h0M439.8 388.5h0M446.3 383.0h0M452.8 377.6h0M459.2 372.1h0M465.7 366.6h0M472.2 361.2h0M478.7 355.7h0M407.2 415.7h0M413.6 410.3h0M420.0 404.8h0M426.4 399.3h0M432.7 393.8h0M439.1 388.4h0M445.5 382.9h0M451.9 377.4h0M458.3 371.9h0M464.7 366.5h0M471.1 361.0h0M477.5 355.5h0M407.1 415.7h0M413.4 410.2h0M419.7 404.7h0M425.9 399.2h0M432.2 393.7h0M438.5 388.2h0M444.8 382.7h0M451.1 377.3h0M457.4 371.8h0M463.6 366.3h0M469.9 360.8h0M476.2 355.3h0M407.0 415.7h0M419.3 404.7h0M425.5 399.2h0M431.7 393.6h0M437.9 388.1h0M444.1 382.6h0M450.3 377.1h0M456.4 371.6h0M462.6 366.1h0M468.8 360.6h0M475.0 355.1h0M406.9 415.7h0M413.0 410.1h0M419.0 404.6h0M425.1 399.1h0M431.2 393.5h0M437.3 388.0h0M443.4 382.5h0M449.5 377.0h0M455.5 371.4h0M461.6 365.9h0M467.7 360.4h0M473.8 354.8h0M406.8 415.6h0M412.8 410.1h0M418.7 404.5h0M424.7 399.0h0M430.7 393.4h0M436.7 387.9h0M442.7 382.3h0M448.7 376.8h0M454.6 371.2h0M460.6 365.7h0M466.6 360.1h0M472.6 354.6h0M406.7 415.6h0M412.6 410.1h0M418.5 404.5h0M424.3 398.9h0M430.2 393.4h0M436.1 387.8h0M442.0 382.2h0M447.9 376.6h0M453.8 371.1h0M459.7 365.5h0M465.5 359.9h0M471.4 354.4h0M406.6 415.6h0M412.4 410.0h0M418.2 404.4h0M424.0 398.8h0M429.7 393.3h0M435.5 387.7h0M441.3 382.1h0M447.1 376.5h0M452.9 370.9h0M458.7 365.3h0M464.5 359.7h0M470.3 354.1h0M406.5 415.6h0M412.2 410.0h0M417.9 404.4h0M423.6 398.8h0M429.3 393.1h0M435.0 387.5h0M440.7 381.9h0M446.4 376.3h0M452.1 370.7h0M457.8 365.1h0M463.5 359.5h0M469.2 353.9h0M406.4 415.6h0M412.0 409.9h0M423.3 398.6h0M428.9 393.0h0M434.5 387.4h0M440.1 381.7h0M445.7 376.1h0M451.3 370.4h0M457.0 364.8h0M462.6 359.2h0M468.2 353.5h0M406.3 415.5h0M411.9 409.9h0M417.4 404.2h0M422.9 398.5h0M428.5 392.9h0M434.0 387.2h0M439.5 381.5h0M445.1 375.9h0M450.6 370.2h0M456.1 364.5h0M461.7 358.9h0M467.2 353.2h0M411.7 409.8h0M417.2 404.1h0M422.6 398.4h0M428.1 392.7h0M433.5 387.0h0M439.0 381.3h0M444.4 375.6h0M449.9 369.9h0M455.3 364.2h0M460.8 358.5h0M466.2 352.8h0M406.2 415.5h0M411.5 409.8h0M416.9 404.0h0M422.3 398.3h0M427.7 392.6h0M433.0 386.9h0M438.4 381.1h0M443.8 375.4h0M449.1 369.7h0M454.5 364.0h0M459.9 358.2h0M465.3 352.5h0M406.1 415.4h0M411.4 409.7h0M416.7 403.9h0M422.0 398.2h0M427.3 392.4h0M432.6 386.7h0M437.8 380.9h0M443.1 375.2h0M448.4 369.4h0M453.7 363.7h0M459.0 357.9h0M464.3 352.2h0M406.0 415.4h0M411.2 409.6h0M416.4 403.9h0M421.7 398.1h0M426.9 392.3h0M432.1 386.5h0M437.3 380.7h0M442.5 374.9h0M447.7 369.2h0M452.9 363.4h0M458.2 357.6h0M463.4 351.8h0M405.9 415.4h0M411.1 409.6h0M416.2 403.8h0M421.3 398.0h0M426.5 392.2h0M431.6 386.3h0M436.8 380.5h0M441.9 374.7h0M447.0 368.9h0M452.2 363.1h0M457.3 357.3h0M462.4 351.5h0M410.9 409.5h0M416.0 403.7h0M421.0 397.8h0M426.1 392.0h0M431.2 386.2h0M436.2 380.3h0M441.3 374.5h0M446.3 368.7h0M451.4 362.8h0M456.5 357.0h0M461.5 351.1h0M405.8 415.3h0M410.8 409.5h0M415.8 403.6h0M420.7 397.7h0M425.7 391.9h0M430.7 386.0h0M435.7 380.1h0M440.7 374.3h0M445.7 368.4h0M450.7 362.5h0M455.6 356.7h0M460.6 350.8h0M405.7 415.3h0M410.6 409.4h0M415.5 403.5h0M420.4 397.6h0M425.4 391.7h0M430.3 385.8h0M435.2 379.9h0M440.1 374.0h0M445.0 368.1h0M449.9 362.2h0M454.8 356.4h0M459.7 350.5h0M405.6 415.3h0M410.5 409.4h0M415.3 403.4h0M420.2 397.5h0M425.0 391.6h0M429.8 385.7h0M434.7 379.7h0M439.5 373.8h0M444.3 367.9h0M449.2 362.0h0M454.0 356.0h0M458.9 350.1h0M405.6 415.2h0M410.3 409.3h0M415.1 403.3h0M419.9 397.4h0M424.6 391.4h0M429.4 385.5h0M434.2 379.5h0M438.9 373.6h0M443.7 367.6h0M448.5 361.7h0M453.2 355.7h0M458.0 349.8h0M405.5 415.2h0M410.2 409.3h0M414.8 403.3h0M419.5 397.4h0M424.2 391.4h0M428.9 385.4h0M433.5 379.5h0M438.2 373.5h0M442.9 367.6h0M447.6 361.6h0M452.3 355.7h0M456.9 349.7h0M405.4 415.2h0M410.0 409.3h0M414.6 403.3h0M419.2 397.4h0M423.7 391.4h0M428.3 385.4h0M432.9 379.5h0M437.5 373.5h0M442.1 367.6h0M446.7 361.6h0M451.3 355.6h0M455.9 349.7h0M404.9 415.8h0M408.9 410.5h0M413.0 405.1h0M417.0 399.7h0M421.1 394.3h0M425.1 389.0h0M429.2 383.6h0M433.2 378.2h0M437.3 372.9h0M441.3 367.5h0M445.4 362.1h0M449.4 356.7h0M404.8 415.8h0M408.7 410.5h0M412.7 405.1h0M416.7 399.7h0M420.7 394.3h0M424.6 389.0h0M428.6 383.6h0M432.6 378.2h0M436.6 372.9h0M440.5 367.5h0M444.5 362.1h0M448.5 356.7h0M404.7 415.8h0M408.6 410.5h0M412.5 405.1h0M416.4 399.7h0M420.3 394.3h0M424.2 389.0h0M428.1 383.6h0M432.0 378.2h0M435.9 372.9h0M439.8 367.5h0M443.7 362.1h0M447.5 356.7h0M404.6 415.8h0M408.4 410.5h0M412.3 405.1h0M416.1 399.7h0M419.9 394.3h0M423.7 389.0h0M427.5 383.6h0M431.4 378.2h0M435.2 372.9h0M439.0 367.5h0M442.8 362.1h0M446.6 356.7h0M404.5 415.8h0M408.3 410.5h0M412.0 405.1h0M415.8 399.7h0M419.5 394.3h0M423.3 389.0h0M427.0 383.6h0M430.8 378.2h0M434.5 372.9h0M438.2 367.5h0M442.0 362.1h0M445.7 356.7h0M408.1 410.5h0M411.8 405.1h0M419.2 394.3h0M422.8 389.0h0M426.5 383.6h0M430.2 378.2h0M433.8 372.9h0M437.5 367.5h0M441.2 362.1h0M444.9 356.7h0M404.4 415.8h0M408.0 410.5h0M411.6 405.1h0M415.2 399.7h0M418.8 394.3h0M422.4 389.0h0M426.0 383.6h0M429.6 378.2h0M433.2 372.9h0M436.8 367.5h0M440.4 362.1h0M444.0 356.7h0M404.3 415.8h0M407.9 410.5h0M411.4 405.1h0M414.9 399.7h0M422.0 389.0h0M425.5 383.6h0M429.0 378.2h0M432.6 372.9h0M436.1 367.5h0M439.6 362.1h0M443.1 356.7h0M407.7 410.5h0M411.2 405.1h0M414.6 399.7h0M418.1 394.3h0M421.6 389.0h0M425.0 383.6h0M428.5 378.2h0M431.9 372.9h0M435.4 367.5h0M438.9 362.1h0M442.3 356.7h0M404.2 415.8h0M407.6 410.5h0M411.0 405.1h0M414.4 399.7h0M417.8 394.3h0M421.1 389.0h0M424.5 383.6h0M427.9 378.2h0M431.3 372.9h0M434.7 367.5h0M438.1 362.1h0M441.5 356.7h0M404.1 415.8h0M407.4 410.5h0M410.8 405.1h0M414.1 399.7h0M417.4 394.3h0M420.7 389.0h0M424.1 383.6h0M427.4 378.2h0M430.7 372.9h0M434.0 367.5h0M437.4 362.1h0M440.7 356.7h0M407.3 410.5h0M410.6 405.1h0M413.8 399.7h0M417.1 394.3h0M420.4 389.0h0M423.6 383.6h0M426.9 378.2h0M430.1 372.9h0M433.4 367.5h0M436.7 362.1h0M439.9 356.7h0M404.0 415.8h0M407.2 410.5h0M410.4 405.1h0M413.6 399.7h0M416.8 394.3h0M420.0 389.0h0M423.2 383.6h0M426.4 378.2h0M429.6 372.9h0M432.8 367.5h0M436.0 362.1h0M439.1 356.7h0M403.9 415.8h0M407.1 410.5h0M410.2 405.1h0M413.3 399.7h0M416.5 394.3h0M419.6 389.0h0M422.7 383.6h0M425.9 378.2h0M429.0 372.9h0M432.1 367.5h0M435.3 362.1h0M438.4 356.7h0M406.9 410.5h0M410.0 405.1h0M413.1 399.7h0M416.2 394.3h0M419.2 389.0h0M422.3 383.6h0M425.4 378.2h0M428.4 372.9h0M431.5 367.5h0M434.6 362.1h0M437.7 356.7h0M403.7 416.0h0M406.6 410.9h0M409.5 405.7h0M412.4 400.5h0M415.3 395.3h0M418.2 390.2h0M421.1 385.0h0M424.0 379.8h0M426.9 374.7h0M429.8 369.5h0M432.7 364.3h0M435.6 359.2h0M403.5 416.4h0M406.1 411.5h0M408.8 406.7h0M411.4 401.9h0M414.1 397.1h0M416.7 392.2h0M419.4 387.4h0M422.0 382.6h0M424.7 377.7h0M427.3 372.9h0M430.0 368.1h0M432.6 363.3h0M403.2 416.7h0M405.6 412.2h0M408.1 407.7h0M410.5 403.3h0M412.9 398.8h0M415.3 394.3h0M417.7 389.8h0M420.1 385.3h0M422.6 380.8h0M425.0 376.3h0M427.4 371.8h0M429.8 367.4h0M403.0 417.1h0M405.2 412.9h0M407.4 408.8h0M409.6 404.6h0M411.7 400.5h0M413.9 396.3h0M416.1 392.2h0M418.3 388.0h0M420.5 383.9h0M422.7 379.8h0M424.9 375.6h0M427.1 371.5h0M402.8 417.4h0M404.7 413.6h0M406.7 409.8h0M408.7 406.0h0M410.6 402.2h0M412.6 398.4h0M414.6 394.6h0M416.6 390.8h0M418.5 387.0h0M420.5 383.2h0M422.5 379.4h0M424.4 375.6h0M402.6 417.6h0M404.4 414.0h0M406.3 410.4h0M408.1 406.8h0M409.9 403.2h0M411.7 399.6h0M413.6 396.1h0M415.4 392.5h0M417.2 388.9h0M419.0 385.3h0M420.9 381.7h0M422.7 378.1h0" stroke="#0000ff" stroke-width="5.4" stroke-linecap="round" fill="none"/>
<line x1="403.3" y1="412.9" x2="642.9" y2="265.3" stroke="#000" stroke-width="1.8"/>
<rect x="391.9" y="254.1" width="262.1" height="167.1" fill="none" stroke="#262626" stroke-width="1.3"/>
<text x="384.0" y="425.1" font-size="10" text-anchor="end" font-family="Liberation Sans, Arial, Helvetica, sans-serif" fill="#262626">0</text>
<text x="384.0" y="401.3" font-size="10" text-anchor="end" font-family="Liberation Sans, Arial, Helvetica, sans-serif" fill="#262626">1</text>
<text x="384.0" y="377.4" font-size="10" text-anchor="end" font-family="Liberation Sans, Arial, Helvetica, sans-serif" fill="#262626">2</text>
<text x="384.0" y="353.5" font-size="10" text-anchor="end" font-family="Liberation Sans, Arial, Helvetica, sans-serif" fill="#262626">3</text>
<text x="384.0" y="329.7" font-size="10" text-anchor="end" font-family="Liberation Sans, Arial, Helvetica, sans-serif" fill="#262626">4</text>
<text x="384.0" y="305.8" font-size="10" text-anchor="end" font-family="Liberation Sans, Arial, Helvetica, sans-serif" fill="#262626">5</text>
<text x="384.0" y="281.9" font-size="10" text-anchor="end" font-family="Liberation Sans, Arial, Helvetica, sans-serif" fill="#262626">6</text>
<text x="384.0" y="258.1" font-size="10" text-anchor="end" font-family="Liberation Sans, Arial, Helvetica, sans-serif" fill="#262626">7</text>
<text x="400.8" y="436.3" font-size="10" text-anchor="middle" font-family="Liberation Sans, Arial, Helvetica, sans-serif" fill="#262626">0.0</text>
<text x="440.8" y="436.3" font-size="10" text-anchor="middle" font-family="Liberation Sans, Arial, Helvetica, sans-serif" fill="#262626">0.5</text>
<text x="480.8" y="436.3" font-size="10" text-anchor="middle" font-family="Liberation Sans, Arial, Helvetica, sans-serif" fill="#262626">1.0</text>
<text x="520.8" y="436.3" font-size="10" text-anchor="middle" font-family="Liberation Sans, Arial, Helvetica, sans-serif" fill="#262626">1.5</text>
<text x="560.8" y="436.3" font-size="10" text-anchor="middle" font-family="Liberation Sans, Arial, Helvetica, sans-serif" fill="#262626">2.0</text>
<text x="600.8" y="436.3" font-size="10" text-anchor="middle" font-family="Liberation Sans, Arial, Helvetica, sans-serif" fill="#262626">2.5</text>
<text x="640.8" y="436.3" font-size="10" text-anchor="middle" font-family="Liberation Sans, Arial, Helvetica, sans-serif" fill="#262626">3.0</text>
<text x="523.0" y="449.8" font-size="12.45" text-anchor="middle" font-family="Liberation Sans, Arial, Helvetica, sans-serif" fill="#262626">Experimental results (s)</text>
<text x="372.5" y="337.6" font-size="12.45" text-anchor="middle" font-family="Liberation Sans, Arial, Helvetica, sans-serif" fill="#262626" transform="rotate(-90 372.5 337.6)">Predicted results (s)</text>
<rect x="563.4" y="398.6" width="85.6" height="17.5" rx="2" fill="#fff" fill-opacity="0.8" stroke="#ccc" stroke-width="1"/>
<circle cx="578.1" cy="407.6" r="2.7" fill="#0000ff"/>
<text x="596.7" y="411.1" font-size="10.25" text-anchor="start" font-family="Liberation Sans, Arial, Helvetica, sans-serif" fill="#262626">R<tspan font-size="13" dy="0.4" dx="-0.2">²</tspan><tspan dy="-0.4" dx="-0.4"> = 0.622</tspan></text>
</g>
<g>
<path d="M41.7 666.0h0M41.8 666.0h0M41.9 666.0h0M42.0 666.0h0M42.1 666.0h0M42.3 666.0h0M42.4 666.0h0M42.5 666.0h0M42.6 666.0h0M42.7 666.0h0M42.8 666.0h0M42.9 666.0h0M43.0 666.0h0M43.1 666.0h0M43.2 666.0h0M43.3 666.0h0M43.4 666.0h0M43.6 666.0h0M43.7 666.0h0M43.8 666.0h0M43.9 666.0h0M44.0 666.0h0M44.1 666.0h0M44.2 666.0h0M44.3 666.0h0M44.4 666.0h0M44.5 666.0h0M44.6 666.0h0M44.7 666.0h0M44.9 666.0h0M45.0 666.0h0M45.1 666.0h0M45.2 666.0h0M45.3 666.0h0M45.4 666.0h0M45.5 666.0h0M45.6 666.0h0M45.7 666.0h0M45.8 666.0h0M45.9 666.0h0M46.0 666.0h0M46.2 666.0h0M46.3 666.0h0M46.4 666.0h0M46.5 666.0h0M46.6 666.0h0M46.7 666.0h0M46.8 666.0h0M46.9 666.0h0M47.0 666.0h0M47.1 666.0h0M47.2 666.0h0M47.3 666.0h0M47.5 666.0h0M47.6 666.0h0M47.7 666.0h0M48.0 666.0h0M48.2 666.0h0M48.3 666.0h0M48.4 666.0h0M48.6 666.0h0M48.8 666.0h0M48.9 666.0h0M49.1 666.0h0M49.2 666.0h0M49.4 666.0h0M51.0 666.0h0M43.4 663.1h0M43.6 663.1h0M43.9 663.1h0M44.1 663.1h0M44.3 663.1h0M44.5 663.1h0M44.7 663.1h0M44.9 663.1h0M45.2 663.1h0M45.4 663.1h0M45.6 663.1h0M45.8 663.1h0M46.0 663.1h0M46.2 663.1h0M46.5 663.1h0M46.7 663.1h0M46.9 663.1h0M47.1 663.1h0M47.3 663.1h0M47.5 663.1h0M47.8 663.1h0M48.0 663.1h0M48.2 663.1h0M48.4 663.1h0M48.6 663.1h0M48.8 663.1h0M49.1 663.1h0M49.3 663.1h0M49.5 663.1h0M49.7 663.1h0M49.9 663.1h0M50.1 663.1h0M50.4 663.1h0M50.6 663.1h0M50.8 663.1h0M51.0 663.1h0M51.2 663.1h0M51.4 663.1h0M51.7 663.1h0M51.9 663.1h0M52.1 663.1h0M52.3 663.1h0M52.5 663.1h0M52.7 663.1h0M53.0 663.1h0M53.2 663.1h0M53.4 663.1h0M53.6 663.1h0M53.8 663.1h0M54.0 663.1h0M54.3 663.1h0M54.5 663.1h0M54.7 663.1h0M54.9 663.1h0M55.1 663.1h0M55.3 663.1h0M56.1 663.1h0M56.3 663.1h0M56.6 663.1h0M56.9 663.1h0M57.2 663.1h0M57.6 663.1h0M57.8 663.1h0M58.1 663.1h0M58.4 663.1h0M58.7 663.1h0M61.9 663.1h0M45.1 660.5h0M45.5 660.5h0M45.8 660.5h0M46.1 660.5h0M46.4 660.5h0M46.8 660.5h0M47.1 660.5h0M47.4 660.5h0M47.7 660.5h0M48.1 660.5h0M48.4 660.5h0M48.7 660.5h0M49.0 660.5h0M49.4 660.5h0M49.7 660.5h0M50.0 660.5h0M50.3 660.5h0M50.7 660.5h0M51.0 660.5h0M51.3 660.5h0M51.6 660.5h0M52.0 660.5h0M52.3 660.5h0M52.6 660.5h0M52.9 660.5h0M53.3 660.5h0M53.6 660.5h0M53.9 660.5h0M54.2 660.5h0M54.6 660.5h0M54.9 660.5h0M55.2 660.5h0M55.5 660.5h0M55.9 660.5h0M56.2 660.5h0M56.5 660.5h0M56.8 660.5h0M57.2 660.5h0M57.5 660.5h0M57.8 660.5h0M58.1 660.5h0M58.5 660.5h0M58.8 660.5h0M59.1 660.5h0M59.4 660.5h0M59.8 660.5h0M60.1 660.5h0M60.4 660.5h0M60.7 660.5h0M61.1 660.5h0M61.4 660.5h0M61.7 660.5h0M62.0 660.5h0M62.4 660.5h0M62.7 660.5h0M63.0 660.5h0M64.1 660.5h0M64.5 660.5h0M64.9 660.5h0M65.3 660.5h0M65.7 660.5h0M66.3 660.5h0M66.7 660.5h0M67.2 660.5h0M67.6 660.5h0M68.1 660.5h0M72.9 660.5h0M46.8 658.1h0M47.3 658.1h0M47.7 658.1h0M48.1 658.1h0M48.6 658.1h0M49.0 658.1h0M49.4 658.1h0M49.9 658.1h0M50.3 658.1h0M50.7 658.1h0M51.2 658.1h0M51.6 658.1h0M52.0 658.1h0M52.5 658.1h0M52.9 658.1h0M53.3 658.1h0M53.8 658.1h0M54.2 658.1h0M54.6 658.1h0M55.1 658.1h0M55.5 658.1h0M55.9 658.1h0M56.4 658.1h0M56.8 658.1h0M57.2 658.1h0M57.7 658.1h0M58.1 658.1h0M58.6 658.1h0M59.0 658.1h0M59.4 658.1h0M59.9 658.1h0M60.3 658.1h0M60.7 658.1h0M61.2 658.1h0M61.6 658.1h0M62.0 658.1h0M62.5 658.1h0M62.9 658.1h0M63.3 658.1h0M63.8 658.1h0M64.2 658.1h0M64.6 658.1h0M65.1 658.1h0M65.5 658.1h0M65.9 658.1h0M66.4 658.1h0M66.8 658.1h0M67.2 658.1h0M67.7 658.1h0M68.1 658.1h0M68.5 658.1h0M69.0 658.1h0M69.4 658.1h0M69.8 658.1h0M70.3 658.1h0M70.7 658.1h0M72.2 658.1h0M72.7 658.1h0M73.2 658.1h0M73.8 658.1h0M74.3 658.1h0M75.1 658.1h0M75.7 658.1h0M76.2 658.1h0M76.7 658.1h0M77.4 658.1h0M83.8 658.1h0M48.5 655.8h0M49.1 655.8h0M49.6 655.8h0M50.2 655.8h0M50.7 655.8h0M51.3 655.8h0M51.8 655.8h0M52.3 655.8h0M52.9 655.8h0M53.4 655.8h0M54.0 655.8h0M54.5 655.8h0M55.1 655.8h0M55.6 655.8h0M56.1 655.8h0M56.7 655.8h0M57.2 655.8h0M57.8 655.8h0M58.3 655.8h0M58.8 655.8h0M59.4 655.8h0M59.9 655.8h0M60.5 655.8h0M61.0 655.8h0M61.6 655.8h0M62.1 655.8h0M62.6 655.8h0M63.2 655.8h0M63.7 655.8h0M64.3 655.8h0M64.8 655.8h0M65.4 655.8h0M65.9 655.8h0M66.4 655.8h0M67.0 655.8h0M67.5 655.8h0M68.1 655.8h0M68.6 655.8h0M69.2 655.8h0M69.7 655.8h0M70.2 655.8h0M70.8 655.8h0M71.3 655.8h0M71.9 655.8h0M72.4 655.8h0M73.0 655.8h0M73.5 655.8h0M74.0 655.8h0M74.6 655.8h0M75.1 655.8h0M75.7 655.8h0M76.2 655.8h0M76.7 655.8h0M77.3 655.8h0M77.8 655.8h0M78.4 655.8h0M80.2 655.8h0M80.8 655.8h0M81.5 655.8h0M82.2 655.8h0M82.9 655.8h0M83.9 655.8h0M84.6 655.8h0M85.3 655.8h0M85.9 655.8h0M86.8 655.8h0M94.8 655.8h0M94.7 655.8h0M50.3 653.7h0M50.9 653.7h0M51.6 653.7h0M52.2 653.7h0M52.9 653.7h0M53.5 653.7h0M54.2 653.7h0M54.8 653.7h0M55.5 653.7h0M56.1 653.7h0M56.8 653.7h0M57.4 653.7h0M58.1 653.7h0M58.7 653.7h0M59.4 653.7h0M60.0 653.7h0M60.7 653.7h0M61.3 653.7h0M62.0 653.7h0M62.6 653.7h0M63.3 653.7h0M63.9 653.7h0M64.6 653.7h0M65.2 653.7h0M65.9 653.7h0M66.5 653.7h0M67.2 653.7h0M67.8 653.7h0M68.5 653.7h0M69.1 653.7h0M69.8 653.7h0M70.4 653.7h0M71.1 653.7h0M71.7 653.7h0M72.4 653.7h0M73.0 653.7h0M73.7 653.7h0M74.3 653.7h0M75.0 653.7h0M75.6 653.7h0M76.3 653.7h0M76.9 653.7h0M77.6 653.7h0M78.2 653.7h0M78.9 653.7h0M79.5 653.7h0M80.2 653.7h0M80.8 653.7h0M81.5 653.7h0M82.1 653.7h0M82.8 653.7h0M83.4 653.7h0M84.1 653.7h0M84.7 653.7h0M85.4 653.7h0M86.0 653.7h0M88.2 653.7h0M89.0 653.7h0M89.8 653.7h0M90.6 653.7h0M91.5 653.7h0M92.7 653.7h0M93.5 653.7h0M94.3 653.7h0M95.1 653.7h0M96.1 653.7h0M105.7 653.7h0M105.6 653.7h0M52.0 651.6h0M52.7 651.6h0M53.5 651.6h0M54.2 651.6h0M55.0 651.6h0M55.8 651.6h0M56.5 651.6h0M57.3 651.6h0M58.0 651.6h0M58.8 651.6h0M59.6 651.6h0M60.3 651.6h0M61.1 651.6h0M61.8 651.6h0M62.6 651.6h0M63.4 651.6h0M64.1 651.6h0M64.9 651.6h0M65.6 651.6h0M66.4 651.6h0M67.1 651.6h0M67.9 651.6h0M68.7 651.6h0M69.4 651.6h0M70.2 651.6h0M70.9 651.6h0M71.7 651.6h0M72.5 651.6h0M73.2 651.6h0M74.0 651.6h0M74.7 651.6h0M75.5 651.6h0M76.3 651.6h0M77.0 651.6h0M77.8 651.6h0M78.5 651.6h0M79.3 651.6h0M80.1 651.6h0M80.8 651.6h0M81.6 651.6h0M82.3 651.6h0M83.1 651.6h0M83.9 651.6h0M84.6 651.6h0M85.4 651.6h0M86.1 651.6h0M86.9 651.6h0M87.6 651.6h0M88.4 651.6h0M89.2 651.6h0M89.9 651.6h0M90.7 651.6h0M91.4 651.6h0M92.2 651.6h0M93.0 651.6h0M93.7 651.6h0M96.3 651.6h0M97.2 651.6h0M98.1 651.6h0M99.1 651.6h0M100.0 651.6h0M101.5 651.6h0M102.4 651.6h0M103.4 651.6h0M104.3 651.6h0M105.5 651.6h0M116.7 651.6h0M116.5 651.6h0M53.7 649.6h0M54.5 649.6h0M55.4 649.6h0M56.3 649.6h0M57.1 649.6h0M58.0 649.6h0M58.9 649.6h0M59.7 649.6h0M60.6 649.6h0M61.5 649.6h0M62.3 649.6h0M63.2 649.6h0M64.1 649.6h0M65.0 649.6h0M65.8 649.6h0M66.7 649.6h0M67.6 649.6h0M68.4 649.6h0M69.3 649.6h0M70.2 649.6h0M71.0 649.6h0M71.9 649.6h0M72.8 649.6h0M73.6 649.6h0M74.5 649.6h0M75.4 649.6h0M76.2 649.6h0M77.1 649.6h0M78.0 649.6h0M78.8 649.6h0M79.7 649.6h0M80.6 649.6h0M81.4 649.6h0M82.3 649.6h0M83.2 649.6h0M84.0 649.6h0M84.9 649.6h0M85.8 649.6h0M86.6 649.6h0M87.5 649.6h0M88.4 649.6h0M89.2 649.6h0M90.1 649.6h0M91.0 649.6h0M91.9 649.6h0M92.7 649.6h0M93.6 649.6h0M94.5 649.6h0M95.3 649.6h0M96.2 649.6h0M97.1 649.6h0M97.9 649.6h0M98.8 649.6h0M99.7 649.6h0M100.5 649.6h0M101.4 649.6h0M104.3 649.6h0M105.4 649.6h0M106.4 649.6h0M107.5 649.6h0M108.6 649.6h0M110.2 649.6h0M111.3 649.6h0M112.4 649.6h0M113.5 649.6h0M114.9 649.6h0M127.7 649.6h0M127.4 649.6h0M55.4 647.7h0M56.4 647.7h0M57.3 647.7h0M58.3 647.7h0M59.3 647.7h0M60.3 647.7h0M61.2 647.7h0M62.2 647.7h0M63.2 647.7h0M64.2 647.7h0M65.1 647.7h0M66.1 647.7h0M67.1 647.7h0M68.1 647.7h0M69.0 647.7h0M70.0 647.7h0M71.0 647.7h0M72.0 647.7h0M73.0 647.7h0M73.9 647.7h0M74.9 647.7h0M75.9 647.7h0M76.9 647.7h0M77.8 647.7h0M78.8 647.7h0M79.8 647.7h0M80.8 647.7h0M81.7 647.7h0M82.7 647.7h0M83.7 647.7h0M84.7 647.7h0M85.6 647.7h0M86.6 647.7h0M87.6 647.7h0M88.6 647.7h0M89.5 647.7h0M90.5 647.7h0M91.5 647.7h0M92.5 647.7h0M93.5 647.7h0M94.4 647.7h0M95.4 647.7h0M96.4 647.7h0M97.4 647.7h0M98.3 647.7h0M99.3 647.7h0M100.3 647.7h0M101.3 647.7h0M102.2 647.7h0M103.2 647.7h0M104.2 647.7h0M105.2 647.7h0M106.1 647.7h0M107.1 647.7h0M108.1 647.7h0M109.1 647.7h0M112.4 647.7h0M113.5 647.7h0M114.7 647.7h0M116.0 647.7h0M117.2 647.7h0M119.0 647.7h0M120.2 647.7h0M121.5 647.7h0M122.7 647.7h0M124.2 647.7h0M138.6 647.7h0M138.2 647.7h0M57.1 645.9h0M58.2 645.9h0M59.3 645.9h0M60.3 645.9h0M61.4 645.9h0M62.5 645.9h0M63.6 645.9h0M64.7 645.9h0M65.8 645.9h0M66.8 645.9h0M67.9 645.9h0M69.0 645.9h0M70.1 645.9h0M71.2 645.9h0M72.3 645.9h0M73.4 645.9h0M74.4 645.9h0M75.5 645.9h0M76.6 645.9h0M77.7 645.9h0M78.8 645.9h0M79.9 645.9h0M81.0 645.9h0M82.0 645.9h0M83.1 645.9h0M84.2 645.9h0M85.3 645.9h0M86.4 645.9h0M87.5 645.9h0M88.5 645.9h0M89.6 645.9h0M90.7 645.9h0M91.8 645.9h0M92.9 645.9h0M94.0 645.9h0M95.1 645.9h0M96.1 645.9h0M97.2 645.9h0M98.3 645.9h0M99.4 645.9h0M100.5 645.9h0M101.6 645.9h0M102.6 645.9h0M103.7 645.9h0M104.8 645.9h0M105.9 645.9h0M107.0 645.9h0M108.1 645.9h0M109.2 645.9h0M110.2 645.9h0M111.3 645.9h0M112.4 645.9h0M113.5 645.9h0M114.6 645.9h0M115.7 645.9h0M116.7 645.9h0M120.4 645.9h0M121.7 645.9h0M123.1 645.9h0M124.4 645.9h0M125.8 645.9h0M127.8 645.9h0M129.2 645.9h0M130.5 645.9h0M131.9 645.9h0M133.6 645.9h0M149.6 645.9h0M149.1 645.9h0M58.8 644.0h0M60.0 644.0h0M61.2 644.0h0M62.4 644.0h0M63.6 644.0h0M64.8 644.0h0M66.0 644.0h0M67.1 644.0h0M68.3 644.0h0M69.5 644.0h0M70.7 644.0h0M71.9 644.0h0M73.1 644.0h0M74.3 644.0h0M75.5 644.0h0M76.7 644.0h0M77.9 644.0h0M79.1 644.0h0M80.3 644.0h0M81.5 644.0h0M82.7 644.0h0M83.9 644.0h0M85.0 644.0h0M86.2 644.0h0M87.4 644.0h0M88.6 644.0h0M89.8 644.0h0M91.0 644.0h0M92.2 644.0h0M93.4 644.0h0M94.6 644.0h0M95.8 644.0h0M97.0 644.0h0M98.2 644.0h0M99.4 644.0h0M100.6 644.0h0M101.8 644.0h0M102.9 644.0h0M104.1 644.0h0M105.3 644.0h0M106.5 644.0h0M107.7 644.0h0M108.9 644.0h0M110.1 644.0h0M111.3 644.0h0M112.5 644.0h0M113.7 644.0h0M114.9 644.0h0M116.1 644.0h0M117.3 644.0h0M118.5 644.0h0M119.7 644.0h0M120.8 644.0h0M122.0 644.0h0M123.2 644.0h0M124.4 644.0h0M128.5 644.0h0M129.9 644.0h0M131.4 644.0h0M132.9 644.0h0M134.3 644.0h0M136.6 644.0h0M138.1 644.0h0M139.6 644.0h0M141.1 644.0h0M142.9 644.0h0M160.5 644.0h0M159.8 644.0h0M60.5 642.3h0M61.8 642.3h0M63.1 642.3h0M64.4 642.3h0M65.7 642.3h0M67.0 642.3h0M68.3 642.3h0M69.6 642.3h0M70.9 642.3h0M72.2 642.3h0M73.5 642.3h0M74.8 642.3h0M76.1 642.3h0M77.4 642.3h0M78.7 642.3h0M80.0 642.3h0M81.3 642.3h0M82.6 642.3h0M83.9 642.3h0M85.2 642.3h0M86.5 642.3h0M87.8 642.3h0M89.1 642.3h0M90.4 642.3h0M91.7 642.3h0M93.0 642.3h0M94.3 642.3h0M95.7 642.3h0M97.0 642.3h0M98.3 642.3h0M99.6 642.3h0M100.9 642.3h0M102.2 642.3h0M103.5 642.3h0M104.8 642.3h0M106.1 642.3h0M107.4 642.3h0M108.7 642.3h0M110.0 642.3h0M111.3 642.3h0M112.6 642.3h0M113.9 642.3h0M115.2 642.3h0M116.5 642.3h0M117.8 642.3h0M119.1 642.3h0M120.4 642.3h0M121.7 642.3h0M123.0 642.3h0M124.3 642.3h0M125.6 642.3h0M126.9 642.3h0M128.2 642.3h0M129.5 642.3h0M130.8 642.3h0M132.1 642.3h0M136.5 642.3h0M138.0 642.3h0M139.7 642.3h0M141.3 642.3h0M142.9 642.3h0M145.4 642.3h0M147.0 642.3h0M148.6 642.3h0M150.2 642.3h0M152.3 642.3h0M171.5 642.3h0M170.6 642.3h0M62.2 640.5h0M63.6 640.5h0M65.0 640.5h0M66.4 640.5h0M67.9 640.5h0M69.3 640.5h0M70.7 640.5h0M72.1 640.5h0M73.5 640.5h0M74.9 640.5h0M76.3 640.5h0M77.7 640.5h0M79.1 640.5h0M80.5 640.5h0M82.0 640.5h0M83.4 640.5h0M84.8 640.5h0M86.2 640.5h0M87.6 640.5h0M89.0 640.5h0M90.4 640.5h0M91.8 640.5h0M93.2 640.5h0M94.6 640.5h0M96.1 640.5h0M97.5 640.5h0M98.9 640.5h0M100.3 640.5h0M101.7 640.5h0M103.1 640.5h0M104.5 640.5h0M105.9 640.5h0M107.3 640.5h0M108.7 640.5h0M110.2 640.5h0M111.6 640.5h0M113.0 640.5h0M114.4 640.5h0M115.8 640.5h0M117.2 640.5h0M118.6 640.5h0M120.0 640.5h0M121.4 640.5h0M122.9 640.5h0M124.3 640.5h0M125.7 640.5h0M127.1 640.5h0M128.5 640.5h0M129.9 640.5h0M131.3 640.5h0M132.7 640.5h0M134.1 640.5h0M135.5 640.5h0M137.0 640.5h0M138.4 640.5h0M139.8 640.5h0M144.5 640.5h0M146.2 640.5h0M148.0 640.5h0M149.7 640.5h0M151.5 640.5h0M154.1 640.5h0M155.9 640.5h0M157.7 640.5h0M159.4 640.5h0M161.6 640.5h0M182.4 640.5h0M181.3 640.5h0M63.9 638.8h0M65.4 638.8h0M67.0 638.8h0M68.5 638.8h0M70.0 638.8h0M71.5 638.8h0M73.0 638.8h0M74.6 638.8h0M76.1 638.8h0M77.6 638.8h0M79.1 638.8h0M80.6 638.8h0M82.1 638.8h0M83.7 638.8h0M85.2 638.8h0M86.7 638.8h0M88.2 638.8h0M89.7 638.8h0M91.3 638.8h0M92.8 638.8h0M94.3 638.8h0M95.8 638.8h0M97.3 638.8h0M98.9 638.8h0M100.4 638.8h0M101.9 638.8h0M103.4 638.8h0M104.9 638.8h0M106.4 638.8h0M108.0 638.8h0M109.5 638.8h0M111.0 638.8h0M112.5 638.8h0M114.0 638.8h0M115.6 638.8h0M117.1 638.8h0M118.6 638.8h0M120.1 638.8h0M121.6 638.8h0M123.1 638.8h0M124.7 638.8h0M126.2 638.8h0M127.7 638.8h0M129.2 638.8h0M130.7 638.8h0M132.3 638.8h0M133.8 638.8h0M135.3 638.8h0M136.8 638.8h0M138.3 638.8h0M139.9 638.8h0M141.4 638.8h0M142.9 638.8h0M144.4 638.8h0M145.9 638.8h0M147.4 638.8h0M152.6 638.8h0M154.4 638.8h0M156.3 638.8h0M158.2 638.8h0M160.1 638.8h0M162.9 638.8h0M164.8 638.8h0M166.7 638.8h0M168.6 638.8h0M171.0 638.8h0M193.4 638.8h0M192.0 638.8h0M65.6 637.1h0M67.3 637.1h0M68.9 637.1h0M70.5 637.1h0M72.1 637.1h0M73.8 637.1h0M75.4 637.1h0M77.0 637.1h0M78.6 637.1h0M80.3 637.1h0M81.9 637.1h0M83.5 637.1h0M85.2 637.1h0M86.8 637.1h0M88.4 637.1h0M90.0 637.1h0M91.7 637.1h0M93.3 637.1h0M94.9 637.1h0M96.5 637.1h0M98.2 637.1h0M99.8 637.1h0M101.4 637.1h0M103.1 637.1h0M104.7 637.1h0M106.3 637.1h0M107.9 637.1h0M109.6 637.1h0M111.2 637.1h0M112.8 637.1h0M114.4 637.1h0M116.1 637.1h0M117.7 637.1h0M119.3 637.1h0M121.0 637.1h0M122.6 637.1h0M124.2 637.1h0M125.8 637.1h0M127.5 637.1h0M129.1 637.1h0M130.7 637.1h0M132.3 637.1h0M134.0 637.1h0M135.6 637.1h0M137.2 637.1h0M138.9 637.1h0M140.5 637.1h0M142.1 637.1h0M143.7 637.1h0M145.4 637.1h0M147.0 637.1h0M148.6 637.1h0M150.2 637.1h0M151.9 637.1h0M153.5 637.1h0M155.1 637.1h0M160.6 637.1h0M162.5 637.1h0M164.6 637.1h0M166.6 637.1h0M168.7 637.1h0M171.7 637.1h0M173.7 637.1h0M175.8 637.1h0M177.8 637.1h0M180.3 637.1h0M204.3 637.1h0M202.6 637.1h0M67.3 635.5h0M69.1 635.5h0M70.8 635.5h0M72.5 635.5h0M74.3 635.5h0M76.0 635.5h0M77.8 635.5h0M79.5 635.5h0M81.2 635.5h0M83.0 635.5h0M84.7 635.5h0M86.4 635.5h0M88.2 635.5h0M89.9 635.5h0M91.6 635.5h0M93.4 635.5h0M95.1 635.5h0M96.8 635.5h0M98.6 635.5h0M100.3 635.5h0M102.1 635.5h0M103.8 635.5h0M105.5 635.5h0M107.3 635.5h0M109.0 635.5h0M110.7 635.5h0M112.5 635.5h0M114.2 635.5h0M115.9 635.5h0M117.7 635.5h0M119.4 635.5h0M121.1 635.5h0M122.9 635.5h0M124.6 635.5h0M126.4 635.5h0M128.1 635.5h0M129.8 635.5h0M131.6 635.5h0M133.3 635.5h0M135.0 635.5h0M136.8 635.5h0M138.5 635.5h0M140.2 635.5h0M142.0 635.5h0M143.7 635.5h0M145.4 635.5h0M147.2 635.5h0M148.9 635.5h0M150.6 635.5h0M152.4 635.5h0M154.1 635.5h0M155.9 635.5h0M157.6 635.5h0M159.3 635.5h0M161.1 635.5h0M162.8 635.5h0M168.7 635.5h0M170.7 635.5h0M172.9 635.5h0M175.1 635.5h0M177.2 635.5h0M180.5 635.5h0M182.7 635.5h0M184.8 635.5h0M187.0 635.5h0M189.7 635.5h0M215.3 635.5h0M213.2 635.5h0M69.0 633.9h0M70.9 633.9h0M72.7 633.9h0M74.6 633.9h0M76.4 633.9h0M78.3 633.9h0M80.1 633.9h0M82.0 633.9h0M83.8 633.9h0M85.6 633.9h0M87.5 633.9h0M89.3 633.9h0M91.2 633.9h0M93.0 633.9h0M94.9 633.9h0M96.7 633.9h0M98.6 633.9h0M100.4 633.9h0M102.2 633.9h0M104.1 633.9h0M105.9 633.9h0M107.8 633.9h0M109.6 633.9h0M111.5 633.9h0M113.3 633.9h0M115.1 633.9h0M117.0 633.9h0M118.8 633.9h0M120.7 633.9h0M122.5 633.9h0M124.4 633.9h0M126.2 633.9h0M128.1 633.9h0M129.9 633.9h0M131.7 633.9h0M133.6 633.9h0M135.4 633.9h0M137.3 633.9h0M139.1 633.9h0M141.0 633.9h0M142.8 633.9h0M144.7 633.9h0M146.5 633.9h0M148.3 633.9h0M150.2 633.9h0M152.0 633.9h0M153.9 633.9h0M155.7 633.9h0M157.6 633.9h0M159.4 633.9h0M161.3 633.9h0M163.1 633.9h0M164.9 633.9h0M166.8 633.9h0M168.6 633.9h0M170.5 633.9h0M176.7 633.9h0M178.9 633.9h0M181.2 633.9h0M183.5 633.9h0M185.8 633.9h0M189.3 633.9h0M191.6 633.9h0M193.9 633.9h0M196.2 633.9h0M199.1 633.9h0M226.3 633.9h0M223.8 633.9h0M70.8 632.3h0M72.7 632.3h0M74.7 632.3h0M76.6 632.3h0M78.6 632.3h0M80.5 632.3h0M82.5 632.3h0M84.4 632.3h0M86.4 632.3h0M88.3 632.3h0M90.3 632.3h0M92.2 632.3h0M94.2 632.3h0M96.1 632.3h0M98.1 632.3h0M100.0 632.3h0M102.0 632.3h0M103.9 632.3h0M105.9 632.3h0M107.9 632.3h0M109.8 632.3h0M111.8 632.3h0M113.7 632.3h0M115.7 632.3h0M117.6 632.3h0M119.6 632.3h0M121.5 632.3h0M123.5 632.3h0M125.4 632.3h0M127.4 632.3h0M129.3 632.3h0M131.3 632.3h0M133.2 632.3h0M135.2 632.3h0M137.1 632.3h0M139.1 632.3h0M141.0 632.3h0M143.0 632.3h0M145.0 632.3h0M146.9 632.3h0M148.9 632.3h0M150.8 632.3h0M152.8 632.3h0M154.7 632.3h0M156.7 632.3h0M158.6 632.3h0M160.6 632.3h0M162.5 632.3h0M164.5 632.3h0M166.4 632.3h0M168.4 632.3h0M170.3 632.3h0M172.3 632.3h0M174.2 632.3h0M176.2 632.3h0M178.1 632.3h0M184.7 632.3h0M187.1 632.3h0M189.5 632.3h0M191.9 632.3h0M194.4 632.3h0M198.0 632.3h0M200.5 632.3h0M202.9 632.3h0M205.4 632.3h0M208.4 632.3h0M237.2 632.3h0M234.2 632.3h0M72.5 630.7h0M74.5 630.7h0M76.6 630.7h0M78.6 630.7h0M80.7 630.7h0M82.8 630.7h0M84.8 630.7h0M86.9 630.7h0M89.0 630.7h0M91.0 630.7h0M93.1 630.7h0M95.1 630.7h0M97.2 630.7h0M99.3 630.7h0M101.3 630.7h0M103.4 630.7h0M105.4 630.7h0M107.5 630.7h0M109.6 630.7h0M111.6 630.7h0M113.7 630.7h0M115.7 630.7h0M117.8 630.7h0M119.9 630.7h0M121.9 630.7h0M124.0 630.7h0M126.1 630.7h0M128.1 630.7h0M130.2 630.7h0M132.2 630.7h0M134.3 630.7h0M136.4 630.7h0M138.4 630.7h0M140.5 630.7h0M142.5 630.7h0M144.6 630.7h0M146.7 630.7h0M148.7 630.7h0M150.8 630.7h0M152.8 630.7h0M154.9 630.7h0M157.0 630.7h0M159.0 630.7h0M161.1 630.7h0M163.2 630.7h0M165.2 630.7h0M167.3 630.7h0M169.3 630.7h0M171.4 630.7h0M173.5 630.7h0M175.5 630.7h0M177.6 630.7h0M179.6 630.7h0M181.7 630.7h0M183.8 630.7h0M185.8 630.7h0M192.8 630.7h0M195.2 630.7h0M197.8 630.7h0M200.4 630.7h0M203.0 630.7h0M206.8 630.7h0M209.4 630.7h0M212.0 630.7h0M214.6 630.7h0M217.8 630.7h0M248.2 630.7h0M244.7 630.7h0M74.2 629.1h0M76.3 629.1h0M78.5 629.1h0M80.7 629.1h0M82.8 629.1h0M85.0 629.1h0M87.2 629.1h0M89.4 629.1h0M91.5 629.1h0M93.7 629.1h0M95.9 629.1h0M98.0 629.1h0M100.2 629.1h0M102.4 629.1h0M104.5 629.1h0M106.7 629.1h0M108.9 629.1h0M111.1 629.1h0M113.2 629.1h0M115.4 629.1h0M117.6 629.1h0M119.7 629.1h0M121.9 629.1h0M124.1 629.1h0M126.2 629.1h0M128.4 629.1h0M130.6 629.1h0M132.8 629.1h0M134.9 629.1h0M137.1 629.1h0M139.3 629.1h0M141.4 629.1h0M143.6 629.1h0M145.8 629.1h0M147.9 629.1h0M150.1 629.1h0M152.3 629.1h0M154.4 629.1h0M156.6 629.1h0M158.8 629.1h0M161.0 629.1h0M163.1 629.1h0M165.3 629.1h0M167.5 629.1h0M169.6 629.1h0M171.8 629.1h0M174.0 629.1h0M176.1 629.1h0M178.3 629.1h0M180.5 629.1h0M182.7 629.1h0M184.8 629.1h0M187.0 629.1h0M189.2 629.1h0M191.3 629.1h0M193.5 629.1h0M200.8 629.1h0M203.4 629.1h0M206.1 629.1h0M208.8 629.1h0M211.5 629.1h0M215.6 629.1h0M218.3 629.1h0M221.0 629.1h0M223.7 629.1h0M227.1 629.1h0M259.1 629.1h0M255.1 629.1h0M75.9 627.6h0M78.2 627.6h0M80.4 627.6h0M82.7 627.6h0M85.0 627.6h0M87.3 627.6h0M89.5 627.6h0M91.8 627.6h0M94.1 627.6h0M96.4 627.6h0M98.7 627.6h0M100.9 627.6h0M103.2 627.6h0M105.5 627.6h0M107.8 627.6h0M110.1 627.6h0M112.3 627.6h0M114.6 627.6h0M116.9 627.6h0M119.2 627.6h0M121.4 627.6h0M123.7 627.6h0M126.0 627.6h0M128.3 627.6h0M130.6 627.6h0M132.8 627.6h0M135.1 627.6h0M137.4 627.6h0M139.7 627.6h0M141.9 627.6h0M144.2 627.6h0M146.5 627.6h0M148.8 627.6h0M151.1 627.6h0M153.3 627.6h0M155.6 627.6h0M157.9 627.6h0M160.2 627.6h0M162.4 627.6h0M164.7 627.6h0M167.0 627.6h0M169.3 627.6h0M171.6 627.6h0M173.8 627.6h0M176.1 627.6h0M178.4 627.6h0M180.7 627.6h0M182.9 627.6h0M185.2 627.6h0M187.5 627.6h0M189.8 627.6h0M192.1 627.6h0M194.3 627.6h0M196.6 627.6h0M198.9 627.6h0M201.2 627.6h0M208.9 627.6h0M211.6 627.6h0M214.4 627.6h0M217.3 627.6h0M220.1 627.6h0M224.4 627.6h0M227.2 627.6h0M230.1 627.6h0M232.9 627.6h0M236.5 627.6h0M270.1 627.6h0M265.4 627.6h0M77.6 626.1h0M80.0 626.1h0M82.4 626.1h0M84.7 626.1h0M87.1 626.1h0M89.5 626.1h0M91.9 626.1h0M94.3 626.1h0M96.7 626.1h0M99.1 626.1h0M101.5 626.1h0M103.8 626.1h0M106.2 626.1h0M108.6 626.1h0M111.0 626.1h0M113.4 626.1h0M115.8 626.1h0M118.2 626.1h0M120.5 626.1h0M122.9 626.1h0M125.3 626.1h0M127.7 626.1h0M130.1 626.1h0M132.5 626.1h0M134.9 626.1h0M137.3 626.1h0M139.6 626.1h0M142.0 626.1h0M144.4 626.1h0M146.8 626.1h0M149.2 626.1h0M151.6 626.1h0M154.0 626.1h0M156.3 626.1h0M158.7 626.1h0M161.1 626.1h0M163.5 626.1h0M165.9 626.1h0M168.3 626.1h0M170.7 626.1h0M173.1 626.1h0M175.4 626.1h0M177.8 626.1h0M180.2 626.1h0M182.6 626.1h0M185.0 626.1h0M187.4 626.1h0M189.8 626.1h0M192.1 626.1h0M194.5 626.1h0M196.9 626.1h0M199.3 626.1h0M201.7 626.1h0M204.1 626.1h0M206.5 626.1h0M208.8 626.1h0M216.9 626.1h0M219.7 626.1h0M222.7 626.1h0M225.7 626.1h0M228.7 626.1h0M233.2 626.1h0M236.1 626.1h0M239.1 626.1h0M242.1 626.1h0M245.8 626.1h0M281.0 626.1h0M275.6 626.1h0" stroke="#0000ff" stroke-width="5.4" stroke-linecap="round" fill="none"/>
<line x1="41.8" y1="656.5" x2="282.5" y2="615.3" stroke="#000" stroke-width="1.8"/>
<rect x="30.5" y="502.7" width="263.4" height="167.7" fill="none" stroke="#262626" stroke-width="1.3"/>
<text x="22.8" y="674.4" font-size="10" text-anchor="end" font-family="Liberation Sans, Arial, Helvetica, sans-serif" fill="#262626">0</text>
<text x="22.8" y="650.4" font-size="10" text-anchor="end" font-family="Liberation Sans, Arial, Helvetica, sans-serif" fill="#262626">1</text>
<text x="22.8" y="626.4" font-size="10" text-anchor="end" font-family="Liberation Sans, Arial, Helvetica, sans-serif" fill="#262626">2</text>
<text x="22.8" y="602.5" font-size="10" text-anchor="end" font-family="Liberation Sans, Arial, Helvetica, sans-serif" fill="#262626">3</text>
<text x="22.8" y="578.5" font-size="10" text-anchor="end" font-family="Liberation Sans, Arial, Helvetica, sans-serif" fill="#262626">4</text>
<text x="22.8" y="554.6" font-size="10" text-anchor="end" font-family="Liberation Sans, Arial, Helvetica, sans-serif" fill="#262626">5</text>
<text x="22.8" y="530.6" font-size="10" text-anchor="end" font-family="Liberation Sans, Arial, Helvetica, sans-serif" fill="#262626">6</text>
<text x="22.8" y="506.6" font-size="10" text-anchor="end" font-family="Liberation Sans, Arial, Helvetica, sans-serif" fill="#262626">7</text>
<text x="40.0" y="685.5" font-size="10" text-anchor="middle" font-family="Liberation Sans, Arial, Helvetica, sans-serif" fill="#262626">0.0</text>
<text x="73.9" y="685.5" font-size="10" text-anchor="middle" font-family="Liberation Sans, Arial, Helvetica, sans-serif" fill="#262626">0.5</text>
<text x="107.8" y="685.5" font-size="10" text-anchor="middle" font-family="Liberation Sans, Arial, Helvetica, sans-serif" fill="#262626">1.0</text>
<text x="141.7" y="685.5" font-size="10" text-anchor="middle" font-family="Liberation Sans, Arial, Helvetica, sans-serif" fill="#262626">1.5</text>
<text x="175.6" y="685.5" font-size="10" text-anchor="middle" font-family="Liberation Sans, Arial, Helvetica, sans-serif" fill="#262626">2.0</text>
<text x="209.5" y="685.5" font-size="10" text-anchor="middle" font-family="Liberation Sans, Arial, Helvetica, sans-serif" fill="#262626">2.5</text>
<text x="243.4" y="685.5" font-size="10" text-anchor="middle" font-family="Liberation Sans, Arial, Helvetica, sans-serif" fill="#262626">3.0</text>
<text x="277.3" y="685.5" font-size="10" text-anchor="middle" font-family="Liberation Sans, Arial, Helvetica, sans-serif" fill="#262626">3.5</text>
<text x="162.2" y="699.0" font-size="12.45" text-anchor="middle" font-family="Liberation Sans, Arial, Helvetica, sans-serif" fill="#262626">Experimental results (s)</text>
<text x="11.0" y="586.5" font-size="12.45" text-anchor="middle" font-family="Liberation Sans, Arial, Helvetica, sans-serif" fill="#262626" transform="rotate(-90 11.0 586.5)">Predicted results (s)</text>
<rect x="202.5" y="647.5" width="86.1" height="17.5" rx="2" fill="#fff" fill-opacity="0.8" stroke="#ccc" stroke-width="1"/>
<circle cx="217.2" cy="656.5" r="2.7" fill="#0000ff"/>
<text x="235.8" y="660.0" font-size="10.25" text-anchor="start" font-family="Liberation Sans, Arial, Helvetica, sans-serif" fill="#262626">R<tspan font-size="13" dy="0.4" dx="-0.2">²</tspan><tspan dy="-0.4" dx="-0.4"> = 0.591</tspan></text>
</g>
<g>
<path d="M402.1 669.1h0M402.2 669.1h0M402.3 669.1h0M402.4 669.1h0M402.5 669.1h0M402.7 669.1h0M402.8 669.1h0M402.9 669.1h0M403.0 669.1h0M403.1 669.1h0M403.2 669.1h0M403.3 669.1h0M403.4 669.1h0M403.5 669.1h0M403.6 669.1h0M403.7 669.1h0M403.9 669.1h0M404.0 669.1h0M404.1 669.1h0M404.2 669.1h0M404.3 669.1h0M404.4 669.1h0M404.5 669.1h0M404.6 669.1h0M404.7 669.1h0M404.8 669.1h0M404.9 669.1h0M405.1 669.1h0M405.2 669.1h0M405.3 669.1h0M405.4 669.1h0M405.5 669.1h0M405.6 669.1h0M405.7 669.1h0M405.8 669.1h0M405.9 669.1h0M406.0 669.1h0M406.1 669.1h0M406.2 669.1h0M406.4 669.1h0M406.5 669.1h0M406.6 669.1h0M406.7 669.1h0M406.8 669.1h0M406.9 669.1h0M407.0 669.1h0M407.1 669.1h0M407.2 669.1h0M407.3 669.1h0M407.4 669.1h0M407.6 669.1h0M407.7 669.1h0M407.8 669.1h0M407.9 669.1h0M408.0 669.1h0M408.1 669.1h0M408.5 669.1h0M408.6 669.1h0M408.7 669.1h0M408.9 669.1h0M409.0 669.1h0M409.2 669.1h0M409.3 669.1h0M409.5 669.1h0M409.6 669.1h0M409.8 669.1h0M411.4 669.1h0M403.8 667.6h0M404.0 667.6h0M404.3 667.6h0M404.5 667.6h0M404.7 667.6h0M404.9 667.6h0M405.1 667.6h0M405.4 667.6h0M405.6 667.6h0M405.8 667.6h0M406.0 667.6h0M406.2 667.6h0M406.4 667.6h0M406.7 667.6h0M406.9 667.6h0M407.1 667.6h0M407.3 667.6h0M407.5 667.6h0M407.7 667.6h0M408.0 667.6h0M408.2 667.6h0M408.4 667.6h0M408.6 667.6h0M408.8 667.6h0M409.0 667.6h0M409.3 667.6h0M409.5 667.6h0M409.7 667.6h0M409.9 667.6h0M410.1 667.6h0M410.4 667.6h0M410.6 667.6h0M410.8 667.6h0M411.0 667.6h0M411.2 667.6h0M411.4 667.6h0M411.7 667.6h0M411.9 667.6h0M412.1 667.6h0M412.3 667.6h0M412.5 667.6h0M412.7 667.6h0M413.0 667.6h0M413.2 667.6h0M413.4 667.6h0M413.6 667.6h0M413.8 667.6h0M414.1 667.6h0M414.3 667.6h0M414.5 667.6h0M414.7 667.6h0M414.9 667.6h0M415.1 667.6h0M415.4 667.6h0M415.6 667.6h0M415.8 667.6h0M416.5 667.6h0M416.8 667.6h0M417.1 667.6h0M417.3 667.6h0M417.6 667.6h0M418.0 667.6h0M418.3 667.6h0M418.6 667.6h0M418.8 667.6h0M419.2 667.6h0M422.4 667.6h0M405.5 666.2h0M405.9 666.2h0M406.2 666.2h0M406.5 666.2h0M406.8 666.2h0M407.2 666.2h0M407.5 666.2h0M407.8 666.2h0M408.2 666.2h0M408.5 666.2h0M408.8 666.2h0M409.1 666.2h0M409.5 666.2h0M409.8 666.2h0M410.1 666.2h0M410.4 666.2h0M410.8 666.2h0M411.1 666.2h0M411.4 666.2h0M411.7 666.2h0M412.1 666.2h0M412.4 666.2h0M412.7 666.2h0M413.0 666.2h0M413.4 666.2h0M413.7 666.2h0M414.0 666.2h0M414.4 666.2h0M414.7 666.2h0M415.0 666.2h0M415.3 666.2h0M415.7 666.2h0M416.0 666.2h0M416.3 666.2h0M416.6 666.2h0M417.0 666.2h0M417.3 666.2h0M417.6 666.2h0M417.9 666.2h0M418.3 666.2h0M418.6 666.2h0M418.9 666.2h0M419.2 666.2h0M419.6 666.2h0M419.9 666.2h0M420.2 666.2h0M420.6 666.2h0M420.9 666.2h0M421.2 666.2h0M421.5 666.2h0M421.9 666.2h0M422.2 666.2h0M422.5 666.2h0M422.8 666.2h0M423.2 666.2h0M423.5 666.2h0M424.6 666.2h0M425.0 666.2h0M425.4 666.2h0M425.8 666.2h0M426.2 666.2h0M426.8 666.2h0M427.2 666.2h0M427.6 666.2h0M428.0 666.2h0M428.6 666.2h0M433.4 666.2h0M407.3 664.8h0M407.7 664.8h0M408.1 664.8h0M408.6 664.8h0M409.0 664.8h0M409.4 664.8h0M409.9 664.8h0M410.3 664.8h0M410.7 664.8h0M411.2 664.8h0M411.6 664.8h0M412.0 664.8h0M412.5 664.8h0M412.9 664.8h0M413.3 664.8h0M413.8 664.8h0M414.2 664.8h0M414.7 664.8h0M415.1 664.8h0M415.5 664.8h0M416.0 664.8h0M416.4 664.8h0M416.8 664.8h0M417.3 664.8h0M417.7 664.8h0M418.1 664.8h0M418.6 664.8h0M419.0 664.8h0M419.4 664.8h0M419.9 664.8h0M420.3 664.8h0M420.7 664.8h0M421.2 664.8h0M421.6 664.8h0M422.1 664.8h0M422.5 664.8h0M422.9 664.8h0M423.4 664.8h0M423.8 664.8h0M424.2 664.8h0M424.7 664.8h0M425.1 664.8h0M425.5 664.8h0M426.0 664.8h0M426.4 664.8h0M426.8 664.8h0M427.3 664.8h0M427.7 664.8h0M428.1 664.8h0M428.6 664.8h0M429.0 664.8h0M429.4 664.8h0M429.9 664.8h0M430.3 664.8h0M430.8 664.8h0M431.2 664.8h0M432.7 664.8h0M433.2 664.8h0M433.7 664.8h0M434.3 664.8h0M434.8 664.8h0M435.6 664.8h0M436.2 664.8h0M436.7 664.8h0M437.3 664.8h0M437.9 664.8h0M444.4 664.8h0M444.3 664.8h0M409.0 663.3h0M409.5 663.3h0M410.1 663.3h0M410.6 663.3h0M411.1 663.3h0M411.7 663.3h0M412.2 663.3h0M412.8 663.3h0M413.3 663.3h0M413.9 663.3h0M414.4 663.3h0M415.0 663.3h0M415.5 663.3h0M416.0 663.3h0M416.6 663.3h0M417.1 663.3h0M417.7 663.3h0M418.2 663.3h0M418.8 663.3h0M419.3 663.3h0M419.8 663.3h0M420.4 663.3h0M420.9 663.3h0M421.5 663.3h0M422.0 663.3h0M422.6 663.3h0M423.1 663.3h0M423.7 663.3h0M424.2 663.3h0M424.7 663.3h0M425.3 663.3h0M425.8 663.3h0M426.4 663.3h0M426.9 663.3h0M427.5 663.3h0M428.0 663.3h0M428.6 663.3h0M429.1 663.3h0M429.6 663.3h0M430.2 663.3h0M430.7 663.3h0M431.3 663.3h0M431.8 663.3h0M432.4 663.3h0M432.9 663.3h0M433.4 663.3h0M434.0 663.3h0M434.5 663.3h0M435.1 663.3h0M435.6 663.3h0M436.2 663.3h0M436.7 663.3h0M437.3 663.3h0M437.8 663.3h0M438.3 663.3h0M438.9 663.3h0M440.7 663.3h0M441.4 663.3h0M442.0 663.3h0M442.7 663.3h0M443.4 663.3h0M444.4 663.3h0M445.1 663.3h0M445.8 663.3h0M446.5 663.3h0M447.3 663.3h0M455.3 663.3h0M410.7 661.9h0M411.3 661.9h0M412.0 661.9h0M412.6 661.9h0M413.3 661.9h0M413.9 661.9h0M414.6 661.9h0M415.3 661.9h0M415.9 661.9h0M416.6 661.9h0M417.2 661.9h0M417.9 661.9h0M418.5 661.9h0M419.2 661.9h0M419.8 661.9h0M420.5 661.9h0M421.1 661.9h0M421.8 661.9h0M422.4 661.9h0M423.1 661.9h0M423.7 661.9h0M424.4 661.9h0M425.0 661.9h0M425.7 661.9h0M426.3 661.9h0M427.0 661.9h0M427.7 661.9h0M428.3 661.9h0M429.0 661.9h0M429.6 661.9h0M430.3 661.9h0M430.9 661.9h0M431.6 661.9h0M432.2 661.9h0M432.9 661.9h0M433.5 661.9h0M434.2 661.9h0M434.8 661.9h0M435.5 661.9h0M436.1 661.9h0M436.8 661.9h0M437.4 661.9h0M438.1 661.9h0M438.8 661.9h0M439.4 661.9h0M440.1 661.9h0M440.7 661.9h0M441.4 661.9h0M442.0 661.9h0M442.7 661.9h0M443.3 661.9h0M444.0 661.9h0M444.6 661.9h0M445.3 661.9h0M445.9 661.9h0M446.6 661.9h0M448.8 661.9h0M449.6 661.9h0M450.4 661.9h0M451.2 661.9h0M452.0 661.9h0M453.2 661.9h0M454.1 661.9h0M454.9 661.9h0M455.7 661.9h0M456.7 661.9h0M466.3 661.9h0M466.2 661.9h0M412.4 660.5h0M413.2 660.5h0M413.9 660.5h0M414.7 660.5h0M415.4 660.5h0M416.2 660.5h0M417.0 660.5h0M417.7 660.5h0M418.5 660.5h0M419.2 660.5h0M420.0 660.5h0M420.8 660.5h0M421.5 660.5h0M422.3 660.5h0M423.1 660.5h0M423.8 660.5h0M424.6 660.5h0M425.3 660.5h0M426.1 660.5h0M426.9 660.5h0M427.6 660.5h0M428.4 660.5h0M429.2 660.5h0M429.9 660.5h0M430.7 660.5h0M431.4 660.5h0M432.2 660.5h0M433.0 660.5h0M433.7 660.5h0M434.5 660.5h0M435.2 660.5h0M436.0 660.5h0M436.8 660.5h0M437.5 660.5h0M438.3 660.5h0M439.1 660.5h0M439.8 660.5h0M440.6 660.5h0M441.3 660.5h0M442.1 660.5h0M442.9 660.5h0M443.6 660.5h0M444.4 660.5h0M445.1 660.5h0M445.9 660.5h0M446.7 660.5h0M447.4 660.5h0M448.2 660.5h0M449.0 660.5h0M449.7 660.5h0M450.5 660.5h0M451.2 660.5h0M452.0 660.5h0M452.8 660.5h0M453.5 660.5h0M454.3 660.5h0M456.9 660.5h0M457.8 660.5h0M458.7 660.5h0M459.7 660.5h0M460.6 660.5h0M462.0 660.5h0M463.0 660.5h0M463.9 660.5h0M464.9 660.5h0M466.1 660.5h0M477.3 660.5h0M477.1 660.5h0M414.1 659.0h0M415.0 659.0h0M415.8 659.0h0M416.7 659.0h0M417.6 659.0h0M418.5 659.0h0M419.3 659.0h0M420.2 659.0h0M421.1 659.0h0M421.9 659.0h0M422.8 659.0h0M423.7 659.0h0M424.6 659.0h0M425.4 659.0h0M426.3 659.0h0M427.2 659.0h0M428.0 659.0h0M428.9 659.0h0M429.8 659.0h0M430.6 659.0h0M431.5 659.0h0M432.4 659.0h0M433.3 659.0h0M434.1 659.0h0M435.0 659.0h0M435.9 659.0h0M436.7 659.0h0M437.6 659.0h0M438.5 659.0h0M439.4 659.0h0M440.2 659.0h0M441.1 659.0h0M442.0 659.0h0M442.8 659.0h0M443.7 659.0h0M444.6 659.0h0M445.4 659.0h0M446.3 659.0h0M447.2 659.0h0M448.1 659.0h0M448.9 659.0h0M449.8 659.0h0M450.7 659.0h0M451.5 659.0h0M452.4 659.0h0M453.3 659.0h0M454.1 659.0h0M455.0 659.0h0M455.9 659.0h0M456.8 659.0h0M457.6 659.0h0M458.5 659.0h0M459.4 659.0h0M460.2 659.0h0M461.1 659.0h0M462.0 659.0h0M464.9 659.0h0M466.0 659.0h0M467.0 659.0h0M468.1 659.0h0M469.2 659.0h0M470.8 659.0h0M471.9 659.0h0M473.0 659.0h0M474.1 659.0h0M475.5 659.0h0M488.3 659.0h0M488.0 659.0h0M415.8 657.6h0M416.8 657.6h0M417.8 657.6h0M418.8 657.6h0M419.7 657.6h0M420.7 657.6h0M421.7 657.6h0M422.7 657.6h0M423.7 657.6h0M424.6 657.6h0M425.6 657.6h0M426.6 657.6h0M427.6 657.6h0M428.6 657.6h0M429.5 657.6h0M430.5 657.6h0M431.5 657.6h0M432.5 657.6h0M433.4 657.6h0M434.4 657.6h0M435.4 657.6h0M436.4 657.6h0M437.4 657.6h0M438.3 657.6h0M439.3 657.6h0M440.3 657.6h0M441.3 657.6h0M442.3 657.6h0M443.2 657.6h0M444.2 657.6h0M445.2 657.6h0M446.2 657.6h0M447.2 657.6h0M448.1 657.6h0M449.1 657.6h0M450.1 657.6h0M451.1 657.6h0M452.1 657.6h0M453.0 657.6h0M454.0 657.6h0M455.0 657.6h0M456.0 657.6h0M456.9 657.6h0M457.9 657.6h0M458.9 657.6h0M459.9 657.6h0M460.9 657.6h0M461.8 657.6h0M462.8 657.6h0M463.8 657.6h0M464.8 657.6h0M465.8 657.6h0M466.7 657.6h0M467.7 657.6h0M468.7 657.6h0M469.7 657.6h0M473.0 657.6h0M474.1 657.6h0M475.4 657.6h0M476.6 657.6h0M477.8 657.6h0M479.7 657.6h0M480.9 657.6h0M482.1 657.6h0M483.3 657.6h0M484.9 657.6h0M499.3 657.6h0M498.9 657.6h0M417.5 656.2h0M418.6 656.2h0M419.7 656.2h0M420.8 656.2h0M421.9 656.2h0M423.0 656.2h0M424.1 656.2h0M425.2 656.2h0M426.2 656.2h0M427.3 656.2h0M428.4 656.2h0M429.5 656.2h0M430.6 656.2h0M431.7 656.2h0M432.8 656.2h0M433.9 656.2h0M434.9 656.2h0M436.0 656.2h0M437.1 656.2h0M438.2 656.2h0M439.3 656.2h0M440.4 656.2h0M441.5 656.2h0M442.6 656.2h0M443.6 656.2h0M444.7 656.2h0M445.8 656.2h0M446.9 656.2h0M448.0 656.2h0M449.1 656.2h0M450.2 656.2h0M451.3 656.2h0M452.4 656.2h0M453.4 656.2h0M454.5 656.2h0M455.6 656.2h0M456.7 656.2h0M457.8 656.2h0M458.9 656.2h0M460.0 656.2h0M461.1 656.2h0M462.1 656.2h0M463.2 656.2h0M464.3 656.2h0M465.4 656.2h0M466.5 656.2h0M467.6 656.2h0M468.7 656.2h0M469.8 656.2h0M470.8 656.2h0M471.9 656.2h0M473.0 656.2h0M474.1 656.2h0M475.2 656.2h0M476.3 656.2h0M477.4 656.2h0M481.0 656.2h0M482.3 656.2h0M483.7 656.2h0M485.1 656.2h0M486.4 656.2h0M488.5 656.2h0M489.8 656.2h0M491.2 656.2h0M492.5 656.2h0M494.2 656.2h0M510.3 656.2h0M509.8 656.2h0M419.2 654.7h0M420.4 654.7h0M421.6 654.7h0M422.8 654.7h0M424.0 654.7h0M425.2 654.7h0M426.4 654.7h0M427.6 654.7h0M428.8 654.7h0M430.0 654.7h0M431.2 654.7h0M432.4 654.7h0M433.6 654.7h0M434.8 654.7h0M436.0 654.7h0M437.2 654.7h0M438.4 654.7h0M439.6 654.7h0M440.8 654.7h0M442.0 654.7h0M443.2 654.7h0M444.4 654.7h0M445.6 654.7h0M446.8 654.7h0M448.0 654.7h0M449.2 654.7h0M450.4 654.7h0M451.6 654.7h0M452.8 654.7h0M454.0 654.7h0M455.2 654.7h0M456.4 654.7h0M457.5 654.7h0M458.7 654.7h0M459.9 654.7h0M461.1 654.7h0M462.3 654.7h0M463.5 654.7h0M464.7 654.7h0M465.9 654.7h0M467.1 654.7h0M468.3 654.7h0M469.5 654.7h0M470.7 654.7h0M471.9 654.7h0M473.1 654.7h0M474.3 654.7h0M475.5 654.7h0M476.7 654.7h0M477.9 654.7h0M479.1 654.7h0M480.3 654.7h0M481.5 654.7h0M482.7 654.7h0M483.9 654.7h0M485.1 654.7h0M489.1 654.7h0M490.5 654.7h0M492.0 654.7h0M493.5 654.7h0M495.0 654.7h0M497.3 654.7h0M498.8 654.7h0M500.3 654.7h0M501.8 654.7h0M503.6 654.7h0M521.3 654.7h0M520.6 654.7h0M421.0 653.3h0M422.3 653.3h0M423.6 653.3h0M424.9 653.3h0M426.2 653.3h0M427.5 653.3h0M428.8 653.3h0M430.1 653.3h0M431.4 653.3h0M432.7 653.3h0M434.0 653.3h0M435.3 653.3h0M436.6 653.3h0M437.9 653.3h0M439.2 653.3h0M440.5 653.3h0M441.9 653.3h0M443.2 653.3h0M444.5 653.3h0M445.8 653.3h0M447.1 653.3h0M448.4 653.3h0M449.7 653.3h0M451.0 653.3h0M452.3 653.3h0M453.6 653.3h0M454.9 653.3h0M456.2 653.3h0M457.5 653.3h0M458.8 653.3h0M460.1 653.3h0M461.4 653.3h0M462.7 653.3h0M464.0 653.3h0M465.4 653.3h0M466.7 653.3h0M468.0 653.3h0M469.3 653.3h0M470.6 653.3h0M471.9 653.3h0M473.2 653.3h0M474.5 653.3h0M475.8 653.3h0M477.1 653.3h0M478.4 653.3h0M479.7 653.3h0M481.0 653.3h0M482.3 653.3h0M483.6 653.3h0M484.9 653.3h0M486.2 653.3h0M487.5 653.3h0M488.9 653.3h0M490.2 653.3h0M491.5 653.3h0M492.8 653.3h0M497.2 653.3h0M498.7 653.3h0M500.4 653.3h0M502.0 653.3h0M503.6 653.3h0M506.1 653.3h0M507.7 653.3h0M509.3 653.3h0M511.0 653.3h0M513.0 653.3h0M532.3 653.3h0M531.4 653.3h0M422.7 651.9h0M424.1 651.9h0M425.5 651.9h0M426.9 651.9h0M428.3 651.9h0M429.7 651.9h0M431.2 651.9h0M432.6 651.9h0M434.0 651.9h0M435.4 651.9h0M436.8 651.9h0M438.2 651.9h0M439.6 651.9h0M441.1 651.9h0M442.5 651.9h0M443.9 651.9h0M445.3 651.9h0M446.7 651.9h0M448.1 651.9h0M449.6 651.9h0M451.0 651.9h0M452.4 651.9h0M453.8 651.9h0M455.2 651.9h0M456.6 651.9h0M458.0 651.9h0M459.5 651.9h0M460.9 651.9h0M462.3 651.9h0M463.7 651.9h0M465.1 651.9h0M466.5 651.9h0M467.9 651.9h0M469.4 651.9h0M470.8 651.9h0M472.2 651.9h0M473.6 651.9h0M475.0 651.9h0M476.4 651.9h0M477.8 651.9h0M479.3 651.9h0M480.7 651.9h0M482.1 651.9h0M483.5 651.9h0M484.9 651.9h0M486.3 651.9h0M487.7 651.9h0M489.2 651.9h0M490.6 651.9h0M492.0 651.9h0M493.4 651.9h0M494.8 651.9h0M496.2 651.9h0M497.6 651.9h0M499.1 651.9h0M500.5 651.9h0M505.2 651.9h0M506.9 651.9h0M508.7 651.9h0M510.5 651.9h0M512.2 651.9h0M514.9 651.9h0M516.6 651.9h0M518.4 651.9h0M520.2 651.9h0M522.4 651.9h0M543.3 651.9h0M542.1 651.9h0M424.4 650.5h0M425.9 650.5h0M427.4 650.5h0M429.0 650.5h0M430.5 650.5h0M432.0 650.5h0M433.5 650.5h0M435.1 650.5h0M436.6 650.5h0M438.1 650.5h0M439.6 650.5h0M441.1 650.5h0M442.7 650.5h0M444.2 650.5h0M445.7 650.5h0M447.2 650.5h0M448.8 650.5h0M450.3 650.5h0M451.8 650.5h0M453.3 650.5h0M454.9 650.5h0M456.4 650.5h0M457.9 650.5h0M459.4 650.5h0M460.9 650.5h0M462.5 650.5h0M464.0 650.5h0M465.5 650.5h0M467.0 650.5h0M468.6 650.5h0M470.1 650.5h0M471.6 650.5h0M473.1 650.5h0M474.7 650.5h0M476.2 650.5h0M477.7 650.5h0M479.2 650.5h0M480.7 650.5h0M482.3 650.5h0M483.8 650.5h0M485.3 650.5h0M486.8 650.5h0M488.4 650.5h0M489.9 650.5h0M491.4 650.5h0M492.9 650.5h0M494.5 650.5h0M496.0 650.5h0M497.5 650.5h0M499.0 650.5h0M500.6 650.5h0M502.1 650.5h0M503.6 650.5h0M505.1 650.5h0M506.6 650.5h0M508.2 650.5h0M513.3 650.5h0M515.1 650.5h0M517.0 650.5h0M518.9 650.5h0M520.8 650.5h0M523.7 650.5h0M525.6 650.5h0M527.5 650.5h0M529.4 650.5h0M531.8 650.5h0M554.2 650.5h0M552.8 650.5h0M426.1 649.0h0M427.7 649.0h0M429.4 649.0h0M431.0 649.0h0M432.6 649.0h0M434.3 649.0h0M435.9 649.0h0M437.5 649.0h0M439.2 649.0h0M440.8 649.0h0M442.4 649.0h0M444.1 649.0h0M445.7 649.0h0M447.3 649.0h0M449.0 649.0h0M450.6 649.0h0M452.2 649.0h0M453.8 649.0h0M455.5 649.0h0M457.1 649.0h0M458.7 649.0h0M460.4 649.0h0M462.0 649.0h0M463.6 649.0h0M465.3 649.0h0M466.9 649.0h0M468.5 649.0h0M470.2 649.0h0M471.8 649.0h0M473.4 649.0h0M475.1 649.0h0M476.7 649.0h0M478.3 649.0h0M480.0 649.0h0M481.6 649.0h0M483.2 649.0h0M484.9 649.0h0M486.5 649.0h0M488.1 649.0h0M489.8 649.0h0M491.4 649.0h0M493.0 649.0h0M494.6 649.0h0M496.3 649.0h0M497.9 649.0h0M499.5 649.0h0M501.2 649.0h0M502.8 649.0h0M504.4 649.0h0M506.1 649.0h0M507.7 649.0h0M509.3 649.0h0M511.0 649.0h0M512.6 649.0h0M514.2 649.0h0M515.9 649.0h0M521.4 649.0h0M523.3 649.0h0M525.3 649.0h0M527.4 649.0h0M529.4 649.0h0M532.5 649.0h0M534.5 649.0h0M536.6 649.0h0M538.6 649.0h0M541.2 649.0h0M565.2 649.0h0M563.5 649.0h0M427.8 647.6h0M429.6 647.6h0M431.3 647.6h0M433.0 647.6h0M434.8 647.6h0M436.5 647.6h0M438.3 647.6h0M440.0 647.6h0M441.7 647.6h0M443.5 647.6h0M445.2 647.6h0M447.0 647.6h0M448.7 647.6h0M450.4 647.6h0M452.2 647.6h0M453.9 647.6h0M455.7 647.6h0M457.4 647.6h0M459.2 647.6h0M460.9 647.6h0M462.6 647.6h0M464.4 647.6h0M466.1 647.6h0M467.9 647.6h0M469.6 647.6h0M471.3 647.6h0M473.1 647.6h0M474.8 647.6h0M476.6 647.6h0M478.3 647.6h0M480.0 647.6h0M481.8 647.6h0M483.5 647.6h0M485.3 647.6h0M487.0 647.6h0M488.7 647.6h0M490.5 647.6h0M492.2 647.6h0M494.0 647.6h0M495.7 647.6h0M497.4 647.6h0M499.2 647.6h0M500.9 647.6h0M502.7 647.6h0M504.4 647.6h0M506.2 647.6h0M507.9 647.6h0M509.6 647.6h0M511.4 647.6h0M513.1 647.6h0M514.9 647.6h0M516.6 647.6h0M518.3 647.6h0M520.1 647.6h0M521.8 647.6h0M523.6 647.6h0M529.4 647.6h0M531.5 647.6h0M533.7 647.6h0M535.9 647.6h0M538.0 647.6h0M541.3 647.6h0M543.5 647.6h0M545.6 647.6h0M547.8 647.6h0M550.5 647.6h0M576.2 647.6h0M574.1 647.6h0M429.5 646.2h0M431.4 646.2h0M433.2 646.2h0M435.1 646.2h0M436.9 646.2h0M438.8 646.2h0M440.6 646.2h0M442.5 646.2h0M444.3 646.2h0M446.2 646.2h0M448.0 646.2h0M449.9 646.2h0M451.7 646.2h0M453.6 646.2h0M455.4 646.2h0M457.3 646.2h0M459.1 646.2h0M461.0 646.2h0M462.8 646.2h0M464.7 646.2h0M466.5 646.2h0M468.4 646.2h0M470.2 646.2h0M472.1 646.2h0M473.9 646.2h0M475.8 646.2h0M477.6 646.2h0M479.5 646.2h0M481.3 646.2h0M483.2 646.2h0M485.0 646.2h0M486.9 646.2h0M488.7 646.2h0M490.6 646.2h0M492.4 646.2h0M494.3 646.2h0M496.1 646.2h0M498.0 646.2h0M499.8 646.2h0M501.7 646.2h0M503.5 646.2h0M505.4 646.2h0M507.2 646.2h0M509.1 646.2h0M510.9 646.2h0M512.8 646.2h0M514.6 646.2h0M516.5 646.2h0M518.3 646.2h0M520.2 646.2h0M522.0 646.2h0M523.9 646.2h0M525.7 646.2h0M527.6 646.2h0M529.4 646.2h0M531.3 646.2h0M537.5 646.2h0M539.7 646.2h0M542.0 646.2h0M544.3 646.2h0M546.6 646.2h0M550.1 646.2h0M552.4 646.2h0M554.7 646.2h0M557.0 646.2h0M559.9 646.2h0M587.2 646.2h0M584.7 646.2h0M431.2 644.7h0M433.2 644.7h0M435.2 644.7h0M437.1 644.7h0M439.1 644.7h0M441.0 644.7h0M443.0 644.7h0M445.0 644.7h0M446.9 644.7h0M448.9 644.7h0M450.8 644.7h0M452.8 644.7h0M454.7 644.7h0M456.7 644.7h0M458.7 644.7h0M460.6 644.7h0M462.6 644.7h0M464.5 644.7h0M466.5 644.7h0M468.5 644.7h0M470.4 644.7h0M472.4 644.7h0M474.3 644.7h0M476.3 644.7h0M478.2 644.7h0M480.2 644.7h0M482.2 644.7h0M484.1 644.7h0M486.1 644.7h0M488.0 644.7h0M490.0 644.7h0M492.0 644.7h0M493.9 644.7h0M495.9 644.7h0M497.8 644.7h0M499.8 644.7h0M501.7 644.7h0M503.7 644.7h0M505.7 644.7h0M507.6 644.7h0M509.6 644.7h0M511.5 644.7h0M513.5 644.7h0M515.5 644.7h0M517.4 644.7h0M519.4 644.7h0M521.3 644.7h0M523.3 644.7h0M525.2 644.7h0M527.2 644.7h0M529.2 644.7h0M531.1 644.7h0M533.1 644.7h0M535.0 644.7h0M537.0 644.7h0M539.0 644.7h0M545.6 644.7h0M547.9 644.7h0M550.3 644.7h0M552.8 644.7h0M555.2 644.7h0M558.9 644.7h0M561.4 644.7h0M563.8 644.7h0M566.3 644.7h0M569.3 644.7h0M598.2 644.7h0M595.2 644.7h0M433.0 643.3h0M435.0 643.3h0M437.1 643.3h0M439.2 643.3h0M441.2 643.3h0M443.3 643.3h0M445.4 643.3h0M447.4 643.3h0M449.5 643.3h0M451.6 643.3h0M453.6 643.3h0M455.7 643.3h0M457.8 643.3h0M459.8 643.3h0M461.9 643.3h0M464.0 643.3h0M466.0 643.3h0M468.1 643.3h0M470.2 643.3h0M472.2 643.3h0M474.3 643.3h0M476.4 643.3h0M478.4 643.3h0M480.5 643.3h0M482.6 643.3h0M484.6 643.3h0M486.7 643.3h0M488.8 643.3h0M490.8 643.3h0M492.9 643.3h0M495.0 643.3h0M497.0 643.3h0M499.1 643.3h0M501.2 643.3h0M503.2 643.3h0M505.3 643.3h0M507.4 643.3h0M509.4 643.3h0M511.5 643.3h0M513.6 643.3h0M515.6 643.3h0M517.7 643.3h0M519.8 643.3h0M521.8 643.3h0M523.9 643.3h0M526.0 643.3h0M528.0 643.3h0M530.1 643.3h0M532.2 643.3h0M534.3 643.3h0M536.3 643.3h0M538.4 643.3h0M540.5 643.3h0M542.5 643.3h0M544.6 643.3h0M546.7 643.3h0M553.6 643.3h0M556.1 643.3h0M558.7 643.3h0M561.3 643.3h0M563.8 643.3h0M567.7 643.3h0M570.3 643.3h0M572.9 643.3h0M575.5 643.3h0M578.7 643.3h0M609.2 643.3h0M605.7 643.3h0M434.7 641.9h0M436.8 641.9h0M439.0 641.9h0M441.2 641.9h0M443.4 641.9h0M445.6 641.9h0M447.7 641.9h0M449.9 641.9h0M452.1 641.9h0M454.3 641.9h0M456.4 641.9h0M458.6 641.9h0M460.8 641.9h0M463.0 641.9h0M465.1 641.9h0M467.3 641.9h0M469.5 641.9h0M471.7 641.9h0M473.8 641.9h0M476.0 641.9h0M478.2 641.9h0M480.4 641.9h0M482.5 641.9h0M484.7 641.9h0M486.9 641.9h0M489.1 641.9h0M491.2 641.9h0M493.4 641.9h0M495.6 641.9h0M497.8 641.9h0M500.0 641.9h0M502.1 641.9h0M504.3 641.9h0M506.5 641.9h0M508.7 641.9h0M510.8 641.9h0M513.0 641.9h0M515.2 641.9h0M517.4 641.9h0M519.5 641.9h0M521.7 641.9h0M523.9 641.9h0M526.1 641.9h0M528.2 641.9h0M530.4 641.9h0M532.6 641.9h0M534.8 641.9h0M536.9 641.9h0M539.1 641.9h0M541.3 641.9h0M543.5 641.9h0M545.6 641.9h0M547.8 641.9h0M550.0 641.9h0M552.2 641.9h0M554.4 641.9h0M561.7 641.9h0M564.3 641.9h0M567.0 641.9h0M569.7 641.9h0M572.4 641.9h0M576.5 641.9h0M579.2 641.9h0M582.0 641.9h0M584.7 641.9h0M588.1 641.9h0M620.2 641.9h0M616.1 641.9h0M436.4 640.4h0M438.7 640.4h0M441.0 640.4h0M443.2 640.4h0M445.5 640.4h0M447.8 640.4h0M450.1 640.4h0M452.4 640.4h0M454.7 640.4h0M456.9 640.4h0M459.2 640.4h0M461.5 640.4h0M463.8 640.4h0M466.1 640.4h0M468.4 640.4h0M470.7 640.4h0M472.9 640.4h0M475.2 640.4h0M477.5 640.4h0M479.8 640.4h0M482.1 640.4h0M484.4 640.4h0M486.7 640.4h0M488.9 640.4h0M491.2 640.4h0M493.5 640.4h0M495.8 640.4h0M498.1 640.4h0M500.4 640.4h0M502.6 640.4h0M504.9 640.4h0M507.2 640.4h0M509.5 640.4h0M511.8 640.4h0M514.1 640.4h0M516.4 640.4h0M518.6 640.4h0M520.9 640.4h0M523.2 640.4h0M525.5 640.4h0M527.8 640.4h0M530.1 640.4h0M532.3 640.4h0M534.6 640.4h0M536.9 640.4h0M539.2 640.4h0M541.5 640.4h0M543.8 640.4h0M546.1 640.4h0M548.3 640.4h0M550.6 640.4h0M552.9 640.4h0M555.2 640.4h0M557.5 640.4h0M559.8 640.4h0M562.0 640.4h0M569.8 640.4h0M572.5 640.4h0M575.3 640.4h0M578.2 640.4h0M581.0 640.4h0M585.3 640.4h0M588.2 640.4h0M591.0 640.4h0M593.9 640.4h0M597.5 640.4h0M631.2 640.4h0M626.4 640.4h0M438.1 639.0h0M440.5 639.0h0M442.9 639.0h0M445.3 639.0h0M447.7 639.0h0M450.1 639.0h0M452.5 639.0h0M454.9 639.0h0M457.2 639.0h0M459.6 639.0h0M462.0 639.0h0M464.4 639.0h0M466.8 639.0h0M469.2 639.0h0M471.6 639.0h0M474.0 639.0h0M476.4 639.0h0M478.8 639.0h0M481.2 639.0h0M483.6 639.0h0M486.0 639.0h0M488.4 639.0h0M490.8 639.0h0M493.2 639.0h0M495.5 639.0h0M497.9 639.0h0M500.3 639.0h0M502.7 639.0h0M505.1 639.0h0M507.5 639.0h0M509.9 639.0h0M512.3 639.0h0M514.7 639.0h0M517.1 639.0h0M519.5 639.0h0M521.9 639.0h0M524.3 639.0h0M526.7 639.0h0M529.1 639.0h0M531.4 639.0h0M533.8 639.0h0M536.2 639.0h0M538.6 639.0h0M541.0 639.0h0M543.4 639.0h0M545.8 639.0h0M548.2 639.0h0M550.6 639.0h0M553.0 639.0h0M555.4 639.0h0M557.8 639.0h0M560.2 639.0h0M562.6 639.0h0M565.0 639.0h0M567.4 639.0h0M569.7 639.0h0M577.8 639.0h0M580.7 639.0h0M583.7 639.0h0M586.7 639.0h0M589.6 639.0h0M594.1 639.0h0M597.1 639.0h0M600.1 639.0h0M603.1 639.0h0M606.8 639.0h0M642.2 639.0h0M636.7 639.0h0" stroke="#0000ff" stroke-width="5.4" stroke-linecap="round" fill="none"/>
<line x1="402.6" y1="665.1" x2="643.2" y2="632.0" stroke="#000" stroke-width="1.8"/>
<rect x="391.9" y="503.2" width="262.8" height="167.3" fill="none" stroke="#262626" stroke-width="1.3"/>
<text x="384.7" y="674.5" font-size="10" text-anchor="end" font-family="Liberation Sans, Arial, Helvetica, sans-serif" fill="#262626">0</text>
<text x="384.7" y="650.6" font-size="10" text-anchor="end" font-family="Liberation Sans, Arial, Helvetica, sans-serif" fill="#262626">1</text>
<text x="384.7" y="626.7" font-size="10" text-anchor="end" font-family="Liberation Sans, Arial, Helvetica, sans-serif" fill="#262626">2</text>
<text x="384.7" y="602.8" font-size="10" text-anchor="end" font-family="Liberation Sans, Arial, Helvetica, sans-serif" fill="#262626">3</text>
<text x="384.7" y="578.9" font-size="10" text-anchor="end" font-family="Liberation Sans, Arial, Helvetica, sans-serif" fill="#262626">4</text>
<text x="384.7" y="555.0" font-size="10" text-anchor="end" font-family="Liberation Sans, Arial, Helvetica, sans-serif" fill="#262626">5</text>
<text x="384.7" y="531.1" font-size="10" text-anchor="end" font-family="Liberation Sans, Arial, Helvetica, sans-serif" fill="#262626">6</text>
<text x="384.7" y="507.1" font-size="10" text-anchor="end" font-family="Liberation Sans, Arial, Helvetica, sans-serif" fill="#262626">7</text>
<text x="400.4" y="685.6" font-size="10" text-anchor="middle" font-family="Liberation Sans, Arial, Helvetica, sans-serif" fill="#262626">0.0</text>
<text x="434.4" y="685.6" font-size="10" text-anchor="middle" font-family="Liberation Sans, Arial, Helvetica, sans-serif" fill="#262626">0.5</text>
<text x="468.4" y="685.6" font-size="10" text-anchor="middle" font-family="Liberation Sans, Arial, Helvetica, sans-serif" fill="#262626">1.0</text>
<text x="502.4" y="685.6" font-size="10" text-anchor="middle" font-family="Liberation Sans, Arial, Helvetica, sans-serif" fill="#262626">1.5</text>
<text x="536.4" y="685.6" font-size="10" text-anchor="middle" font-family="Liberation Sans, Arial, Helvetica, sans-serif" fill="#262626">2.0</text>
<text x="570.4" y="685.6" font-size="10" text-anchor="middle" font-family="Liberation Sans, Arial, Helvetica, sans-serif" fill="#262626">2.5</text>
<text x="604.4" y="685.6" font-size="10" text-anchor="middle" font-family="Liberation Sans, Arial, Helvetica, sans-serif" fill="#262626">3.0</text>
<text x="638.4" y="685.6" font-size="10" text-anchor="middle" font-family="Liberation Sans, Arial, Helvetica, sans-serif" fill="#262626">3.5</text>
<text x="523.3" y="699.1" font-size="12.45" text-anchor="middle" font-family="Liberation Sans, Arial, Helvetica, sans-serif" fill="#262626">Experimental results (s)</text>
<text x="373.1" y="586.9" font-size="12.45" text-anchor="middle" font-family="Liberation Sans, Arial, Helvetica, sans-serif" fill="#262626" transform="rotate(-90 373.1 586.9)">Predicted results (s)</text>
<rect x="563.8" y="508.5" width="86.1" height="17.5" rx="2" fill="#fff" fill-opacity="0.8" stroke="#ccc" stroke-width="1"/>
<circle cx="578.5" cy="517.5" r="2.7" fill="#0000ff"/>
<text x="597.1" y="521.0" font-size="10.25" text-anchor="start" font-family="Liberation Sans, Arial, Helvetica, sans-serif" fill="#262626">R<tspan font-size="13" dy="0.4" dx="-0.2">²</tspan><tspan dy="-0.4" dx="-0.4"> = 0.598</tspan></text>
</g>
<text x="79.0" y="233.5" font-size="17.75" text-anchor="start" font-family="Liberation Serif, Times New Roman, Times, serif" fill="#000">(a) FEMA-450 [40]</text>
<text x="335.2" y="223.4" font-size="17.75" text-anchor="start" font-family="Liberation Serif, Times New Roman, Times, serif" fill="#000">(b) India [41], Egypt [42], Venezuela [43], Nepal</text>
<text x="445.7" y="245.3" font-size="17.75" text-anchor="start" font-family="Liberation Serif, Times New Roman, Times, serif" fill="#000">[44], [45], Ethiopia [46]</text>
<text x="93.6" y="470.7" font-size="17.75" text-anchor="start" font-family="Liberation Serif, Times New Roman, Times, serif" fill="#000">(c) Algeria [47]</text>
<text x="444.8" y="471.2" font-size="17.75" text-anchor="start" font-family="Liberation Serif, Times New Roman, Times, serif" fill="#000">(d) Colombia [48]</text>
<text x="105.3" y="720.0" font-size="17.75" text-anchor="start" font-family="Liberation Serif, Times New Roman, Times, serif" fill="#000">(e) Iran [49]</text>
<text x="460.9" y="720.0" font-size="17.75" text-anchor="start" font-family="Liberation Serif, Times New Roman, Times, serif" fill="#000">(f) Japan [50]</text>
</g>
</svg>
</body></html>
